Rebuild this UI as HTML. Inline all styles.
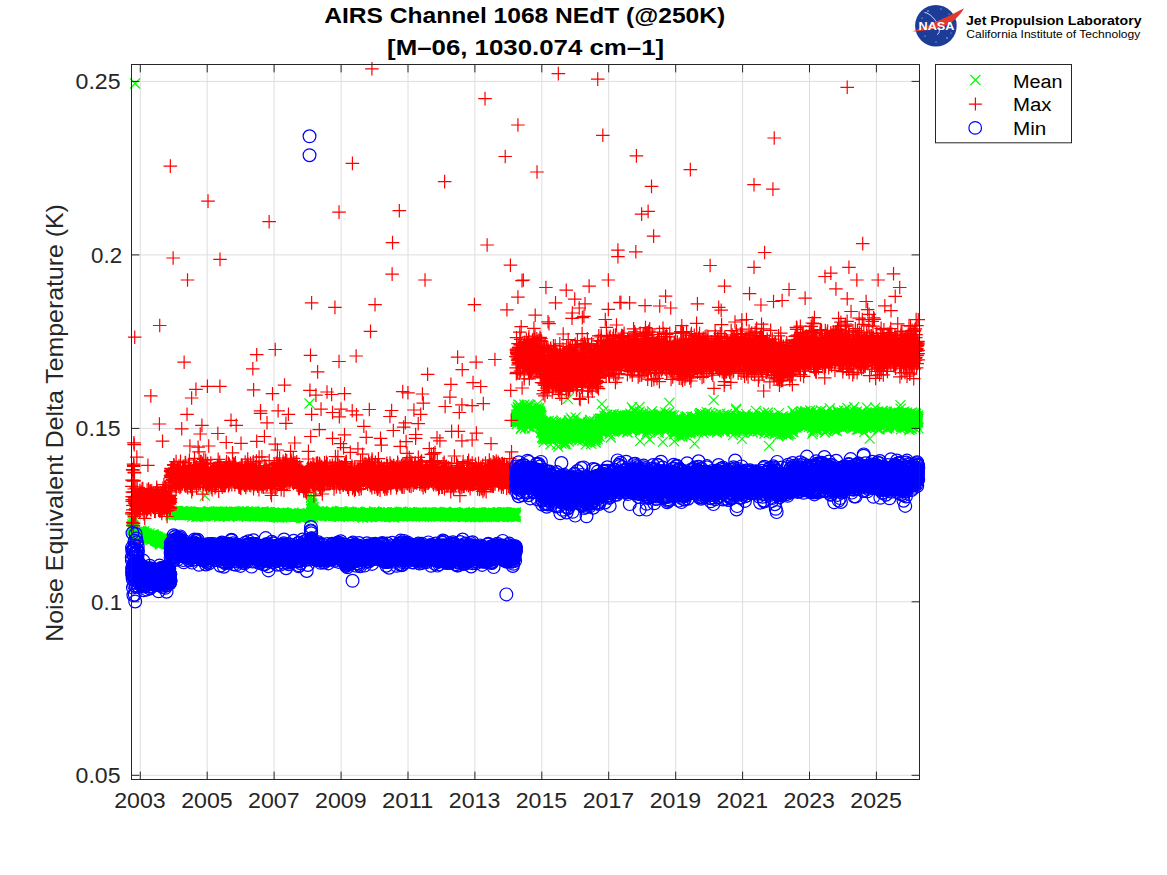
<!DOCTYPE html>
<html><head><meta charset="utf-8"><style>
html,body{margin:0;padding:0;background:#fff;}
body{width:1167px;height:875px;overflow:hidden;}
svg{display:block;font-family:"Liberation Sans",sans-serif;}
</style></head><body>
<svg width="1167" height="875" viewBox="0 0 1167 875">
<defs>
<marker id="mx" markerUnits="userSpaceOnUse" markerWidth="20" markerHeight="20" refX="10" refY="10" overflow="visible"><path d="M5 5L15 15M15 5L5 15" stroke="#00ff00" stroke-width="1.2" fill="none"/></marker>
<marker id="mp" markerUnits="userSpaceOnUse" markerWidth="20" markerHeight="20" refX="10" refY="10" overflow="visible"><path d="M3.2 10H16.8M10 3.2V16.8" stroke="#ff0000" stroke-width="1.2" fill="none"/></marker>
<marker id="mo" markerUnits="userSpaceOnUse" markerWidth="20" markerHeight="20" refX="10" refY="10" overflow="visible"><circle cx="10" cy="10" r="6.4" stroke="#0000ff" stroke-width="1.2" fill="none"/></marker>
</defs>
<rect width="1167" height="875" fill="#fff"/>
<path d="M140.3 64.5V779.5M207.2 64.5V779.5M274.1 64.5V779.5M341.1 64.5V779.5M408.0 64.5V779.5M474.9 64.5V779.5M541.8 64.5V779.5M608.7 64.5V779.5M675.7 64.5V779.5M742.6 64.5V779.5M809.5 64.5V779.5M876.4 64.5V779.5M131.5 775.3H919.5M131.5 601.8H919.5M131.5 428.4H919.5M131.5 254.9H919.5M131.5 81.4H919.5" stroke="#dedede" stroke-width="1" fill="none"/>
<path d="M131.8 529.1l.1-9.8 .1 19.2 .1-14.2 .1 2 .1 3.2 0-1.5 .1 9.2 .1-10.6 .1-7.5 .1 2.9 .1 16.7 .1-9.7 .1-9.3 .1 6.6 .1 2.9 .1-.7 .1 0 0-3.6 .1 7.9 .1 3.8 .1-3.1 .1 1.4 .1-1.2 .1 .4 .1-1.7 .1 2.6 .1-.3 .1 .3 .1-.6 0 1.2 .1-1.8 .1-.6 .1 .4 .1 .7 .1-2.5 .1 0 .1 3.5 .1-.3 .1-2.6 .1 1.5 .1-.4 0 .9 .1-1.6 .1 2.3 .1 .9 .1-2.6 .1 2 .1-.9 .1 .1 .1 .2 .1 2.9 .1-2.9 .1 .6 0-1.4 .1-1.8 .1 1.5 .1 1.5 .1-2.8 .1 1.9 .1-.3 .1-.1 .1-.3 .1 0 .1 1.3 .1-1 0 1.5 .1-1.3 .1-1.7 .1 2.4 .1 0 .1-.4 .1 1.1 .1-1.8 .1 1.5 .1-1.2 .1-.2 .1-2.4 0 3.6 .1-3.7 .1-.1 .1 2.4 .1-1.9 .1 .4 .1 0 .1 .1 .1 .8 .1 2.4 .1-2 .1 .8 0 1.4 .1-1.5 .1-.3 .1 3.6 .1-2.7 .1 .1 .1 2.3 .1-2.5 .1-1.9 .1 3.7 .1-1.7 .1 .1 0-4.1 .1 6.7 .1-.8 .1-3.2 .1-1.3 .1-.2 .1 .7 .1-.3 .1-.5 .1 3.2 .1-1.1 .1-1.5 0 .4 .1 .4 .1 1.4 .1-2 .1 0 .1 .7 .1 2.9 .1-3 .1-1 .1-.1 .1 1.1 .1 1.5 0 1.1 .1-.8 .1-2.4 .1 .8 .1-.5 .1 1.3 .1-1.1 .1 1.6 .1 0 .1-3.3 .1 2.5 .1 3.2 0-1.6 .1 .2 .1-1 .1-.2 .1 .4 .1-.3 .1 .4 .1 2.5 .1-3.4 .1 2.2 .1-1.4 0 1.1 .1-2.8 .1 2.9 .1 .5 .1 1 .1-1 .1-1.4 .1 .6 .1-1 .1 .8 .1 1.4 .1-.6 0-1.3 .1 1.2 .1 1.8 .1-4.6 .1 1.9 .1-.5 .1 2.3 .1-.5 .1-.5 .1 1.7 .1-.5 .1 .1 0-2.5 .1 3.4 .1-1.2 .1 2 .1-4 .1 1.6 .1 .6 .1 1.5 .1 .5 .1-.7 .1-1.4 .1 1.5 0-2.8 .1 2.7 .1-1.3 .1-1.5 .1 .9 .1 .8 .1 .2 .1-2.4 .1 1.1 .1-3.1 .1 3.3 .1 1.3 0-.5 .1-.3 .1-.5 .1-.5 .1 1.1 .1-1.3 .1 4.1 .1-2.1 .1-.1 .1-2.5 .1 2.1 .1-.6 0 .4 .1 .6 .1 .4 .1-1.8 .1 1 .1-1.9 .1 .4 .1-.1 .1 3.3 .1-1.8 .1 .6 .1 .6 0-1.5 .1-1.7 .1 3.5 .1-3.9 .1 2.5 .1-.4 .1-.9 .1 1.8 .1-1 .1 1.9 .1-.5 .1-2.2 0 .6 .1 .9 .1-1.1 .1 .5 .1-2.9 .1 2.4 .1 2.2 .1-1.5 .1-.4 .1-1.8 .1 3.7 .1-1.8 0 1.1 .1-2 .1 2.8 .1-.3 .1-.6 .1 1.8 .1-1 .1-1.1 .1-.8 .1 1 .1 2.2 .1 .3 0-.2 .1-3.7 .1 1.5 .1-.1 .1-.8 .1-.2 .1-.6 .1 4.4 .1-1.4 .1 1.4 .1-2.4 .1-1.6 0 2.6 .1 .1 .1-1.3 .1-.5 .1 1 .1 2.8 .1-2.4 .1-.5 .1 2.9 .1-2.5 .1-2.2 .1 1.6 0 .4 .1 1 .1-1 .1-1.2 .1 .4 .1 1.4 .1 1 .1 0 .1 1.1 .1 .6 .1-1.3 0 1 .1-3.2 .1 1.5 .1-.7 .1 1.6 .1-.5 .1 .3 .1-.8 .1 1 .1 1.1 .1-1.6 .1 2 0-1.7 .1 1.2 .1 1.8 .1 .8 .1-1.7 .1-.2 .1 0 .1-3.3 .1 2.4 .1-1.2 .1 1.5 .1 .1 0 .2 .1-1.5 .1 .7 .1-1.9 .1 1.7 .1 1.4 .1 .7 .1-2.4 .1-.3 .1 0 .1 1.8 .1-2.5 0 2.4 .1-2.1 .1-.9 .1 .7 .1-.1 .1 .7 .1 .7 .1 1.3 .1-1.9 .1-2.6 .1 3.3 .1-1.6 0 .4 .1 .5 .1-1.6 .1-.2 .1 2.8 .1-1.9 .1-.2 .1-.2 .1-.7 .1 3.1 .1-1.3 .1 .4 0-1.3 .1 .5 .1 1.4 .1 1.5 .1-2.2 .1 .3 .1 2.2 .1-.4 .1-2.5 .1 1 .1-1.1 .1-.9 0 2 .1 1.7 .1-.4 .1-2.7 .1-1.4 .1 2 .1-1.1 .1 .2 .1 3.7 .1-.4 .1-2 .1 .5 0 .4 .1 .1 .1-1.7 .1 1.9 .1-1.7 .1 3.7 .1-1.7 .1 1 .1-1.8 .1 .5 .1 1.4 .1-.9 0 .8 .1-1.9 .1-.1 .1-.9 .1 1.4 .1 .1 .1 .1 .1 1.8 .1-.2 .1-.1 .1 0 .1-1 0 1.4 .1-1.1 .1-1.8 .1-3.6 .1 1.8 .1 1.8 .1-.5 .1 1.2 .1 .2 .1 2 .1-3.4 .1 1.8 0-.9 .1 .4 .1 .1 .1 1.3 .1 .1 .1-2.4 .1 1.3 .1-2.5 .1 2.1 .1 2.3 .1-2.1 .1-27.7 0-2.3 .1 1.5 .1 1.7 .1-3.2 .1 .7 .1-.8 .1 1.3 .1 .5 .1-2 .1 1.8 .1-1.8 0 1.9 .1-3.2 .1 3 .1-.8 .1 1.3 .1-.7 .1-1.2 .1-.1 .1 1.7 .1-1.4 .1 1 .1-.7 0-.9 .1 1.5 .1 .4 .1-1.1 .1 .9 .1-1.9 .1 1.3 .1 .4 .1 .5 .1-1.4 .1 1 .1-.2 0-.2 .1-.1 .1-.1 .1-.6 .1 .8 .1 2 .1-3.3 .1 1.7 .1-.2 .1 .4 .1-1.1 .1 .4 0 .4 .1-.3 .1-.9 .1-1 .1 1.6 .1 1.2 .1-.7 .1 .2 .1 .5 .1-1.9 .1 .7 .1-2 0 .9 .1 2.4 .1-2.8 .1 2.9 .1-1.8 .1 1.1 .1-2.4 .1 1.2 .1 2.1 .1-1.7 .1-.4 .1 1.5 0-.9 .1 .7 .1 .5 .1-3.1 .1 3.8 .1-2.7 .1 1.6 .1 .2 .1-1.2 .1 0 .1-.5 .1 1.1 0-.4 .1 .2 .1 1.4 .1-1.6 .1 1.3 .1-1.6 .1 .8 .1-.7 .1 .3 .1 1.6 .1-2.1 .1 .8 0 .7 .1-1 .1 1.1 .1-1 .1 .4 .1 0 .1 .6 .1-.8 .1-.1 .1 1.8 .1-1.9 .1 .5 0-1.1 .1 .4 .1-.2 .1-.4 .1 .1 .1 .5 .1 .1 .1 1.7 .1-.2 .1-2.2 .1 .6 .1 .5 0 .4 .1 .3 .1-.8 .1-1.6 .1 3.2 .1-.5 .1-.1 .1-1.1 .1-2 .1 1.3 .1 .6 .1 .9 0 .7 .1-.1 .1-2.6 .1 1.7 .1-2.1 .1 .9 .1 1.5 .1-.7 .1-.2 .1-1.1 .1 .9 .1 .6 0-.9 .1 .7 .1 .3 .1-1.6 .1 .6 .1 1.4 .1 .9 .1-1.7 .1-1.3 .1 2 .1 .2 0 .3 .1-1.6 .1-.4 .1 1.4 .1-1.8 .1 .1 .1 .7 .1 1.3 .1 .2 .1-2 .1 .4 .1 .6 0-1.2 .1 .7 .1 .7 .1 1.4 .1-1 .1-1.4 .1 .9 .1-.2 .1-.1 .1 .1 .1-.1 .1 .6 0-2.1 .1 1.3 .1-1.8 .1 1.7 .1-.4 .1 1.2 .1-1.8 .1 1.6 .1-.8 .1 1.5 .1-1.5 .1 0 0 0 .1 1.8 .1-2.1 .1 0 .1 .1 .1 1.4 .1-.9 .1-1 .1 .7 .1 .6 .1-.1 .1 .6 0 .8 .1-1 .1 .6 .1-.8 .1-.3 .1-.1 .1 1.8 .1-1 .1-.8 .1 2.4 .1-2.5 .1 .7 0 .5 .1-.7 .1-1.8 .1 1.5 .1 1.7 .1-1.8 .1 2.2 .1-.5 .1-1 .1 .7 .1-.4 .1 .8 0-.2 .1-1.4 .1 .9 .1-1.5 .1-.1 .1 1.2 .1 .4 .1 .1 .1-.4 .1 3.2 .1-3.3 .1 1.2 0-2.2 .1 1.6 .1 .3 .1 .3 .1-1.6 .1 .8 .1-.3 .1 .1 .1-.1 .1 1.7 .1-2 .1 1.6 0-1.3 .1 1.7 .1-.9 .1-.8 .1 .5 .1 .6 .1 .5 .1-1.4 .1-.6 .1 .3 .1 .8 .1-.1 0-.7 .1 .7 .1 .4 .1-1.2 .1-.6 .1 1.2 .1 .7 .1-.6 .1 0 .1-.7 .1-.8 .1-.2 0 2 .1-.7 .1 .2 .1-.1 .1 1.3 .1-1.9 .1-.1 .1 3.7 .1-3 .1-.8 .1 1.7 .1-1.6 0 1.4 .1-.6 .1 1.9 .1-1.4 .1-1.8 .1 .5 .1 1.4 .1 .4 .1 .9 .1 .9 .1-2.9 0 .4 .1 1.1 .1-1 .1-1.6 .1 1.6 .1 .1 .1-.7 .1-2 .1 1.3 .1 1.9 .1-1.3 .1-.4 0-1.6 .1 2.2 .1-.1 .1 1.1 .1-.5 .1-2.2 .1 2.1 .1 1.9 .1-1.1 .1-2.1 .1-.5 .1 1.8 0-.5 .1-.4 .1 .6 .1 .7 .1-1 .1 0 .1-.5 .1 1.1 .1 0 .1 .7 .1-.5 .1-1.2 0-1 .1 1.4 .1 .4 .1 .8 .1 .5 .1-1.5 .1-.2 .1 1.5 .1-.6 .1-.5 .1 1.7 .1-1.3 0-2.3 .1 1.5 .1-.8 .1 1.9 .1-1.9 .1 .2 .1-.4 .1 2.4 .1-.7 .1-.7 .1-.3 .1 1.2 0 .1 .1-.7 .1-1.2 .1 1.3 .1-.9 .1 0 .1 2 .1 1.1 .1-.8 .1-2.2 .1-.5 .1 1.5 0 .5 .1-1.5 .1 1.2 .1-.5 .1-1 .1 1.3 .1-.7 .1 .5 .1 2.3 .1-1.7 .1 0 .1-.9 0-.5 .1 1.6 .1-.8 .1-.7 .1 1.7 .1-1.2 .1 1.2 .1-.3 .1-.9 .1-.6 .1 1.4 .1-1.6 0 1.9 .1-.1 .1-1.4 .1 .2 .1-.5 .1-.3 .1 1.2 .1-.1 .1-.5 .1 .4 .1 1 .1-1.2 0-.1 .1-1.4 .1 .9 .1 .2 .1-.2 .1 .2 .1-.6 .1 1.1 .1-1.2 .1 1.1 .1-2.2 .1 1.6 0 1.1 .1-.6 .1 0 .1 0 .1 .7 .1-2.4 .1 1.8 .1 .6 .1-2.8 .1 2.9 .1 .6 .1-.1 0-1.2 .1 0 .1-.1 .1-.4 .1 .1 .1 .9 .1 .2 .1-.2 .1 .3 .1-.5 .1-1 0 1.1 .1 .2 .1 .8 .1-2.4 .1 1.3 .1-.7 .1 .5 .1-.4 .1 .8 .1 .4 .1 .9 .1-.8 0-1.4 .1-.4 .1 .5 .1 .5 .1-1.2 .1 .2 .1 1.3 .1 .3 .1-.1 .1-1.1 .1 1.7 .1-1.4 0 .6 .1-.7 .1 .8 .1-1.2 .1 .2 .1-.7 .1 1.5 .1-.5 .1-1.3 .1 .6 .1 1.9 .1-1.2 0-1.6 .1 3.9 .1-3.9 .1 2.2 .1-.3 .1-1.4 .1 0 .1 1.3 .1 1.1 .1-2.7 .1 1.5 .1-.7 0 .9 .1 .3 .1-.3 .1-1.1 .1-.6 .1 .3 .1 .9 .1-1.1 .1-.9 .1 2.3 .1 1.4 .1-.5 0-.7 .1-.8 .1 .4 .1-1.6 .1 3.3 .1-1.9 .1 .5 .1-.4 .1 .4 .1-.7 .1-.1 .1 .6 0 .3 .1 .3 .1-.1 .1-1.8 .1-.3 .1 2.8 .1-1.6 .1-1 .1 1.6 .1 .5 .1 .2 .1-.4 0-1.4 .1 .2 .1 2.1 .1-1 .1 2.8 .1-3.4 .1 .3 .1 .2 .1 1.3 .1-.7 .1-.8 .1 1.9 0-1.4 .1-1.2 .1 3 .1-1.1 .1-1 .1-.1 .1-1.9 .1 1 .1-.5 .1 2.6 .1-.7 .1 .8 0-.7 .1-1.7 .1 1.7 .1 .1 .1-.3 .1 .9 .1-1.5 .1 .8 .1-2.9 .1 3.1 .1-1.2 .1 .9 0 1 .1-1 .1 .7 .1-1.6 .1-.1 .1 .8 .1-1.3 .1 .5 .1-.4 .1-.6 .1 1.6 .1 .2 0 .1 .1 .5 .1-1.7 .1-.6 .1 .3 .1 3.5 .1-2.2 .1 .4 .1-1 .1-.2 .1 .5 0-1.1 .1 1.8 .1-.7 .1 0 .1 .5 .1 1.7 .1-3.4 .1 2 .1-.5 .1 .7 .1 .5 .1-1.5 0 2.5 .1-4.5 .1 2.5 .1-.5 .1 .1 .1 .6 .1-1 .1 .3 .1-1.3 .1 1 .1 .5 .1 1.1 0-1.5 .1 0 .1 .5 .1 1 .1-1.4 .1 .4 .1 1 .1-3 .1 1.4 .1-1.2 .1 2.2 .1-1.5 0 1.3 .1-1.1 .1 .9 .1 .2 .1 .6 .1-.9 .1 .1 .1 .4 .1-.3 .1-.9 .1 2.6 .1-3.4 0 1.7 .1-.3 .1-.4 .1-.2 .1 1.3 .1-1.9 .1 3.8 .1-3.2 .1-.8 .1 .4 .1-.1 .1 .3 0 1.3 .1 0 .1-.2 .1 .3 .1-.6 .1-.2 .1-.1 .1 .5 .1 .2 .1 0 .1-1.2 .1 .8 0 1.2 .1-3.1 .1 1.3 .1 2 .1-3.5 .1 3.1 .1-1.8 .1 1.4 .1 1 .1-1.7 .1 1.8 .1-1.1 0-.8 .1-.7 .1 0 .1 1 .1 .1 .1-.8 .1 0 .1 2.2 .1-1.7 .1-1.2 .1 .1 .1 1.5 0-.3 .1-.5 .1 .7 .1-1.1 .1 0 .1 1.5 .1-1.5 .1 .5 .1 1 .1 .8 .1-1.2 .1-1 0 .2 .1-1.4 .1 1.4 .1 .9 .1-1.9 .1 .2 .1 2.5 .1-1.8 .1 0 .1 1.5 .1 .3 .1-1.7 0-.2 .1 .6 .1 1.3 .1-1.6 .1-1.2 .1 .1 .1 1.6 .1 .6 .1-1.1 .1 .8 .1-2.1 .1 1 0 1.1 .1-1.4 .1 2 .1-.3 .1-2.7 .1 2.7 .1-1.1 .1 .9 .1 1 .1-2.1 .1 .8 0-.5 .1 1.3 .1-.9 .1-.4 .1 .5 .1-.9 .1 .7 .1-1.5 .1 2.7 .1-.8 .1 1.7 .1-.5 0 1.7 .1-2 .1-.7 .1 .5 .1-2 .1 2.1 .1-1.5 .1 .8 .1-.8 .1-1.3 .1 1.3 .1-.5 0 1 .1 .4 .1-.7 .1-.7 .1 1.1 .1-.1 .1-.4 .1-1.1 .1 .1 .1-.2 .1 .7 .1 .6 0 .4 .1-1.1 .1-.1 .1 1 .1-.4 .1 .2 .1 1.7 .1-3.4 .1 .6 .1 1.4 .1 2 .1-2.4 0-1.3 .1 .9 .1-.3 .1 .7 .1-1.8 .1 1 .1 1.6 .1 .8 .1-3.1 .1 2.5 .1-1.9 .1 .6 0 .3 .1-.3 .1 1.7 .1-1.1 .1-.8 .1 .8 .1-2.4 .1 1.9 .1-.3 .1 1.2 .1-1 .1-.5 0 2 .1-3.1 .1 2.7 .1-1.1 .1 3 .1-2.1 .1-.7 .1-1.6 .1 .6 .1 1.9 .1-.1 .1-.2 0-.6 .1 0 .1 0 .1 .1 .1 1.2 .1-.7 .1-.4 .1-.1 .1 .7 .1-1.8 .1 .6 .1 1 0-1 .1 1.2 .1 .3 .1 .5 .1-.7 .1-1.1 .1 1 .1-.1 .1-.2 .1-.2 .1 1.3 .1-1.2 0 .5 .1 .8 .1-1.9 .1 1 .1-1.5 .1 1 .1-2.6 .1 2 .1 2.1 .1 .1 .1-1 .1-1.8 0 1.8 .1 .6 .1-2 .1-.2 .1 .6 .1-.7 .1 2.6 .1-1.8 .1 0 .1-.4 .1 .4 .1 .7 0 1.4 .1-1.6 .1 1.1 .1-.4 .1-1 .1 1.8 .1-1.6 .1 1.5 .1-1.8 .1 1.4 .1 .5 0 .2 .1 .2 .1-.9 .1-1.9 .1 1 .1 1.5 .1-1.6 .1 1.5 .1 .3 .1-1.1 .1-1.3 .1 0 0 .9 .1 .9 .1-3.5 .1 1.1 .1 .5 .1 0 .1 2.6 .1-.8 .1-1.4 .1 2.2 .1 .1 .1-2.4 0 2.1 .1-1.8 .1 .1 .1 1.3 .1-.8 .1-1.7 .1-.7 .1 3.8 .1-2.4 .1-.2 .1-1 .1 2.8 0 .6 .1-.7 .1 .4 .1-1 .1 .2 .1 1.9 .1-1.2 .1-2.6 .1 2.3 .1-1 .1-.1 .1-.7 0 2.7 .1-1.3 .1 0 .1 1.1 .1 .9 .1-3.3 .1 .3 .1 1.3 .1-.9 .1-.3 .1 1.6 .1-.5 0 .7 .1-1.8 .1-.2 .1 1.2 .1-.6 .1 1.5 .1-.2 .1-.3 .1-2 .1 1.4 .1 0 .1-1 0 2 .1 .4 .1-1.5 .1-.5 .1-.6 .1 .6 .1 1.2 .1 .5 .1-.5 .1-1.1 .1 .1 .1 .4 0 1.9 .1-2.1 .1-.8 .1 2 .1-.2 .1-.2 .1-1.6 .1 1.5 .1-.6 .1-1.3 .1-.8 .1 2.1 0-.8 .1 2.1 .1-1.3 .1 .5 .1-1.4 .1 .4 .1 1.7 .1-1.7 .1 1.3 .1-.2 .1-1.2 .1 1 0 1.9 .1-2.5 .1 .9 .1-.2 .1-.1 .1-.5 .1 .6 .1-1.1 .1 1.8 .1-1.7 .1-.9 .1 .3 0 1 .1-.7 .1 1.4 .1-1.1 .1-.9 .1 1.5 .1-1.6 .1 .4 .1 .9 .1 1.1 .1-.6 .1-.4 0-1 .1 1.1 .1 1.7 .1-2.1 .1-.2 .1-2.4 .1 4 .1-.1 .1-1.2 .1 .3 .1 1.1 0-.5 .1-1.4 .1 .9 .1-2.2 .1-.4 .1 1.9 .1 2 .1-2.9 .1 2.3 .1-1.1 .1 .4 .1-.1 0-1 .1 1.5 .1 1 .1-1.6 .1 1.6 .1-1.8 .1 .8 .1 1.5 .1-1.6 .1-1.4 .1 .6 .1-.1 0 .3 .1-.2 .1 1.7 .1-2.4 .1 1.1 .1 2 .1-2.4 .1-.6 .1 1.8 .1-.5 .1-.5 .1-1.6 0-.6 .1 4.2 .1-1 .1 .1 .1-1.2 .1 1.4 .1-.4 .1-2.5 .1 1.4 .1 1.8 .1-2.9 .1 .4 0 .8 .1 .3 .1-1.5 .1 1 .1 1.1 .1 .7 .1-2.7 .1 .6 .1 1.5 .1 0 .1-.1 .1-.1 0-2.7 .1 1.7 .1 .1 .1-.6 .1 1.7 .1-1.9 .1 1.9 .1 .3 .1-2.4 .1 .1 .1 2.3 .1 .2 0-1.8 .1 .5 .1-.1 .1-1.7 .1 1.4 .1 1.5 .1-1.1 .1 .7 .1 .3 .1 1 .1-.7 .1-1.9 0 .9 .1 1.6 .1-.9 .1-.6 .1 2.2 .1-1.9 .1-.5 .1 .9 .1-.2 .1 .5 .1-1.9 .1 .9 0-.5 .1-.8 .1 1.6 .1-.3 .1-.5 .1-1.1 .1 2.6 .1-1.6 .1 1.6 .1 .3 .1-2.4 .1 .8 0 .6 .1 .5 .1-.9 .1 2.4 .1-2 .1 0 .1-1 .1 1.7 .1-2 .1-.6 .1 2.3 .1 .4 0 .6 .1-1.7 .1-.3 .1 1.4 .1-1.6 .1 .6 .1 .7 .1-1.6 .1 .4 .1 2.6 .1-2 .1-1.3 0 .8 .1 .5 .1 2 .1-2.2 .1-.7 .1 2.1 .1-1.3 .1 .5 .1 1.2 .1-1.9 .1 .4 0 2.1 .1-1.7 .1-.2 .1 .2 .1 .2 .1 1.2 .1-.9 .1 1.2 .1-1.9 .1-.7 .1 2.5 .1-1.4 0-.6 .1-.4 .1 .7 .1-1 .1-.8 .1 3.3 .1-1.7 .1-.3 .1 2.6 .1-2.7 .1 .4 .1-.2 0 .4 .1 .6 .1-1.9 .1 1.5 .1-.1 .1 2.3 .1-5 .1 3.2 .1-.9 .1 .1 .1-1.5 .1 .7 0-.2 .1 1.5 .1-1.7 .1 1.9 .1-1.2 .1 0 .1-.5 .1 .8 .1 .1 .1 1.6 .1-.4 .1-1.6 0 1.1 .1-1 .1-1.3 .1 2.7 .1-.9 .1 .3 .1 .1 .1-.2 .1-1 .1 .5 .1-.7 .1 1.7 0 .3 .1-.1 .1 1.5 .1-2.3 .1 1.3 .1-.7 .1-1.4 .1 1.9 .1-.9 .1-2.5 .1 2.9 .1-1.6 0-.8 .1-.9 .1 1.8 .1 1.1 .1 .1 .1-.4 .1-.6 .1 0 .1 1.8 .1-.1 .1-.3 .1-1.7 0 .8 .1-.6 .1-.5 .1 1.7 .1-.1 .1-1.3 .1 1.2 .1 .5 .1-.6 .1-.3 .1-.4 .1 .5 0 1.8 .1-1.2 .1-1.9 .1 .7 .1 .7 .1 .4 .1-.8 .1 .6 .1-.6 .1-.8 .1 1.8 .1 .3 0-.2 .1-3 .1 2.1 .1 1.4 .1-1.1 .1 1.3 .1-.1 .1-1.4 .1-.8 .1 1.6 .1-.1 .1 .5 0-1.4 .1 .9 .1-1.4 .1 1.6 .1 .2 .1 .4 .1-.4 .1-1 .1 .4 .1-.1 .1-.5 .1 1.7 0-1.8 .1 1.1 .1-1.5 .1 .6 .1-.1 .1 1.7 .1-.6 .1-.5 .1-.2 .1-.5 .1-.4 0-.6 .1 1.8 .1-.5 .1-1.1 .1 .3 .1 .6 .1-.4 .1 .1 .1 .2 .1-1.9 .1 2.6 .1-.8 0-1 .1 1.5 .1 .1 .1-.8 .1 .6 .1 .9 .1-.5 .1-.9 .1 1.5 .1-.5 .1-1.5 .1 0 0 1.7 .1-1 .1 .8 .1 0 .1-1.4 .1 2.1 .1-1.4 .1-.9 .1 1.3 .1 .2 .1-.8 .1-.2 0 1.1 .1-2.1 .1 2.3 .1-1.8 .1 1.7 .1-3.2 .1 3.4 .1-1.7 .1-1.1 .1 2.8 .1-2.3 .1 1.1 0 .3 .1 .4 .1 .2 .1-.4 .1-.1 .1 .7 .1-.4 .1 .3 .1-1 .1 1.3 .1-.5 .1-1.4 0 .8 .1 .5 .1 .1 .1-.2 .1 1.6 .1-1.3 .1 .9 .1-1.6 .1 .5 .1-.7 .1-.2 .1 .9 0 .6 .1-.1 .1-.8 .1-.2 .1 .2 .1-1.3 .1 2.6 .1-.7 .1-.2 .1 .3 .1-.8 .1 .7 0-1.1 .1 .2 .1 .3 .1-1 .1 .3 .1 1.6 .1-1.2 .1 .4 .1 0 .1 .2 .1-.2 .1 1 0 .1 .1-1.5 .1-.1 .1 .5 .1-.4 .1 .5 .1 1.1 .1-.7 .1 .1 .1-.5 .1 .4 .1 .2 0-.3 .1-1.4 .1 2 .1 .9 .1-2.8 .1 1.4 .1 .2 .1 .4 .1-1.4 .1 .9 .1 1.1 .1-1.9 0 1.6 .1-1.9 .1 .4 .1 1.3 .1-.7 .1 1 .1 .3 .1-2.5 .1 .9 .1 1.8 .1 1.1 .1-2.9 0 1.2 .1-2.7 .1 3.2 .1-1 .1-.7 .1-1.2 .1 .6 .1 2.6 .1-.9 .1-1.2 .1-.5 0 2.9 .1-2.9 .1 2.8 .1-1.4 .1 .3 .1-.1 .1-1.3 .1 .4 .1 1.8 .1-1.1 .1-.6 .1-.3 0-.3 .1-.2 .1 1 .1 1.3 .1-.1 .1-.8 .1-.3 .1-1 .1 2.8 .1-2.4 .1 .6 .1-.9 0-.5 .1 1.3 .1 .7 .1-1.6 .1 2 .1-1.3 .1-.5 .1-.2 .1-.7 .1 1.9 .1 .1 .1 .3 0-.1 .1-1 .1-1.2 .1 .8 .1-1.2 .1 2.4 .1-2.2 .1 1.4 .1 .5 .1-.2 .1-.2 .1 0 0-.7 .1 1.3 .1 .2 .1-1 .1 0 .1-1.5 .1 .6 .1 1.8 .1 .1 .1-.5 .1 .8 .1 .5 0-1.6 .1-.7 .1-1.9 .1 2.8 .1-.9 .1 .9 .1 .2 .1-1.5 .1 1.1 .1 .3 .1 1.2 .1-1 0 .1 .1-1.2 .1 1.5 .1-1.3 .1-.1 .1 .9 .1-.5 .1 2.7 .1-2.2 .1-1.3 .1 .3 .1 1.3 0-1.1 .1-.7 .1 1.3 .1 .7 .1 .6 .1-22.8 .1 3 .1 6.1 .1-5.7 .1 5.6 .1 .5 .1-3.8 0 .9 .1 2.9 .1 .2 .1 .1 .1 1.1 .1 3.5 .1 .8 .1-4 .1 3.7 .1 .9 .1-1 .1-1.1 0 2.6 .1-1.3 .1 .6 .1 1.9 .1-2.3 .1 3.3 .1-2.2 .1 3.3 .1 3.6 .1-5.8 .1 3 .1 .3 0-7.8 .1 2.7 .1 2.7 .1-.6 .1 1.6 .1 1.5 .1-.6 .1-.1 .1-.8 .1-2.1 .1 3.2 .1-.4 0-3.5 .1 2.1 .1 1.7 .1-1.3 .1 .3 .1 0 .1-.2 .1-1.3 .1 1.4 .1 1.4 .1-2.9 0 .9 .1-.4 .1-.4 .1 1.1 .1 .2 .1 1.1 .1 0 .1-1.3 .1 .5 .1-2 .1 2.7 .1 .2 0 .2 .1-.3 .1-1.7 .1-.5 .1 2.7 .1-2.3 .1 2.2 .1-2.3 .1-1 .1 1.3 .1 1.9 .1-1.8 0-.9 .1 .8 .1-1.1 .1 1.1 .1 .4 .1 .7 .1 .3 .1 .7 .1-2.3 .1 .8 .1 1.5 .1-1.3 0-.4 .1-.3 .1 .6 .1 .3 .1-.4 .1 .4 .1 0 .1 1.1 .1-1.1 .1 0 .1 .2 .1-.2 0 0 .1 1.8 .1-1 .1-2.4 .1-.2 .1 1.4 .1-.6 .1 .6 .1-.7 .1 2.3 .1-2.7 .1 1.5 0 1 .1-.8 .1-1.4 .1 .8 .1 1.3 .1-1.6 .1 1.2 .1 .3 .1-.9 .1-1.2 .1 .6 .1 .9 0-.3 .1-1.3 .1 2.7 .1-2.4 .1 .3 .1 .9 .1 .1 .1-.8 .1 .7 .1-1.2 .1 1.3 .1 .5 0-.1 .1-.1 .1 .4 .1-1.6 .1 .4 .1-.3 .1 1.2 .1-1.5 .1 1.5 .1 1 .1-.2 .1-1.5 0 .9 .1-.5 .1 .4 .1-.8 .1-.4 .1 2.2 .1-1.4 .1-1.3 .1 1.6 .1-.5 .1 1.2 .1-.1 0-1.1 .1 .6 .1 .2 .1 .9 .1-.9 .1-1 .1-.8 .1 1.2 .1 .5 .1-.4 .1-1.2 .1 1.4 0-.5 .1 0 .1 .8 .1-2.1 .1 2.1 .1 .3 .1-.1 .1-1.4 .1 .3 .1-.8 .1 .4 .1-.5 0 .2 .1 1.3 .1-1.5 .1-1.7 .1 2.3 .1-.7 .1 .9 .1-.6 .1 .7 .1 1.8 .1-1.6 0-.5 .1 1.2 .1-1.1 .1 .4 .1-.2 .1 .4 .1 .8 .1-2.7 .1 3.3 .1-2.1 .1 3.1 .1-3.6 0 1.4 .1 1.2 .1-2 .1 .6 .1-1.1 .1 1.6 .1 0 .1-.2 .1-.8 .1 .4 .1 1.4 .1-1.3 0-3.4 .1 2.9 .1-.9 .1 1.5 .1 .5 .1-1.5 .1-.8 .1 1.5 .1 .8 .1-3 .1 2.8 .1-.7 0-1.8 .1 1.1 .1 .2 .1-.2 .1-.3 .1 1.1 .1-.5 .1 1.4 .1-2 .1 1.3 .1 .5 .1 .7 0-.1 .1-1.6 .1-1.4 .1 .7 .1 .2 .1-.1 .1 .7 .1 .5 .1 .5 .1-1.7 .1 .6 .1 1.1 0-2 .1 1.3 .1 1.2 .1-.4 .1 0 .1-1 .1 .1 .1 0 .1-.6 .1 1.6 .1-.2 .1-.2 0 .5 .1-.2 .1-.7 .1 .9 .1-.1 .1 .2 .1-.6 .1-.6 .1 1 .1-2.1 .1 1.4 .1 .7 0-.4 .1 1.6 .1-4.2 .1 3 .1-.2 .1 1 .1-1.8 .1 1.6 .1-1.1 .1-1.4 .1 1 .1-.1 0 1.1 .1-.5 .1-1 .1 1.8 .1-.4 .1 .5 .1-.8 .1 .2 .1-2.5 .1 3.7 .1-1.2 .1 .7 0-2.3 .1 .5 .1 .1 .1 .3 .1-1.8 .1 3.9 .1-.8 .1-.9 .1 .5 .1 1.6 .1-1.8 .1 .9 0-3.7 .1 1.7 .1 2.5 .1-2.7 .1 1.7 .1-2 .1-1.7 .1 2.3 .1-.5 .1 1.1 .1-1.8 .1-.4 0-.9 .1 1.1 .1 .6 .1-.2 .1 2.4 .1-2.3 .1 1.1 .1 1.1 .1-1.5 .1-.1 .1-2.2 0 2.3 .1 .8 .1-1.3 .1-.3 .1 .6 .1 .6 .1-.1 .1-.4 .1-1.3 .1 3.9 .1-4.6 .1 3 0-.8 .1-.2 .1 .6 .1 .5 .1-.4 .1 .1 .1-1.5 .1 1.7 .1-.8 .1-.7 .1 .6 .1 .6 0 0 .1 .4 .1-.3 .1 .8 .1-.2 .1-.5 .1-.4 .1 .4 .1-.4 .1-1.8 .1 .9 .1 .1 0 1.7 .1-1.9 .1 1.2 .1 .8 .1-2.5 .1 3.3 .1-2 .1 .6 .1 .9 .1 .6 .1-1.5 .1 .1 0-.8 .1-.9 .1 2 .1-1.9 .1 1.9 .1 .5 .1-1.8 .1 .2 .1 1.5 .1-.7 .1-.7 .1-1 0 2.5 .1-2.1 .1-1.1 .1 1.4 .1-.5 .1 1.6 .1 .1 .1 .7 .1-.8 .1 .2 .1-.2 .1-1.4 0 .5 .1-.7 .1 .7 .1 3 .1-3.8 .1 2.4 .1-.2 .1-2.1 .1 1.1 .1-.6 .1 .6 .1 .4 0-2 .1 .2 .1 1.4 .1 .2 .1 .8 .1-1 .1 .7 .1-2.1 .1 2.9 .1-1.7 .1 .1 .1-2.2 0 1.9 .1-.5 .1 1.1 .1-1.4 .1 .3 .1 .9 .1 1 .1-2 .1 1.3 .1-2.5 .1 3.4 .1 0 0-2 .1 1.2 .1-.3 .1 .5 .1 .7 .1-.4 .1-.1 .1-1.3 .1 2.5 .1-1.2 .1 1 .1-.6 0-.1 .1 .5 .1-2.3 .1 1 .1 1.2 .1-.7 .1-1.3 .1-1.2 .1 2.6 .1-.6 .1-.1 .1-1.6 0 1.2 .1 .8 .1-1 .1 2 .1-.5 .1-1.1 .1-.2 .1 1.1 .1-1.7 .1 .8 .1-1.2 0 .7 .1 .9 .1-1.4 .1 .9 .1 .3 .1-1.1 .1 1.9 .1-2.5 .1 .8 .1-1.3 .1 .5 .1 2.4 0-.9 .1 .2 .1-1.5 .1 .5 .1-.5 .1 1.3 .1 0 .1-1.4 .1 1.9 .1 .4 .1-2.5 .1 1.9 0-1.9 .1 1.5 .1-.4 .1-2.3 .1 .7 .1 1 .1-.4 .1 .2 .1 .2 .1 .6 .1 .4 .1 .9 0-.5 .1 .6 .1-1.3 .1 .1 .1 .4 .1-1.5 .1 1.8 .1-.4 .1-.1 .1-.3 .1 1.1 .1-.5 0-.6 .1 1.1 .1-2.9 .1 1.2 .1 1.7 .1-2.3 .1 1.4 .1-.5 .1 .2 .1 1 .1-.7 .1 1.5 0-2 .1 1.7 .1-.8 .1 .2 .1 .8 .1-1.8 .1 1.6 .1-.8 .1 .8 .1 .6 .1-.2 .1-1.8 0-.2 .1 .9 .1-.3 .1 .2 .1 .1 .1-.8 .1 3.4 .1-1.1 .1-2 .1 1.7 .1-1 .1 0 0-.9 .1 .1 .1 1.1 .1-1.7 .1 4.2 .1-2.8 .1 .8 .1-2.4 .1 .5 .1 1.2 .1-1.1 .1 1.1 0-1.4 .1 .3 .1 .4 .1 1.1 .1-.7 .1-1.2 .1 1.2 .1-.8 .1 0 .1 2.5 .1-1.6 .1 1.2 0 .2 .1-1.2 .1-.5 .1-.2 .1 .3 .1 1.3 .1-1.6 .1 1.1 .1-.4 .1-2.4 .1 2.8 .1-.7 0-.5 .1 1 .1-.2 .1-.9 .1-.3 .1-.9 .1 2.1 .1 1.1 .1-2 .1 .1 .1 1.4 .1-.5 0 2.5 .1-2.7 .1-1.4 .1-.1 .1 1 .1 .5 .1 0 .1-.8 .1 1.2 .1 .5 .1-.6 0 .7 .1-2.8 .1 3.4 .1-2 .1-1.9 .1 2.3 .1-1.3 .1 1.9 .1-2.1 .1 2.2 .1-.8 .1 .6 0 .9 .1 0 .1-1.4 .1 .4 .1-.3 .1-.6 .1-.1 .1 2.3 .1-3.4 .1 2.2 .1-.6 .1-1.8 0 1.7 .1 2 .1-2.9 .1 1.6 .1-1.4 .1 1.6 .1-.6 .1-.5 .1 .4 .1-.5 .1 .3 .1 2.3 0-1.6 .1-2 .1 1.6 .1-.3 .1-.8 .1-.8 .1 2 .1-.6 .1 1.4 .1-1.7 .1-.6 .1-.1 0 1.1 .1-1.1 .1 .8 .1 .3 .1 .8 .1 .8 .1-1 .1-1.2 .1 1.5 .1-2.2 .1 .9 .1 .2 0 .4 .1-.8 .1-1.4 .1 1.1 .1 .6 .1-2.8 .1 3.8 .1-.5 .1-1.3 .1 2.1 .1-1.8 .1 .9 0-2.7 .1 2.3 .1-.3 .1 .4 .1-.7 .1 1.7 .1-1 .1 .8 .1-1 .1 1.8 .1-3.5 .1 2.1 0 .8 .1-2.7 .1 2.5 .1-1 .1 .9 .1-2.1 .1 1.4 .1-.2 .1 1.9 .1 .5 .1-1.7 .1-1.2 0-.1 .1-.9 .1 .4 .1 1.8 .1-.5 .1-.2 .1 .2 .1 .7 .1 .3 .1-.8 .1 .2 .1 .5 0-.3 .1-1.5 .1 .4 .1 .6 .1 1.4 .1-.8 .1-.6 .1-.5 .1 1.7 .1 .1 .1-.8 .1-.6 0-1.8 .1 2.6 .1 .2 .1-2.2 .1 1 .1 .4 .1-.5 .1-1.5 .1 3.3 .1-2.8 .1 .8 .1 .6 0 2 .1-1.5 .1 1.6 .1-.4 .1-.1 .1-.9 .1 .3 .1-.4 .1-.3 .1-.3 .1-.9 0 2.6 .1-.8 .1-.2 .1-.2 .1-.6 .1-.2 .1 .6 .1-.3 .1 2 .1-2.6 .1 1.1 .1-1.1 0 .6 .1 1.5 .1-1.5 .1-.1 .1-1.7 .1 1 .1 1.5 .1-.5 .1 .3 .1-.6 .1 .2 .1 1 0-.1 .1-1 .1-.2 .1-.7 .1-1.2 .1 1.8 .1 .2 .1 1.5 .1-.9 .1-1.8 .1 1.3 .1-.7 0-.6 .1 .7 .1 .5 .1-.1 .1 .3 .1-1.1 .1 1.9 .1-.8 .1-.6 .1-1.2 .1-.2 .1 1.6 0-.4 .1 .5 .1 .5 .1-.5 .1 .9 .1-2.5 .1 .4 .1 .4 .1 2.8 .1-1.4 .1-1.2 .1 1.1 0 0 .1-1.4 .1 1 .1 1 .1-.2 .1 1.2 .1-1.9 .1 .5 .1 .3 .1-.2 .1-.4 .1-.3 0 .8 .1-.6 .1-.4 .1 1 .1-1.4 .1 .2 .1-.2 .1 1 .1-.6 .1-1 .1 .3 .1 3.5 0-2.2 .1 .3 .1 1.4 .1-1.6 .1 0 .1 .7 .1-.8 .1 .9 .1-1.5 .1 1.8 .1 .7 .1-2.6 0 1 .1 .1 .1 1.1 .1-1.5 .1 .2 .1 .7 .1 .2 .1-1.6 .1 1.7 .1-.9 .1 .9 .1-1.9 0 1.3 .1-.4 .1 .7 .1-1 .1 1.8 .1-.8 .1-.6 .1-.5 .1 .4 .1-1 .1 1.2 .1-2.6 0 3.8 .1-1.7 .1 .6 .1-.2 .1 2.1 .1-1.2 .1-.7 .1-1.3 .1 .2 .1 0 .1-.2 .1 .6 0 .1 .1 .2 .1 .4 .1-2.2 .1 1.5 .1 .2 .1 0 .1 2 .1-2.1 .1-.1 .1 3 0-2.2 .1 0 .1-.3 .1-.7 .1-.9 .1-.5 .1 2.8 .1-.5 .1-2.8 .1 2.9 .1-1.6 .1-1.1 0 2.2 .1 1 .1-.9 .1-1.4 .1 .4 .1-1.5 .1 .9 .1 1.3 .1-1.3 .1 2 .1-1.4 .1-1.1 0 1.5 .1-.8 .1 .3 .1 .6 .1-.1 .1-.3 .1-.5 .1 .4 .1 1.1 .1-.3 .1-.6 .1-.7 0 .9 .1-.8 .1 1.6 .1-1.5 .1 2.4 .1-.9 .1-1 .1 1.2 .1-1 .1-1 .1-.5 .1 1.3 0-.4 .1-.3 .1 1.1 .1-.2 .1-1.5 .1 .4 .1 1.3 .1-.7 .1 .8 .1-2.3 .1 3.2 .1-1.6 0 1.9 .1-1.6 .1 .9 .1-2.1 .1 1.6 .1-.9 .1-.5 .1-1.2 .1 1.7 .1 .8 .1 .6 .1-2.8 0 2.2 .1-2 .1-.8 .1 1.9 .1-.7 .1 1.7 .1 1.3 .1-2.6 .1 .9 .1 .5 .1 .5 .1 .5 0-1 .1-.6 .1 1 .1 .1 .1-1.4 .1 .3 .1-.5 .1 1 .1-1.5 .1 1.4 .1-1.1 .1-1.5 0 1.9 .1 1.4 .1-.7 .1 .4 .1 .9 .1-.8 .1-1.5 .1 1 .1-.2 .1-.9 .1 0 .1 1.6 0 .3 .1-.8 .1 1.1 .1-2.5 .1 .6 .1-.4 .1 1.9 .1-.9 .1-.7 .1 .8 .1-.4 .1 0 0 .7 .1 1 .1-1.9 .1-1.4 .1 2.3 .1-1.1 .1 1.5 .1-.6 .1-.1 .1 .1 .1-.4 .1 1.5 0-1 .1 .8 .1-2.3 .1 .4 .1 1.7 .1-1.1 .1 .5 .1-.3 .1-1.1 .1 .1 .1 .8 0 .4 .1-.7 .1 .9 .1 .8 .1-1.1 .1-.8 .1 2.8 .1-.7 .1-1.5 .1-.8 .1 .9 .1 .5 0-1.1 .1 2.4 .1-3.4 .1 1.7 .1 .3 .1-.1 .1-1.4 .1 1.3 .1-2.2 .1 2.7 .1-1.1 .1-2.1 0 2 .1-.2 .1 .7 .1-1.8 .1 2.8 .1-1.2 .1-.5 .1 2.2 .1-1.7 .1 .1 .1-.4 .1-1 0 1.9 .1-1.2 .1 1 .1 .1 .1 .5 .1-1.6 .1 2.1 .1-1.3 .1 1.3 .1-2.3 .1 3.2 .1-2 0 1.2 .1-1.3 .1-.1 .1-1 .1 3.1 .1-.7 .1-1.6 .1 .4 .1-.3 .1 1 .1-.9 .1 .2 0-.4 .1-.1 .1-.2 .1 1.3 .1 .2 .1-.3 .1 .1 .1-.7 .1-.3 .1 2.1 .1-3.3 .1 2 0-.2 .1 0 .1-.8 .1 1.1 .1-.1 .1-.9 .1 .7 .1 .6 .1-2.2 .1 2.1 .1-1.1 .1-.2 0 1.2 .1 .7 .1-1.4 .1 1.2 .1-.6 .1-.6 .1 .8 .1 .2 .1-1.8 .1 .7 .1-.5 .1 1.6 0-1 .1-1 .1 1 .1 .4 .1 .6 .1-.5 .1-.4 .1 1.4 .1-1.4 .1 .1 .1-.3 .1 .5 0-1.8 .1 .4 .1 2.6 .1-2.5 .1 .2 .1 .9 .1-1 .1 .7 .1 .4 .1 0 .1-.6 .1-.1 0-.2 .1 1.9 .1-2.8 .1 2.4 .1-.4 .1-.4 .1-.8 .1 1 .1-1.7 .1 1.3 .1 .1 .1-1.1 0 .4 .1-.2 .1 1.8 .1-1.4 .1 .2 .1 .3 .1-1.2 .1 1.4 .1-1 .1-.9 .1 2.5 0-.6 .1-1.2 .1-.9 .1 3 .1-.9 .1-.5 .1-.2 .1-1.7 .1 1.9 .1 .2 .1 .7 .1-.9 0 1.5 .1-.4 .1-.3 .1 .2 .1-1.5 .1 .5 .1 1.1 .1-.4 .1-.6 .1-.4 .1 .5 .1-1.3 0 2.2 .1 .1 .1-1.2 .1-.3 .1 2.1 .1-.3 .1-.3 .1-1.2 .1-1.5 .1 1.9 .1 .9 .1 0 0-.7 .1 1.2 .1 1.3 .1-2.6 .1-.4 .1-1.3 .1 2.4 .1 0 .1 .2 .1-2.6 .1 1.3 .1-.2 0 .7 .1-.3 .1-1.4 .1-.2 .1 2.4 .1-1.3 .1 0 .1 0 .1-.5 .1 2.1 .1 .3 .1-1.7 0 .3 .1-.5 .1 1.6 .1-2.2 .1 .7 .1 .7 .1-.8 .1-.8 .1 1.7 .1-.7 .1 .9 .1-.6 0-1.6 .1 3.6 .1-3.4 .1 .4 .1 .2 .1-.3 .1 1.6 .1-2 .1 1.3 .1-.6 .1 .7 .1 0 0-1.6 .1 .2 .1 1.6 .1 .5 .1-.3 .1 .7 .1-.9 .1 .4 .1-.2 .1-.2 .1-1.3 .1 2.5 0-.7 .1-1.4 .1 2.2 .1 .2 .1-1.6 .1-.1 .1 2.6 .1-1.8 .1 .3 .1-.5 .1-.4 .1-.5 0-1.3 .1 .3 .1 0 .1 1.9 .1-.8 .1-.9 .1 .9 .1 .9 .1-1.6 .1 .9 .1-.3 .1-.4 0 1.5 .1-.5 .1 .8 .1-1.2 .1 .5 .1-.2 .1 1.2 .1-.5 .1-.8 .1 1.7 .1-2.4 .1 1 0 .9 .1-.7 .1 .6 .1-2.2 .1 .7 .1-1.1 .1 1.8 .1 .4 .1-.8 .1 0 .1 1.4 0 .5 .1-2.4 .1 .3 .1-.7 .1 .3 .1 .6 .1-.6 .1-.2 .1 .7 .1 0 .1-1 .1 2.3 0-.2 .1-1.8 .1 1.3 .1 .4 .1-2.3 .1 .1 .1 1.7 .1 .9 .1-.5 .1-.5 .1-.6 .1 2.7 0-1.9 .1-1.2 .1 2.7 .1-2.5 .1 .8 .1 .5 .1 0 .1 0 .1-1.4 .1 1.6 .1-2.7 .1 1.2 0 .9 .1-.6 .1 1.5 .1-2.2 .1 1.8 .1-1.2 .1-1.1 .1 1.6 .1 .1 .1-.4 .1-.1 .1 .4 0-.9 .1 .7 .1 .9 .1 .4 .1-2.7 .1 3.2 .1-1.5 .1-1.8 .1 1.1 .1-1.7 .1 2.2 .1-1.9 0 2.3 .1-.3 .1 .8 .1 .8 .1-2.6 .1 .3 .1 1.6 .1-.9 .1-.6 .1-1.1 .1 0 .1 2.2 0 .2 .1 1 .1-2.7 .1 .2 .1 .2 .1 .6 .1-.9 .1 .4 .1-.1 .1-1.2 .1 2.4 .1-1.7 0 2.5 .1-2.5 .1 .4 .1 .2 .1-.3 .1 1.3 .1 .2 .1-.8 .1-.9 .1 1.1 .1-.4 .1-.3 0 1.9 .1-1.3 .1 .4 .1-2 .1 .9 .1-.3 .1 1.5 .1-.9 .1 0 .1 .2 .1 .3 .1 .1 0-1.6 .1 2.1 .1-.8 .1-.4 .1 .1 .1 .7 .1 .2 .1-1 .1 .2 .1-.9 .1 1.7 .1-1.1 0-.7 .1-.7 .1 .3 .1 .4 .1 1.5 .1-2.2 .1 1.3 .1-1.8 .1 2.9 .1-.6 .1-2.3 .1 1.1 0 1.5 .1-.2 .1 .1 .1 .5 .1-1.1 .1-.4 .1-1.1 .1 1.9 .1-.1 .1-.6 .1 1.2 0-1.2 .1-.9 .1 2.2 .1-1.5 .1 .3 .1 1.1 .1-.6 .1 2.1 .1-1.2 .1-1.3 .1 1.1 .1-.2 0-.3 .1-.1 .1 .5 .1-1.5 .1 1.1 .1 1.2 .1-.8 .1 .3 .1-.4 .1-.9 .1-.3 .1 .7 0 .6 .1-1.4 .1 .3 .1 .3 .1 0 .1 .9 .1 .4 .1-1.4 .1 1.8 .1 .9 .1-.5 .1-1.4 0-.6 .1-1 .1 1.3 .1-.6 .1 1.4 .1 1.2 .1-2.7 .1 1.5 .1-.9 .1-.7 .1 .7 .1-1.1 0 2.5 .1 .5 .1-2.3 .1 .1 .1 .4 .1-1.3 .1 1.4 .1-.1 .1 .6 .1 .2 .1-.8 .1-.1 0-.4 .1 .4 .1-.3 .1 1.4 .1 .7 .1 .3 .1-.7 .1-.9 .1 .6 .1 .1 .1-.3 .1-2.5 0 1.5 .1-.3 .1 .7 .1 1.3 .1-1.4 .1 0 .1-.7 .1 .8 .1 .5 .1 .2 .1-1.3 .1 1.5 0 1.4 .1-3.4 .1 3 .1-1.1 .1 .2 .1-1.2 .1-1.9 .1 2.2 .1 1.3 .1-1.3 .1 .7 .1 1.1 0-.6 .1-.7 .1-2 .1 .7 .1 .7 .1-1.2 .1 2 .1-1.4 .1 1.6 .1-.7 .1-.5 .1 .1 0 .7 .1-.4 .1 .4 .1-.4 .1 .1 .1-.6 .1 1.8 .1-2.7 .1 1.4 .1-.3 .1-.8 .1 1.8 0-.7 .1-1.3 .1-.1 .1 1.1 .1 .1 .1-.5 .1-.2 .1-.1 .1 2.3 .1-1.1 .1 .5 .1-.5 0 .6 .1 .2 .1-1.1 .1 1.1 .1-.3 .1-1.4 .1 .1 .1 .8 .1 .8 .1-.7 .1 .4 0-1.7 .1 1.1 .1-.7 .1 1.3 .1-.9 .1-.6 .1 1.9 .1-1.6 .1 .2 .1 .1 .1 0 .1 .5 0-1.7 .1 1.4 .1-.1 .1-.3 .1 .4 .1 1.3 .1-.9 .1-1.3 .1-.1 .1 .1 .1-.8 .1 1.3 0-1.4 .1 1.9 .1-1.9 .1 3.2 .1-.7 .1 .5 .1-.8 .1 0 .1 1.6 .1-3.8 .1 1.9 .1-1.7 0 2.7 .1 .4 .1-1.9 .1-1.1 .1 1.8 .1-1.8 .1 .1 .1 2.2 .1-2 .1 1.9 .1-.2 .1-1.2 0-.5 .1 .2 .1 1.5 .1-1.5 .1-1.8 .1 2.4 .1 .7 .1-2 .1 2.3 .1-1.2 .1 .8 .1-.1 0 1.7 .1-3.3 .1 .5 .1 .5 .1 .4 .1-.6 .1 .9 .1-.9 .1 1 .1-1.4 .1-.3 .1 1.8 0-1.4 .1 .6 .1-.3 .1 .9 .1-.4 .1-.1 .1-1 .1 1 .1-.5 .1 0 .1 2.1 .1-.6 0 0 .1 .6 .1 .1 .1-1.2 .1 .3 .1-.5 .1 .4 .1-.9 .1 1.8 .1-.1 .1-1.8 .1 1.3 0 0 .1 .8 .1-.7 .1 .2 .1 .1 .1-1.5 .1-.3 .1 1.6 .1-1.9 .1 1.8 .1-.3 .1-.7 0-.1 .1 2.9 .1-3.1 .1 0 .1 .2 .1-1.2 .1 2.7 .1-.1 .1-2.1 .1-.4 .1 3 .1-2.4 0 1.1 .1-1.8 .1 1 .1 .7 .1-.8 .1 .7 .1 1.1 .1-1.4 .1-.6 .1 .7 .1 .1 .1 1.9 0-1 .1-.6 .1-1.8 .1 1.8 .1 .7 .1-.8 .1-.3 .1-.2 .1 1.1 .1-2.3 .1 1.2 .1-.9 0 .5 .1 2.2 .1-.5 .1-2.4 .1 0 .1 1.8 .1-1 .1-.2 .1-.4 .1 1.5 .1-1.8 0 1.1 .1 1.1 .1-.8 .1 .2 .1-.3 .1-.9 .1-.1 .1 1.8 .1-1.5 .1 .7 .1 1.1 .1 .3 0-1.3 .1 .2 .1 2.1 .1-1.8 .1 2 .1-2.7 .1-.5 .1-.5 .1 .9 .1 1.9 .1-.3 .1-.5 0-2 .1 .5 .1 1.9 .1-1.6 .1 2.1 .1-3.9 .1 1.7 .1-.1 .1-1 .1 .9 .1 .3 .1-.2 0 .2 .1-.8 .1 1.1 .1-1.9 .1 2.3 .1-.4 .1-.8 .1-.5 .1 0 .1 1.9 .1-.6 .1-1.9 0 .3 .1 .7 .1 1.7 .1-2 .1-.9 .1 2.2 .1-1.4 .1 .3 .1 .9 .1-.8 .1 .8 .1 .8 0-2.4 .1 3.3 .1-1.4 .1-1 .1 1.7 .1-2.1 .1 .7 .1 .7 .1 2 .1-3.1 .1 1.2 .1-.3 0-.6 .1-1.1 .1 3.1 .1 0 .1-.3 .1 .1 .1-1.4 .1-1.4 .1 1.2 .1 .9 .1 .5 .1-.4 0-1.6 .1 1.9 .1-1.3 .1-.8 .1 2 .1 .1 .1-1.1 .1-.3 .1 .6 .1-.3 .1 1 .1-.7 0-.1 .1-.1 .1-.7 .1 1.2 .1 1.5 .1 .5 .1-2.5 .1 .6 .1 1.1 .1-1.3 .1 1.3 .1-2.7 0 0 .1-.9 .1 2 .1-.4 .1 1.6 .1-.5 .1-.5 .1-1.2 .1 1.5 .1-.9 .1 0 .1-.2 0 2.5 .1 .1 .1-1.6 .1-.1 .1 .1 .1-1.5 .1 2.7 .1-2.1 .1 1.3 .1-.3 .1-.6 .1 .3 0 .6 .1-1.8 .1 .7 .1-.1 .1-.3 .1 .1 .1 3.3 .1-2.4 .1-.2 .1 1.4 .1 0 0-1.6 .1 .4 .1-.5 .1 1.1 .1-2.1 .1 1 .1-.1 .1 1.7 .1-1.5 .1-.1 .1 .8 .1 .7 0-.3 .1-1.1 .1 .2 .1 1 .1-1.1 .1 .4 .1-.7 .1-2 .1 4.3 .1-3.2 .1 1.2 .1 1.5 0-3.1 .1 1.6 .1-.6 .1 1.6 .1-3.5 .1 2.8 .1-.3 .1-.4 .1 1 .1-.5 .1 1.1 .1-1.5 0 1.8 .1-2.5 .1 .9 .1 1.2 .1-2 .1 1.8 .1-1.8 .1 .3 .1 1.5 .1-1.4 .1 1 .1-1.1 0 2.6 .1-1.2 .1 1.3 .1-2.6 .1 1.3 .1 .8 .1-1.9 .1 1.7 .1-1.6 .1 .2 .1 .5 .1-.2 0 .4 .1-.6 .1 .4 .1 .5 .1-2.5 .1 2.2 .1-1.1 .1 0 .1 1.4 .1-.3 .1-1.6 .1 .6 0 1.4 .1-1.2 .1 .7 .1-.5 .1-.2 .1 .1 .1-1.6 .1 2.6 .1-1 .1 .8 .1-.9 .1 1.3 0-1.9 .1 1.6 .1-1.4 .1 .8 .1-1.4 .1 2.9 .1-1.8 .1-1 .1 2.1 .1-1.5 .1 1.3 .1-.9 0 .7 .1-.8 .1-.5 .1 .4 .1-.8 .1-.6 .1 .8 .1-.3 .1 .6 .1-1.3 .1 3.1 .1-2 0-.2 .1 .1 .1 1 .1-.2 .1-.8 .1 1.2 .1 .6 .1-1.2 .1-.8 .1 0 .1 3 .1-2 0-1.7 .1 1.3 .1-.3 .1 1.1 .1 .5 .1-2 .1 2.5 .1-.9 .1-2 .1-.8 .1 1 .1 .7 0 .5 .1-.3 .1-1 .1 1.4 .1 .5 .1-.3 .1 1.8 .1-3.7 .1 1.4 .1 1.4 .1-1 0-1 .1-.2 .1 1.9 .1-.3 .1-1.4 .1 2.2 .1-1.8 .1-1.2 .1 1.5 .1-.6 .1 1.5 .1 .5 0-.5 .1-1.2 .1 .6 .1 1.1 .1 .3 .1-1.6 .1-.6 .1 1.3 .1-.9 .1 2.1 .1-2.1 .1 1 0-1.1 .1-2.3 .1 5.3 .1-4.1 .1 2.4 .1-3 .1 1.7 .1-.3 .1 1.3 .1-2.2 .1 1.7 .1-.9 0-1.5 .1 4.5 .1-2.4 .1 .1 .1-.9 .1 .1 .1-.9 .1 2 .1 .1 .1-2.2 .1 1.3 .1-.6 0 1.5 .1-.2 .1 .1 .1-2.5 .1 3.2 .1-.6 .1-1 .1 .8 .1-1.9 .1 .7 .1-1 .1 .7 0 .9 .1-1.2 .1 2.8 .1-2.4 .1 1.6 .1-1.6 .1 .4 .1 .6 .1 .4 .1 .5 .1 .2 .1-.1 0 .4 .1 0 .1 .2 .1-1 .1-.6 .1-.9 .1 0 .1 .2 .1-.1 .1 1.9 .1-1.3 .1 1.5 0-1.9 .1 .5 .1 2.2 .1-3.4 .1 3.5 .1-2.1 .1 .4 .1 .1 .1 .2 .1-.5 .1-.5 .1-.9 0 .5 .1 2.8 .1-1.8 .1 .2 .1-.4 .1-1.9 .1 1 .1 .3 .1 1.3 .1-1.6 .1 2.7 .1-.4 0-2.1 .1 .6 .1 .9 .1-.1 .1 .4 .1-1 .1 1 .1-.7 .1-.4 .1-.6 .1-.3 .1 1.5 0 .1 .1-1.7 .1 2.4 .1 0 .1-.4 .1-1.7 .1 1.9 .1 .1 .1-1.8 .1 .8 .1 1.2 .1-1.8 0-.7 .1 1.1 .1 1.6 .1-.3 .1 .8 .1-2.1 .1-.4 .1 .2 .1 .2 .1-1.1 .1 .1 0 2.1 .1-2.3 .1 1.6 .1 .5 .1-2.8 .1 .4 .1 3.5 .1-.5 .1-.7 .1-.2 .1-1.4 .1-.2 0-.4 .1 0 .1 1.7 .1 1 .1-.3 .1-2 .1 1.2 .1 .2 .1 .4 .1-2 .1 1 .1 .6 0 .2 .1 2.2 .1-1.7 .1-3.2 .1 3.1 .1-101 .1 2.5 .1-7.9 .1 12.4 .1-.5 .1-4.6 .1 7.6 0-2.3 .1-2.4 .1-2.9 .1-5.5 .1 9.5 .1-6.2 .1 4.2 .1-1.1 .1-.7 .1 4.8 .1-4.1 .1 .7 0-11.2 .1 10.6 .1-.5 .1 3.2 .1-15.6 .1 3.8 .1 7.5 .1-3.8 .1 7 .1-1.3 .1 2.2 .1-4.1 0-6 .1 9.4 .1-7.9 .1 5.5 .1 1 .1-13.1 .1 9.9 .1 .7 .1-4.8 .1 11 .1-8.1 .1-1.2 0-.2 .1 10.1 .1-9.6 .1-2.6 .1 4.8 .1-4.3 .1 6.6 .1 3.5 .1-3.7 .1 12.1 .1-20.7 .1 11.7 0-6.7 .1 6.5 .1-1.9 .1 9.8 .1-7.1 .1-1.8 .1-6.7 .1 12.1 .1-1.9 .1-2.7 .1 1.3 .1-1.6 0 .2 .1-.3 .1-6.6 .1 2.7 .1-1.1 .1 10.1 .1-.7 .1-10.5 .1 8.4 .1-2.4 .1 1.5 .1-8.1 0 3.7 .1-3.9 .1 3.6 .1 .7 .1 2.7 .1-2.6 .1 3.4 .1-2.9 .1 2.8 .1-5.6 .1 1.9 .1-3.3 0-8.3 .1 10.1 .1 3.4 .1 10.1 .1-8.2 .1-10.3 .1 5.2 .1 3.5 .1-8.7 .1 5.4 .1 1.2 .1-2.3 0-1.6 .1 .6 .1-1.1 .1 8.3 .1-8.4 .1 4.3 .1-.7 .1-4.2 .1 4.3 .1 1.2 .1-3.3 0-6.4 .1 13.6 .1-5.9 .1-2.3 .1 1.4 .1 3 .1-1.4 .1 5.5 .1-12.3 .1-3.6 .1 15.6 .1-7.1 0-4.7 .1 6 .1 8.2 .1-16.4 .1 13.9 .1 2.5 .1 1.9 .1-7.9 .1 1.1 .1 8.1 .1-5 .1-6.3 0-.2 .1 12.1 .1-9.3 .1 .9 .1-7.9 .1 7.6 .1-6.2 .1-.7 .1 2.3 .1 6.4 .1-9.4 .1 9.2 0-14.6 .1 9.5 .1 1.1 .1 .4 .1-.4 .1-10.7 .1 17.6 .1-6.5 .1 2.9 .1 4.8 .1-3.4 .1 1.1 0-8 .1-2.9 .1-1.3 .1 10 .1-7.2 .1 10.4 .1-7 .1-.8 .1 .2 .1 2.9 .1 3 .1-11.1 0 3.4 .1 10.6 .1 4.7 .1-6.1 .1 1.1 .1-9.2 .1 3.3 .1 5.5 .1-8.1 .1-2.4 .1 10 .1-10.6 0 1.8 .1-5 .1 3.4 .1 2.1 .1 3.8 .1 4.4 .1-10.5 .1 12.5 .1-10.4 .1 9.8 .1-4.4 .1 2.7 0-3.8 .1-.9 .1 .5 .1-1.2 .1 7.1 .1-4.8 .1 5.2 .1-14.9 .1 16.3 .1-9.8 .1 2.9 .1 6.4 0-12.9 .1 6.6 .1-6.6 .1 3.8 .1 1.5 .1 4.3 .1-6.8 .1-2 .1 1.1 .1-4.3 .1 2.4 .1 7.9 0-2.4 .1-1 .1 7.1 .1-7.8 .1-4.7 .1 9.2 .1-5.4 .1-2.6 .1 6.6 .1-11.5 .1 13.4 .1-9.1 0 2.2 .1-10 .1 9.3 .1-1.1 .1-.4 .1 2 .1 8 .1-10.1 .1 .7 .1-1.1 .1-.7 .1 6.8 0-3.6 .1 .1 .1-4.6 .1 13 .1-8.4 .1 .7 .1 6.3 .1-6.5 .1 2.3 .1-8.9 .1 9.7 0 .6 .1-4.3 .1-.9 .1 7.9 .1-9.5 .1 3.7 .1 .8 .1-3.7 .1 9.2 .1-8 .1 6.1 .1 4.7 0-1.6 .1 4.7 .1-1.5 .1 6.6 .1-12.7 .1-4.8 .1 6.7 .1 .5 .1-3.8 .1-2.4 .1 12.8 .1-5.9 0 .2 .1-2.3 .1 7.9 .1 8.8 .1-15.5 .1 7.8 .1-.8 .1 3.5 .1-1.5 .1-6.3 .1 5.6 .1-.9 0 1.9 .1-9.6 .1 7.5 .1 .9 .1 8.3 .1-12.2 .1 7.6 .1-2.1 .1 7.7 .1 2.7 .1-6 .1-8 0-1 .1 .5 .1 7.7 .1-4.8 .1-5.4 .1 8.1 .1 3 .1-6.5 .1 4.4 .1-1.6 .1 2.1 .1-.3 0 3.2 .1-10.7 .1 1.6 .1 7.7 .1-3.9 .1 6.5 .1-4.2 .1 2.5 .1-6.2 .1-7.8 .1 6.1 .1 4 0-11.9 .1 11.9 .1 2 .1-13.2 .1 8.1 .1-.3 .1 1.9 .1 7.4 .1-12.2 .1 6.4 .1-2.8 .1 8.7 0-9.6 .1-4.5 .1-.8 .1 .4 .1 9.5 .1-.7 .1-6.4 .1 8 .1-4.7 .1 3.8 .1-8 .1 3.4 0-3.2 .1 4.2 .1-5.1 .1 6.6 .1-11.2 .1 14.8 .1-5.5 .1-4.3 .1 4 .1 2.4 .1 6.7 .1-5.3 0-1 .1 1.5 .1-4.3 .1-2.8 .1 5.9 .1-7.4 .1 7.6 .1-4.7 .1 11.3 .1-10.3 .1 14.9 .1-10.3 0-3.7 .1-7.7 .1 13.8 .1-5.2 .1 2.4 .1 5.9 .1-9.6 .1 6.2 .1-10.6 .1 9.5 .1-6.7 .1 2.6 0-9.5 .1 3 .1 3.7 .1 1.8 .1 2.6 .1-6.3 .1-.2 .1 9.5 .1-.1 .1-3.8 .1-2.7 0 2.7 .1 4.9 .1-10.3 .1 12.5 .1-10.3 .1 2.4 .1-.4 .1 4.2 .1-.1 .1-.4 .1-7.6 .1 1.4 0 9.4 .1-6.2 .1 2.2 .1 .4 .1 1.4 .1-6.3 .1 8.2 .1-9.3 .1 3.4 .1 .8 .1 6.1 .1-4.2 0-7.8 .1 4.6 .1-2.7 .1 4.6 .1 1.3 .1-.3 .1 4.4 .1-7.5 .1 5.3 .1 .2 .1-1.4 .1-8.9 0 1.7 .1 5.4 .1-10.2 .1 7.7 .1 1.6 .1-.1 .1 3.1 .1-1.1 .1 1 .1 10.1 .1-9.9 .1-3.1 0-.1 .1-3.7 .1 4.1 .1 .3 .1-2 .1 3.2 .1-4 .1 .9 .1 4.8 .1-2.7 .1 6.1 .1-10.6 0 9.5 .1 9.3 .1-13.3 .1 1.7 .1-9.2 .1 1.6 .1 2.5 .1 7.5 .1 1.5 .1-11 .1 5.3 .1-2.1 0 2.5 .1-3.1 .1 7.3 .1-4.1 .1 2 .1-5.4 .1-.8 .1-2.9 .1 9.1 .1-10.7 .1 2.8 .1-2.1 0 4.1 .1-7.4 .1 13.9 .1-8.4 .1 .2 .1 8.7 .1-8 .1 3.4 .1 3.9 .1-4.1 .1-9.8 .1-2.1 0 23.2 .1-8.2 .1-8.7 .1 3.3 .1 2.5 .1 6.4 .1-5.1 .1-3.6 .1-5.2 .1 3 .1 3.3 .1-1.9 0-3.1 .1 2.8 .1 7 .1-5.5 .1-1.7 .1 6.8 .1-.2 .1 .1 .1-6.2 .1 3.5 .1 8.3 .1-5.1 0-6.6 .1 4.4 .1 3.7 .1-5.2 .1-7 .1 13.4 .1-.7 .1-.6 .1-2.3 .1 8.8 .1-13.2 .1 2.5 0 3.1 .1-.7 .1-8 .1 3 .1 11.2 .1-9.6 .1-1.8 .1-3.5 .1 7.8 .1-8.5 .1 11.3 0-9.2 .1 9.9 .1 5.5 .1-15.9 .1 6.2 .1-1 .1 2.8 .1 2.1 .1-9.8 .1 3.1 .1 .8 .1 3.3 0-11.6 .1 5.4 .1-1.7 .1 9 .1-8.7 .1 6.9 .1-3.8 .1-3.7 .1 2.6 .1 4.2 .1-35.1 .1 36.4 0-2.7 .1 1.6 .1 2.5 .1-3 .1 3.7 .1-8.5 .1 3.2 .1-2.1 .1 11.7 .1-21.2 .1 11.6 .1-.9 0 6.7 .1-9.4 .1 8.8 .1-7 .1 4.1 .1-7.3 .1-2 .1 8.9 .1-4.3 .1-.1 .1 5.7 .1-13.2 0 9.3 .1-2 .1-2.7 .1 10.7 .1-3.3 .1-5.5 .1-4.2 .1-6.6 .1 17.6 .1 1.9 .1-6.3 .1-4.1 0 3.3 .1 .8 .1 6.1 .1-11.6 .1 1.4 .1 8.4 .1-8.5 .1-1.3 .1 1.8 .1 7.2 .1-4.7 .1 3.9 0-13.6 .1 9.4 .1-4.9 .1 8.7 .1-9.6 .1 10 .1-7.5 .1 1.1 .1 5 .1-7.4 .1 9.6 .1-3.2 0-.2 .1 5.5 .1-6.3 .1-4 .1 1.7 .1-1.9 .1 7.1 .1-8.8 .1 4.9 .1-4.7 .1 1.5 .1 7.9 0-3.8 .1-3.3 .1 6.8 .1 .7 .1-8 .1 3.7 .1-2.6 .1 5.5 .1-3.5 .1-5.1 .1 10.6 .1-5.2 0-12.4 .1 11.7 .1-2 .1 7.3 .1 .8 .1 4.3 .1-10.6 .1-.6 .1 6 .1-5.9 .1 6.9 .1-2.2 0-.5 .1-4.4 .1 9.2 .1 .9 .1-4.6 .1 .4 .1-9.9 .1 3.6 .1 2.8 .1 4 .1 .9 .1-1.5 0-5.3 .1 12 .1-7.3 .1 4.8 .1-.8 .1-11 .1-1.2 .1 8.2 .1-2 .1-.1 .1 5 0-5.3 .1 5.5 .1-11.1 .1-2.3 .1 10.5 .1 .9 .1-.4 .1-4.3 .1-4.8 .1 3 .1 11.3 .1 .1 0-10.5 .1-5.1 .1 5.6 .1-4 .1 1.3 .1 5.2 .1-9.8 .1 7.2 .1 1.1 .1 6.2 .1-2 .1-2.7 0 .4 .1 0 .1 .4 .1-10.9 .1 3.6 .1 3.2 .1 .8 .1 4.3 .1-3.4 .1-9.7 .1 8.7 .1-1.4 0 4 .1-7.6 .1 16 .1-5.3 .1-10.4 .1 10.6 .1-4.8 .1 1.2 .1-4.8 .1 4.5 .1 6.7 .1-6.1 0-1 .1 1.2 .1 1.1 .1-4.1 .1 .2 .1-.6 .1 4.8 .1-7.2 .1 7.5 .1-3.8 .1 5 .1 .1 0-2.8 .1-2.3 .1-3 .1 3.5 .1-3.7 .1 3.4 .1-2.6 .1 6.6 .1-5.8 .1 5.9 .1-3.4 .1 4.2 0-11.6 .1 11.7 .1 9.5 .1-12.7 .1-4.1 .1 8.4 .1-6.5 .1 1.8 .1 1.8 .1 2.9 .1-4.4 .1 0 0 0 .1 2.9 .1-3 .1-2.7 .1 3.1 .1 2.7 .1-6.9 .1 3.2 .1 1.8 .1-5.1 .1-2.9 .1 10.2 0-.6 .1 1.3 .1-.3 .1-6.2 .1 6.2 .1 5.1 .1-6.6 .1-4.7 .1-1.1 .1-4 .1-2.5 .1 8.1 0-2.6 .1-.7 .1 .7 .1 .5 .1 2 .1-.1 .1 5.3 .1-3.4 .1 7.3 .1-13.9 .1-2.8 .1 13.6 0-9.2 .1 6.5 .1 7.9 .1-21 .1 11 .1-5.1 .1-1.7 .1 3.9 .1 8.4 .1-8.8 .1 2.4 .1-1.2 0 .5 .1 2.7 .1-2.2 .1 14 .1-12.3 .1 1.8 .1 7.9 .1-13.5 .1 2.3 .1 8.9 .1-5.7 0-.5 .1-10.6 .1 6.9 .1 .9 .1 5.9 .1-6.3 .1 4.3 .1-9.6 .1 11.6 .1-13.5 .1 8 .1 2.4 0 1.6 .1-.2 .1-1.9 .1-6.7 .1 4.8 .1-1.6 .1 4.2 .1 7.6 .1-4.8 .1 2 .1-6.3 .1-1.7 0 8 .1-6.5 .1-9.9 .1 11.1 .1-1.1 .1-2.2 .1-.3 .1-1 .1 10.8 .1-1.5 .1-.3 .1-3.4 0 8.5 .1-2.7 .1-3.1 .1 1.9 .1 2 .1 2.6 .1-7.5 .1-6.3 .1-3.9 .1 8 .1-3.7 .1-1.9 0-1.8 .1 11.9 .1-11.7 .1 8.2 .1-3.9 .1 4.2 .1-2.7 .1 .6 .1-6.5 .1 6.7 .1 .8 .1 1.9 0 1.9 .1-3 .1 .9 .1 4.2 .1-4 .1-.6 .1-8.3 .1 3.7 .1 3.1 .1-5.1 .1-8.5 .1 9.5 0 1.9 .1-.2 .1 .1 .1-.3 .1-2.2 .1-.3 .1 1.2 .1-4.2 .1-.4 .1 6.7 .1-8.9 .1 7.2 0-3.8 .1 10.9 .1-12.3 .1 4.8 .1-7 .1 8.9 .1-12 .1-.3 .1 3.4 .1 .8 .1 4.4 .1-2.3 0-6.3 .1 .5 .1 4 .1-.9 .1-1.8 .1 3.6 .1 1.3 .1-3.9 .1 1 .1 10 .1-12 .1-16.4 0 19.9 .1 6.8 .1-11.3 .1 6.2 .1 2.3 .1-7.4 .1 11.2 .1-13.2 .1 .3 .1 8.6 .1-6 .1 .2 0 1.1 .1 0 .1 5.6 .1 2.6 .1-2.1 .1-18 .1 12.4 .1 7.2 .1-1.5 .1-2.1 .1-2.8 .1-2.8 0-.4 .1 3.3 .1 .6 .1 1.6 .1-10.6 .1 6.5 .1-3.7 .1 4.6 .1-2.5 .1 5.8 .1-4 0 6.7 .1 .8 .1-9.6 .1 2.3 .1-2.9 .1 6.8 .1-1.7 .1-4.1 .1 2.1 .1-.7 .1 1 .1 3.6 0-2.1 .1 .8 .1-9.5 .1 14 .1-11 .1 7.9 .1-4.4 .1-1.6 .1-.8 .1 9.1 .1-8.4 .1 3.1 0-9.1 .1 7.6 .1-7.7 .1 13.5 .1-2.3 .1 1.4 .1-9.4 .1 2.1 .1-1.1 .1 3.4 .1 1.2 .1 4.1 0 .8 .1-3.4 .1-1.6 .1 4.3 .1-4.5 .1-.5 .1-.6 .1-4.1 .1 7.4 .1-3.8 .1-.4 .1 3.2 0-1.3 .1-2.5 .1 3.7 .1 9.7 .1-11.7 .1-.3 .1 .7 .1-.1 .1 2.5 .1 1.4 .1 3.3 .1 .1 0 1.4 .1-3.9 .1-.3 .1 10.4 .1-17.7 .1 9.4 .1-1.3 .1-9.5 .1-4.1 .1 11.2 .1-6.3 .1 5.4 0-.1 .1-1.2 .1-3.6 .1-.8 .1 10 .1-7.8 .1-1.1 .1 8.8 .1-5.6 .1 3.6 .1-7.3 .1-1.5 0 2.1 .1 5.1 .1 5.9 .1 0 .1-4.8 .1-7.1 .1 7.5 .1-4.4 .1-.1 .1 2 .1-10.1 .1 11.3 0 3.2 .1-3.7 .1 2.7 .1 1.3 .1-10.3 .1 .6 .1 11.3 .1-2.8 .1-2.3 .1-3.5 .1-1.3 .1 3.5 0-4.4 .1 3.7 .1-4.1 .1 1.2 .1-.3 .1 5.2 .1 3.3 .1-9.5 .1 1.2 .1 8.3 .1-5.4 .1 2.4 0 1.5 .1-10.4 .1 11.3 .1-6.9 .1 .5 .1 .6 .1-.8 .1-2.1 .1-.1 .1 7.1 .1-1.5 .1-5.6 0 2 .1-.3 .1-1.1 .1 3.5 .1 3.6 .1-6.8 .1 1.9 .1 .3 .1 3.2 .1 .4 .1-4.6 0 2.2 .1-6.2 .1 6.8 .1-8.7 .1 10 .1-10 .1 1.6 .1 4.3 .1-4.2 .1 6.8 .1 3.5 .1-4.9 0 6.5 .1-10.9 .1 6 .1-1.7 .1-.6 .1 3.3 .1-2.8 .1-.8 .1-4.9 .1 .3 .1 6.5 .1 2.7 0-.9 .1-4.9 .1 10.7 .1-8.7 .1-1.7 .1 3.8 .1-5.3 .1 6.8 .1-5.5 .1 2.4 .1-1.3 .1 2.5 0-4.9 .1 3.5 .1 2.3 .1-3.7 .1-6.3 .1 10.4 .1-5.7 .1 7.3 .1-6.2 .1 5 .1-9.9 .1 3.1 0 5.6 .1 2 .1-7.1 .1 1.1 .1 5.5 .1 .5 .1 4.9 .1-14.6 .1 8.3 .1 2.7 .1-8.9 .1 0 0 6.5 .1 4.2 .1-5.2 .1-3.3 .1 7.2 .1-7.6 .1 4 .1-8.4 .1 5.5 .1 2.4 .1 1.1 .1-9.4 0 2.4 .1 2.1 .1 5.7 .1-7.6 .1 1.3 .1 2.1 .1-6.6 .1 7.3 .1 1.8 .1-8.4 .1 11.9 .1-4.2 0-4.6 .1 5.2 .1 1.1 .1 3.3 .1 0 .1-6.2 .1 1.3 .1-5.2 .1 1.8 .1 1.1 .1-1.8 .1 6 0 3.3 .1-4.5 .1-1 .1 8.4 .1-7.1 .1-1.6 .1 9 .1-12 .1 4.7 .1-2.8 .1 4.5 .1-4.9 0 4.4 .1 .3 .1 .2 .1-3.7 .1 1 .1-8.2 .1 7.3 .1 2.5 .1-6.7 .1-3.5 .1 9.9 .1-4.7 0-.4 .1-.8 .1 2.8 .1-.8 .1-1.3 .1-.9 .1 8.2 .1 .2 .1-6.6 .1-.6 .1 7.5 .1-6.1 0-1.3 .1 .4 .1-7.3 .1 14.4 .1-12.5 .1 5.3 .1-.3 .1 5.4 .1-2.4 .1-4.4 .1 10.8 0-8.3 .1 0 .1-1.1 .1 2.5 .1 3.2 .1-11 .1 4.1 .1-11.8 .1 23.6 .1-2.2 .1-7.7 .1 2 0-1.3 .1-1.9 .1 .7 .1 2.9 .1-.5 .1-3.1 .1 6.6 .1-6.7 .1-.2 .1 7.1 .1-5.6 .1 4.4 0 1.1 .1-3.1 .1-6 .1 .9 .1 2 .1-3.4 .1 5.5 .1-12.1 .1 11.4 .1 4.4 .1 3.6 .1-5 0 2.3 .1-2.5 .1-1.6 .1-11.2 .1 5.2 .1 8.2 .1-4.8 .1 1.7 .1-.1 .1-3.5 .1 6.2 .1-2.3 0-2.5 .1-2.7 .1 7.3 .1-3 .1 4.1 .1-4.2 .1 2.5 .1-8 .1 .2 .1 6.6 .1 3.9 .1-6.4 0 6.5 .1-5.7 .1 2.1 .1 0 .1-5.2 .1-.5 .1 4.4 .1-2.7 .1-4.6 .1 7 .1 1 .1-4.4 0 2.5 .1 .1 .1-.3 .1-7.6 .1 9.8 .1 3.4 .1-3.7 .1-2.1 .1 1.7 .1 2.8 .1-1.9 .1-.2 0-2.1 .1 0 .1 4.3 .1-4.3 .1 0 .1 4.8 .1-1.6 .1-17 .1 4.9 .1 4.6 .1 6.2 .1-3.1 0 6.5 .1 15.2 .1-11.4 .1-11.4 .1 3.6 .1 9.1 .1-15.4 .1 8.2 .1-8.9 .1 8.4 .1 1.4 .1-1.3 0-1.7 .1-4.8 .1 7 .1 4.5 .1-6.4 .1 2.2 .1-2.8 .1-.9 .1 1.4 .1-4.8 .1 7 .1 2.8 0-4.6 .1 .8 .1-2.6 .1 2.2 .1 3.5 .1-4.5 .1-3.7 .1 5.8 .1 1.2 .1-3.2 .1 2.3 .1 .5 0-11.2 .1 10.9 .1 4.9 .1 .9 .1-5.4 .1-4.5 .1 1.8 .1 .3 .1 1.6 .1 2.7 .1-8.3 0 5.5 .1 .9 .1 .4 .1-6.6 .1-2.8 .1 10.9 .1-6.2 .1 7.1 .1-3.5 .1-2.7 .1 3.4 .1-9 0 4.7 .1 1.3 .1-2.1 .1-2.8 .1 11.1 .1-3.9 .1-3.4 .1-2.6 .1 6.1 .1 10 .1-10.8 .1-.1 0 5 .1-4 .1 2.2 .1-4.1 .1 3.5 .1 5.7 .1-11.4 .1 5.9 .1-6.5 .1 1.3 .1 6.5 .1-4.3 0-7.4 .1 4.5 .1 .6 .1 1.7 .1 3.5 .1-1.1 .1-3.2 .1-1.9 .1 5.3 .1-8 .1 5.8 .1 .7 0-1.2 .1 7.8 .1-9.3 .1 4.3 .1-3.7 .1 1.4 .1 .4 .1-1 .1 4.8 .1 12.3 .1-11.3 .1-9.7 0-5 .1 9.2 .1 2.8 .1-4.3 .1 7.8 .1-11.8 .1 4.7 .1-1.2 .1 .9 .1-4 .1 7.1 .1-2.1 0-5.4 .1 2.4 .1 1 .1 1.4 .1-5.5 .1 7 .1-2.3 .1-1.9 .1 9.7 .1-8.4 .1 8.1 .1-1.3 0-15.8 .1 12 .1-3 .1 1.4 .1 2 .1 3.6 .1-11.7 .1 12 .1-2.7 .1-6.2 .1 10.6 .1-5.3 0-3.5 .1 2.9 .1-2.6 .1-.6 .1 2.2 .1 2.4 .1-4.1 .1 5.4 .1-3.8 .1-3.3 .1 10.2 .1-11.9 0 5.2 .1-.8 .1-3.7 .1 .9 .1 1.3 .1-3.7 .1 4.3 .1 2.5 .1-4.4 .1 6 .1 1.1 .1-4.7 0-2.9 .1 6.3 .1-3.1 .1-1.5 .1 4 .1 .3 .1 3.3 .1-2.5 .1-7.1 .1 8.5 .1-1.2 .1-3.4 0-3.5 .1 6.1 .1-.9 .1-1.9 .1-1.2 .1-3.2 .1 11 .1-1.5 .1-5.1 .1-.4 .1 3.5 0-7 .1 4.8 .1 6 .1-10.5 .1-.8 .1 2.2 .1 5.9 .1-10.5 .1 6.8 .1 2.1 .1-1.3 .1-.4 0 .2 .1 10.2 .1-2.2 .1-16.2 .1 6.7 .1-5.9 .1 3.7 .1 .6 .1 8.8 .1-9.6 .1-1.4 .1 7.8 0-5.6 .1 3.8 .1-.5 .1-7.8 .1 2.2 .1-3.5 .1 12.4 .1-6.3 .1 2.3 .1-3.1 .1 3.3 .1-.3 0 1.5 .1 .1 .1-2.2 .1-5 .1 4.8 .1 5.9 .1-6.4 .1 1.4 .1-5.3 .1 3.7 .1-1.6 .1-2.9 0 6.6 .1-7.7 .1 11.1 .1-10 .1 6.5 .1-2.7 .1 6.8 .1-7.4 .1-1.5 .1 4.2 .1 20.1 .1-15.1 0-3.4 .1-.2 .1 1.1 .1-5.7 .1 7.9 .1-4.1 .1 .7 .1-3.2 .1 4.2 .1-5.7 .1 3.6 .1-2.9 0 2.9 .1 6.5 .1-11.6 .1 7.7 .1-6.1 .1 5.9 .1-3.9 .1 .3 .1-5.4 .1 8.7 .1 .8 .1-2.5 0-3.4 .1 3.2 .1-9.9 .1 19.5 .1-7.7 .1-3.7 .1 .9 .1 0 .1 1.4 .1 4.2 .1-1 .1-2.3 0 1.6 .1-2.3 .1 2.7 .1-4.2 .1-2.8 .1 9.8 .1-6.1 .1-5.8 .1 6.8 .1 2.5 .1-.6 .1-11.6 0 8.2 .1 0 .1 2.3 .1-4.8 .1 2.2 .1 1.5 .1-1.5 .1 .4 .1 5.1 .1-8.3 .1 3.4 .1-4.6 0 10.8 .1-12 .1 5.8 .1-9.1 .1 13.6 .1 .6 .1-4.4 .1 2.5 .1-3.5 .1-4.4 .1-14.5 .1 17.9 0-2.9 .1 5.1 .1-1.8 .1-5.2 .1 8.8 .1-4.8 .1-1.1 .1-1.7 .1 5.7 .1 .3 .1-3.8 0 1.9 .1-1.1 .1 .2 .1 1.1 .1 2 .1-3.8 .1 3 .1 2.9 .1 1.1 .1-1.4 .1-1.1 .1-3.5 0-5.5 .1 6.3 .1 2.4 .1 1.2 .1 0 .1-3.1 .1 6.8 .1-2.4 .1-.3 .1-5.2 .1 7.6 .1-5.5 0 .6 .1 .1 .1 2.8 .1 .6 .1-4 .1 .4 .1 5.4 .1 2.5 .1-4.3 .1-1.6 .1-2.5 .1-.3 0 .5 .1 11.1 .1-8.8 .1-9.8 .1 7.2 .1 18.5 .1-10.3 .1-7.3 .1 6.8 .1-6.3 .1 2.4 .1 3.7 0-6.9 .1 10.2 .1-1.6 .1-.8 .1-4.8 .1 .6 .1 1.1 .1-.8 .1-7.6 .1 4.3 .1 3 .1 4.1 0-.7 .1 .5 .1-4.4 .1-2.2 .1 .2 .1 3.8 .1 2.3 .1-2.5 .1-1.3 .1-3.4 .1 7.6 .1-9.9 0 4.2 .1 .8 .1 2.1 .1-6.9 .1 3.7 .1-4.7 .1 4.9 .1-7.7 .1 13.5 .1-1.7 .1 0 .1 1 0-.2 .1 .6 .1 .4 .1-2.3 .1-4.9 .1-1.2 .1 11.4 .1-4.9 .1-.3 .1-5.4 .1 .3 .1 3.9 0 .6 .1-.2 .1-1.2 .1 4.6 .1-8.7 .1 6 .1-7.5 .1 15.1 .1-6.4 .1 .8 .1-5.3 .1-8 0 11.9 .1-4.6 .1 3.2 .1-5.1 .1-2 .1 10 .1-7.4 .1 4.3 .1-3 .1 2.3 .1 4.2 .1-2.5 0-.5 .1-3.7 .1 4.1 .1 1.7 .1-1.9 .1-3.1 .1-5.4 .1 4 .1-1.2 .1 13.6 .1-9.9 .1-1.9 0 9.6 .1-2.8 .1-2.3 .1-2.4 .1 3 .1-2.6 .1 .9 .1-6.1 .1 3.2 .1-3.1 .1 3.4 0-.4 .1 4.1 .1-7 .1 8.3 .1 2 .1-8.9 .1 8.7 .1-6.7 .1-3.4 .1-2.3 .1 3.7 .1-4.6 0 3.8 .1 4.6 .1 .8 .1-8.1 .1 4 .1 11.1 .1-11.5 .1-6.6 .1 3.6 .1 4.7 .1-1.4 .1-.7 0-.6 .1 6.4 .1-4.2 .1-1.6 .1 .8 .1-1.2 .1 2.5 .1 3.1 .1-6.1 .1 9.5 .1-15.5 .1 8 0-3.1 .1-4.5 .1 16 .1-4.6 .1-7.9 .1 .2 .1 6.9 .1 2.1 .1-8.6 .1 7.2 .1-3 .1-3 0 5.7 .1-3.4 .1 3.5 .1-.7 .1-1.7 .1 2.5 .1-4.7 .1 3.3 .1-1.6 .1 1.8 .1-1.2 .1-2.4 0 .1 .1 .7 .1 2.5 .1 .6 .1-1.3 .1-4.3 .1 2.3 .1 3.7 .1-4.8 .1-.4 .1 11.2 .1-7.6 0-1.2 .1 6.6 .1-5.8 .1 6.7 .1-2.2 .1 .3 .1-8 .1 4.5 .1-6.7 .1 4.3 .1 7.7 .1-7.9 0-7.1 .1 9 .1 3.6 .1-7.7 .1 5.9 .1-7.1 .1 5.1 .1-5.9 .1 3.5 .1 1.2 .1 4.5 .1-12.5 0 6 .1 1.3 .1-3.5 .1 .7 .1-2.2 .1 7.5 .1-5.7 .1 7 .1-1.8 .1-3.5 .1 7 .1-6.7 0-3.3 .1-1.9 .1 6 .1 .9 .1 2.3 .1 1 .1-6.2 .1 1.9 .1 8.2 .1-7.4 .1-5.1 .1-1.4 0 25.8 .1-18.2 .1-1.8 .1 3.3 .1 1.4 .1-5.7 .1 2.3 .1 1.9 .1 .7 .1-6 .1 3.2 .1 2 0-3.3 .1-4.4 .1-1.5 .1 10.1 .1-3.8 .1 6.8 .1-4.1 .1 .9 .1-.6 .1-2.6 .1 2.2 0-3.5 .1 2.9 .1-4.2 .1-1 .1 6.5 .1-8.5 .1 6.2 .1 2.1 .1-3.3 .1-3.4 .1 8.1 .1-1.1 0 4.8 .1-11.3 .1 .6 .1 1.4 .1 .2 .1 4.4 .1-5.6 .1 3.7 .1-2.1 .1-4.5 .1 9.5 .1-2.9 0-4.6 .1 3.5 .1 .9 .1-10.4 .1 14.7 .1-7.7 .1 2.2 .1 .8 .1 1.4 .1 3.2 .1-2.5 .1-2.1 0 2.4 .1-13.5 .1 2.6 .1-3.2 .1 16 .1-5 .1-6.7 .1 6.1 .1-5.9 .1 3.7 .1-8.1 .1 6.2 0 1.6 .1 1.4 .1 3.1 .1 2.9 .1-3.4 .1-2.2 .1 8.3 .1-9.3 .1-1.7 .1 4.8 .1-2.8 .1 .9 0-3.4 .1 4.9 .1-1 .1-2.6 .1 5.1 .1 .5 .1-3.1 .1-1 .1 .9 .1-8.9 .1 9.9 .1-3.2 0 3.7 .1-4.4 .1-1.5 .1 14.4 .1-12.4 .1 2 .1 4.5 .1-8.7 .1 1.6 .1 8 .1-7.7 .1 7 0 2.9 .1-6.7 .1-1.6 .1-4.8 .1-1 .1 2.8 .1 4.1 .1 4.9 .1 1.3 .1-15.3 .1 12.5 .1-4.8 0 5.5 .1 2.4 .1-6.2 .1 1.1 .1-4.9 .1-.5 .1 3.4 .1-.7 .1-2.6 .1 4.2 .1 6 .1-5.8 0-.5 .1 1.6 .1-12.7 .1 7.1 .1 2.3 .1-2 .1 4.7 .1-4.1 .1 4.8 .1-.2 .1 2.4 .1-6.7 0 5.9 .1-10.4 .1 4 .1 6.2 .1-2.1 .1-8.2 .1 3.8 .1 .7 .1 10.4 .1-8.2 .1-2.8 .1 3.6 0 2.2 .1-8.2 .1 10.3 .1-7.3 .1 6.7 .1-9.3 .1 2.8 .1-4.4 .1 3.2 .1-.3 .1 7.9 0 3.6 .1-9.6 .1 3.4 .1-11.5 .1 9 .1-1.9 .1 8 .1-3.1 .1 1.4 .1-6.8 .1 2.4 .1 3.6 0 .9 .1-.6 .1-.3 .1-.8 .1-.9 .1 6.1 .1-1 .1-10.9 .1 4.8 .1-6 .1 9.3 .1-8 0 1.9 .1 5.8 .1-4.1 .1-7.4 .1 12.7 .1-2.1 .1 .8 .1-3.1 .1-2.9 .1 9.4 .1-8 .1-3 0 8.8 .1-3.4 .1-5 .1 4.8 .1-2.3 .1 1.9 .1-22.7 .1 17.6 .1 2.2 .1-.3 .1-1.6 .1-.1 0 7.6 .1-2.4 .1 1.8 .1-4.5 .1 10.9 .1-7.9 .1-.8 .1-.2 .1 1.1 .1 2.9 .1-.6 .1 1.4 0-7.9 .1 1.3 .1 0 .1 2.8 .1-1.7 .1 2.6 .1-5.9 .1 3.7 .1-7.5 .1 8.2 .1 5.3 .1-9.1 0-.2 .1 3.4 .1-.8 .1 1 .1 .6 .1-2.5 .1 11.9 .1-10.9 .1 4.9 .1-2.5 .1-3.5 .1 1.2 0-.2 .1 5.1 .1 1.5 .1-2.3 .1-7.9 .1 3.6 .1 8.1 .1-2.2 .1-5.6 .1-.4 .1 5 .1-1.9 0-.3 .1-4.3 .1 3.8 .1 4.4 .1-3.1 .1 6.1 .1-8.2 .1-.3 .1 1.4 .1 2.4 .1-5 .1 4.6 0-4 .1-1.4 .1 1.3 .1 2.7 .1-4.5 .1 .8 .1-.7 .1-6.6 .1 7 .1 1.7 .1 3.5 .1-3.3 0-3.7 .1 5.8 .1-1.9 .1 1.5 .1 4.6 .1-2.7 .1-4.2 .1-1.6 .1 1.3 .1 3.5 .1 .9 .1 .2 0-3.1 .1 3.2 .1 .8 .1-3.8 .1-3.8 .1 5.6 .1 4.9 .1 .8 .1-9.5 .1 .4 .1 3.6 0-.6 .1 2.5 .1 .8 .1-1.1 .1-4.5 .1-1.1 .1-1.3 .1-1.4 .1-3.6 .1 11.7 .1 2.5 .1-5 0 .5 .1 .1 .1 4.7 .1 .8 .1-8.6 .1 1.5 .1 3.6 .1-3.4 .1-6.1 .1 6 .1 8.7 .1-10.4 0-.5 .1 7.2 .1-8.1 .1 6.6 .1-6.8 .1 7.7 .1-5.2 .1 5.1 .1-8.3 .1 .3 .1 8.6 .1-9 0 1.2 .1 8.2 .1-3.7 .1-1.2 .1 2.3 .1-2.6 .1 3.3 .1-2.4 .1-10.3 .1 5.1 .1 9.3 .1-1.7 0-4.3 .1 2 .1-2.5 .1-3 .1 5 .1 2.6 .1-8.2 .1 11.2 .1-7.3 .1-1.7 .1 1.9 .1 .1 0-4.9 .1 .1 .1-1.9 .1 5 .1 4.9 .1-2.9 .1-6.1 .1 5.4 .1-1.2 .1 .8 .1 3.1 .1-4.1 0 1.1 .1-1.7 .1-1.5 .1 1.4 .1 4.1 .1-3.7 .1 .2 .1-1.5 .1 .5 .1-1.7 .1 .8 .1 3.6 0 1.7 .1-8 .1 7.5 .1-2.1 .1 5.7 .1-2.2 .1-2.3 .1 7.3 .1-4.4 .1-1 .1-.7 .1-1.9 0 9.6 .1-9.5 .1 .7 .1-2.1 .1 6.2 .1 1.1 .1-7.7 .1 6.4 .1-.8 .1-2.4 .1-2.6 .1 9.5 0-4.1 .1 .4 .1-7 .1 15.6 .1-9.5 .1-3.1 .1-3 .1-.2 .1 2.1 .1 .1 .1-1.6 .1 6.8 0-4.1 .1-5.2 .1 4.3 .1-2.5 .1 1.2 .1 2 .1 2.9 .1-6 .1 1.8 .1-1.2 .1 8 .1-8.9 0-1 .1 9.6 .1-4.8 .1-4.6 .1 .2 .1 4.9 .1-7.4 .1 10.4 .1-7.6 .1-2 .1 4 0-10.7 .1 15.2 .1-16.6 .1 17.4 .1 2.4 .1-10.8 .1 13 .1-6.8 .1 1.3 .1-4.7 .1 2.6 .1 1.4 0 .5 .1 0 .1-1.4 .1-1.6 .1-.1 .1 1.3 .1-2.8 .1-4 .1 7.1 .1-.9 .1-1.6 .1 1.3 0-5 .1 7.9 .1 .2 .1-4.2 .1-.2 .1-.3 .1 0 .1 6.4 .1-6.3 .1-1.5 .1 4.9 .1-6 0 10.9 .1-5.1 .1-3 .1 2.6 .1-3.5 .1 1.1 .1 .8 .1 3.8 .1 2 .1-.3 .1-1.4 .1-1.7 0-.7 .1-.3 .1-2.8 .1 5 .1-6.9 .1 7.1 .1 1.9 .1-4.1 .1-6.8 .1 4 .1 4.7 .1-2.1 0 3.3 .1 3.5 .1-1.3 .1-1.1 .1-.1 .1 11.1 .1-17.5 .1-2.4 .1 6.4 .1-6.8 .1 14.2 .1-8.4 0-1 .1 8.4 .1-7.6 .1-5.5 .1 7.8 .1-1.1 .1 2.2 .1-10.8 .1 5.8 .1 7 .1-12.1 .1 8.1 0-5.5 .1 6.5 .1-2 .1 1.2 .1-6 .1-1.8 .1-1 .1 2.6 .1 1.2 .1 1.1 .1-1.4 .1-.3 0 1.8 .1 4.3 .1-9.2 .1 5.3 .1 1.3 .1 3.2 .1-1.9 .1 2.9 .1-5.6 .1 .2 .1-5.3 .1 10.4 0 1.9 .1-5.8 .1 2.8 .1-12.6 .1 3.3 .1 8.4 .1-3 .1 7.1 .1-6.4 .1-2.6 .1-.1 .1 2.7 0-3.9 .1 2.2 .1-2.2 .1 1 .1 2.2 .1-1.3 .1 10 .1-6.7 .1-8 .1 5.4 .1 .2 .1-.1 0 1.6 .1 1 .1 .6 .1-6.9 .1 5 .1 .4 .1-.7 .1 3.6 .1-.3 .1-1.6 .1-3.9 0 8.1 .1-7.6 .1 2.3 .1 2.1 .1 1.8 .1-7.8 .1 .8 .1 .8 .1 5.2 .1-2.1 .1 3.6 .1-9.9 0 6.6 .1-2.2 .1 1.1 .1 .9 .1-1.6 .1 .6 .1 1.2 .1-.2 .1 4.3 .1-9.7 .1 3.2 .1-.7 0-.4 .1-2.3 .1 6.6 .1-.5 .1 2.1 .1-8.4 .1-.9 .1 .9 .1 4.7 .1-1.5 .1 7.9 .1-1.9 0-2.3 .1 1.7 .1-3.4 .1 8.6 .1-9.5 .1-1.2 .1-3.3 .1 3.4 .1-.7 .1-5.8 .1 6.8 .1-2.2 0 4.6 .1-.1 .1-4.2 .1-.4 .1 9.7 .1-10.1 .1 7.2 .1-6.5 .1 4.3 .1 1.4 .1-9.7 .1 8.7 0-3.6 .1 4.1 .1-1.4 .1 2.5 .1-2.8 .1-3.6 .1-.8 .1 1.6 .1 .8 .1-1.2 .1 1.5 .1 5 0 3.3 .1-13 .1 9.7 .1-16.2 .1 9.9 .1 4.4 .1-5 .1-1.6 .1 7.7 .1-4.3 .1 1.5 .1-3.1 0 2.1 .1 3.2 .1-7.3 .1 6.3 .1-2.5 .1-1.5 .1 4.8 .1-3.1 .1-.4 .1-3.1 .1 2.5 .1 10.2 0-9.2 .1 1.6 .1-4.4 .1 .7 .1 2.7 .1 6.4 .1-10.5 .1 1.2 .1 8.5 .1 1.3 .1-10.4 .1 6.4 0-5.6 .1 3 .1-4.2 .1 10.9 .1-2.1 .1-6.5 .1 5.5 .1 .1 .1 2.2 .1-9.1 .1 4.3 .1-.5 0-4.5 .1-3.1 .1 8.3 .1-9.6 .1 7 .1-4.6 .1 3.2 .1 .7 .1 .4 .1 4.5 .1-3.1 .1 1.1 0-5.3 .1 3.2 .1 1 .1-1.4 .1-1.7 .1-.6 .1 7.3 .1-1.2 .1-.1 .1 .9 .1-3.6 0 1 .1 4.8 .1-7.5 .1 1.5 .1 1.9 .1-4 .1 .7 .1 .3 .1 3.3 .1-2.4 .1 2.2 .1-7.3 0 4.5 .1-5.4 .1 3.6 .1 2.1 .1-2.5 .1 5.5 .1-6.9 .1-1.8 .1 6.5 .1-10 .1 11.5 .1 .3 0 .8 .1 8.2 .1-12 .1 2.3 .1 7.4 .1-6.7 .1-2.9 .1 1 .1 2.4 .1 5.9 .1-1.6 .1-6.6 0 6.5 .1-10.6 .1 6.1 .1 1.2 .1 0 .1 0 .1-6.3 .1 6.3 .1-4.4 .1 5.1 .1-3.1 .1 .3 0-3.2 .1 3.5 .1-6.8 .1 7.5 .1-1.2 .1 5.8 .1-9.4 .1 8.9 .1-5.3 .1-5.1 .1 5.2 .1-5.1 0 1.4 .1-4.5 .1 3.4 .1-6.4 .1 3.4 .1 11.1 .1-4.7 .1 1.2 .1 1.1 .1-7 .1 15.4 .1-13 0 4.1 .1-2.3 .1 2.7 .1 21.3 .1-25.6 .1-.3 .1 7.6 .1-8.2 .1-.5 .1 4.9 .1-2.6 .1 2.8 0-2.2 .1-1 .1 6 .1-8.5 .1 4.3 .1 .4 .1-.6 .1 1.5 .1 2.1 .1-6 .1-.3 .1 4.7 0-5.9 .1 13.5 .1-14.6 .1 5.7 .1 2 .1 .4 .1-7.7 .1 2.8 .1 4.2 .1-4.8 .1 5.5 .1-3 0 5.2 .1 0 .1-4.8 .1 1.3 .1-.7 .1-3.5 .1 3.1 .1 3.1 .1-4.6 .1 4.2 .1-8.2 .1 12.9 0-7.4 .1 4.8 .1-3.2 .1-1.9 .1 8.5 .1-9.4 .1 7.6 .1 .5 .1-4.6 .1-3.2 .1 6.7 .1-4.6 0-8.6 .1 8 .1 5.9 .1-3.5 .1-5.8 .1 12.4 .1-8.3 .1 9.8 .1-5.4 .1-3.1 .1 4 0-3.5 .1 .7 .1-4.3 .1-1.4 .1 7.7 .1-2.7 .1 5.7 .1-13.4 .1 5.6 .1 2.1 .1 4.4 .1-.9 0 .6 .1-7.1 .1 1.5 .1 1.2 .1 4.3 .1-1 .1-3.4 .1-3.8 .1 4.5 .1 3.3 .1-4.7 .1-.2 0 1 .1 .9 .1 4.6 .1-12.5 .1 7.4 .1-2 .1-6.3 .1 6.4 .1 11.7 .1-10.3 .1-.4 .1-1.1 0 5.2 .1-4.3 .1 1.4 .1-2.5 .1 3.7 .1-14.6 .1 12.6 .1 1.3 .1-2 .1 7 .1-13.7 .1 10.9 0-2.2 .1 2.8 .1-6.3 .1-5.2 .1 3.3 .1 5 .1 3 .1-10.4 .1 6.8 .1 0 .1 .4 .1-4.1 0-3.8 .1 5.8 .1 4.6 .1-.8 .1-2.3 .1 1 .1-3.3 .1 2 .1-8.7 .1 2.6 .1 6.7 .1 8.3 0-12 .1 7 .1-2.3 .1 2.9 .1-8.9 .1 7.5 .1-.2 .1-6.6 .1-.3 .1 4.7 .1 0 .1 6.1 0-5.8 .1 1 .1-11.3 .1 15.4 .1-8.1 .1-4.3 .1-1.2 .1 9.9 .1 .6 .1-2.3 .1-2.4 .1 6.2 0 .7 .1-8.1 .1 3.4 .1 2.5 .1-4.6 .1-.9 .1 3.6 .1-.5 .1-.2 .1-1.5 .1 6 .1-5.1 0 .3 .1 7 .1-7.2 .1-1.8 .1 5.8 .1 .1 .1 4.9 .1-10.3 .1-6.6 .1 9.9 .1-9.1 .1 9 0 .3 .1 .6 .1-7 .1 13.2 .1-1.8 .1-8.1 .1-3.5 .1 6.5 .1 1.2 .1-4.8 .1 1.7 .1 3.2 0-4.1 .1 3.1 .1 4.7 .1-4.6 .1-3 .1 2 .1 8.5 .1-14.4 .1 2.9 .1 2.7 .1-2 0 5.3 .1-4.4 .1-1 .1 .3 .1 9.1 .1 .3 .1-6.5 .1 .6 .1-3 .1 3.3 .1 .4 .1-3.6 0 2.3 .1-5 .1 3.3 .1 .9 .1-.9 .1-3.5 .1 6.7 .1-3.9 .1 2.1 .1-1.9 .1 4.2 .1-2.2 0 6.4 .1-5.4 .1-3 .1-2.2 .1-2.8 .1 9.3 .1-1.8 .1-3.1 .1 6.2 .1-3.6 .1 .1 .1-9.9 0 4.8 .1-.4 .1-2.6 .1 6.9 .1-1.4 .1 .7 .1 2.9 .1 3.2 .1-6.9 .1-.5 .1-13.4 .1 16.8 0 1.7 .1-2.7 .1-3.1 .1-1 .1 .6 .1 .4 .1 8.1 .1-4.8 .1-7.7 .1 3.8 .1 3 .1-4.4 0 1.7 .1 .1 .1 2.6 .1-7.1 .1 3 .1 1.7 .1 3.8 .1-6.2 .1-3.6 .1 5.7 .1-2.7 .1 4.2 0-4.8 .1 7.1 .1-2 .1-9.8 .1 4.7 .1-5.5 .1 12.5 .1-3.3 .1-4.2 .1-2.4 .1 8.3 .1-9 0 7 .1-5 .1 7.3 .1-2.8 .1-1.1 .1 5.7 .1-3.9 .1-6 .1-2.8 .1 8.1 .1-6.9 .1 9.7 0-6.7 .1 4.9 .1-6 .1 7.6 .1-8 .1 3.7 .1-1 .1 3.6 .1-2.5 .1-3.8 .1 6.1 .1-1.2 0 .5 .1-3.8 .1-1.6 .1 2.7 .1-2.5 .1 4 .1-1.8 .1-1.6 .1-2.4 .1 2.7 .1 1.3 .1-.9 0-2.5 .1 3.1 .1 4.2 .1-3.6 .1-7.5 .1 8 .1-3.9 .1 2.9 .1 3.4 .1-4.8 .1-5.6 .1 2.2 0 5 .1-3.4 .1 .4 .1 7.6 .1-9.2 .1 9.9 .1-1.2 .1 .6 .1-4.2 .1-3.1 .1 .8 0 3.6 .1 2.5 .1-2.5 .1 1.3 .1-2.3 .1-3.2 .1 5.2 .1-2.3 .1-8.3 .1 8.8 .1-2.5 .1 4.2 0 .3 .1-10.9 .1 8.5 .1 6 .1-1.7 .1-6.2 .1-2.1 .1 7.1 .1-1 .1-1.4 .1-1 .1-3.4 0 1.6 .1 1.2 .1-1.1 .1-2.7 .1 3.3 .1-2.6 .1 4 .1-7 .1 2.4 .1 6.2 .1-6.3 .1-4.2 0 3.1 .1 7 .1 .3 .1-9.5 .1 9.7 .1 3.1 .1-7 .1-4.6 .1-2.7 .1 7.3 .1 1.8 .1-1.6 0 .8 .1-2.1 .1 1.8 .1-.1 .1 1.4 .1 .6 .1-.5 .1 5.1 .1-11.4 .1 8.7 .1 1 .1-1.6 0-7.9 .1 3 .1 4.1 .1-7.5 .1 4.8 .1 .2 .1 2.9 .1-6.9 .1 3.4 .1 6.3 .1-12 .1 6.1 0-5.8 .1 5 .1 3.8 .1 .9 .1-6.5 .1 6.6 .1-6.9 .1 2.9 .1 3.8 .1-9.6 .1 13.8 .1-12.3 0 3.4 .1-1.5 .1 5.2 .1 2.8 .1-.2 .1-10.6 .1 5.4 .1-.4 .1-1.1 .1 0 .1-7.1 .1 8.2 0 3.4 .1-7.3 .1 6 .1-1.7 .1 .7 .1 5.4 .1-4.1 .1 3 .1-1.5 .1-3.6 .1 4.9 .1-4.7 0-1.1 .1-2.4 .1 8.5 .1-5.4 .1-6.7 .1 8 .1-.7 .1 8.8 .1-3.9 .1-7 .1 16.6 .1-10.9 0-.8 .1-.7 .1-.1 .1-5.6 .1-.3 .1 11.7 .1 5.1 .1-6.2 .1-5.8 .1-3.9 .1 14 .1-9.5 0 .2 .1 3.7 .1-5.1 .1 .7 .1 1.3 .1-2.2 .1 7.2 .1-2.9 .1-5.6 .1 5.4 .1 1.9 0-3.8 .1-3.7 .1 4.5 .1-7.9 .1 9 .1-5.1 .1 9.6 .1-8.8 .1 8.5 .1-8.5 .1 10.6 .1-12.7 0 3.9 .1-5.9 .1 4 .1 .7 .1 4 .1 4 .1-9.9 .1-6.8 .1 18.3 .1-13.7 .1 10.2 .1-10.2 0 12.2 .1-4 .1-2.9 .1 3.9 .1-3.4 .1-6.3 .1 6.7 .1 8.6 .1-6.8 .1-9.1 .1 7 .1-4.7 0 6.5 .1 .1 .1-2.8 .1 .9 .1-8.2 .1 8.7 .1 2 .1-3.7 .1 5.2 .1-6.5 .1 3.5 .1-3.6 0-1.7 .1-1.1 .1 4.9 .1 .6 .1 4.6 .1-4.9 .1 5.1 .1-8.4 .1 8.3 .1-5.3 .1 2.9 .1-3.1 0-.3 .1 .9 .1 .8 .1-2.8 .1-.5 .1 1.9 .1 1.9 .1 2.5 .1 2.5 .1-7.6 .1-2 .1 4 0-11.7 .1 11.7 .1-2.8 .1-.6 .1 3.6 .1-3.7 .1-1.3 .1 10.6 .1-5.2 .1-1.8 .1 3.7 .1-4.5 0 1.2 .1 3.8 .1-5.7 .1 1.7 .1-1.8 .1 .8 .1 .6 .1-1 .1 3.8 .1-2.6 .1 1.1 .1-4.2 0 5.9 .1-1.2 .1-2.3 .1 .1 .1-3.1 .1-3.9 .1 7.7 .1 .7 .1-.8 .1-5.3 .1 8.5 .1-1.7 0-6.8 .1-2.7 .1 13.8 .1-9.9 .1 15.6 .1-6.8 .1-11.1 .1 3.1 .1 3.9 .1 .1 .1 .1 .1-6.5 0 2.7 .1 6.5 .1 5.7 .1-11.1 .1 .2 .1-1.2 .1 2.2 .1 10.8 .1-17.6 .1 6.8 .1-8.6 .1 11.7 0-4.1 .1-1.8 .1 8.9 .1-10.4 .1 1.5 .1 6.1 .1 1.5 .1-9.4 .1 6.4 .1-.9 .1-3.6 0 5.8 .1-6.5 .1 0 .1 6.9 .1-3.3 .1-1.4 .1 7.6 .1-.7 .1-6.6 .1-3.1 .1 6.3 .1-7.4 0 8.9 .1-5.7 .1-1.8 .1 5.1 .1 .7 .1 6.6 .1-7.9 .1 3.3 .1-5 .1-3.9 .1 2.2 .1 2.3 0-11.6 .1 6.8 .1 5.9 .1-3.4 .1-.3 .1-1 .1 6.3 .1 1.7 .1-6.1 .1-1.8 .1 12.1 .1-8.8 0 1.1 .1-5 .1 2.6 .1 2.2 .1 1.9 .1-.3 .1 1.4 .1-7.4 .1 1.1 .1 1.8 .1 3.8 .1 2.1 0-4.6 .1-5.3 .1 7.7 .1-2.5 .1-2.1 .1 1.7 .1 5.4 .1-7.6 .1 7 .1-8.2 .1 2.1 .1 5.8 0-3.4 .1 4.1 .1-6 .1 4.2 .1-3 .1 2.8 .1 6.3 .1-7.3 .1 .3 .1-2 .1-4 .1 4.6 0 3.5 .1-3.4 .1-4.4 .1 13.6 .1-6 .1-9.9 .1 4.3 .1 4.2 .1 5.4 .1-7.6 .1-1.6 .1 1.4 0 6.1 .1-12.3 .1 6.1 .1 2 .1-3.2 .1-1.3 .1 5.5 .1-.1 .1 3.6 .1-5.6 .1 4 .1-3.9 0-2.8 .1 2.3 .1-3.4 .1 13.4 .1-13.7 .1-.6 .1-1 .1 6.8 .1-4.4 .1-.3 .1-6.4 .1 10.6 0-.7 .1-1.2 .1-2.8 .1-6.6 .1 12.6 .1-6.2 .1-3.7 .1 8.8 .1-5.2 .1 9.7 .1-11.5 .1 4.9 0 .3 .1-1.5 .1-3.7 .1 .3 .1-2.7 .1 9.9 .1-8.9 .1 6 .1-5.6 .1-.7 .1 5.9 .1-.1 0-.7 .1 3.3 .1-.1 .1 3.6 .1-4.7 .1-4.5 .1 2.8 .1-3.2 .1-.2 .1 0 .1-1.2 0 1.9 .1-2.5 .1 4.8 .1 1 .1 3.9 .1-6.7 .1 10.1 .1-10.3 .1-4 .1 8.2 .1-.3 .1-5.2 0-2.9 .1 8.5 .1-4.5 .1 1.9 .1-2.7 .1 5.5 .1-1.8 .1 4.4 .1-.3 .1 5.1 .1-15.4 .1 8.9 0-3.6 .1 4.1 .1-5.9 .1 5.4 .1-.2 .1-5.5 .1 5.7 .1 .5 .1-9.4 .1 1.9 .1 3.8 .1 8.9 0-17 .1 10.5 .1 1 .1 .4 .1-3.2 .1 .3 .1 1.9 .1-6.2 .1 2.6 .1 5.3 .1-2.5 .1-1.3 0-.1 .1-1 .1 2 .1-4.6 .1 10.9 .1-5.8 .1 1.6 .1 .8 .1 3.5 .1-7.9 .1 4.4 .1-6.9 0-1.4 .1 5 .1-4.4 .1-1.2 .1 8.5 .1-6.5 .1-.8 .1 2 .1 5.1 .1-7.9 .1 2.4 .1-9.3 0 11.4 .1 2.4 .1-5.7 .1 3.9 .1 1.1 .1-3.2 .1 3.3 .1 .8 .1-4.1 .1 2.8 .1 .1 .1 5.9 0-.6 .1-5 .1-2.7 .1 1 .1 4.7 .1-3.9 .1-5.8 .1 5.2 .1-.7 .1 4.5 .1-7.5 .1-1 0 3.8 .1-6.1 .1 2.4 .1 7.6 .1-6.5 .1 3.7 .1-1.5 .1-6.3 .1 12.2 .1 1 .1-5.6 .1 1.7 0-3.2 .1 2.7 .1-5.8 .1 4.7 .1 3.4 .1 .1 .1-3.8 .1-.2 .1 2.3 .1-6.5 .1-1.3 .1 2.4 0 1.9 .1 5.9 .1-11.4 .1 11.2 .1-2.5 .1 .2 .1-4.6 .1 2.4 .1 5 .1-14.4 .1 14.3 .1 1.7 0-5.4 .1 4.6 .1-4.6 .1 .9 .1-3.5 .1 6.7 .1-7.5 .1 10.3 .1-6.6 .1 2.1 .1-.1 0-4.5 .1 5.1 .1-2.6 .1-13.4 .1 14.2 .1 2.6 .1-5.6 .1 3.8 .1-3.9 .1 5.2 .1-7.4 .1 1.6 0 1.7 .1 .8 .1 6.2 .1-5.9 .1-7.8 .1 6.2 .1 5.6 .1-.9 .1-5.2 .1 2.5 .1-2.4 .1-.2 0 6.3 .1-2.6 .1-4.5 .1 8.5 .1-7.6 .1 .6 .1 2.2 .1 8.4 .1-18.1 .1 13.3 .1-2.6 .1-.4 0 2.1 .1 1.8 .1-8 .1 4.1 .1-3.5 .1-2 .1 1.2 .1 11.6 .1-8 .1 .2 .1-.6 .1 2.6 0 6.2 .1-9.2 .1-3.8 .1 8.4 .1-2.7 .1 .8 .1 3.8 .1-6.8 .1-5.8 .1 14.4 .1-3.2 .1 1 0-11.9 .1 8.1 .1-1.4 .1-7.5 .1 5.9 .1-2.2 .1 4.5 .1-4 .1-1.1 .1 11.8 .1-14.3 .1 14.4 0-8.7 .1-2.4 .1 1 .1 7.5 .1-9.5 .1 3.8 .1-8.1 .1 9.3 .1-5 .1 4.7 .1-3.7 .1 2.1 0 1.3 .1-.5 .1-6 .1 3.8 .1 .7 .1 0 .1-7.1 .1 4.3 .1 10 .1-6.6 .1-2.5 .1 3 0-.7 .1 1.5 .1 6.9 .1-10 .1-.5 .1 1.3 .1-.2 .1 4.4 .1 0 .1-3.1 .1-2.2 .1-2.9 0 10.3 .1-4.4 .1 .9 .1-.2 .1 .1 .1 10.9 .1-16.7 .1 2.4 .1 5.2 .1 2.5 .1 .1 .1-12.1 0 8.4 .1-.6 .1 1.2 .1-2.3 .1 1.9 .1-1.8 .1-.8 .1-2.8 .1 5 .1 4.4 .1 1.8 .1-6.1 0-7 .1 5.3 .1-2.8 .1 5.3 .1-7.1 .1 3 .1 .2 .1-.9 .1-1.2 .1 6 .1-15 0 14.5 .1-5.4 .1 6.5 .1-7.7 .1 2.4 .1 2.3 .1 4.4 .1-8.7 .1 8.7 .1-6.9 .1 1.5 .1-3.1 0 3.9 .1 0 .1 5.9 .1-6.8 .1 1.3 .1 1.9 .1 2 .1-8.2 .1 9.3 .1-.8 .1 2.5 .1-6 0-.7 .1-.1 .1 4.5 .1-5.5 .1 1.3 .1 5.3 .1 12.7 .1-19.3 .1-1.5 .1 7 .1-.9 .1 3.1 0-10 .1 4.2 .1-1.7 .1 7.2 .1-9.2 .1 5.4 .1-5.2 .1 10.3 .1-6.9 .1 1.3 .1-1.3 .1-6.3 0 10 .1-7.9 .1 3.2 .1-3.5 .1 2.4 .1 .1 .1 3.3 .1-1 .1-3.1 .1 1.4 .1 5.5 .1-.1 0-12.3 .1 2.9 .1 5.2 .1-6.3 .1-1.6 .1 11.2 .1-1.3 .1-3.8 .1-.8 .1-1.8 .1 .7 .1 6.5 0-5.2 .1 7 .1-7.1 .1 3.9 .1 2.7 .1-5 .1-3.7 .1 .5 .1 6 .1-5.7 .1 6.7 .1-.6 0-2 .1-7.3 .1 6.3 .1-2.2 .1-5.3 .1 8.6 .1-13.7 .1 13 .1-4.1 .1 7.6 .1-5.5 .1-.6 0-.9 .1-4.8 .1 15.3 .1-11.6 .1 4.6 .1-3.4 .1-1.5 .1 10.6 .1-4 .1-5.7 .1 1.8 .1 3.3 0-3.8 .1-1.9 .1 1.2 .1-.5 .1 .8 .1 5.7 .1-4.3 .1-.7 .1 3.7 .1 1.4 .1-10.4 .1 10.9 0-10.4 .1 8.4 .1-6.1 .1 6.7 .1-5.5 .1 2.9 .1 1.2 .1 8.1 .1-8.4 .1 1.3 .1-.6 .1-3.3 0 .1 .1 11 .1-6.1 .1 .3 .1-6.2 .1 11.9 .1-10 .1-2.5 .1-1.5 .1 5.9 .1-1.8 0-.9 .1 3.2 .1-.8 .1-4.1 .1 9.9 .1-13.7 .1 7.2 .1-1.9 .1-1.4 .1 .6 .1-.9 .1 5 0-3.5 .1-.1 .1-4.6 .1 3.4 .1 1.3 .1-1.4 .1-2.1 .1 12.6 .1-11.7 .1-4.2 .1 8.1 .1 4.3 0-6.9 .1 4.7 .1-3.6 .1-3.5 .1 2.8 .1-6.2 .1 13.1 .1-8.1 .1 3.9 .1-1 .1 1.1 .1-5 0-.8 .1 5.9 .1-7.6 .1 10 .1 3.1 .1-6.8 .1 4.9 .1-6.8 .1 4.9 .1-1.6 .1-1.2 .1 5.1 0-7.3 .1 9.8 .1-6.8 .1-.6 .1-.9 .1-.7 .1 .2 .1-.9 .1-.4 .1 .4 .1 7.1 .1-2.7 0-3.8 .1 1 .1-3.6 .1-2.7 .1 5.5 .1 3.9 .1 4 .1-5.6 .1 4.8 .1-.8 .1-.5 .1 5.4 0-11.8 .1-5.6 .1 .9 .1 8.5 .1-2.7 .1 9.9 .1-13.8 .1 5.5 .1 1.2 .1-4.8 .1-2.7 .1 5.1 0 1.2 .1-2.9 .1 6.5 .1-3.4 .1 3.5 .1-.7 .1-5.7 .1 6 .1-6.7 .1 .6 .1 6.1 .1-3.1 0-2.7 .1 1.5 .1 2.1 .1-3.8 .1 10.7 .1-6.5 .1-3.6 .1 1.7 .1 3.6 .1-9.9 .1 10 .1-3.2 0 .8 .1-3.2 .1-.1 .1 5.6 .1-6.3 .1 .8 .1 1.7 .1 2.7 .1-6.3 .1 2.6 .1 1.7 .1 1.1 0-7.4 .1 8.6 .1-.6 .1-.6 .1-4.6 .1 3.2 .1-5.3 .1 6 .1-3 .1-2.5 .1 .1 .1-1.1 0 13 .1-2.4 .1-10.3 .1 7.8 .1-3.5 .1 5.1 .1-6.8 .1 3.3 .1 3.1 .1-1.3 .1-1.8 0-4.3 .1 8.5 .1-7 .1 3.7 .1-6.6 .1 2.5 .1 2.7 .1-5.3 .1 3.3 .1-5.8 .1 4.2 .1 1.2 0-.2 .1 6.2 .1-.2 .1-2 .1 3 .1 .4 .1-5.8 .1 5.4 .1-5.4 .1 4.6 .1-6.6 .1-2.3 0 4.9 .1 2.6 .1 4.1 .1 1.9 .1-10.4 .1 7.2 .1-5.9 .1 5.3 .1-8.1 .1 4.4 .1 3.9 .1-3.2 0 5.7 .1-5.5 .1-1.1 .1 5.6 .1-4.8 .1 .3 .1 2.5 .1-6.5 .1 1 .1 4.3 .1-2.5 .1 2.7 0-1.3 .1-5.6 .1-.8 .1 8.2 .1-2.4 .1-1 .1-1 .1 3.2 .1-1.2 .1 4.4 .1-2.2 .1 1.7 0-5.6 .1 1.7 .1-6.8 .1 6.4 .1-1.3 .1-6 .1 5.3 .1-1.4 .1 2.4 .1 1.7 .1-2.5 .1-3 0 6.9 .1-.5 .1-.6 .1 1.2 .1-2.8 .1 2.3 .1-8.7 .1-8 .1 11.7 .1-8.3 .1 15.9 .1-1.3 0-2.1 .1 8.2 .1-10 .1-6.4 .1 4.3 .1 9.7 .1-4.8 .1 3.9 .1-3.5 .1 1.6 .1-3.7 .1-4.7 0 1.2 .1-2.2 .1 .3 .1 6.1 .1 1 .1-1.2 .1-8.2 .1 2.1 .1 3.3 .1 .8 .1 7.8 .1-4.7 0-8.8 .1 4.9 .1 4.1 .1-3.9 .1 5 .1-10.3 .1 3.7 .1 1.8 .1-2 .1 1.7 .1 1.4 .1 0 0 .7 .1 2.1 .1-10.8 .1 16 .1-6.6 .1 3.6 .1-9.6 .1 .5 .1 4.3 .1 4 .1-8.3 .1 8.4 0-7 .1-.6 .1 2 .1 2.8 .1-.1 .1 3.3 .1 .4 .1-3.2 .1 1.1 .1 4.2 .1-5.8 0 5.4 .1-.9 .1-5.5 .1-1.2 .1 4.7 .1-1.1 .1-.1 .1 1.1 .1-10.8 .1 8.6 .1-2.5 .1 4 0-4.7 .1 6.4 .1-8.2 .1 5.4 .1-5.4 .1 .6 .1 .5 .1 4.8 .1 3.5 .1-6 .1 3.2 .1 .5 0-4.6 .1-1.4 .1 3.8 .1-.3 .1-4.9 .1 1.1 .1 .7 .1 1.1 .1 2.8 .1-7.9 .1 2 .1 2.7 0 11.6 .1-9.1 .1 2.4 .1-6.8 .1 11.1 .1-10.8 .1 1.7 .1 1.4 .1-1.4 .1 1.8 .1-.4 .1 1.6 0 3.4 .1-4.7 .1-3.6 .1-3.5 .1 5.2 .1 1.5 .1 .2 .1-4.4 .1 8.5 .1 1 .1-2.6 .1-4.5 0 1.2 .1 9.8 .1-4.7 .1-11.8 .1 4.5 .1 6.5 .1-5.3 .1 8.9 .1-8 .1 2.1 .1-.5 .1-3.4 0 6.3 .1-1.6 .1-.4 .1-1.5 .1 2.8 .1-4.8 .1 3.9 .1-5.1 .1-3.5 .1 6 .1-3.5 .1 2.5 0 4.3 .1-7.3 .1 2.4 .1 .3 .1-2.4 .1 3.1 .1-1.5 .1 2.5 .1 0 .1 3.3 .1-7 .1 4.7 0-.9 .1-5.9 .1 7.4 .1-2.8 .1-5.3 .1 15.4 .1-14.4 .1 10 .1-4.8 .1 3.5 .1 .1 .1-7.1 0 8.5 .1-1.9 .1-8.7 .1 2.5 .1 2.5 .1-.8 .1 6.6 .1-2.8 .1-.5 .1-2.9 .1 .1 .1 3.6 0-1.1 .1-2.3 .1 2.4 .1-.3 .1-4.2 .1 5.8 .1-.8 .1-1.2 .1-5.2 .1 2 .1 10.8 .1-9.1-783.3-335.5 69.9 412.1 104.6-92.1" fill="none" stroke="none" marker-start="url(#mx)" marker-mid="url(#mx)" marker-end="url(#mx)"/>
<path d="M131.8 513.9l.1-27.6 .1-6.2 .1 32.4 .1-11.2 .1-1.7 0-2.9 .1-4.6 .1 4.6 .1-27.1 .1 40.2 .1 12.5 .1-16.9 .1-35.3 .1 55.2 .1-44.9 .1 45.4 .1-33.7 0 31.4 .1-42.4 .1-16.9 .1 1.1 .1 1.2 .1-23.7 .1 99.3 .1-61.5 .1 8.4 .1-16.7 .1 44.2 .1-43.7 0 24.9 .1 2.2 .1 .5 .1-2.2 .1-6.2 .1 11.4 .1 2 .1-3 .1-2 .1 9.5 .1 3.7 .1-4.8 0-12.4 .1 5.9 .1 12.6 .1-26.9 .1 17.8 .1-9.1 .1 8.1 .1-.7 .1 1.5 .1-1.5 .1-4.2 .1 10 0-9.2 .1 6 .1-2.8 .1-2.1 .1 7.9 .1-21.3 .1 14.7 .1-2.2 .1 6.4 .1 3.1 .1-2.5 .1-12.1 0 2.3 .1 11.2 .1-14.2 .1 10.8 .1-5.6 .1 7.5 .1-8.3 .1 .7 .1-2.6 .1 4.1 .1-5.6 .1 6.9 0-3.3 .1 0 .1-5 .1 6.6 .1-7.2 .1 1.3 .1 7.8 .1 8.4 .1-11.8 .1 5 .1-14.3 .1 6.9 0 3.1 .1-1.4 .1-6.6 .1 10.8 .1 5.1 .1-9.6 .1 2 .1-.9 .1-4.7 .1 3.4 .1-3.6 .1 1.4 0-2 .1 .1 .1 4.9 .1-6.1 .1 8.8 .1-5.5 .1 .7 .1-5.3 .1 2.8 .1 5.8 .1-11.9 .1 7.4 0 7.6 .1-.8 .1 4.4 .1-13 .1 12.1 .1-12.7 .1-5.2 .1 10.7 .1 10.4 .1-2.4 .1-.6 .1-2.4 0-2.8 .1 1.7 .1 0 .1-9.2 .1 5.5 .1 4.6 .1 9.9 .1-19.7 .1 13.2 .1-13.8 .1 7.6 .1 1.3 0 .1 .1-8.6 .1 7.8 .1 16.6 .1-17.5 .1 6.9 .1-1.9 .1-3 .1-1.4 .1-3.8 .1-3 0 7.3 .1-1 .1-5 .1 9 .1-3.5 .1 6.1 .1-3.3 .1 .1 .1-2.3 .1-.9 .1 5.8 .1-6.4 0 10.6 .1-7.9 .1 2.8 .1 2.3 .1 1.4 .1-9.4 .1-10.3 .1 15.4 .1-2 .1-7.6 .1 13.2 .1-12.3 0 .8 .1 2.9 .1-.4 .1-4.7 .1-.2 .1 5.7 .1 2 .1 4.5 .1-10.9 .1-7.4 .1 13.5 .1-4.8 0-.1 .1 2.1 .1 .1 .1-8.7 .1 16 .1-10.5 .1 8.1 .1 2.4 .1-4 .1-4.3 .1 3.5 .1-3.7 0 1.2 .1 6.3 .1-12.5 .1 5 .1-7.8 .1 1.5 .1 3.4 .1 8.2 .1-4.2 .1 9.7 .1-5.5 .1 5.6 0-15.4 .1 8.7 .1-7.8 .1-1.1 .1 6.6 .1-4.9 .1 5 .1-6.7 .1-3 .1 11.6 .1-8.3 .1 9.4 0-4.6 .1 1.5 .1 .1 .1-5.3 .1 10.8 .1-7 .1 6.8 .1-9.9 .1 9.5 .1-.9 .1-4.1 .1 6.7 0-9.4 .1-3.7 .1 6.4 .1 6 .1-10.4 .1 9.5 .1-5.2 .1 7 .1-14.7 .1 12.9 .1-.3 .1-2.4 0-5.4 .1 8.6 .1-5.5 .1 3.3 .1 7.2 .1-3.1 .1-3.3 .1-3.7 .1 .8 .1-1.3 .1 5.1 .1-12.2 0 18 .1-2.8 .1-3.2 .1-4.2 .1-8.2 .1 10.2 .1-2.9 .1-1.6 .1-.3 .1 1.7 .1-2.6 .1-1.7 0 .9 .1 5 .1-12.2 .1-2.4 .1 13.7 .1 6.2 .1-14.7 .1 5.8 .1-6.9 .1 9.6 .1 3.9 .1-10.9 0 1.4 .1 9.6 .1-4.3 .1-4.4 .1 3.8 .1 1.6 .1-.2 .1 5.9 .1-8.2 .1-2.3 .1-3.3 0 16.8 .1-11.7 .1 1 .1 1.4 .1 4.5 .1-2.7 .1-2.5 .1 2.8 .1-5.9 .1 13.1 .1-14.9 .1 1.3 0 6.9 .1-3.2 .1 10.9 .1-12.4 .1 4.7 .1 1 .1-4.8 .1 10.4 .1-9.1 .1-2.6 .1-1.2 .1 11.3 0-15.6 .1 6.5 .1 5.1 .1 1.3 .1 .1 .1-3.8 .1-5.2 .1 14.5 .1-.7 .1-4 .1 1.9 .1-13.7 0 18.4 .1-9.6 .1 2.6 .1 4.5 .1-4.2 .1-5.2 .1-.3 .1-8.1 .1 12.5 .1-.5 .1-3.8 .1-13.1 0 8 .1 12.1 .1-14.3 .1 6 .1 3.4 .1-9.1 .1 1.8 .1 6.5 .1-.4 .1-2.5 .1-15.1 .1 22.9 0-5.5 .1 6.7 .1 .2 .1-10.8 .1 2.3 .1-3.8 .1 .6 .1-9.9 .1 8.9 .1 4.8 .1-3.8 .1 3.3 0 1 .1 6.3 .1-16.2 .1 15.9 .1-20.3 .1 14.5 .1-5.1 .1 4 .1-1.5 .1 2.5 .1-5.6 .1 4.3 0-1.4 .1-8.6 .1 15.7 .1-7.5 .1 4 .1-11.5 .1 19.8 .1-4.8 .1 4.7 .1 5.8 .1-18.4 .1 3.1 0-.9 .1 8.4 .1-4.5 .1 2.1 .1-5 .1-2.9 .1 7.6 .1-8.9 .1 4.4 .1 5.4 .1-6.6 .1 1.1 0-.4 .1-3.4 .1-5.6 .1 7.3 .1-9 .1 6.4 .1 0 .1-11 .1 17.9 .1-5.9 .1 2.3 .1 4.1 0-3.9 .1 1 .1-1.5 .1 10.5 .1-15 .1 .5 .1 11.6 .1-4.8 .1-1.4 .1 7.4 .1-9.8 .1-23 0-4.2 .1 3.9 .1-4.8 .1 7.1 .1-9.3 .1 1.7 .1 6.2 .1-.1 .1-4.2 .1 3.3 .1-1.3 0-5.1 .1 20.1 .1-8.2 .1-8.6 .1 10.5 .1-5.8 .1-.9 .1 6.6 .1-7.8 .1 1.8 .1 2.9 .1-11 0 14.3 .1-13.6 .1 4.2 .1 5.7 .1 .8 .1-7 .1-3.9 .1 5.4 .1 6.1 .1-9.9 .1 4.7 .1 .9 0-11.5 .1 9.8 .1-9 .1 3.9 .1 3.5 .1 .5 .1 1.4 .1-5.7 .1 12.1 .1-.6 .1 .3 .1-13 0 12.4 .1-2.9 .1 8 .1-11.8 .1 4.9 .1 7.3 .1-11.8 .1 3.8 .1-.6 .1 1.3 .1-1.6 .1 .3 0 11.5 .1-27.1 .1 20.5 .1-.5 .1 5.1 .1-6.2 .1 1.6 .1-3.6 .1-2 .1 7 .1-2.4 .1-.3 0-6.1 .1 0 .1-6.5 .1 3.8 .1 7.6 .1 2.8 .1 .4 .1-14.7 .1 12.5 .1-7.8 .1 6 .1-3.8 0 11.2 .1-7.1 .1-1.5 .1 4.1 .1-11.9 .1 13.8 .1 .9 .1-5.5 .1-13 .1 12.6 .1 .2 .1 2.1 0 .1 .1 .1 .1-1.3 .1-.7 .1-1.2 .1-1.8 .1 11.3 .1-6.9 .1 1.7 .1-4.4 .1 8.7 .1-5.7 0-2.8 .1-16.7 .1 17.8 .1 2.3 .1-6.2 .1 11 .1-7 .1-4.2 .1 1.7 .1 3.1 .1 2.5 .1-9.2 0 7.5 .1-2.1 .1 2.9 .1-5.8 .1-1.9 .1 10.6 .1-6.5 .1-.5 .1 5.9 .1-12.1 .1 1.8 .1-5.2 0 15.5 .1-10.6 .1 3.3 .1-.9 .1-3.2 .1-5.1 .1 3.4 .1 2.2 .1 5.2 .1-5.6 .1 4.1 .1-6.9 0 10.7 .1-10.8 .1 3.4 .1-1.8 .1 2.4 .1-5.1 .1 5.2 .1 4.4 .1 7.3 .1-14.1 .1 8 0-4.3 .1-3.8 .1 7.6 .1 3.1 .1-6.1 .1-12.4 .1 22.9 .1-18 .1 12 .1-17.2 .1 21.6 .1-7.7 0 3.6 .1 1.8 .1-1.8 .1 4.2 .1-3.3 .1-2.6 .1 4.9 .1-6.6 .1 5.7 .1-.7 .1-8.2 .1 5.6 0 2.3 .1-8.8 .1 4.9 .1-6.2 .1 7.2 .1-4.8 .1 9.9 .1-.3 .1 4.4 .1-15.1 .1 3.1 .1 2.3 0-3.4 .1-2.5 .1 1.3 .1-6.5 .1 13.9 .1-9.7 .1 3.5 .1 7.6 .1-16.8 .1 3.5 .1 5.4 .1 6.2 0-1.8 .1-2.5 .1 4.6 .1-20.7 .1 16.5 .1 3.4 .1 3.2 .1-5.2 .1 1.5 .1-5.1 .1-1.6 .1-2.9 0 1.4 .1 14.9 .1-9.3 .1 5.7 .1 2.4 .1-6.7 .1 8.5 .1-9.1 .1 5.4 .1-12.9 .1 10.5 .1-3.4 0-1.2 .1 5.9 .1-4.3 .1 3 .1 11.2 .1-5.6 .1-5.9 .1-1.5 .1-1.6 .1 8.6 .1-15.2 .1 4.2 0 7.8 .1 6.5 .1-11.9 .1 3 .1-4.4 .1-2.3 .1 7.4 .1-8.7 .1-1.2 .1 3.2 .1-1.5 .1 4.1 0-.4 .1-10.8 .1 13.7 .1-2.5 .1-2.9 .1 9.4 .1-10.7 .1 5.1 .1-10.3 .1 7.1 .1-16.2 .1 12.5 0-1.7 .1 10.6 .1 2.5 .1-7.5 .1 8.9 .1-9.3 .1-3.6 .1-3 .1 9.8 .1 .3 .1-8.4 .1-.7 0 4.3 .1 1.5 .1-.1 .1-4.7 .1 3.9 .1 2.5 .1-5.2 .1-2.7 .1-1.3 .1 20.4 .1-12.4 .1-4.3 0 11.5 .1-4.6 .1-7.2 .1 7.1 .1 1.8 .1-1.8 .1 3.7 .1-9.1 .1 4.7 .1-.9 .1-6.6 0 5 .1 .5 .1-.8 .1-26.7 .1 24.2 .1 1.8 .1 3.9 .1-.1 .1-6.7 .1 6.7 .1 7.6 .1-13.5 0 9.8 .1-6.7 .1-22.4 .1 20.4 .1 10.6 .1-3.5 .1-7.2 .1 9.1 .1-9.2 .1 4.4 .1 .5 .1-10.9 0 9.1 .1-8.8 .1 12.8 .1-3 .1-.7 .1 1.3 .1 6.8 .1-21.9 .1 8.6 .1 7.9 .1-6.1 .1-10.3 0 11.7 .1 4.1 .1-3.8 .1-3.6 .1 .7 .1 3 .1-1.9 .1-5.4 .1 5.7 .1-1.2 .1 2.8 .1 2.3 0-.5 .1-12.4 .1 12.6 .1-11.9 .1 9.7 .1-1.7 .1-7.4 .1 14.6 .1-6.3 .1 9.6 .1-2.9 .1-6.6 0 7.7 .1-2.1 .1 6 .1-.8 .1-4.1 .1-20.1 .1 17.8 .1 1 .1-5.5 .1-3.7 .1 .6 .1 7.2 0 4.5 .1-6.5 .1 3.4 .1 2 .1-10.8 .1 3.9 .1 8.7 .1-10.1 .1-5 .1 1.9 .1 15.7 .1-10.2 0 6.5 .1 .9 .1-21.6 .1 16.2 .1-.9 .1-3.1 .1 8.8 .1-2.4 .1-1.2 .1-8.3 .1 3.8 .1 13.5 0-6.9 .1-7.2 .1 2.6 .1-2.1 .1 2.2 .1-1.1 .1-10.2 .1 8.1 .1-1.6 .1 9.5 .1 3.7 .1-9.1 0-11 .1 15.4 .1-.9 .1-7.8 .1 4.4 .1-.5 .1 9.6 .1-5.4 .1 6.6 .1-11.5 .1 4.9 .1-4.2 0 .8 .1 2.6 .1 1.6 .1-2.8 .1-1.5 .1 10.8 .1-2.2 .1-3.4 .1-4 .1 2.5 .1 3.2 .1 .8 0 1.6 .1-6.8 .1 5.9 .1-6.6 .1-2.2 .1-6.5 .1 15.5 .1-5.5 .1 4.1 .1-18.9 .1 17.6 0-5.2 .1 4.3 .1-.4 .1-.7 .1 8.8 .1-1.1 .1-13.2 .1 12.6 .1-6.5 .1 .9 .1-4.1 .1 8.3 0-11.3 .1 16.5 .1-9.9 .1-2.9 .1 7.1 .1-6.5 .1-7.1 .1 10.6 .1-.9 .1-2.3 .1-3.7 .1 2.5 0-1.3 .1-4.6 .1-.2 .1 5.2 .1-3.8 .1 3.2 .1 2 .1-7.7 .1 11.2 .1 .7 .1-7.6 .1 10.2 0-4 .1-10.1 .1 14.3 .1-6.7 .1 3.7 .1 4.8 .1-8.6 .1-2.6 .1 13.2 .1-19.2 .1 14.3 .1-11.1 0 6.1 .1-.4 .1-.3 .1-.3 .1-2.3 .1 11.7 .1-8.4 .1-9.6 .1 5 .1 6.7 .1-1.3 .1-9.7 0 14.6 .1-6.4 .1-6.6 .1 8.1 .1-7.9 .1 4.2 .1-.3 .1 2.3 .1-5.7 .1 3.1 .1-7.6 .1 11.8 0-12.9 .1 12.6 .1 .4 .1 2.1 .1-9.6 .1 0 .1 9.6 .1-21.5 .1 15.6 .1-4.2 .1-2.5 .1-1.1 0 14.7 .1 9.5 .1-23.7 .1 13.2 .1-11.1 .1 1.4 .1 2.3 .1-1.9 .1-2.4 .1 11.5 .1-6.7 .1 3.1 0-14.7 .1 10.7 .1-3.6 .1 5.9 .1-.6 .1-1.4 .1 .8 .1-4.5 .1 .3 .1 13.8 .1-12.5 .1-3.2 0 5.5 .1-7.2 .1 7.3 .1 1.5 .1 1.9 .1 8.1 .1-12.6 .1-2.2 .1 11.6 .1-10.8 .1 6.2 .1-2.8 0-1.4 .1 4.2 .1-8.4 .1 18.4 .1-7.9 .1 3.4 .1-3.2 .1-4.5 .1 6.3 .1-.7 .1-8.5 .1 13.1 0-8.7 .1 7.3 .1-4.1 .1 1.2 .1-4.2 .1 .4 .1 3.6 .1 1.2 .1-2.1 .1-12.1 .1 8.9 0 9.1 .1-9.3 .1-.1 .1 9.1 .1-3.3 .1-11.5 .1-2.1 .1 3.5 .1 2.6 .1 7.3 .1-13.4 .1 4.4 0 9.3 .1-9.3 .1 12.4 .1-8.8 .1 2.4 .1 .7 .1-7 .1 3 .1-1.6 .1 4 .1 3 .1 1.7 0-17 .1-1.3 .1 4.3 .1-1.7 .1-5.3 .1 8.6 .1 1.1 .1 5.5 .1-.6 .1-6 .1 7 .1-.2 0-9.2 .1 1.7 .1 1.6 .1-3.6 .1 9.4 .1 3.1 .1-9.1 .1 5.8 .1 4.5 .1 .1 .1-5.9 .1-12.4 0 22.4 .1-6.3 .1-10.1 .1 7.8 .1-1.9 .1 7.5 .1-18.1 .1 7.8 .1 12.2 .1-20 .1 8.9 .1 4 0-6.3 .1-.1 .1 6.3 .1 .7 .1-4.1 .1 3.6 .1 2 .1-6.6 .1-4.9 .1 6.8 .1 5 .1-.5 0-8.4 .1 11 .1-8.9 .1-6.8 .1 9.4 .1-1.5 .1 4.3 .1-5.1 .1 3.3 .1-6.9 .1 .7 .1 8.2 0-7.7 .1 13.9 .1-8.1 .1-5.9 .1 7.3 .1-1.9 .1-2.1 .1-4.9 .1-16.4 .1 17.3 .1 5.8 .1-8.4 0-1.5 .1 7.1 .1 1.7 .1-3.7 .1-.6 .1 6.2 .1 5.1 .1-5.8 .1-1 .1-11.3 .1 11.4 .1-2.7 0-3.7 .1 1.1 .1 4.5 .1-7.5 .1 7.9 .1-10.2 .1 1.4 .1 6.9 .1 1 .1 11 .1-14.4 .1 3.9 0-8.1 .1 7.3 .1 1.5 .1 2 .1-14.2 .1 19.3 .1-4.5 .1-4.8 .1 9.4 .1-14.8 .1 9.4 .1-2.2 0 5.4 .1-9.1 .1 2.6 .1-1.5 .1 1.6 .1 3.1 .1 2.5 .1 0 .1-7 .1-3.1 .1 1.4 0 3.8 .1 6.6 .1 1.1 .1-8.5 .1-1.7 .1 .3 .1 2.1 .1-3.5 .1 9.8 .1-4.8 .1-6.6 .1 14 0-10.8 .1 4.2 .1-2 .1 .6 .1 3.3 .1-3.5 .1-.8 .1 .2 .1 10.5 .1 2.2 .1 0 .1-15.1 0 12.5 .1-11.4 .1 .4 .1-.7 .1 7.8 .1-11.2 .1 6.9 .1-3.6 .1 14.5 .1-3.9 .1-1.2 .1-3.8 0-4.1 .1 13.3 .1-6.2 .1 .6 .1 6.3 .1-6.5 .1-9.6 .1 6.2 .1 5.2 .1-18 .1 4 .1 13 0-5.3 .1 6.1 .1-17.4 .1 16.4 .1-2.5 .1-7.3 .1 1.1 .1-7.9 .1 11.3 .1 3.9 .1-.4 .1-6 0 3.9 .1-5 .1 7.3 .1 2.3 .1-7.3 .1 3.6 .1 4.8 .1-6.2 .1-.9 .1 4.9 .1-1 .1-3.4 0 .2 .1 2.5 .1-6.8 .1-2 .1 3.3 .1 .7 .1 2.4 .1-2.9 .1 10.4 .1-12.1 .1-2.3 .1 6 0-5.2 .1-3.9 .1 5.1 .1 .5 .1-11.3 .1 23 .1-6.2 .1-5.8 .1 2.2 .1 4 .1 8.3 .1-8.3 0 1.3 .1-.3 .1 1.2 .1-5.2 .1 4.1 .1-10.9 .1 14.2 .1-12.6 .1 1.7 .1-7.2 .1 8.8 .1 3.3 0 7.4 .1-11.6 .1-1.3 .1 3.3 .1-8.9 .1 12 .1-1.6 .1-17.8 .1 18.5 .1-6.3 .1-7 .1 18.2 0-15.6 .1 7.9 .1 5.3 .1-10.7 .1 11.6 .1-3.7 .1 6 .1-3 .1-4.7 .1 1.5 .1-5.7 .1 1.7 0 3.6 .1 .4 .1 7.8 .1-12.9 .1-2 .1 6.1 .1 7.3 .1-1.7 .1-7.8 .1-2.1 .1 5.1 0-5.8 .1 2.2 .1 6.4 .1-16.3 .1 10.9 .1 1 .1 10.4 .1-16.4 .1 11.6 .1 1.1 .1-12 .1 9.5 0 2.3 .1-7.3 .1-2.3 .1 10.6 .1-7.9 .1 6.6 .1-.2 .1 1.5 .1-12.1 .1 4 .1-6.6 .1 1.5 0 11.3 .1-10.4 .1 5.8 .1-1.3 .1 5.8 .1-8.9 .1 .7 .1 2.8 .1-.9 .1-12.8 .1 7.5 .1 4.6 0 14.9 .1-3 .1-15.7 .1 3.9 .1-5 .1 13.1 .1 .6 .1-9.4 .1 3.2 .1-1 .1 8.6 .1-6.8 0-4.3 .1 0 .1-2.9 .1 3 .1-3.2 .1 .5 .1 4 .1-.1 .1-3.4 .1 5.8 .1 4.6 .1-11.1 0-3.3 .1 7.3 .1-.6 .1-2.7 .1 8.8 .1-1.2 .1 3.6 .1-21 .1 10.4 .1 .4 .1 8.7 .1 2.4 0 .9 .1-10.4 .1 5.5 .1-3.4 .1-.7 .1 9.5 .1-10 .1-.7 .1 12.6 .1-5.2 .1-1.4 .1-2.1 0-1.7 .1-7.5 .1 6.2 .1-1 .1 6.1 .1-2.6 .1 1.8 .1-11.4 .1 13.8 .1-6.7 .1 15.3 .1-17.4 0 7.8 .1-23.1 .1 22.2 .1-10.9 .1 3.1 .1 7.3 .1-2.9 .1-3.2 .1 10.8 .1-8.1 .1 6 .1 1.7 0-3.7 .1-1.5 .1-4.6 .1-5.9 .1 16.1 .1-11.5 .1 9.8 .1-6.8 .1 4.2 .1-3.6 .1 2.9 .1 2.3 0-6.6 .1 8.7 .1-9 .1 8.1 .1-1.4 .1-2.5 .1 8.7 .1-29.9 .1 18.2 .1 3.2 .1 2.3 .1-2.4 0-3.4 .1 3.4 .1 6.3 .1-2.4 .1 .2 .1-8 .1 4.9 .1-.9 .1 5 .1-2.3 .1 6.2 0-8.9 .1 7.5 .1-11.6 .1-2.9 .1 2 .1 3.3 .1 4.2 .1-3.3 .1 4.8 .1-16.6 .1 9.6 .1 7.2 0-5.4 .1-1.4 .1-5 .1 9.1 .1-9 .1 4.3 .1-6.7 .1 14.7 .1-8.6 .1 2.2 .1 5.8 .1-8.9 0 4.5 .1-1.9 .1 4.7 .1-3.2 .1-11.7 .1 7.3 .1-1.2 .1 13.4 .1-4 .1-12.2 .1 11.7 .1 .2 0 1.1 .1-9.4 .1-1.9 .1 10.2 .1-10.8 .1 5.4 .1 .7 .1 .8 .1-.6 .1-3 .1 11 .1-6.9 0 4.8 .1-3 .1-1.4 .1-1.4 .1-.5 .1-4.6 .1 4.7 .1 .7 .1 2.2 .1-1.9 .1-1.6 .1 2.3 0-5.1 .1 .4 .1 5.5 .1-2.8 .1-15.4 .1 18.5 .1-7.1 .1 6.3 .1-1.2 .1 5.1 .1-3.1 .1-1.5 0-3.3 .1 5.8 .1 4.6 .1-5.8 .1 3.8 .1-2 .1 3.4 .1-4.7 .1 3.4 .1 10.1 .1-7.1 .1-5.7 0-1.3 .1-.7 .1 3.6 .1-7.6 .1 12.1 .1 9.2 .1-14.9 .1-.4 .1-7.9 .1 11.2 .1 .7 .1 4.1 0-9.3 .1 4.8 .1-14.2 .1 11.8 .1-4.7 .1 3.9 .1-3.4 .1-2.3 .1 6.2 .1-.5 .1-12.5 .1 14.1 0 .8 .1-1.7 .1-5.9 .1 3 .1 1.1 .1-1.3 .1-6.9 .1 15.2 .1-9.5 .1 2.1 .1-1.4 .1 1.5 0-14.9 .1 3.4 .1 14.1 .1-7 .1 6 .1-5.9 .1 .5 .1-2.3 .1 15.3 .1-13.5 .1 3.3 .1-5.8 0 2.3 .1-.1 .1-4.6 .1-.6 .1 2.2 .1 16.7 .1-18.9 .1 4.9 .1 3.8 .1-14.8 .1 15.9 0-7 .1 1.9 .1 4.3 .1-7.7 .1 .8 .1 6.2 .1-2.5 .1-1.2 .1 11.5 .1-23.1 .1-12.4 .1 20.8 0-1.5 .1 4.4 .1 2.3 .1-.6 .1-2.6 .1-3.7 .1-3.5 .1-1.4 .1 5.7 .1-3.9 .1 7.3 .1 6.8 0-10.1 .1 7.9 .1-3.4 .1-3.1 .1 9.7 .1-5.3 .1-.3 .1-.5 .1 8.5 .1-9.7 .1-15.8 .1 20.9 0-2.1 .1-3.2 .1-8.7 .1 7.9 .1 10.2 .1-8.9 .1 .3 .1-1.7 .1 4.4 .1-3.6 .1-.5 .1 2.5 0 6.6 .1-9.5 .1 4.7 .1-8.5 .1 20.8 .1-16.8 .1-3.3 .1 11.5 .1 2.1 .1 0 .1-2.4 .1-10.5 0 9.8 .1-2 .1-.3 .1 4.3 .1-5.6 .1 6.5 .1-13.2 .1 6.6 .1 .4 .1-5.4 .1-7.8 .1 10.1 0-.8 .1-11.6 .1 19.5 .1-2.2 .1 1.3 .1-2.9 .1-3.2 .1-.8 .1 10.3 .1-13.8 .1 21.1 .1-8.2 0-5.7 .1-4.3 .1-9.1 .1 12.9 .1-.3 .1-.8 .1-.6 .1 9.2 .1-16 .1 12.5 .1-11.4 .1 8.2 0-1.9 .1 2.3 .1 3.6 .1-3.1 .1-17.9 .1 9.1 .1 3.3 .1 8.4 .1-8.2 .1 2.1 .1 2.1 .1 3.4 0-5.7 .1 2.9 .1-3.4 .1 3.6 .1-16.8 .1 23.8 .1-7.8 .1-1.1 .1-.1 .1-.7 .1-8.9 .1 2.3 0 1.5 .1 9.6 .1-.9 .1-1.1 .1-4.3 .1 2.9 .1 4.4 .1 2.4 .1-8.9 .1 2.4 .1-7.2 .1 1.5 0 7.3 .1-9.1 .1 10.6 .1-3.8 .1 .1 .1-.9 .1-2.5 .1 4.2 .1-8 .1-.8 .1 6.7 0 2.1 .1-6.9 .1 3.8 .1 9.5 .1-3.6 .1-2.9 .1 4.3 .1-2.8 .1-2.1 .1 1.7 .1-26 .1 19.4 0 9.7 .1-7 .1 .9 .1-3.3 .1 5.6 .1-16.5 .1 16.7 .1 1.4 .1-14.2 .1-1.7 .1 4.9 .1 3 0-4.6 .1 10.1 .1 4.1 .1-3.5 .1-2.9 .1-7.7 .1 14.2 .1-11.6 .1 2.4 .1 4.5 .1 5.1 .1-2.1 0-8.8 .1-5 .1 12 .1-5.2 .1-7.3 .1-5.7 .1 16.1 .1 9 .1-13.3 .1 2.2 .1-6.9 .1 12.9 0-10.3 .1 5.4 .1 7.8 .1-9.6 .1-6.4 .1 10.5 .1-9.7 .1 2.5 .1-25.5 .1 33.7 .1-13.8 .1 5.1 0 7.8 .1 6.2 .1-9.4 .1-.3 .1-5.6 .1 8.1 .1 1.7 .1 2.9 .1 1.8 .1-14.2 .1 .1 .1 1.7 0-1.6 .1 3.3 .1-4.3 .1 9.5 .1-3.9 .1 7.1 .1-17.2 .1 11.7 .1 11.5 .1-3.3 .1-.6 .1-13.7 0 3 .1-3.6 .1 7 .1-4 .1 5.8 .1 2 .1-2.2 .1 4.3 .1-1 .1-8.4 .1 13.8 .1-7.7 0 2 .1 9.2 .1-13.4 .1 2.6 .1-1.2 .1-.3 .1 13.2 .1-12.6 .1 12 .1-8.9 .1 9.5 .1-14.1 0-1.7 .1 9.1 .1-9.2 .1-6 .1 15.5 .1-13 .1 10.3 .1-2.9 .1-2.6 .1 10.2 .1-1.1 .1-3.1 0-3.4 .1 9.2 .1-6.3 .1-5.8 .1 .8 .1-.1 .1 3 .1-7 .1 12 .1-9.3 .1 10.5 .1 .4 0-6.6 .1 1.1 .1 3 .1-2.3 .1 6.6 .1-.2 .1-5.2 .1 4.8 .1-13.4 .1 13.7 .1 1.5 0-11.8 .1-3.4 .1 12.5 .1 1.5 .1-11.8 .1 11.5 .1-10.9 .1 4.7 .1 1.8 .1-1.2 .1 2.7 .1-4.5 0 .8 .1 12.2 .1-.2 .1-2.7 .1-14.9 .1 3.9 .1 3.3 .1-1.5 .1-1.9 .1 4 .1 1.2 .1-6.5 0 8.5 .1 3.4 .1-13 .1 4.4 .1 3.9 .1-10.5 .1 5.7 .1 13 .1-16.8 .1 .4 .1 5.1 .1 .3 0-6.2 .1-1.7 .1 8.2 .1 1.1 .1-9.9 .1 21 .1-13.8 .1-2.8 .1-2.5 .1 1.7 .1 11.1 .1-9.7 0 7 .1-8.5 .1-.3 .1-2.6 .1 10.9 .1 .8 .1-15.4 .1 17.3 .1-12 .1 5.3 .1-2.7 .1-3.9 0 15.2 .1-5.7 .1-4 .1-26.6 .1 7.7 .1 14.8 .1 .6 .1-1.5 .1 12.5 .1-16.1 .1 2.2 .1 0 0 13.4 .1-12.9 .1 1.7 .1-2.4 .1 9.9 .1-8.6 .1 3.5 .1 4.1 .1-6.2 .1-1.3 .1-.2 .1 4.6 0-1.8 .1 .8 .1-7.7 .1-.8 .1 10.2 .1-9.9 .1 4.7 .1 4.2 .1-5.5 .1 3.6 .1-4.1 .1 9.6 0-4.8 .1-7.4 .1 2.4 .1 11.4 .1-2 .1-1.5 .1 .5 .1 .1 .1-3.5 .1-5.1 .1 10.6 .1-8.6 0 3.5 .1 8.6 .1-6.8 .1-1.8 .1-12.2 .1 10.8 .1 5.5 .1 4 .1-16.4 .1 10.5 .1-5.2 .1 7 0 4 .1-5.9 .1 17.6 .1-19.1 .1-10.2 .1 13.6 .1-7.4 .1-2.7 .1 4.3 .1 4.1 .1-5.9 .1 7.4 0 6.2 .1-12.9 .1 4.3 .1-1.9 .1 .6 .1 7.7 .1-3 .1-10 .1 7.6 .1-1 .1 4.1 0-7.3 .1 14.7 .1-11.9 .1-5.3 .1 1.5 .1 .6 .1-10.5 .1 13.1 .1-1.9 .1-8.3 .1-.6 .1 11.9 0-3.2 .1-.7 .1-.6 .1 3.1 .1 6.7 .1-7 .1-3.6 .1 2.9 .1-12 .1 10.6 .1 7.9 .1-7.6 0-2.5 .1 2.9 .1 10.4 .1-.1 .1-6.6 .1-.8 .1-2.7 .1 5.6 .1-7.2 .1-6.4 .1 8.4 .1 1.3 0 .5 .1-2.1 .1-3 .1 7.6 .1 .3 .1-16 .1 23.5 .1-8.2 .1-3.1 .1 3.3 .1-14 .1 3 0 4.1 .1 .3 .1 10.5 .1-7.8 .1 8.9 .1 4.8 .1-9.5 .1 .8 .1-1.9 .1 3.3 .1-8.7 .1 2.9 0 .6 .1-9.7 .1 2.4 .1 12 .1-8.2 .1-3.7 .1-2.6 .1 4.2 .1 6.8 .1 12.2 .1-19.7 .1 23.9 0-4.6 .1-15 .1 2.6 .1 4.6 .1-2.7 .1-.6 .1 2.6 .1-3 .1 1.1 .1-2.8 .1 4.7 .1-5.2 0-7.2 .1 12 .1-4.3 .1-.1 .1 9.6 .1-12.7 .1 4 .1 4.5 .1-1.4 .1-3 .1 .6 .1-14.9 0 21.7 .1-13.5 .1 5.7 .1-4.8 .1 6.5 .1-1.3 .1 1.2 .1-12.1 .1 10.5 .1-9.5 .1 4.2 .1 3.6 0-5.1 .1-2.1 .1 6.5 .1-4 .1 6.9 .1 .6 .1 4 .1-9.7 .1 5.7 .1-15.6 .1 10.7 .1 .8 0-.6 .1 1.9 .1 1.6 .1-5.5 .1 8.1 .1-15.4 .1 18.1 .1-1.2 .1-3.5 .1-1.1 .1 2.7 .1-2.1 0-.7 .1-3.7 .1 8.2 .1-10.4 .1 12 .1-3.7 .1 .4 .1-3.5 .1-1.9 .1-.4 .1 6.8 0-5.9 .1 1.3 .1-.3 .1-1.4 .1 5.4 .1 1.9 .1-5.1 .1 .3 .1 2.8 .1 5.2 .1-1.6 .1-16.4 0 13.4 .1-3.1 .1 1.9 .1 5.1 .1-.2 .1-.5 .1-7.8 .1 5.7 .1 1.7 .1-.7 .1-6.1 .1-.2 0 4.1 .1-5.8 .1-.1 .1-4.9 .1 8.4 .1-1.4 .1 1.1 .1-1 .1-.6 .1 1.9 .1-7 .1 4.9 0 2.8 .1-3.4 .1 5.4 .1-14.2 .1 17.6 .1-2.1 .1 .9 .1-10.2 .1-3.2 .1 6.1 .1 7.7 .1-6.2 0 0 .1-.1 .1 4.7 .1-7.4 .1 4.8 .1 .5 .1 1.7 .1-1.7 .1 10.4 .1-18.7 .1 13.3 .1-2.8 0-6.7 .1-1.8 .1 .9 .1 4.2 .1-4.6 .1 1.1 .1-6.4 .1 10.2 .1-4.3 .1-5.3 .1 10 .1-21.5 0 13.4 .1 1.3 .1 1.4 .1 6.4 .1-3.8 .1 1.8 .1-8 .1 7.8 .1-7.9 .1 17.7 .1-10.7 .1-3.7 0 3.6 .1 1.1 .1-4.1 .1-3.2 .1 11 .1-2.2 .1-2.7 .1-3.5 .1-9.9 .1 10.9 .1 2.1 .1 3.7 0-14.2 .1 7.1 .1-4.1 .1-11.2 .1 17.5 .1 .1 .1 4.6 .1-1.5 .1 6.1 .1-2.2 .1-3.4 .1 1.9 0-5.3 .1 5.3 .1-5.9 .1 4.1 .1-4.5 .1-7.7 .1 2.1 .1 16.2 .1-1.5 .1-9.2 .1 10.5 .1-7.8 0 2.6 .1-8.3 .1 16.9 .1-11.9 .1 7.7 .1-2.9 .1-3.2 .1-33.2 .1 37 .1-11.8 .1 10 .1-.9 0-5.9 .1-5.3 .1 5.6 .1-1.2 .1 4.6 .1-6.5 .1 4.7 .1-2.2 .1 11.4 .1-12.7 .1-3.4 0 9.4 .1-1.1 .1-5.4 .1 8.8 .1-2.4 .1-9.1 .1 16.2 .1-12.2 .1 2.8 .1-1.6 .1-2.8 .1 2.8 0 3.5 .1 6.3 .1 2.8 .1-.5 .1-9.9 .1-27 .1 30.7 .1-4.2 .1 7.5 .1-6.9 .1-1.2 .1-1.3 0 9.6 .1-1.1 .1-3 .1-1.3 .1-11.7 .1 7.7 .1 2.2 .1 8.8 .1-1.8 .1-8 .1 3.5 .1-2 0-.9 .1 2.8 .1-13.8 .1 13.7 .1-6.8 .1 14.3 .1-3.5 .1-2.1 .1-1.7 .1-4.8 .1-10.8 .1 13.5 0 0 .1-13.3 .1 5.6 .1 16 .1 1.1 .1-9.4 .1-6.7 .1 10.1 .1 1.2 .1-8.6 .1 5.5 .1-5.5 0 1.4 .1 9.8 .1 4.8 .1-12.4 .1 12.1 .1-13.4 .1-1.4 .1 2.2 .1 4.1 .1-5.4 .1 6.3 .1 4.9 0-5.6 .1 11 .1-6.4 .1-10.2 .1 6.6 .1-1.4 .1-2 .1-2.4 .1-2.5 .1 9.4 .1 2.1 .1-7.7 0 7.8 .1-6.4 .1-4.4 .1 6.6 .1 1.2 .1 .5 .1-4.5 .1-23.4 .1 31.4 .1-7.8 .1 8.3 .1-16.4 0 9.9 .1-2.8 .1 5.4 .1-5.1 .1 5.1 .1-11.7 .1 11.6 .1-7 .1 5.5 .1 .6 .1-1.5 .1-2.7 0 2.5 .1-11.7 .1 14.3 .1-8.1 .1 4.4 .1-3.6 .1 4.5 .1 10.9 .1-3.6 .1 2.1 .1-13.1 .1-4.1 0 5.8 .1 1 .1 6.2 .1-2.3 .1-2.3 .1-2.2 .1-2 .1 1.3 .1 1.3 .1 9.6 .1-4 .1-7.8 0 12.6 .1-9.3 .1 1.5 .1 3.8 .1-13.7 .1 20.9 .1-7.4 .1-14.6 .1 6.2 .1-6.1 .1 15.7 0-3.7 .1-2.9 .1-4 .1 10.6 .1 5.2 .1-10.9 .1-1.6 .1 5.3 .1-3.9 .1 6.6 .1-6.8 .1 2.8 0-6.9 .1 3.6 .1 .9 .1-.4 .1-6.1 .1 5.1 .1 2.1 .1 3.6 .1-2.7 .1-5.8 .1-5.4 .1 15.9 0-12.2 .1 8.1 .1-3.7 .1-.5 .1 9.2 .1-11.4 .1-4.4 .1-20.8 .1 25.4 .1-3.3 .1 5.1 .1-4.9 0-.9 .1 16.3 .1-13.2 .1 .8 .1 9.8 .1-5.6 .1-8.9 .1-1.6 .1 21.5 .1-16.3 .1 1.4 .1 1.3 0-.9 .1-2.5 .1 7.4 .1-4.8 .1 5.2 .1-1.2 .1-.9 .1 2 .1-3.2 .1-.9 .1-8 .1 3.1 0 7 .1-17.2 .1 8.6 .1 12.7 .1 3.8 .1-14.5 .1 12.6 .1 4.7 .1-14.8 .1 4.8 .1-6.9 .1 6.1 0-2.4 .1-2.9 .1 3.1 .1 .3 .1 1.6 .1-8.1 .1 6.5 .1-1.7 .1 2.1 .1-5 .1-17.2 .1 14.8 0 7.4 .1-8 .1 4.8 .1 6.4 .1-11 .1 15 .1-9.3 .1 4 .1-6.1 .1-2.6 .1 8.5 .1-3.2 0 .1 .1-6.2 .1-4.1 .1 5.4 .1-1.8 .1 4.3 .1 3.7 .1-5.6 .1-2.1 .1 9.1 .1-3.8 .1 3.3 0-8.4 .1-5.2 .1 13.5 .1-7 .1 1.3 .1 4.7 .1-3.5 .1 5.4 .1-1.7 .1-.9 .1-4.7 .1 .5 0 10.4 .1-17.3 .1 9.9 .1 .2 .1 .3 .1-.3 .1-1.4 .1 0 .1-1.7 .1 2.1 .1 3.1 .1-1.6 0-5.8 .1 3.3 .1-6.1 .1 9.4 .1-1.8 .1 10.4 .1-7.9 .1 .8 .1-10.2 .1 4.5 .1 7.6 0-5 .1-1.7 .1 2.7 .1 2.4 .1-4.8 .1-10.8 .1 18.4 .1-6.4 .1-8.7 .1 6.5 .1 2.4 .1 1.7 0 1.4 .1-13.5 .1 9.2 .1-7.6 .1 10.8 .1 6.4 .1-12.6 .1 2.5 .1 1.7 .1 2.7 .1 8.7 .1-11.6 0 3.8 .1 5.9 .1-5.1 .1 .5 .1-10.5 .1 6.4 .1 3.2 .1 2.9 .1-6 .1 9.9 .1-22 .1 15.3 0-11.8 .1 2.5 .1 3.5 .1 1.7 .1 13.5 .1-13 .1-15.5 .1 2 .1 19.8 .1 1.4 .1-3.5 .1-4.1 0 2 .1 3.6 .1 3.1 .1 .2 .1-9.4 .1 2.8 .1-1.1 .1 4.9 .1-6.5 .1 2.2 .1 6.3 .1-10 0 4.1 .1 3.3 .1 3.1 .1-14.2 .1 2.6 .1-.6 .1 10.1 .1-.3 .1-13.5 .1 12.4 .1-2.6 .1 2.5 0 7.4 .1-12.8 .1-9.1 .1 10.8 .1-.6 .1-1.3 .1 4.6 .1-16.3 .1 14.3 .1 4.5 .1-2.1 .1 3.7 0-7.1 .1 6.6 .1-6.7 .1 2.2 .1 .5 .1 6.1 .1-2.7 .1-.5 .1-4.7 .1 5.3 .1-8.1 .1 3 0 9.8 .1-3.3 .1 2.6 .1 2.9 .1-13.2 .1 5.7 .1-15.8 .1 15.7 .1 8.1 .1-16.4 .1 7.7 .1 7.5 0-16.1 .1 9.4 .1-3 .1-.6 .1-19 .1 14.2 .1 3.6 .1-2.6 .1-.7 .1 9.1 .1-1.2 .1-15.9 0 7.7 .1 13.5 .1-6.5 .1-1.8 .1 1.3 .1 4.5 .1-11.4 .1 1.7 .1-5.8 .1 9.7 .1 12.1 .1-8.4 0-2.1 .1-.2 .1 .5 .1-5.8 .1 4.6 .1-5.3 .1 1.9 .1-1 .1 9.7 .1-13.9 .1 9.9 0-3.5 .1-7.4 .1-2.1 .1 16.5 .1-2.2 .1-6.8 .1 1.5 .1-4.4 .1 4 .1 2.1 .1-2.9 .1 3.1 0 5.6 .1-4.7 .1-.9 .1 4.6 .1-4.9 .1-8.1 .1 14.2 .1-5.5 .1-1.8 .1-6.3 .1 .5 .1 16 0-15.1 .1 4.9 .1 5.3 .1-7.5 .1-2 .1-1.9 .1 11.2 .1-13.5 .1 12.3 .1 2 .1 1 .1-10.9 0 4.2 .1-2.6 .1 11.6 .1 3.5 .1-20.2 .1 16.9 .1 .8 .1-12.6 .1-2.3 .1 8.9 .1 4.4 .1-5.9 0-3.3 .1 6.8 .1-.4 .1-7.5 .1 3.3 .1-4.9 .1 4.1 .1 2.6 .1 3.4 .1-11.5 .1-6 .1 4.9 0 17.5 .1-25 .1 16.3 .1 9.5 .1-17.9 .1 11.1 .1-5.3 .1 1.7 .1-1.3 .1-11.5 .1 11.8 .1 2.5 0-1.1 .1 7.1 .1-3.6 .1 .9 .1-4.2 .1-5.3 .1 2.5 .1 1 .1 1 .1 2.7 .1-1.8 .1-9.4 0 8 .1-8.6 .1 2.9 .1 3.1 .1 4.2 .1-8.2 .1 9.2 .1 0 .1-6.2 .1-.4 .1-1.8 .1-9 0 9.1 .1 2.8 .1 8.3 .1-15.6 .1 14.9 .1-.2 .1 2.5 .1-19.3 .1 22.3 .1-14.9 .1 3.7 .1-5.7 0-4.3 .1 12.4 .1 .6 .1-9.4 .1 10.3 .1-4.3 .1-6.6 .1-.8 .1-1.3 .1 .6 .1 4.1 .1 4.8 0 4.3 .1-1.6 .1-9.6 .1 3 .1-4.4 .1-1.6 .1 10.9 .1-3.3 .1-3.2 .1 4.3 .1 .6 .1-3.8 0 3.6 .1 3.5 .1-14.2 .1 8.7 .1 .9 .1 5 .1-14.2 .1 15.7 .1-.2 .1-2.4 .1-9.3 0 8.2 .1 .2 .1-7.6 .1 1.7 .1 4.7 .1-2.7 .1 4.4 .1-2.8 .1-4 .1-1.6 .1-1.8 .1 11.3 0 1.4 .1 1.2 .1-9.8 .1-2.9 .1 8.1 .1 6.2 .1-6.8 .1-.4 .1-2.6 .1 0 .1-.1 .1 0 0 13.7 .1-14 .1 2.2 .1-9.2 .1 7.6 .1-.2 .1 1.8 .1 .6 .1 .7 .1-1.4 .1-3.6 .1-10.1 0 22.9 .1-3.7 .1-12.1 .1-4.9 .1 11.8 .1 1.1 .1 5.3 .1-12.1 .1 .7 .1 3.1 .1-1.4 .1 6.3 0 .5 .1-1.3 .1 .7 .1-7.8 .1 7.7 .1-6.9 .1 2.8 .1 1.3 .1-4.7 .1-2.2 .1 2.8 .1 5.7 0 .1 .1-11.1 .1 16.7 .1 .4 .1-1.9 .1-2.2 .1-7.1 .1 1.6 .1 1.7 .1-3.1 .1 0 .1-1.2 0 4.1 .1 2.1 .1 3.2 .1-6 .1-2.3 .1 12.6 .1-16.2 .1-3.7 .1 9.9 .1-5.4 .1-.2 .1 4.3 0 5 .1 8 .1-.4 .1-7.9 .1-6.7 .1 5.7 .1 4.9 .1-5.6 .1-12.8 .1 12.9 .1 3.6 .1-2.2 0-1.3 .1 1.7 .1-1.5 .1-3.5 .1 6.2 .1-5.8 .1 4.4 .1-13.3 .1 4.9 .1 8.3 .1 8.4 .1-14.9 0-.7 .1-4.6 .1 1.6 .1 8.4 .1 1 .1-6 .1 .1 .1-.1 .1 3.7 .1-10.9 .1 9 .1-.6 0 0 .1 2.2 .1-3.4 .1 .9 .1-9.2 .1 14.8 .1-7.4 .1 12 .1-41.4 .1 32.9 .1 2.9 .1-2.1 0 1 .1 .7 .1 3.7 .1-6.6 .1-11.8 .1 5.4 .1-14.3 .1 29.4 .1-5.8 .1 6.8 .1-3.8 0-.3 .1-6.7 .1-5.8 .1 1.2 .1 7.8 .1-10.7 .1 4.7 .1 6.4 .1-.7 .1-4.1 .1-1.3 .1-.4 0 10.9 .1-14.8 .1 7 .1 5.1 .1-2.2 .1 8.3 .1-2.5 .1-8.3 .1-16 .1 14 .1 14.4 .1-11.5 0 1.8 .1-3.8 .1-2.7 .1 3.4 .1 2 .1 7 .1-6 .1-8.7 .1 12.9 .1-2.6 .1-12.7 .1 11.9 0-5.7 .1-9.7 .1 12.5 .1 3.4 .1 8.9 .1-8 .1-6 .1-.6 .1 3.9 .1 .5 .1-3 .1-1.4 0-6.3 .1 1.1 .1-3.8 .1 6.4 .1 .3 .1 1.2 .1-.9 .1 3.3 .1-3.5 .1 8 .1-1.9 .1 5.7 0-4.1 .1-5.1 .1 2.8 .1 10.2 .1-9.3 .1-3.2 .1 3.7 .1-4.5 .1 5.9 .1-5.8 .1 .3 .1-.4 0 7.1 .1-2.3 .1-6.8 .1 6.6 .1 6.1 .1-3 .1-12.7 .1 7.3 .1-1.8 .1-8.1 .1 1.3 .1-2.7 0 11.3 .1-6.2 .1 8.3 .1 0 .1-8.6 .1 14.5 .1-12.4 .1 6.8 .1-5.7 .1 2.5 .1 .3 .1-3.4 0 11.2 .1-1.9 .1-5.1 .1 8.2 .1-9.2 .1 9.3 .1-10.7 .1 8.5 .1-6.1 .1 2.2 .1-1.8 .1-2.2 0-2.6 .1-1.6 .1 8.6 .1 3.1 .1-6.6 .1-2.7 .1 8.4 .1-11.2 .1 10.3 .1-5.9 .1-15.2 .1 20.2 0-5.4 .1-6.8 .1 .4 .1 4.1 .1 1 .1-2.9 .1 11.2 .1-9.9 .1 4.1 .1 2 .1-6.5 .1-3.1 0 7.3 .1 2.9 .1-1.6 .1 10 .1-9.9 .1-2.6 .1-3.8 .1 13.2 .1 .7 .1-19.7 .1 17.9 0-7.1 .1 .7 .1-.5 .1-.8 .1 5.5 .1-.7 .1 5.2 .1-11.5 .1-.6 .1 9.7 .1-7.2 .1 .2 0-12 .1 14.5 .1-2.4 .1 2.2 .1 9.7 .1-15.5 .1 3.7 .1 1.1 .1-4.4 .1-3.8 .1 15.3 .1-10.9 0 8.1 .1-3.1 .1-5.5 .1 8.7 .1 8.9 .1-13.8 .1 4.5 .1-4.6 .1 4.9 .1-1.7 .1 4.9 .1-4.8 0 4.9 .1-2.3 .1-6.9 .1 1.2 .1 4.8 .1-3.5 .1 9.6 .1-3 .1-4.9 .1-1.7 .1 8.1 .1-12.1 0 .8 .1 9.7 .1 1.1 .1-.9 .1-13.2 .1 2.2 .1 15.6 .1-12.9 .1 .3 .1-4.8 .1 7.4 .1 6.8 0-11.6 .1 .8 .1 .5 .1 6.8 .1-6.8 .1 8 .1-2 .1-8.6 .1 8.9 .1-9.6 .1 2.5 .1-2.5 0 8.8 .1-3.3 .1-7.3 .1 13.5 .1-.5 .1-8.2 .1-1 .1-.3 .1 4.9 .1 7 .1-13 .1 6.5 0 6.2 .1-11 .1-1.4 .1 9.6 .1-.4 .1-1.4 .1-7.5 .1 3.5 .1-1.1 .1 7.3 .1-6.1 .1 5 0-7.2 .1 9.4 .1-3.5 .1-4.4 .1 .2 .1-12.4 .1-.8 .1 16.9 .1-4.5 .1 7.3 .1-13.3 .1-1.4 0-1.2 .1 10 .1 5.1 .1-8.6 .1-.1 .1 3.7 .1 4.3 .1 1.5 .1 .6 .1-26.8 .1 12 .1-3.6 0 9.9 .1 2.7 .1 3.9 .1-6.5 .1 1.4 .1 6.9 .1-7 .1-3.2 .1 5.2 .1-6.8 .1 10.2 .1 1 0-6.7 .1-8.6 .1 6.9 .1 3 .1-14.4 .1 7.1 .1-3 .1 14.2 .1-7.7 .1-17.3 .1 30.8 0-9.3 .1-6.7 .1 6.4 .1-8.9 .1 2.2 .1 8.1 .1-15.2 .1 9.1 .1 8.2 .1-6 .1 3.2 .1 2.8 0-3.9 .1 1.4 .1-4.4 .1-19.1 .1 25.2 .1-10.7 .1 10.5 .1 1.7 .1-10.7 .1 10.9 .1-4.4 .1 4.5 0-4.3 .1-3.9 .1 8.9 .1 4.5 .1-8 .1 2.3 .1 1.7 .1-5.2 .1 4.8 .1 0 .1 1 .1 .6 0-.5 .1-5.1 .1-1.5 .1-.2 .1-13.9 .1 12.9 .1 10.6 .1-3.7 .1-8.1 .1 7.2 .1 1.6 .1-2.1 0-3.2 .1 8 .1-6.3 .1-.2 .1 4.5 .1-4.9 .1 11.7 .1-13.3 .1-2.5 .1 2 .1 7.2 .1 4 0-4.4 .1-7.1 .1 12.6 .1-14.1 .1 7.6 .1 1.5 .1-3.2 .1 4.1 .1-42.4 .1 34 .1 .7 .1 3.9 0 0 .1 2.2 .1 .5 .1-5.4 .1-1.1 .1 2.6 .1-5.9 .1 4 .1 7.3 .1-6.1 .1-10.5 .1 16.8 0-17 .1 6 .1 2 .1 4.8 .1 .7 .1 6.9 .1-18.5 .1 7.9 .1-2.4 .1-2.3 .1 15.3 .1-12.5 0 1.1 .1 1.9 .1-4.5 .1 4.6 .1 3.1 .1-6.4 .1-3.7 .1-7.1 .1 6.8 .1 12.7 .1-4.7 .1-3.8 0-1.9 .1 3.4 .1-5.5 .1 6.5 .1 1.3 .1-2.2 .1-5.2 .1-8.7 .1 10.3 .1 16 .1-15.6 .1 2.3 0 10.8 .1-15.5 .1-3.6 .1 5.2 .1 5.7 .1 3.4 .1-.4 .1-14.2 .1 10.4 .1-4.3 .1-.8 .1 3.1 0-3.4 .1 4.4 .1-3.4 .1 .2 .1 10.5 .1-15.6 .1 8.8 .1-5.9 .1-4.5 .1 13.6 .1-3 0 2.9 .1 5.2 .1-14.8 .1 3.3 .1 12.2 .1-11.8 .1-1 .1 6.2 .1 3 .1-6.6 .1 6.5 .1-1.1 0-2.1 .1-4 .1 6.9 .1-7 .1 9.8 .1-16.9 .1 3.6 .1 9.3 .1-4.1 .1 6.5 .1-4.7 .1-3.5 0 3.3 .1 5.9 .1-5.8 .1-3.5 .1 4.3 .1 1.4 .1-6.3 .1-.7 .1 2.6 .1 .5 .1 5.4 .1-11.2 0 10.2 .1-5.1 .1 .4 .1-.6 .1 4.4 .1 .4 .1-8.8 .1 20.3 .1-10.2 .1 4.8 .1 .1 .1-7.7 0 6.5 .1-6.6 .1 3.6 .1-4.2 .1 5.6 .1-5.4 .1-14.6 .1 20.2 .1-10.9 .1 7.5 .1-1.2 .1-.9 0-4.6 .1 1.5 .1 5.8 .1 1.3 .1 2.7 .1-6.4 .1 3.4 .1-8 .1 8.7 .1-7.2 .1 3.6 .1-2.6 0 2 .1 9.6 .1-6.2 .1 5.9 .1-4.2 .1-.7 .1-6.9 .1 2.4 .1-3.2 .1 .5 .1 6.7 .1-26.5 0 26.4 .1-5.5 .1-3.4 .1 3 .1 8 .1-7.1 .1 1.3 .1-1.5 .1 2.9 .1 5 .1-13.4 .1 5.8 0 5.7 .1-2.2 .1 2.8 .1-1.1 .1-6 .1 3.4 .1 2.8 .1-1.2 .1-1.1 .1-2.7 .1 0 .1-14.8 0 17.6 .1-8.3 .1-.6 .1 2.9 .1 2.7 .1-5 .1 6.3 .1-1.3 .1-4.2 .1-7.6 .1 6.5 .1-5 0 8 .1 1 .1-5.3 .1 3.9 .1 9.1 .1-11.9 .1-1.6 .1 7.6 .1 .4 .1-3.5 .1 1.1 .1 10.4 0-17.4 .1 7.7 .1 6 .1-2.8 .1-10.1 .1 13.2 .1-9.1 .1 4.6 .1 3.2 .1-7.3 .1-6.3 0 19.1 .1 8.6 .1-21.8 .1 5.8 .1-2.2 .1 2.5 .1 3.5 .1-8.9 .1 5.5 .1-2 .1-1.6 .1 5 0-13.6 .1 9.4 .1-5.9 .1 6.4 .1-7.8 .1 1.9 .1 6.7 .1 1.5 .1 2 .1 5.3 .1-10.4 .1 7.4 0-6.7 .1 2.1 .1-5.2 .1 8.6 .1 .2 .1-13.1 .1 4.3 .1 8.3 .1-3.6 .1 2.3 .1-1.8 .1 1.1 0-19.4 .1 18.7 .1 2.8 .1 3.1 .1-16.7 .1 8.4 .1-1.4 .1-1.1 .1-1.6 .1 4.6 .1 0 .1 8 0-9.4 .1 5.6 .1-10.9 .1 2.3 .1 2 .1 3.3 .1 4.4 .1-.6 .1-9.2 .1 6.9 .1-2.8 .1 .8 0 1.7 .1 1.3 .1-1.4 .1 1.9 .1-3 .1-1 .1 2.4 .1 1.4 .1 1.3 .1-9.3 .1 5.8 .1-.5 0-3.1 .1-6.6 .1 15.2 .1-9.5 .1 8 .1-.5 .1-3.7 .1 .3 .1-8.5 .1 9.6 .1 .3 .1-5.2 0 5.8 .1-18.7 .1 14.3 .1-2.6 .1 2.5 .1-13.3 .1 12.7 .1 2.8 .1 .7 .1 6 .1-6.5 .1-2.3 0-16.8 .1 11.1 .1 9.2 .1-12.6 .1 4.3 .1 9.2 .1-9.2 .1 7.6 .1 2.3 .1-3.8 .1-.8 .1-2.2 0 6.3 .1 .7 .1-1.3 .1 3.3 .1 4.5 .1-4 .1-11.1 .1-.5 .1 6.9 .1 1.8 .1-5.7 .1 2.8 0-13.8 .1 15.4 .1-6.3 .1 4.8 .1-3.9 .1 .9 .1 6.1 .1-.6 .1-1.7 .1 4.3 .1-5.4 .1 4.9 0-9.2 .1-1.8 .1-1.1 .1-8.6 .1 9.6 .1 8.2 .1 2.2 .1-7.4 .1 9.2 .1-1 .1-11.1 .1 6 0-4 .1 1.8 .1 7.3 .1-14 .1 8.3 .1-.3 .1-.3 .1 3.2 .1-8.3 .1-.9 .1 12.7 0-4.5 .1-8.5 .1 4.5 .1 3.2 .1-5 .1-2.3 .1 4.1 .1-.9 .1-3.1 .1 2.6 .1 8.4 .1-9.6 0-.8 .1 6.4 .1-7.8 .1 0 .1-6.7 .1 9.8 .1 8.1 .1-12.1 .1 13.8 .1-11.6 .1-4.6 .1 12.2 0-1.3 .1-7.8 .1 4.8 .1-.2 .1 4.6 .1-5.3 .1 2.7 .1 1.3 .1 2.5 .1-3.6 .1-3 .1 1.4 0-1.3 .1 .5 .1-.9 .1 14.7 .1-6.4 .1-10.7 .1 5.7 .1 3.7 .1-6.2 .1 9.1 .1-10.6 .1 1.6 0-.1 .1-11.8 .1 18.6 .1-9.1 .1 2.5 .1 9.1 .1-6.4 .1-4.2 .1 4.9 .1-1 .1 1.6 .1 10.2 0-18.9 .1 9.2 .1 .3 .1-9.9 .1 6 .1 10.6 .1-3.4 .1-10.1 .1 4 .1-.5 .1-2 .1 1.8 0 3.1 .1-9.7 .1-2.5 .1 7.8 .1-1.9 .1 5.4 .1 9.7 .1-8.9 .1-3.6 .1 7.1 .1-8.9 .1-3.2 0 4.6 .1 5.1 .1-2.5 .1 10.5 .1-5.3 .1 1.2 .1-18 .1 8.9 .1-.3 .1 8.7 .1-3.3 .1-5.4 0-9.8 .1 26.2 .1-9.4 .1 2.3 .1-3.9 .1-5.6 .1 10.1 .1-11.9 .1 7.5 .1 3.5 .1-8.8 .1-2.8 0 10.7 .1-3.8 .1 10.2 .1-5 .1-6.9 .1 .2 .1 9.8 .1-4.2 .1-1.3 .1-3 .1 2.3 .1-3.6 0-1.1 .1 7.3 .1-3.3 .1-6.8 .1-.7 .1-10.2 .1 11.3 .1-7 .1 10 .1-5.8 .1 .1 .1 4.5 0 15.6 .1-18.7 .1 1.6 .1 8.1 .1-.7 .1-8 .1 6.4 .1-.8 .1-7.7 .1 9.6 .1-3.5 0-2.9 .1 3.9 .1-5.6 .1-1.5 .1 1.5 .1 4.4 .1 3.5 .1-1 .1 1.6 .1-16.3 .1 15.2 .1-13.3 0 5.3 .1 2.1 .1 2.3 .1-10.4 .1 15.2 .1-9.1 .1 3.9 .1-7.9 .1 5.4 .1 3.6 .1-2.8 .1-15.1 0 5.7 .1 13.8 .1 1.5 .1-2.1 .1-3.9 .1-2.2 .1 .5 .1-2.3 .1 7.6 .1-1.2 .1 6.3 .1 1.6 0-12.2 .1 7.6 .1-11.5 .1 2.7 .1-7.5 .1 13.6 .1 7.4 .1-4.6 .1-5.3 .1 3.2 .1 2.1 .1-8.7 0 4.8 .1-.1 .1-.5 .1 7.5 .1-4.8 .1-12.4 .1 14 .1-2.9 .1-7.8 .1 2.9 .1 12.7 .1-10.3 0 1.5 .1-3.4 .1 9.3 .1-5.6 .1 6.3 .1 1.6 .1-23.1 .1 12.9 .1 11.5 .1-8.7 .1-4.2 .1 7.2 0-14.6 .1 17.8 .1-15.6 .1-.4 .1 3.4 .1-8.3 .1 3 .1 10.9 .1-4.4 .1-3.1 .1-4.7 .1 2.5 0 1.2 .1 10 .1-10 .1 15.7 .1-18.6 .1 6.3 .1 .4 .1-3.5 .1 4.8 .1-7.2 .1 9.3 .1-9.9 0 5 .1 7.9 .1-7.5 .1-10 .1 12.7 .1-10.1 .1 .4 .1 5.3 .1 6.3 .1-5.6 .1 1.3 .1-.3 0-3.7 .1 9.2 .1-7.7 .1 2.4 .1-.4 .1 4.7 .1-9.3 .1 14.4 .1-7.7 .1 1.1 .1-.9 .1-9.2 0 9.6 .1-11.3 .1 9.6 .1-5.5 .1 9.2 .1 9.3 .1-11.6 .1-.2 .1 9.5 .1-1.4 .1-6.9 .1-5.5 0 4.6 .1 2.2 .1-7.1 .1-3.1 .1-1.1 .1 13.6 .1 4.6 .1-3.7 .1 4.2 .1-17.8 .1 2.1 0 3.2 .1-3.5 .1 11.8 .1-6.9 .1 7.4 .1-.9 .1-3.5 .1 5.6 .1-5.5 .1 .3 .1 .1 .1 8.4 0-4 .1 7.3 .1-11.9 .1-3.5 .1 9.7 .1-17.5 .1 13.4 .1-5.9 .1 1.1 .1 9.6 .1-1.2 .1-6 0-11.2 .1 20.4 .1-5.8 .1-11.1 .1 4.5 .1 .5 .1 2.8 .1-7 .1 8.7 .1 10.6 .1-18.1 .1 .9 0 6.9 .1-11.2 .1 16.5 .1-1.5 .1 2.3 .1-13.3 .1 11.7 .1-1 .1 1.1 .1-3 .1-14.1 .1 2.8 0 11 .1-6.3 .1 4.6 .1 4.4 .1-9 .1 1.8 .1-1.1 .1 .9 .1 7.6 .1-8.2 .1 8.1 .1-4.4 0-4.1 .1 4 .1-5.2 .1 9.4 .1-8.1 .1 1.4 .1 1.7 .1 6.7 .1-15.5 .1 21.4 .1-9.9 .1-9.8 0-2.9 .1 14.3 .1-3.4 .1-6.4 .1 2.7 .1 7.1 .1-9 .1 3.8 .1-.5 .1-6.3 .1 12.1 .1-.3 0-10.5 .1 12.3 .1-14.2 .1 15.8 .1-6.4 .1 9.6 .1-9.2 .1 6.2 .1 2 .1-13.1 .1-2.3 .1 16.2 0-8.3 .1-5 .1 2.5 .1 10.5 .1-13.2 .1 6.5 .1-5.5 .1-15 .1 29.1 .1-9.9 .1 9.5 .1-2.7 0-2.8 .1-4 .1 7 .1-8.7 .1 2 .1-4.2 .1 7.8 .1 .3 .1-5.4 .1 1.6 .1-9.4 .1 10.5 0-12.2 .1 1.5 .1 9.8 .1-26.6 .1 30.9 .1-9.9 .1-6.4 .1 10.8 .1-8.3 .1 4.3 .1-2.7 .1-3.7 0 7.3 .1 2.1 .1 4.6 .1-3.4 .1-10.1 .1 7.4 .1-2.2 .1 5.6 .1-14.6 .1 10.6 .1 2.7 0-8 .1 3.8 .1-4.3 .1-.1 .1 .4 .1 6.4 .1 8.8 .1-7 .1-1.7 .1-2.2 .1 1.6 .1 3.3 0-2.1 .1 4.6 .1 5.2 .1-5.9 .1 3.6 .1-4.2 .1-7.7 .1-2.4 .1 15.4 .1-7.3 .1 4.3 .1-.1 0 1.2 .1-14 .1 9.3 .1-2.2 .1 2.3 .1-121.4 .1 11.4 .1-11.6 .1 17.3 .1-23.5 .1-12.4 .1 19.3 0-7.8 .1 3.2 .1-1.3 .1 2.1 .1 19.1 .1-18.6 .1-3.5 .1 22.4 .1-17.9 .1 1.9 .1 2.4 .1-8.4 0 9.7 .1-6.1 .1-.7 .1-9.8 .1 21.1 .1-4.6 .1 2.5 .1-6.7 .1-2.3 .1-6.1 .1 15.6 .1-3.5 0-.7 .1-10.8 .1-1.1 .1 15.1 .1 11 .1-12.8 .1-2.4 .1 .5 .1-5.1 .1-9.4 .1-11.8 .1 21.2 0 2.9 .1 7.5 .1-5.9 .1-1.8 .1 2.7 .1-13.6 .1 25.7 .1-10.9 .1-20.6 .1 18.3 .1-1.7 .1-11.6 0 14.2 .1-4.1 .1-27.8 .1 35.9 .1-13.8 .1 4.6 .1 5.5 .1-4.3 .1 7.3 .1-11.5 .1 7.7 .1-2.8 0 32.7 .1-33.7 .1-4.6 .1 16.3 .1-11 .1 5.8 .1-10.9 .1 11.5 .1 1.7 .1-3.8 .1-1.5 .1 2.4 0-13.9 .1 8 .1 3.2 .1-1.6 .1 .5 .1 7.3 .1-6.7 .1 .2 .1 1.1 .1 9 .1 11.5 .1-17.3 0 13.4 .1-32.6 .1 13.6 .1-4.7 .1 8.8 .1-5.2 .1 5.5 .1 4.8 .1-9.4 .1 5.5 .1 2 .1 .7 0-3.7 .1-9.9 .1-3.6 .1 1.3 .1 2.8 .1-2.9 .1 .9 .1 9.2 .1-11.4 .1-6.9 .1 14.5 0 3.6 .1-6.3 .1-2.6 .1 4.6 .1-6 .1-4.5 .1 23.3 .1-15.6 .1 11.9 .1 5.7 .1-18 .1-2.2 0 10.8 .1-2.7 .1 4.9 .1-18.2 .1 13.5 .1 3.1 .1 4.2 .1-1.7 .1-20.5 .1 29.8 .1-12.8 .1-19.3 0 12.7 .1-.5 .1 14 .1-28.6 .1 21.9 .1-.4 .1-12.5 .1 33 .1-6.8 .1-10.1 .1-.2 .1-15.7 0 4 .1 .4 .1 5.7 .1 12.6 .1-13.4 .1-5.4 .1-.5 .1 21.8 .1-16.2 .1 15.5 .1 .4 .1-5.2 0-9.5 .1 1.4 .1 4.3 .1 2.3 .1-14.2 .1 21.1 .1-.3 .1-14.4 .1-2.1 .1-7.3 .1 22.3 .1-25.1 0 16.1 .1 12.8 .1-9 .1-9.5 .1-4.7 .1-9.3 .1 4.6 .1 15.4 .1-12.2 .1-1.4 .1-7.4 .1 25.7 0 2.3 .1-9.6 .1 14.2 .1-23.1 .1 13.5 .1-18.9 .1 15 .1 6.4 .1-2.1 .1-34.7 .1 23.9 .1 8.2 0-3.5 .1-11.2 .1 6.1 .1-12.2 .1 14.5 .1 4.6 .1-11.9 .1 1.1 .1 23.7 .1-35.6 .1 11.4 .1-32.2 0 42.7 .1-4.9 .1-1.5 .1-1.6 .1 4.1 .1 3.5 .1 6.6 .1-2.5 .1-12.5 .1 6 .1-7.4 .1-2 0 6.5 .1 17.4 .1-13.6 .1-3.1 .1-1.9 .1-12.3 .1 20.5 .1-3.8 .1 3 .1-12.2 .1 8.9 .1-1.7 0 9.9 .1 1.7 .1-23.8 .1 6.1 .1 7.9 .1 4 .1 2.1 .1 3.2 .1-11.1 .1 0 .1 6.9 .1-9.5 0 8 .1 2.6 .1-8.9 .1 5 .1-5.8 .1 12.4 .1-23.6 .1-.5 .1 18.5 .1 9.2 .1-18.7 0 7.3 .1-6.4 .1 9.1 .1 10.3 .1-3.7 .1-28.2 .1 24.1 .1 15.3 .1-17.5 .1-7.6 .1 3.7 .1 6.6 0-.5 .1-9.2 .1 7.3 .1-21.1 .1 38.3 .1-5.3 .1 .9 .1-31.4 .1 20.8 .1 3.3 .1 17.5 .1-33.3 0-7.7 .1 33.6 .1-9.6 .1-11.2 .1 9.1 .1 4 .1 9 .1-2.2 .1 .4 .1-3.9 .1 .4 .1-4.7 0-.3 .1 11.7 .1-6.8 .1-22.7 .1 45.4 .1-26.1 .1-17.7 .1 12.7 .1 20.5 .1-21.2 .1 1.3 .1 8.6 0 18.6 .1-17.8 .1-25.2 .1 25.7 .1-13.1 .1-13 .1 38.1 .1-17.9 .1-8 .1 24.6 .1 11.9 .1-40.4 0-10.3 .1 31.3 .1 .6 .1 5.9 .1-15.3 .1 3 .1 3.3 .1-2.1 .1 5.9 .1-2.6 .1 1 .1 9.3 0-9 .1-7.4 .1 13.8 .1-15.6 .1-20.4 .1 25.5 .1-2.8 .1 8 .1-11.1 .1 4.2 .1 17.6 .1-25.4 0-.4 .1 12.8 .1 17.1 .1-16.4 .1 4.2 .1-14.5 .1-15.6 .1-.9 .1 2.2 .1 31.8 .1-5.4 .1 7.9 0-5.2 .1-25.6 .1 14.2 .1 3.9 .1-15 .1 10.1 .1 11.3 .1-55.7 .1 41.7 .1 21 .1-11.1 .1 .6 0-13.6 .1 14.9 .1-3.5 .1-7 .1-10.6 .1 18.3 .1-12.4 .1 14 .1-7.6 .1 4.7 .1-16.3 .1 7.3 0 0 .1-14.9 .1-.9 .1 22.1 .1-6.3 .1-4.4 .1 9.3 .1 8.4 .1 1 .1-21.1 .1 25.5 .1-30.8 0 23 .1-7.6 .1-13.2 .1 13.4 .1 .4 .1-6.3 .1 30.4 .1-35.9 .1 4.2 .1 5.5 .1 23.2 0-13.6 .1-10.6 .1-.3 .1-3.1 .1 26.7 .1-29.2 .1 8.2 .1 10.7 .1-32.1 .1 13.6 .1 11 .1-8.2 0-1.2 .1-4.2 .1 14.9 .1-12.6 .1 3.5 .1-.8 .1-5.5 .1 9.1 .1-14.9 .1 16.6 .1 2.6 .1-2.9 0 1.5 .1-1 .1 7.4 .1-9.1 .1-19.7 .1 19.8 .1-8.5 .1 22.4 .1-28.9 .1 31.2 .1-10.4 .1 15.5 0-1.2 .1-33.3 .1 10.4 .1-6.1 .1 27.9 .1-1.8 .1 .8 .1-19.6 .1 19.7 .1-29 .1 20.7 .1-7.4 0-3.1 .1 11.4 .1-21.9 .1 7.8 .1-2.5 .1 12.9 .1 11.9 .1-13.8 .1-7.8 .1 8.9 .1-10.1 .1 9.7 0 15 .1 2.5 .1-15.3 .1 3.1 .1-14.6 .1 28.5 .1-7.7 .1-16.4 .1 3.7 .1-9.6 .1 6.1 .1-1.5 0 5.2 .1 18 .1-32.8 .1 14.4 .1 3.2 .1-13.3 .1-16 .1 50.4 .1-42.1 .1 22.8 .1-8.8 .1 12.3 0-24.2 .1 33.1 .1-4 .1-4.1 .1-8.6 .1-11.8 .1 9.8 .1 .6 .1 2.8 .1 8.8 .1-17.2 .1 1.2 0 16.1 .1-8.3 .1-12.7 .1 38.3 .1-24.5 .1 15 .1-10.3 .1 5.2 .1-9.2 .1-15.6 .1-1.8 .1 22.5 0-3.4 .1 8.1 .1-17.6 .1 7.9 .1 7.5 .1-33 .1 12.4 .1-27.5 .1 37.2 .1-10.4 .1-8.7 .1 23.3 0-12.2 .1 4.4 .1 2.1 .1 13 .1-15 .1-1.9 .1-12.1 .1 21.3 .1-14.4 .1 10.8 .1-3.2 .1-4.4 0 16.6 .1-24.5 .1 11.8 .1 3 .1 1.5 .1 2.3 .1 2.5 .1-2.8 .1 9.5 .1-1.9 .1 3.5 0-23.3 .1 1.7 .1 24.7 .1-14.6 .1 4.2 .1-25.4 .1 11.4 .1 9.2 .1 9.1 .1-19.1 .1-16.7 .1 42.8 0 2 .1-19.5 .1-9 .1-6.6 .1 6.1 .1 12.6 .1-5.7 .1-11.1 .1-.8 .1 .6 .1 16.4 .1 6.1 0-2.6 .1-17.7 .1 11.6 .1-32.2 .1 19.2 .1 15.7 .1-15.5 .1 31.8 .1-19.3 .1 .1 .1-23.1 .1 1.6 0 19.4 .1-4 .1-6.9 .1 12.6 .1 9.5 .1-26 .1 32.3 .1 2.2 .1-5.7 .1 0 .1-27 .1 2.2 0 3.4 .1-3.8 .1-11.1 .1 11.6 .1 14.9 .1-6.4 .1-10.4 .1 25.5 .1-9.5 .1-11.9 .1 15.1 .1-18.5 0-3.9 .1 7.9 .1 2.4 .1 17.5 .1-18.6 .1-7.2 .1 8.4 .1-12.8 .1 26.1 .1 2.3 .1-8.3 .1-58.3 0 61.7 .1-28.9 .1 23.3 .1-18.5 .1 8.3 .1 25.9 .1-28.8 .1 11.1 .1-8.9 .1 28.8 .1-20.8 .1 7.9 0-18.1 .1 14.4 .1-9.7 .1 .1 .1 17.6 .1-24.1 .1 13.6 .1-.2 .1-9.2 .1 8.1 .1-10.7 .1 23.4 0-19 .1 12.8 .1-9.4 .1-9.7 .1 24.1 .1-17.2 .1 21.9 .1-38.5 .1 4.8 .1 23.7 .1-8.3 .1-17.5 0 22.2 .1-6.3 .1-5.8 .1 8.5 .1-4.1 .1-9.4 .1 8.5 .1 2.6 .1 24.1 .1 2.6 .1-13.3 .1 12.9 0-42.4 .1 13 .1 14.5 .1-21.9 .1 21.2 .1 6.7 .1-7.5 .1-32.4 .1 44.6 .1-21.7 .1 7.5 .1-15.1 0 12.2 .1-1.8 .1 .8 .1-5.1 .1 .3 .1 16.2 .1-18.5 .1 2.2 .1 9.4 .1 6.1 .1-19.2 0 13.8 .1 3.3 .1-8.2 .1 2.4 .1 8.3 .1-15.8 .1 36.1 .1-38 .1 14.2 .1-14.3 .1 19.1 .1-11.1 0-5.1 .1-7.7 .1 15.8 .1 28.1 .1-43.7 .1 4.5 .1 19.5 .1-12.1 .1-1.4 .1-7.2 .1 1.5 .1-1.3 0-13.8 .1 6.8 .1 26.6 .1-17.4 .1-.8 .1 .3 .1 18.3 .1 7.8 .1-5.2 .1-9.9 .1-7.8 .1 22 0-52.6 .1 11.2 .1 21.5 .1-12.1 .1 36.7 .1-34.3 .1 24 .1-23.4 .1 25.3 .1-2.8 .1-19 .1 14.3 0 5.1 .1-13.5 .1-2.1 .1-16.6 .1 19 .1 10.1 .1 2.7 .1-63.4 .1 45.5 .1 1.8 .1 10.6 .1-30.8 0 35.9 .1-12.4 .1 13.6 .1-10 .1-6.1 .1-20 .1 19.9 .1-11.3 .1 20.7 .1-16.2 .1 24.4 .1-5.4 0-30.3 .1 18.4 .1-4.3 .1 16.7 .1-15.3 .1-5.2 .1-7.5 .1 26.8 .1-8.3 .1 1 .1-6.2 .1 6 0 10.7 .1-11.6 .1-5 .1 8.1 .1 5 .1-7.7 .1-14.5 .1-6.9 .1 26.3 .1-33.9 .1 27.1 .1 10.8 0 14.3 .1-15.9 .1-.2 .1-.2 .1-3.3 .1 4.8 .1-.3 .1-12.2 .1 33.3 .1-51.9 .1 29.4 .1 12 0-21.3 .1 16.2 .1-27.9 .1 17.6 .1 5.9 .1-26.3 .1 19.1 .1-4.6 .1 .4 .1 5 .1 15.4 .1-24.6 0 21.6 .1-23.3 .1 20.5 .1-20.9 .1 15.2 .1 4.9 .1-25.8 .1 24.5 .1-3 .1-22.9 .1 15.1 .1 11.2 0 3.5 .1-8.6 .1 14.6 .1-8.3 .1-3.1 .1-9.8 .1 5.4 .1-28.4 .1 28.8 .1-21.4 .1 4.6 0 3.5 .1 4.9 .1 12.3 .1-20.2 .1 34.8 .1-28.8 .1 15.2 .1-2.6 .1 7.7 .1-24.7 .1 9.7 .1 16.4 0-9.8 .1 .6 .1-6.8 .1-18.4 .1 4.2 .1 7 .1-4.3 .1-3.4 .1 28.1 .1-9.1 .1 5.4 .1-.3 0-2.8 .1-8.3 .1-15.5 .1 21 .1-7 .1-.6 .1 2.2 .1-12.5 .1 28.9 .1-21.8 .1 4.5 .1 1.8 0 2.7 .1 0 .1-19.6 .1 24.1 .1-.1 .1-4 .1 13.4 .1-22.2 .1 20.5 .1 4.5 .1-6 .1-27.7 0 15.8 .1-4.1 .1 2.4 .1-18.6 .1 19.5 .1 .7 .1-9.2 .1 7.6 .1-4.4 .1 13.6 .1 5.4 .1-4.1 0 9.7 .1-43 .1 27.6 .1-12.4 .1 10.2 .1-6.1 .1-.6 .1 14.9 .1-36.8 .1 26.7 .1-9.1 .1 30.2 0-27.5 .1 11.3 .1-5.8 .1-30.8 .1 37.3 .1-26.9 .1 6.7 .1 7.2 .1 8 .1-4.2 .1 2.5 .1 11.2 0 .5 .1-13.3 .1 3 .1-11.6 .1-2.2 .1 6.5 .1 21.9 .1-27.3 .1-6.2 .1 21.1 .1-29.4 .1 22.7 0-.6 .1-10.2 .1 16.8 .1-5.5 .1-17.4 .1-11.1 .1 1.7 .1 24.5 .1-20 .1 15.1 .1-6.1 .1-.1 0-.1 .1 9.7 .1-14.3 .1 11.8 .1-8.5 .1 8.9 .1-7.4 .1 1.3 .1 19.4 .1-19.9 .1 6.9 .1-2.8 0 10.6 .1-13.4 .1 4.5 .1-3.5 .1 9.7 .1-4.4 .1-8.4 .1 3.6 .1-3.8 .1-5 .1 13.8 .1-13.1 0 1 .1 21.6 .1-18.5 .1 8.1 .1-5.1 .1-4 .1 8.8 .1-8.2 .1 6.3 .1 6.8 .1-5.5 0-3.7 .1-5.1 .1 7.7 .1-36.7 .1 45 .1-18.8 .1 7.9 .1 7.5 .1-3.2 .1 1.7 .1-9.7 .1 26.3 0-19.3 .1-6.7 .1 4.8 .1-27.6 .1 36.2 .1-12.5 .1 13.1 .1-27.8 .1 18.9 .1-15.2 .1 19.2 .1-3.9 0-6.2 .1 6 .1 3.5 .1-16.4 .1 19.3 .1-13.4 .1 9.6 .1-13.9 .1 9.1 .1 14.2 .1-21.7 .1 23.7 0-17.8 .1 10.9 .1-14.1 .1 24.1 .1-3.2 .1-21.6 .1-3.3 .1 30.1 .1 1.9 .1-29.5 .1-8.6 .1 37.3 0-24 .1 21.8 .1-21.7 .1 13.4 .1-10 .1-.2 .1-8.4 .1 23.4 .1-33.2 .1 22.5 .1-2.2 .1-.3 0-1.4 .1 1.9 .1 4.5 .1-8.3 .1 5.2 .1-11.3 .1 15.8 .1-16.8 .1 2.8 .1 9.5 .1 7.2 .1 4 0-6 .1-10.7 .1 14.7 .1-14.7 .1 .6 .1-11.1 .1 8 .1-3 .1 5 .1 11.8 .1-19.7 .1 7.2 0 1.1 .1-3.1 .1-11.1 .1 28.8 .1-14.7 .1 5.4 .1-.7 .1 11.3 .1-33.5 .1 28.4 .1 10.9 .1-22.1 0 8.1 .1-11.6 .1 21.5 .1-15.3 .1-8.1 .1 .8 .1 8.8 .1 6.6 .1-1.3 .1 4.1 .1-1.1 .1-3.6 0-20.4 .1 20.1 .1-15 .1 12.6 .1 2.2 .1 21.6 .1-47.3 .1 27.8 .1-10.5 .1-16.7 .1 13.9 .1-.7 0 1.5 .1 17.4 .1-2.9 .1-8.7 .1-5 .1-26.2 .1 33.7 .1-2.7 .1-3 .1 1.3 .1 23.5 .1-27 0-8.7 .1 16 .1-.5 .1-1.5 .1 3.8 .1-3.8 .1 .6 .1 4.9 .1-11.7 .1 5.9 .1 6.7 0-5.2 .1-12.3 .1 12.7 .1-2.2 .1-5.9 .1 6 .1-6.2 .1 24.1 .1-32.4 .1 18.4 .1 10.8 .1-13.7 0-15.7 .1 14.9 .1 .4 .1-1.3 .1-1.2 .1-9.6 .1 11.3 .1-52.8 .1 48.2 .1 6.1 .1-9.3 .1 19.3 0-12.7 .1-5.7 .1 7.1 .1-14.5 .1 7.9 .1 3.6 .1-50.2 .1 59.8 .1-18.7 .1-5.3 .1 23.4 .1-1.3 0 7.9 .1-9.6 .1 2 .1-25.1 .1 20 .1 7.6 .1-15.9 .1 13.7 .1-23.3 .1 15 .1-3 .1-.5 0-13 .1 15 .1-5.1 .1 18.5 .1-19.1 .1 17.2 .1-12.6 .1 9.3 .1-1.6 .1-10.2 .1 9.9 .1-20.9 0 16.9 .1-4.4 .1-.6 .1 2.8 .1 2.4 .1-20.4 .1 14.3 .1 5 .1-8.4 .1 1.9 .1 12.8 .1-7.8 0-2.6 .1 7.8 .1-2 .1 7.1 .1-13.4 .1 5.5 .1 8.7 .1-14.2 .1 .7 .1 11.8 .1 1 .1 1.7 0 1.8 .1-9.9 .1 .1 .1 10.2 .1-8.9 .1-6.1 .1 10.1 .1-1.9 .1-5.7 .1-3.7 .1-.1 .1-3.2 0 .9 .1 14.6 .1-10.3 .1 10.1 .1-.3 .1 13.8 .1-18.2 .1-17.2 .1 21.7 .1-14.2 .1 14 .1-2.9 0 6.4 .1-14.8 .1 17.9 .1-11.8 .1-7.2 .1 5.4 .1 10.5 .1-17.4 .1-5.9 .1 6 .1-5.8 .1 11.2 0 7.6 .1-6.7 .1 2.1 .1 6.6 .1-16.7 .1 13.7 .1-10.9 .1-7.7 .1 8.3 .1 23 .1-26.5 .1 20.4 0-8.6 .1-2.4 .1 4.1 .1 4.8 .1 6.6 .1-9.5 .1-2.1 .1-16.3 .1 27.1 .1-9.5 .1-3.8 0 4.3 .1-4.6 .1 5 .1-1.8 .1-11.4 .1 22.1 .1 .4 .1-31.9 .1 33.6 .1-17.2 .1 5.3 .1 15.4 0-26.7 .1 9.2 .1-11.6 .1 1.7 .1 5.2 .1-.7 .1 1.6 .1 16.4 .1-31.7 .1 26 .1-15.7 .1-1.4 0 16.1 .1-23.7 .1-10.9 .1 29.5 .1 7.1 .1-17.5 .1 7.6 .1 3.8 .1-3 .1-5.8 .1 7.1 .1 10.9 0-15.7 .1-4.4 .1-16.7 .1 13.5 .1 6.5 .1-16.7 .1 10.9 .1 3 .1 3.7 .1 4.3 .1-9.1 .1 5.8 0-19.7 .1 23.1 .1 3.2 .1-11.1 .1-8.4 .1 13.5 .1 4.3 .1-18.3 .1 2.8 .1 1.5 .1 13.3 .1-6.1 0 9.6 .1-1.9 .1-23.2 .1 15.2 .1 10.6 .1-5.5 .1-15.8 .1 16.5 .1-1.3 .1-5.3 .1-10.6 .1 23.4 0-22.7 .1 21.6 .1 5.3 .1-13.9 .1 23.1 .1-29.3 .1 13.6 .1-2.9 .1 .2 .1 6.1 .1 3.5 .1-4.9 0-16.4 .1 15.3 .1-11.2 .1 10.9 .1 3.7 .1-1.4 .1 4.5 .1 1.4 .1-20.8 .1 25.9 .1-27.8 .1 9.4 0 5.8 .1 4.5 .1-33.6 .1 23.3 .1 6.9 .1-12.9 .1 12.4 .1-9.3 .1 2.9 .1 3.5 .1 5.1 .1-19.2 0 15.1 .1-7.7 .1 7.2 .1-13.8 .1 2.1 .1 .8 .1 25.5 .1-15 .1 3.5 .1-8.4 .1 5 .1-11.5 0 .8 .1 6.3 .1 .1 .1-7.5 .1 7.3 .1-9 .1 11.6 .1 10.8 .1-.1 .1-10.3 .1-8.2 .1 4.9 0-20.8 .1 22.8 .1 8.6 .1-16.6 .1 7.9 .1-9.9 .1 19.7 .1-11.4 .1 12.6 .1-18.5 .1 3.6 0-10.9 .1 7.1 .1-4.9 .1 17.2 .1-22.3 .1 2.3 .1 29.1 .1-13.7 .1-24.5 .1 29.5 .1-24.2 .1 9.3 0-6.9 .1-13.1 .1 24.1 .1-3.8 .1 12.1 .1-3.5 .1-4.2 .1 15.2 .1-11.2 .1 14.2 .1-35.1 .1 27.7 0-7.7 .1-7.5 .1-14.9 .1 23.7 .1 5.2 .1-12.8 .1 14.2 .1-6 .1-5.4 .1 5.6 .1-6.4 .1 7.1 0-10 .1 30.9 .1-46.4 .1 10.8 .1-5.3 .1 20.9 .1 13.8 .1-28.5 .1-6.9 .1 28.4 .1-29.9 .1 29.1 0-33.9 .1 37.5 .1-23.8 .1 18 .1-10.4 .1-7.7 .1 4.1 .1 9.8 .1-1.8 .1 8.6 .1-36.7 .1 25.4 0 10.8 .1 3.1 .1-3.7 .1-20 .1 9.7 .1 4.2 .1 1 .1-3.7 .1 14.9 .1-26.7 .1 3.5 .1 12.6 0-7.8 .1 6.6 .1-12.1 .1 8.9 .1-10.1 .1 7.2 .1-6 .1 33.5 .1-22.5 .1-9.2 .1-1.4 .1 5.6 0-8.4 .1 2.2 .1 18.4 .1-30.3 .1 7.7 .1-4.5 .1 12.4 .1 2 .1 5.9 .1 8.9 .1-20.2 .1-2.3 0 17.7 .1-20.9 .1 8.1 .1 14.4 .1-10.5 .1 1 .1 4.1 .1 5 .1 16.1 .1-24 .1-1 .1 7.1 0 3.5 .1-6.6 .1-12.9 .1 23.7 .1-4.5 .1-16.8 .1 9.8 .1-9.4 .1 9.7 .1 .1 .1-5.8 .1 13.7 0-15.7 .1 22.4 .1-14.3 .1-1.4 .1-4.6 .1 7.7 .1-16.7 .1 .3 .1 21.2 .1-8.2 .1 8.3 .1-8 0-9.9 .1-2.2 .1 23.9 .1-25.9 .1 12.9 .1-2.6 .1 25.2 .1-23.3 .1-2 .1-3.1 .1 11.4 0-7.1 .1-15.5 .1 20.7 .1-16 .1 6.1 .1-.4 .1-8.8 .1 19.2 .1-20.3 .1 34.1 .1-16.8 .1 3.9 0-8.7 .1-6.8 .1 2.1 .1 18.2 .1-16.8 .1-7.2 .1 13.6 .1 4.3 .1 .3 .1 22.1 .1-49.4 .1 24.9 0 4.7 .1-10.5 .1-6.5 .1 23.6 .1-18.8 .1 15.3 .1-14.3 .1 .3 .1 14.2 .1-14.1 .1 9.6 .1-6.7 0 1.2 .1 10.8 .1-15.6 .1 14.5 .1-13.8 .1 3.2 .1 11.7 .1 4.1 .1-29.5 .1 6.6 .1 10.2 .1-2.9 0 4.6 .1 4.8 .1 .8 .1-9.2 .1 6.5 .1-2.7 .1-3.5 .1-10.1 .1 23.2 .1-10.2 .1-13.4 .1 12.5 0-11 .1-18.4 .1 20.3 .1 2.4 .1-7.9 .1 1.6 .1 16.2 .1 4 .1 1.3 .1-32.6 .1 12.8 .1 5.8 0-3.3 .1-.9 .1-2.3 .1 8.9 .1-2.9 .1 3.3 .1-1.2 .1-11.2 .1 6.7 .1-6.1 .1 25.6 .1-7.9 0-10.8 .1-.5 .1-1.1 .1-11.9 .1 7.1 .1-47.5 .1 44.9 .1 .6 .1 27.5 .1-15.9 .1 2.7 .1-3.9 0 14 .1-23.9 .1 10.7 .1-4.6 .1-13.8 .1 38.1 .1-14.8 .1-14.4 .1 4.4 .1-10.9 .1 9 .1 4.5 0 13.4 .1-7.3 .1 5.2 .1 .5 .1-3.7 .1-5.3 .1-2.7 .1 18.1 .1-11.6 .1 .7 .1-7.5 .1-2.1 0 18.7 .1-13.7 .1 2.5 .1-5.4 .1 2.8 .1 4.5 .1-3.6 .1-2.9 .1-2.4 .1 13 .1-19.6 .1 13.3 0 1.4 .1 12.2 .1-19.9 .1-15.8 .1 28.5 .1 4.3 .1-16.5 .1 2.1 .1 8.4 .1-7.3 .1 7.9 0-7 .1 14.8 .1-4.7 .1-19.8 .1 8.8 .1 2.7 .1 24 .1-21.3 .1 12.3 .1-.3 .1-12 .1 .4 0 5.8 .1-13.2 .1 17.6 .1-1.4 .1-3.4 .1-.6 .1-2.9 .1 2.4 .1-3.8 .1-4.7 .1 14.5 .1 8.2 0-23.6 .1-7.1 .1 6.6 .1 2.9 .1 3.4 .1-.7 .1 3.3 .1-3.1 .1 8.3 .1-6.5 .1-13.4 .1 17.7 0-3.3 .1 12.2 .1-12.4 .1 4.3 .1-21.2 .1 23.2 .1-25 .1 8.9 .1 14.2 .1-14.7 .1 19 .1-22 0 10 .1-13.7 .1 8.1 .1-10.5 .1 8.9 .1 11.2 .1-5.5 .1-6.9 .1-16.2 .1 20.7 .1 13.1 .1-10 0-12.2 .1 17.3 .1-15.1 .1 6.2 .1-2.4 .1 8.3 .1 2.3 .1-9 .1 5.7 .1 6.5 .1 6 .1-17.9 0 9.2 .1-7 .1 15.3 .1-4 .1-24.3 .1 12.6 .1-2.9 .1 2.4 .1 9.8 .1-10.1 .1 20.4 .1-18.3 0-5.3 .1 11.1 .1-5.1 .1 .8 .1-10.6 .1 21.6 .1-10 .1-6.4 .1 19.4 .1-13.5 .1 20.3 .1-19.2 0 5.9 .1-1.1 .1-14.3 .1 .1 .1 20 .1-5.1 .1-20.6 .1 27.1 .1 2.2 .1-.9 .1-5.1 .1 1.4 0-9.8 .1 13.6 .1-7.3 .1-3.2 .1-30.4 .1 15.8 .1 8.6 .1 6.6 .1 15.9 .1-14.2 .1-23.6 .1 13.8 0 7.9 .1-.2 .1 6.2 .1-42.7 .1 40.3 .1 1.1 .1-13.2 .1-1.9 .1-19.4 .1 38.6 .1-16.1 .1 25.1 0-19.6 .1-6.2 .1 14 .1 .2 .1 7.8 .1-27.1 .1 19.6 .1-12.7 .1-11.3 .1-11.7 .1 16 0-6 .1 8.4 .1-7.4 .1-5 .1 17.2 .1 11.5 .1-13.3 .1 11.9 .1-10.6 .1-7.4 .1 22.4 .1-9.8 0-3.9 .1-5.9 .1 27.7 .1-18.6 .1-5.5 .1-4.4 .1 5.6 .1 .3 .1-5.1 .1-11.7 .1 11.9 .1 25 0-11.2 .1-4.4 .1-.8 .1 2.9 .1 3.7 .1-4.8 .1 .9 .1 5.9 .1-37.2 .1 14.8 .1 17.5 .1 4.4 0-10.8 .1-8.7 .1-1.2 .1 24.8 .1-11.1 .1-7.5 .1-2.1 .1 11.6 .1 1.5 .1 10.7 .1-12.4 .1 6.6 0-15.6 .1 4.3 .1 10.6 .1-25 .1 26.5 .1-16.6 .1 12.3 .1 2.2 .1-26.4 .1 24.3 .1-.9 .1-4.7 0 7.3 .1-22.5 .1 1.8 .1-1 .1 10.4 .1 21.3 .1-39.3 .1 23.8 .1-.7 .1-4.1 .1-7.5 .1 14 0-4.6 .1-6.6 .1 3.4 .1-6.9 .1 6.3 .1-4.4 .1 21.4 .1 8.3 .1-4.3 .1-41.4 .1 31.4 .1-3.9 0-3.3 .1-5.3 .1-20.7 .1 30.4 .1-9.9 .1 20.6 .1-26.3 .1 6.3 .1 4.6 .1 7.1 .1-14.1 .1 9.5 0-7 .1-1.4 .1-13.2 .1 12.7 .1 10.5 .1-1.6 .1 2 .1-14.5 .1 22.9 .1-29.8 .1 28.5 .1-2.8 0-14.1 .1 6.3 .1 7.8 .1-26.7 .1 4.3 .1 1.1 .1 12.2 .1-.4 .1-23.3 .1 26.8 .1-2 .1-5.9 0-9 .1 14.4 .1-13.7 .1 23 .1-14.8 .1 6.3 .1 .5 .1-4.9 .1 .7 .1-17.6 .1 28.4 .1-5.9 0-11.6 .1-4.6 .1 .7 .1 10.7 .1 3.9 .1-11.5 .1 8.9 .1-4.6 .1 .1 .1-30.1 .1 13.2 0 25.6 .1-2.6 .1 6.5 .1-10.7 .1 5.2 .1 6 .1-22.8 .1 12 .1 16.4 .1-8.8 .1-21.7 .1 9.9 0 10.4 .1 .7 .1-19.8 .1-.5 .1 9.4 .1-6.1 .1 7 .1-14.3 .1 6.7 .1 12.7 .1 3.1 .1-7.1 0 11.6 .1-14.7 .1 9.9 .1-1.8 .1 2.4 .1-13.7 .1 8.4 .1-22.3 .1 22.4 .1 5.1 .1 5.3 .1 7.1 0-26.6 .1 7.2 .1-2.9 .1-6.6 .1 23.3 .1-22.1 .1 13.9 .1 .7 .1 7.6 .1-9.3 .1-6.7 .1-3.1 0-9.5 .1 15.9 .1-4.5 .1 9.3 .1 8.7 .1-25.1 .1 5 .1 17.7 .1 1.4 .1-.2 .1 9.8 .1-13.7 0 1.8 .1-5.6 .1-12.2 .1 2.5 .1 5.1 .1-14.9 .1 17.4 .1 10.7 .1-27.3 .1-2.9 .1 8.8 .1 7.7 0-5.4 .1-5.1 .1 12.3 .1-2.6 .1-.1 .1 22.5 .1-37.9 .1 9 .1 22.4 .1-15.5 .1-1.4 .1-10.6 0 8.4 .1 2.7 .1-.7 .1 6.3 .1-11.1 .1 9.8 .1-.5 .1-.6 .1-20.1 .1 26.7 .1 2.2 .1-23.6 0 6.6 .1 8.2 .1 8.5 .1-12.4 .1 1.1 .1 7.7 .1-4 .1-15.5 .1 26.4 .1 3.1 .1-6.4 .1-6.4 0-9.7 .1-1.3 .1 4.4 .1 8.4 .1-24.5 .1 30.7 .1-12.7 .1-13.3 .1 13.9 .1-4 .1 7.3 .1-6.7 0 10.3 .1-8.1 .1-2.4 .1-6.5 .1-7.8 .1 17.3 .1 8.6 .1-4.4 .1 1.4 .1-1 .1 3.2 .1-9.7 0 6.7 .1-14.1 .1 23.4 .1-6.4 .1-15.4 .1 14.2 .1-3.3 .1-11.8 .1 22.3 .1-6.9 .1 .2 0-16.5 .1 17.7 .1-15.1 .1 9.8 .1 4.9 .1-11 .1 9.2 .1-9.8 .1 3.4 .1-1.5 .1 14.8 .1-19.3 0 2.8 .1 16.3 .1-3.3 .1-8.1 .1-11 .1 5.7 .1 8.9 .1 10.9 .1-28.1 .1 31.7 .1-29.6 .1 7.1 0 1.2 .1 4.3 .1 9.3 .1 3.4 .1-1.8 .1-10.2 .1-9.2 .1 .4 .1 26.8 .1-19.8 .1-5.3 .1 11.7 0-6 .1 9.7 .1-13.7 .1-6 .1 4 .1 9.2 .1-8.1 .1 17.8 .1-14.5 .1 34.1 .1-37.7 .1 3.1 0 6.3 .1-3.3 .1-6 .1 9.7 .1-21.7 .1 19.8 .1-1.4 .1-10.2 .1-1.1 .1-15 .1 12.4 .1 15.6 0-3.8 .1 8 .1-5.9 .1-21 .1 18.1 .1-1.8 .1-1.8 .1-2.9 .1 19.8 .1-1 .1-24.4 .1 19.3 0-17.8 .1 12.1 .1-11.5 .1 22.7 .1-5.9 .1-9.8 .1-1.8 .1 .6 .1 12.3 .1-3.3 .1-1.6 .1-18.8 0 14.1 .1-11.9 .1 12.3 .1 14.8 .1-10.4 .1-4.5 .1-4 .1 1.8 .1-1.6 .1 8.3 .1-4.5 .1-.8 0 12.2 .1-9.2 .1-8.8 .1-8 .1 5.7 .1 3.3 .1-1.9 .1 16.3 .1 7.1 .1-20 .1 18.3 .1 3.4 0-11.2 .1-9.7 .1-3.9 .1 6.9 .1 6.7 .1-14.4 .1-11.3 .1 24.2 .1-11.6 .1 14.6 .1 1.2 .1-.9 0-4.8 .1-14.2 .1 24.7 .1-11 .1-45.7 .1 39.3 .1-.1 .1 14.1 .1-38.9 .1 11.8 .1 15.5 .1-6 0 14.9 .1-14.7 .1 5 .1 20.5 .1-26.7 .1 18.3 .1-8.1 .1 1.6 .1 11.8 .1-9.8 .1-1 0-10.9 .1 3.4 .1 9.8 .1 8.6 .1-2.9 .1 4 .1-10.9 .1 14 .1-3.9 .1-3 .1-16.7 .1 20.7 0-2.7 .1 1.9 .1 16.2 .1-47.1 .1 35.2 .1 1.3 .1 6.9 .1-19 .1-10.2 .1 16.1 .1-30.7 .1 24.2 0-3.1 .1 1.8 .1-.1 .1 7.3 .1-11.2 .1-7.5 .1 13.3 .1 8.1 .1-23.5 .1 25.1 .1-13.3 .1-2.1 0-7.2 .1 13.5 .1-4.6 .1-2.9 .1-15.2 .1 30.8 .1-14.4 .1 12.2 .1-14.3 .1 13.7 .1-6.6 .1-17.1 0-3.6 .1 18.5 .1-.1 .1 9.1 .1-7.3 .1-6.9 .1-4.4 .1 5.2 .1-10.3 .1 7.9 .1-9.1 .1 18.2 0 5.1 .1-12.9 .1 8.9 .1 .1 .1-7.3 .1 4.9 .1 9.1 .1-3.3 .1-8.6 .1-1 .1-7 .1 20.9 0-3.6 .1-.3 .1 5.3 .1-11.2 .1 8 .1-4.9 .1-18.7 .1 14.6 .1-17.3 .1 16.5 .1-2.4 .1 11.8 0-.4 .1-12 .1 3.3 .1 22.9 .1-41.7 .1 27 .1-37.1 .1 12.8 .1 15.1 .1-12.6 .1 12.7 .1-3.7 0 14 .1-28.5 .1 12.4 .1 3.4 .1-1.9 .1-19.3 .1 22.2 .1-6.2 .1 7 .1-18.5 .1 22.6 .1-13.7 0 .9 .1 .4 .1 .6 .1 21.4 .1-10.3 .1-15.5 .1 4.3 .1 2.8 .1 4.5 .1 12.7 .1-19.2 .1-3.8 0-9.8 .1 21.8 .1 4 .1-8.9 .1-17.2 .1 13.7 .1-2.2 .1-8.6 .1 7.6 .1 5 .1 9.8 .1-40.4 0 25 .1 7 .1-10.1 .1 13.5 .1-14.4 .1 12.5 .1-.7 .1-12.7 .1 3.3 .1-4.5 .1 21.1 0-8.8 .1-12.6 .1 17.8 .1-11.3 .1-16.1 .1 21 .1 1.3 .1 7.7 .1-13.2 .1 15.8 .1-20.2 .1 7.2 0-4.1 .1 6 .1-2.3 .1 3 .1 6.6 .1-3.7 .1-2.9 .1-14.9 .1 14.8 .1 3.7 .1-14.5 .1 14.2 0 16.6 .1-23.2 .1 3.6 .1 8.7 .1-10.1 .1 .4 .1 11.6 .1-5.5 .1 11.5 .1-17.8 .1 9.1 .1-2.7 0-8.2 .1-7.1 .1 11.2 .1 5.1 .1-16.5 .1 13.7 .1 7.3 .1-5.4 .1 3.1 .1 .4 .1-13.2 .1 14.5 0-10.8 .1-18.8 .1 8.9 .1-6 .1 3.5 .1 14.7 .1-9.8 .1 27.8 .1-8 .1-31.5 .1 25.1 .1 .2 0-15.4 .1 .2 .1 2.3 .1-4.9 .1-21 .1 9.1 .1 20.3 .1 9.3 .1-24.2 .1 16.7 .1 4.2 .1 4.7 0-9.5 .1 0 .1 14.3 .1-11 .1 2.3 .1-15.7 .1 22.1 .1-1.1 .1 9.8 .1-18.8 .1-6.6 .1 17.2 0-2.9 .1-7.7 .1 6.7 .1 6.6 .1-9.8 .1-14 .1 28.7 .1-31 .1 5.4 .1 30.9 .1-28.4 .1 3.8 0 13.3 .1-13 .1-7.6 .1-5.6 .1 16.4 .1-.8 .1 7.4 .1 2.2 .1-7.2 .1-1.9 .1-3.7 .1 4.3 0-12.2 .1 7.7 .1 3.7 .1-11.2 .1 12 .1-14.8 .1-21 .1 54.3 .1-34.7 .1 6.8 .1 2 .1 9.6 0-.2 .1-19 .1 15.2 .1-4.3 .1 5.8 .1 14.6 .1-22.7 .1 4.5 .1 9.6 .1-.8 .1-3.1 .1 19.9 0-18.3 .1-3.9 .1-8.5 .1 2.5 .1 2.8 .1-8.8 .1 23.2 .1-6.6 .1-14.4 .1 23.6 .1-37.6 0 22.9 .1-16.1 .1 14 .1 6.6 .1-16.5 .1 22 .1-19.2 .1 15 .1-7.2 .1-12.9 .1 23.8 .1 1.8 0-6.5 .1-10.7 .1 19 .1-21 .1 18.7 .1-10.2 .1-19.2 .1 8.9 .1 21.6 .1-9.6 .1 8.8 .1-18.6 0 21.5 .1 5.2 .1-23.5 .1 7.2 .1-3 .1-20.7 .1 11.4 .1 20.5 .1 2.2 .1-2.3 .1-1.8 .1-8.6 0 13.8 .1-5.5 .1-9.1 .1-6.7 .1-8.5 .1 32.2 .1-16 .1-5.1 .1 18.9 .1-28.1 .1 16.9 .1-.7 0-3.8 .1 1.8 .1-5 .1 1.7 .1-8.3 .1 9.2 .1 16.3 .1-17.4 .1-10.2 .1 14.7 .1 1.8 .1-1.4 0 18.5 .1-10.1 .1-6.7 .1-9.4 .1 23.6 .1-39.1 .1 33.4 .1-19.6 .1 21.3 .1-20.1 .1 11.5 .1-4.6 0-2 .1-5.7 .1 19 .1-18.8 .1-15.3 .1 17 .1-5.1 .1 11.6 .1-9.4 .1 14 .1-31.6 .1 41.3 0-24 .1 3.3 .1 4.6 .1-5.4 .1 16.8 .1-5.1 .1-9.8 .1-9 .1 10.7 .1 1.4 .1-.6 .1 2.2 0 9.5 .1-15 .1 7.2 .1 1.6 .1-.7 .1 22.8 .1-16 .1 1.1 .1-23.8 .1 4.1 .1 12.2 .1 1.6 0 17.4 .1-17.3 .1-13.5 .1 7.8 .1-15.9 .1 7.7 .1 4.9 .1 7.3 .1-3.7 .1-1.5 .1-7.7 .1 3.2 0 3 .1 16.8 .1-22.8 .1 8.8 .1-17.5 .1 8.7 .1 17 .1 2.6 .1 3.7 .1 2 .1-31 .1 27.8 0-8.6 .1 1.2 .1-11.8 .1-10.3 .1-13.5 .1 46 .1-27.4 .1 11.6 .1 4.6 .1 13.6 .1-19.3 0-12.2 .1 11.7 .1 12.6 .1 1.6 .1-29.2 .1 29.1 .1-4.2 .1 11.6 .1-33.3 .1 4.6 .1-5.4 .1-.2 0 17.3 .1-21.7 .1-6.7 .1 34.7 .1 27.4 .1-43.3 .1 16.5 .1-6.9 .1-9 .1 2.9 .1 16.4 .1-9.9 0-15.8 .1 11.2 .1 4.2 .1-5.9 .1 6.7 .1-1.9 .1-7.2 .1 6.4 .1-8.2 .1-1.6 .1 16.4 .1-5.3 0-5.6 .1-.6 .1-.7 .1 8.4 .1 13.8 .1-12.2 .1-5.6 .1 .2 .1 2.6 .1 5.2 .1-4.4 .1-2.1 0-2.2 .1 18.8 .1-10 .1-14.2 .1 11.4 .1-6.6 .1-13.8 .1 7.7 .1 13.9 .1-20.1 .1 15.4 .1 11.2 0 2.9 .1-3.8 .1 1.9 .1-7 .1-1.9 .1-8.2 .1 6.8 .1-9.6 .1 21.3 .1-18.9 .1 8.8 .1 4.9 0-10.5 .1 8.9 .1-16.7 .1-.2 .1 11.7 .1 6.1 .1-22.3 .1 22.5 .1-3.9 .1-7.6 .1 .3 .1-5.7 0 34.9 .1-30.6 .1 7.1 .1-4.2 .1-5.3 .1 .3 .1-.5 .1 2.9 .1-21.3 .1 36.9 .1-21.8 .1 19.3 0-2.8 .1-10.4 .1 9.3 .1 3.6 .1-3.7 .1-4.8 .1-1.9 .1 18.2 .1-19.8 .1 5.6 .1-9.3 .1 2.8 0 8.7 .1-7.3 .1-13.8 .1 5 .1 3.5 .1-.6 .1-.5 .1 11.8 .1-13.1 .1-.6 .1 8.1 .1 5.1 0 5.6 .1-16.2 .1 23.9 .1-13.7 .1 .4 .1 6.4 .1 11.3 .1-29.2 .1 15.4 .1 16.1 .1-10.1 .1-1.8 0-8.5 .1-13 .1 8.5 .1-1.1 .1 23.1 .1-13.8 .1 7.4 .1-24.1 .1 18 .1-18.8 .1 16.8 0-5.3 .1-5.3 .1-7.3 .1 11.6 .1-1.9 .1-2 .1 .9 .1 3.6 .1-8.4 .1 15.3 .1 6 .1-15.2 0 5.2 .1-.1 .1-1.9 .1-6.9 .1 29.5 .1-25.5 .1 7.1 .1 10.4 .1-12.3 .1-5.6 .1 4.4 .1 5.6 0-4.4 .1-4.3 .1 1.1 .1 16.7 .1 8.4 .1-28 .1 6.2 .1 9.4 .1 8 .1-7.3 .1-11.1 .1-21.1 0 42.2 .1-4.4 .1-26.2 .1-1.9 .1 7 .1 9.8 .1 15.5 .1-9.9 .1 7.2 .1 9.9 .1-18.8 .1 11 0-12.3 .1 7.7 .1 8.2 .1-27.8 .1 19 .1-15.3 .1 20.4 .1-18.4 .1-7.3 .1-9.3 .1 17 .1-26 0 27.2 .1 1.1 .1 1.4 .1-8.1 .1-12.1 .1 15 .1 23.1 .1-36.3 .1 14.6 .1 12.3 .1-12.8 .1 .9 0 11.4 .1-24.3 .1 7.6 .1 22.5 .1-13.8 .1-10.2 .1 8.9 .1-5.8 .1 24.5 .1-15.7 .1 5.9 .1-2.9 0-18.5 .1 25.8 .1-10.3 .1 8.9 .1-3 .1 5.1 .1-29.2 .1 25 .1-.3 .1 .1 .1-3.5 .1 2.5 0-12.2 .1-2.6 .1 9.7 .1-7.1 .1-7.4 .1 17.6 .1-10.7 .1-1 .1 9.9 .1-13.4 .1 8.4 .1-8.1 0 1.6 .1 4.4 .1 7.9 .1-14 .1 11.4 .1-9.4 .1 4.6 .1-2.7 .1 14.8 .1-25.7 .1 8.8 .1-9.5 0 16.6 .1 7.8 .1-11.6 .1-6.9 .1-1.9 .1-6.7 .1 16.8 .1 1.3 .1 11.4 .1-23.1 .1 5.9 .1 18.1 0-13.2 .1-4.8 .1 12.7 .1-2.4 .1-10.9 .1-8.6 .1 12 .1-4.7 .1 20.7 .1-13.1 .1-.8 0 6.1 .1 1.5 .1-14.4 .1 4 .1-.5 .1-7.9 .1 10.7 .1 4.3 .1-5 .1-3.7 .1 20.5 .1-29.2 0 27.4 .1-15.7 .1 1.6 .1 20.2 .1-16.7 .1 .9 .1-6 .1-2.9 .1 16.4 .1-6.8 .1-2.3 .1 4.6 0-5.7 .1-2.6 .1 3.5 .1-15.5 .1 29.2 .1-16.8 .1-2.7 .1-4.6 .1 15.2 .1 7.8 .1-24.6 .1 10.7 0 7.8 .1-7 .1 7.4 .1-18.9 .1-5.1 .1 25.5 .1-16.7 .1 30.6 .1-10.8 .1-15.5 .1-6.3 .1-6 0 24.7 .1-10.5 .1-7.5 .1 8.3 .1 11 .1-14.2 .1 9.2 .1-20.9 .1 19 .1-11.3 .1 11 .1-7.5 0-4.6 .1 7.2 .1-4.1 .1-15.1 .1 20.1 .1-21 .1 12 .1-2.6 .1 9.7 .1 .8 .1-5.1 .1-8.1 0 5.1 .1 11.3 .1-7.4 .1-19.2 .1 27.4 .1-7.4 .1-1.7 .1-3.1 .1 7.3 .1 5.2 .1-5.7 .1-7.8 0-7.6 .1 15.7 .1-15.5 .1-7.4 .1-8.5 .1 14.7 .1 .7 .1-13.4 .1-1.6 .1 12.9 .1 23.3 .1-21.8 0 10 .1 8.2 .1 4.2 .1-21.3 .1 18.6 .1-26.8 .1 14.5 .1 6.2 .1-9.1 .1 9.8 .1-1.6 .1-11.6 0 3.4 .1 2.3 .1-8.8 .1 14.7 .1 10.1 .1 1.9 .1-17.4 .1-9 .1 23.6 .1-15.3 .1-5 .1 9.4 0-11.6 .1 9.7 .1-1.2 .1 18.6 .1-17.8 .1-11.6 .1 3 .1 3.4 .1 23.3 .1-18.4 .1-24.3 .1 48.5 0-6 .1-25.6 .1 5.9 .1-16.7 .1 7.8 .1 11.9 .1-10.1 .1 10.4 .1-.8 .1 5.4 .1-3.4 0 5.9 .1-10.7 .1 7.7 .1-4.8 .1 6.7 .1 .3 .1 2.9 .1-14.6 .1 5.4 .1-9.8 .1 1.6 .1-7.1 0 13.9 .1-17.2 .1 10.5 .1 21.3 .1-31.6 .1 23.6 .1-2.3 .1-2.5 .1 .9 .1 9.4 .1-15.4 .1 13.2 0 15.6 .1-16 .1-10.4 .1-3.2 .1 20.7 .1-26.9 .1 26 .1-7.1 .1 11.6 .1-29.5 .1 21.6 .1-7.3 0 2.5 .1 9.9 .1-22.8 .1 .4 .1 4.6 .1 2.2 .1-5.1 .1 20.6 .1-14.8 .1 11.1 .1-19.3 .1 15.3 0-17.6 .1-6.2 .1 15.4 .1 8.3 .1-12 .1 .8 .1-12.9 .1 7.3 .1-2.8 .1 10.7 .1-8.2 .1-3.4 0 13.6 .1 1.4 .1 9.5 .1-7 .1-16.8 .1 6.9 .1 6.5 .1-14.8 .1 1.7 .1 9.5 .1 .9 .1 6.5 0-3.7 .1-1.8 .1-1.2 .1-6.3 .1 19.2 .1 1.2 .1-15.7 .1 .2 .1 1 .1 5.1 .1 1 .1-10.5 0 1.9 .1 13.9 .1-30.3 .1 17.7 .1 5.7 .1-9.3 .1 8.9 .1 2.7 .1-4.8 .1-6 .1-15.7 .1 19.3 0 12.1 .1-19.3 .1 15.9 .1-16.7 .1 18.4 .1-2.5 .1-13.5 .1 20.6 .1-22.2 .1 8.9 .1-25.6 .1 31 0 .5 .1-27.6 .1 6.3 .1 7.9 .1 2.2 .1-15.2 .1 3.6 .1 11.9 .1 3.8 .1-27.8 .1 14.7 .1 11.5 0-7.7 .1 2.5 .1 4.8 .1 5.7 .1-12.6 .1-4.6 .1 4.3 .1-.6 .1 14.5 .1 4.7 .1-4.4 .1 11.2 0-13.1 .1-21.3 .1-9 .1 14.2 .1 16.8 .1-7.3 .1 5.1 .1 7.8 .1-16.9 .1-25.7 .1 39.4 0-6.6 .1 19.1 .1-29.7 .1 13.5 .1 5.8 .1 10.4 .1-29.8 .1 16.9 .1 3.9 .1-9 .1 1.8 .1 2.7 0-12 .1 27.5 .1-10.4 .1-23.6 .1 0 .1 29.3 .1 5.5 .1-22.9 .1 7 .1-10.6 .1 8.5 .1-5.5 0-7.7 .1 10.9 .1 1.4 .1 8.4 .1-7.5 .1 11.1 .1-20.4 .1 10.4 .1 9.8 .1-15.5 .1 6.9 .1-12.8 0 .2 .1 3.6 .1 16.7 .1-6 .1 5 .1 4.7 .1-12.9 .1-3.4 .1-6.7 .1 11.3 .1-5.5 .1 3.3 0-5 .1-.5 .1-9 .1 22.9 .1 0 .1-2.1 .1-21.3 .1 21.5 .1-5.1 .1-13.7 .1 12 .1 1 0-21.4 .1 14.3 .1 14.3 .1-32.5 .1 32.1 .1-9.5 .1-.3 .1 5.4 .1-10.8 .1 14.1 .1-6.2 .1-8.2 0 7.4 .1-5.7 .1 4.4 .1-4.3 .1-17.5 .1 23.3 .1-3.6 .1 2.2 .1 7.9 .1-11.8 .1 2.5 .1-12.2 0 14.9 .1-12.7 .1-1.5 .1 9.3 .1 16.1 .1-9 .1-11.8 .1 5.9 .1-.8 .1-3.6 .1 4 .1 6.7 0-3.1 .1 .2 .1-.8 .1-3.2 .1 .6 .1-4.3 .1 16.6 .1-20.1 .1 11.4 .1 14.2 .1-27.1 .1 1.1 0-1.6 .1 24.2 .1-19.2 .1 32.8 .1-36.5 .1 5.6 .1 3.7 .1 5.1 .1-5.9 .1-19.3 .1 7.2 .1 15.6 0 13.1 .1-20.3 .1 6.6 .1-1.7 .1-6.5 .1 11.5 .1-10 .1-10.5 .1 14.3 .1 5.5 .1 1.6 .1-11.1 0 5.7 .1-.8 .1 3.9 .1 1 .1 .9 .1-18.2 .1-4.8 .1 2.3 .1 8.2 .1 9.4 .1-22.4 0 21.3 .1-3.1 .1-.8 .1 9.5 .1-5.1 .1-3.5 .1-4.4 .1 7.9 .1-4.6 .1-5.5 .1 6 .1 3 0 16 .1-29.5 .1 2.8 .1 6.2 .1-9.2 .1 25.3 .1-26.1 .1 18.1 .1-2.4 .1-1.2 .1-.6 .1-2 0 3.6 .1 3 .1 2 .1 4.1 .1-25.8 .1 2.7 .1 6.6 .1 11.8 .1-7 .1-17.5 .1 16.9 .1 14.6 0-22.6 .1 14.5 .1-9.4 .1-9.7 .1 5.3 .1 14.5 .1-4.3 .1 13.2 .1-4.2 .1-9.9 .1-13.1 .1-1.4 0 14.7 .1 9.7 .1-4 .1-6.5 .1-10.1 .1 9.8 .1-12.5 .1 16.7 .1-10.9 .1 14.2 .1-4.2 .1-19.8 0 21.5 .1-1.7 .1-11.7 .1-9.9 .1 20 .1 6.4 .1-4.5 .1-21.6 .1 9.9 .1 4.4 .1-3.1 .1 9.1 0-12.6 .1-2.5 .1 2.4 .1 21.8 .1-14.6 .1 4.2 .1 3.1 .1 15.5 .1-20.3 .1 9.9 .1 1.2 .1-4.8 0 5.3 .1-2.9 .1-26.6 .1 10.4 .1 14.2 .1-1.2 .1-6.5 .1-8 .1 7.8 .1 3.3 .1-8.7 .1 7.5 0-19.2 .1 20.7 .1-12.4 .1 15.7 .1 3.9 .1-4.1 .1 0 .1-13.1 .1 15.8 .1-4.2 .1-7.9 .1-15.8 0-1.2 .1 .8 .1 23.7 .1-5.1 .1 2.9 .1 3 .1-19.2 .1 20 .1-21.8 .1 18 .1-33.1 .1 40.7 0-11.7 .1-17.8 .1 34.7 .1-38.1 .1 22.1 .1 7.8 .1 4.2 .1-14.2 .1 1 .1-2.5 .1 7.1 .1 9.4 0-18.4 .1 6.5 .1 14 .1 2.4 .1-11.9 .1-15.1 .1 8.2 .1-13.2 .1 28.4 .1-13.5 .1-13.3 0 14.7 .1 2.7 .1-30.3 .1 31.1 .1-6.3 .1-2 .1 5.7 .1-7.2 .1 14.6 .1-10.9 .1 18.4 .1-19.2 0-11.5 .1 1.1 .1 15.8 .1-13.9 .1-.6 .1 13.4 .1 8 .1-3.8 .1 5.4 .1-9.2 .1 20.6 .1-20.4 0 12.2 .1 4.7 .1-26 .1 4.5 .1-6 .1 9.2 .1-7.7 .1-.2 .1 10.7 .1 3.8 .1 4.8 .1-16.7 0 3.5 .1-5.8 .1 13.1 .1-16.8 .1 9.9 .1-5.3 .1 .5 .1 13 .1-1.5 .1-19.1 .1 26.4 .1-36.3 0 30.2 .1 .5 .1-11.9 .1-4.8 .1-4.2 .1-11.8 .1 1.6 .1 19.5 .1-.6 .1-2.1 .1 12.9 .1-16.7 0 12.7 .1-4.5 .1 21.6 .1 .4 .1-36 .1 14.4 .1 2.3 .1-3.5 .1 4.5 .1-29.4 .1 18.6 .1 .1 0 24.7 .1-23.2 .1 15.7 .1-15.6 .1 17.2 .1-8.9 .1-1.7 .1-11.3 .1 14.3 .1 4.6 .1-13.2 .1 12.2 0-6.2 .1 20.2 .1-34.3 .1 7.1 .1-9.8 .1 10.4 .1 17.4 .1 12.8 .1-22.8 .1-8.9 .1-6.2 .1 12 0 15.9 .1-15.6 .1 11.2 .1-4.3 .1-5.2 .1 .5 .1-8.2 .1 18.7 .1-14.7 .1 2.9 .1 12.8 .1-16.8 0 5 .1 16.9 .1-16.8 .1 10.3 .1-47.6 .1 35.7 .1 5.9 .1 12.6 .1-11.7 .1-4.1 .1 7.7 .1-4.9 0 5.2 .1 2.5 .1-5.7 .1-1.6 .1-14.5 .1 10.4 .1 1 .1 4.3 .1-3.6 .1 6.3 .1 17.7 .1-25.2 0-4.3 .1-14.3 .1 12.6 .1 .8 .1 10.8 .1 10.5 .1-6.8 .1-4.2 .1-5.6 .1-14.5 .1 37.8 0-29.2 .1 6.8 .1 3.6 .1-9.9 .1 14.6 .1 0 .1-13.8 .1 16.1 .1-7.3 .1 4.9 .1-11.7 .1 2.5 0-5.2 .1 7.4 .1 9.6 .1-11.5 .1-20.5 .1 25.2 .1 2.5 .1-6.3 .1 1.4 .1 6.8 .1-14.5 .1 12.9 0-18.1 .1 1.8 .1 .7 .1 20.9 .1-14.9 .1-3.1 .1 2.5 .1 10.6 .1-21 .1 16.1 .1-6.3 .1 7.1 0 19.8 .1-17.3 .1-.6 .1-24.3 .1 10.8 .1 9.9 .1 2.3 .1 1.3 .1-7.8 .1 6.3 .1-4.7 .1 18.2 0-13.5 .1-9.8 .1 9.3 .1-12.9 .1 6.2 .1-6.5 .1 14.8 .1-8.2 .1-11.2 .1-17 .1 46.1 .1-31.6 0 20.7 .1-6.3 .1 3.6 .1 2.7 .1 7.1 .1-22.2 .1 8.9 .1-4 .1 0 .1 12.3 .1 2.4 .1-12.1 0 8.2 .1 5.9 .1 5.8 .1-14.5 .1 3.1 .1 2.1 .1 .7 .1 10.2 .1-10.6 .1-24.6 .1 24.3 .1 7.9 0 4.6 .1-24.5 .1 8.6 .1 10.1 .1-22.4 .1 10.6 .1-9.6 .1 6.7 .1-28.7 .1 29.3 .1 6.2 .1-11 0 7.7 .1 6.7 .1-8.2 .1-2.4 .1-7.4 .1 19.3 .1-13.1 .1 20.2 .1-14.2 .1 14.2 .1-26.6 .1 3.8 0 12.3 .1-32 .1 37.5 .1-7.4 .1 10.9 .1-22.4 .1 .9 .1-5.8 .1 2.2 .1 18.9 .1-6.9 .1 3.7 0 9.8 .1-13.2 .1 9.9 .1 3.8 .1-20.7 .1 5.4 .1 3.4 .1-14.1 .1 15.8 .1 4.5 .1-9.4 .1 8.5 0 1.9 .1-11.7 .1-1.3 .1 13.5 .1-5 .1-13 .1-4 .1 19.2 .1-26.4 .1 16.6 .1 3.7 0-17.3 .1 13.3 .1 4.8 .1-16.4 .1 5 .1 11.1 .1 .9 .1-45 .1 39.1 .1 7.4 .1 7.5 .1-16.1 0 12.9 .1-2.9 .1-15.8 .1 10.6 .1 7.3 .1-6 .1 4.1 .1-2.6 .1-29.2 .1 20.2 .1-5.9 .1-25.9 0 31.1 .1 7.4 .1-5.6 .1 2.8 .1-.2 .1 25.8 .1-29 .1-9.7 .1-.5 .1 20.2 .1-10.7 .1 6.2 0 3.8 .1 .2 .1-9.8 .1-1 .1 8 .1 3 .1-.1 .1-15.7 .1 14.5 .1-9.1 .1 4.4 .1 18.9 0-33.4 .1 7 .1 5.8 .1-8.3 .1 .8 .1 9.1 .1-9.6 .1 16.8 .1-4.1 .1-31.9 .1 19.1 .1 5.4 0 18 .1-19.5 .1 2.9 .1 .9 .1-10.6 .1-11.4 .1 23.6 .1 1.9 .1-12.8 .1 1.4 .1 9.5 .1-11.8 0 2.8 .1-23 .1 26 .1 10.8 .1-6.7 .1 12.5 .1-19.4 .1 18 .1-2.7 .1-37 .1 43.3 .1-14.5 0-4.9 .1 22.3 .1-19.5 .1 5 .1-4.5 .1 4.4 .1 7.4 .1 2.7 .1-1 .1-2.2 .1 20.6 .1-21.2 0 4.2 .1-12.5 .1 .4 .1 12.2 .1-25.9 .1 29.4 .1-9.4 .1-6.8 .1 5.3 .1 3.5 .1-23.9 .1 5.5 0 13.3 .1-.1 .1 3.7 .1 15.4 .1-16.7 .1-1.9 .1 12.6 .1-14.7 .1-4.5 .1 8.2 .1-13.6 .1-2.1 0 32.7 .1-19.9 .1 7.9 .1 6 .1-2.4 .1-22.9 .1 14.1 .1-7.8 .1 6.6 .1-3.2 .1-.7 .1 14.9 0-18.3 .1-1.5 .1 5.5 .1 4.4 .1 13.3 .1 7.3 .1-30.3 .1 15.3 .1 3.2 .1-9.7 .1 5.1 0-13.7 .1 23.8 .1-27 .1-8.3 .1 30.4 .1-13.9 .1 7.9 .1-7 .1 2.7 .1 2.7 .1-13.1 .1 .9 0-15.4 .1 42.4 .1-19.8 .1 .8 .1-10.8 .1 17.3 .1-7.6 .1 5.7 .1 11 .1-25.2 .1 3.1 .1-.7 0 11.9 .1-10.3 .1 2.9 .1-12.2 .1 26.6 .1-18.1 .1 14.6 .1-.3 .1-22.4 .1 11.1 .1 1.7 .1-5 0 29.8 .1-22.6 .1-12 .1 21 .1-22.8 .1 2.3 .1-11.1 .1 22.6 .1-12.8 .1 10.1 .1-2.7 .1-2 0-3.3 .1 22.5 .1-25.4 .1 17.2 .1-50 .1 51 .1-1.8 .1 1.4 .1-14.1 .1 13.2 .1-10.2 .1-.4 0 17.5 .1-10.6 .1 5.8 .1 2.5 .1 .1 .1-10.1 .1 .1 .1 .3 .1-9.1 .1 6.8 .1 .4 .1 5.5 0 12.9 .1-14.9 .1 2.7 .1-11.4 .1 8.5 .1-17.6 .1 16.3 .1 10.1 .1 10.6 .1-8.1 .1-15.6 .1 9.5 0-9.6 .1 5 .1 .3 .1-2.7 .1 3.1 .1-17.6 .1 3.5 .1 11.7 .1-16.7 .1 7.6 .1 4.6 .1 3.9 0 13.1 .1-12.4 .1-2.6 .1 6.5 .1-7.1 .1-8.7 .1 20.1 .1-9.8 .1-13.4 .1 24.5 .1-2.9 .1-25.1 0 15.7 .1-.1 .1-7.7 .1 2.4 .1 3.3 .1 3.8 .1-5.6 .1 17.4 .1-33.1 .1 35.5 .1-12.7 .1 2.4 0-43.2 .1 32 .1-4.3 .1 .8 .1-.2 .1 3.6 .1 14.9 .1-8.8 .1-14.6 .1 22.3 .1 1.3 .1-13.7 0 9.8 .1-2.5 .1-3.2 .1 3.3 .1-5.8 .1-.1 .1 14 .1-5.6 .1-10.8 .1 2.2 .1-2.6 0 3.5 .1 6.4 .1 8.4 .1-2.6 .1 6.4 .1-7.8 .1-6.7 .1-.6 .1 4.3 .1-.1 .1 12.2 .1-8.4 0-4.3 .1 3.8 .1-13.5 .1 20.3 .1-26.3 .1 21.6 .1-9.6 .1 13.5 .1-28 .1 5 .1 25 .1-11.2 0 3.1 .1-2.8 .1 13.9 .1-27 .1 21 .1-7.9 .1-1.5 .1 .9 .1 6.4 .1-20.8 .1 17.1 .1-11.7 0-2.7 .1 18.6 .1-5.6 .1 0 .1 8.7 .1-15 .1-3.2 .1 11.7 .1-2.1 .1-17.4 .1 7.9 .1 9.1 0-1.1 .1 .4 .1-30 .1 25.7 .1-4.2 .1 5.8 .1-.2 .1 8.6 .1-7.5 .1 5.9 .1-1.1 .1 .1 0-7.6 .1-2.1 .1-1.3 .1 7.6 .1 3.1 .1-17.6 .1 14.2 .1 10.3 .1-18.2 .1 4 .1 1.8 .1 13.7 0-14.6 .1 7 .1 19.5 .1-31.3 .1 6.9 .1 5.6 .1 6.9 .1-23.5 .1 15.9 .1-5.7 .1-7.3 .1-7.1 0-1.9 .1 20.2 .1 4 .1-27.8 .1 17.1 .1 2 .1 1.3 .1-2.6 .1 23.4 .1-9.9 .1-12.1 .1-19.7 0 22.7 .1-1.3 .1-8.2 .1-6.1 .1 4.8 .1 12.3 .1-5.3 .1 2.2 .1 3.6 .1-12.5 .1 18.9 .1-3 0-6.8 .1-9.1 .1 1.9 .1-3.5 .1 7.6 .1 7.5 .1 9.2 .1-19.7 .1 13.8 .1-22.9 .1 11.2 .1 14.8 0-11.9 .1-10 .1 13.2 .1-9.7 .1-3.4 .1 11.1 .1 1.6 .1-8 .1 26.3 .1-13 .1 1.6 .1-22.5 0 20.1 .1 5.4 .1-16 .1 5.7 .1-8.2 .1-4.4 .1 8.5 .1 4 .1 12.4 .1-5.1 .1-20.3 0 24.1 .1 2.8 .1-28.3 .1 15.6 .1-3 .1 .8 .1-9 .1-6.3 .1 38.7 .1-25.7 .1 4.1 .1 .7 0-1.7 .1-3.8 .1-11.3 .1 6.3 .1 5.5 .1 8.9 .1-14.6 .1 6.7 .1 15.3 .1-32.3 .1 18.2 .1-16.8 0 10 .1-5.9 .1 19.7 .1-12.9 .1-10.9 .1 19.3 .1-29.4 .1 26.7 .1 8.7 .1-1.1 .1-14 .1 17.1 0-11.5 .1-11.6 .1 33.2 .1 1.2 .1-15.7 .1-4.5 .1-4 .1 1.6 .1-18 .1 8 .1-15.5 .1 18.5 0-5.9 .1 9.5 .1 2.6 .1 3 .1-10 .1 9.4 .1 13.2 .1-19.6 .1 15.2 .1-27.5 .1 19.7 .1-3.1 0 12.8 .1-16.3 .1 5.1 .1-6.5 .1-15.9 .1 35.6 .1-9.3 .1-11.4 .1 15 .1-.5 .1-8.3 .1-.9 0 16.3 .1-24.3 .1-2.1 .1 20.2 .1-3.8 .1-10.3 .1-2.2 .1-9.9 .1 10.7 .1 33.6 .1-17.6 .1-29.4 0 31.1 .1-19 .1 9.8 .1 15.3 .1-25.1 .1-13.4 .1 14.8 .1 10.4 .1-7.8 .1-2 .1-1.8 .1 7.5 0 7 .1 2 .1-10.2 .1-21.4 .1 19.5 .1 1.2 .1-7 .1-5 .1 20 .1-14.4 .1-8.5 .1 10.7 0-25.9 .1 22 .1 7.3 .1 .8 .1-3.3 .1 21.6 .1-19.2 .1-7 .1-16.1 .1 30 .1-10.4 .1 18.5 0-9.7 .1-3.1 .1-7 .1 1.7 .1-3.9 .1 1.3 .1 1.2 .1-2.8 .1 9 .1 3.2 .1-33.9 .1 40.1-546.4-291 113.1 29.8 32.9 26.4-347.6 41.1 182.1-2.7 152.8-6.9-60.6 25.1-236.6 19.5 61.1 20.6 69.9-9.6 60.3-1.4-6.8 31.9 94.6 2.4-314 13 46.9 1.4-32.5 20.6 204.6-5.9 32.9 5.9 85.4-14.8 11.6 15.4-4.1 16.5-43.5 7.5 32.5 5.2-195.3-6.9 23.3 4.5 40.1-2.8-215.3 20.9-25 11.7 235.8-5.8-113.8 23.3 18.5-5.2 35.3 5.8 45.6 .7 101.5 1.1 37.3 2.4-310.8 2.7 154.9-.7 137.1 .7 82.2-288.6 39.4 5.5 249.5 8.2-244.4 48 171.4 2.7-137.8 17.9-99.4 16.1 153.3-2.4-38.8 16.8 102.5-1.7 18.9 4.4-131.3 25 6.5-2.7 5.5 24.7-35.7 14 0 6.5 17.9-4.8 128.8 .7 98.1-8.9-152.6 21.9 43.9 1.8 94.9 0-18.1 5.8-5.8 3.4-301.7 3.5 85 0 248.5 0 21.3 0 15.4-6.2 6.2 13.7-4.5 8.9-349.3-8.9 20.3 2.7 22.9-4.1 135.4 0 64.5 3.4 46.9-.6-86.4 4.7-174.8 5.5-19.2 3.8 29.5 1-5.8 4.1 50.4-5.1 15.4 2.7 14.7 .4 11 2 26.7-4.1 21.3 3.5 42.2-2.4 12.6-3.5 8.6-1 23-2.4 42.1 .7 18.9 2.7-257.8 7.9-36.3 8.9 10.3-.7-34.3 4.2-295.2 47 .8 21.1 64-18-166.8 24 45.1-6.5-4.3 8.6 15.8-11.7 12.5 0-32.9 28-27.6 9.7 22.3 4.8 20.2-3.4-1.7 8.6-37.7 7.2 55.3-7.7 13.2-13.2 5.2 5.1 48.3-40.3-12 8.6 37.4-3.4 6 4.8 11.1-3.1-66.5 18.8 0 2.6 17.6-2.6 10.3 3.5-21.4 8.5 18.9 .5 25.7-9 9.4-5.2-1.7 20.6-8.6 6.8-46.3 0-7.7 4.8-30.5 1.2 14.8 .9 34.2 .8-85.3 1.8 18.8 0-74.5-1.4 2.6 12.5 11.1 8.2 314.3-95.6-34.6 4.6 23.3 10 22.1-1.7 7.7 3.9 30 3.8-108 1.3 5.2 1.2 14.5 1.2-77.9-.3-12.9 .8 118.3 2.6-26.6 6 60 .5-38.2 2.9 16.8-1.7 10.2 .9-12.8 6.8-90-3 22.3 1-1.7 6 24-6.5 6.8 4.3-79.7-5.2 11.2 1.7 4.3 4-24-2.3 6.8 4.3 171.9 3.5-105.9 2.5 12.9 .9-54.4 2.6 29.5 4.2 10.3-3.4-59.1 7.7 21.7 2.6 14.3 .9 35.1-3.8 0 3.8 21.4-.4 14.6-6.5 6.8 0 18 1.7-143.9 5.2 158.5 5.4-109.7 1.4 18.9 1.2 29.1 2.2 42.8-8.5-10.2 .8-259.1 53.4" fill="none" stroke="none" marker-start="url(#mp)" marker-mid="url(#mp)" marker-end="url(#mp)"/>
<path d="M131.8 557.4l.1 3.1 .1-12.9 .1 25.7 .1-4.2 .1-18.2 0 16.8 .1 7.9 .1-42.5 .1 37.8 .1 8.2 .1-30 .1 38.5 .1-16.2 .1 3.4 .1-20.6 .1 21.9 .1 19.2 0-31.7 .1-12.9 .1-1.4 .1 16.3 .1-15.2 .1 24.6 .1-7.2 .1-11 .1 28.8 .1-21.4 .1 16.3 .1-17.7 0 12 .1-28.9 .1-5.2 .1 54 .1-26.8 .1-3.5 .1-11.1 .1 48.2 .1-40.2 .1 4.9 .1 4.1 .1-36.3 0 30 .1 14.6 .1-5.8 .1 13.3 .1-10.3 .1 10.9 .1-48.1 .1 14.9 .1 20.1 .1-.2 .1-24.1 .1 13.9 0-2.4 .1-18.5 .1 20.5 .1-6 .1 11.7 .1-12.9 .1 6.2 .1 6.2 .1-11.9 .1-3.8 .1-5.8 .1 18.1 0-3.4 .1-10.4 .1 17.9 .1 17.5 .1-13.4 .1 2.8 .1-13.6 .1 24.6 .1-16.7 .1 8 .1-6 .1 9.8 0-9 .1 3 .1 .5 .1 3.4 .1-.7 .1-1.1 .1-4.7 .1-7 .1 12.3 .1-2.9 .1 .6 .1-4.9 0 3.2 .1 9.6 .1-7.4 .1 .2 .1 .6 .1-3.9 .1 1.6 .1 .6 .1-2 .1 5.6 .1-10 .1 1.7 0-3.1 .1 2.2 .1 6.3 .1-3.7 .1 .2 .1 2.3 .1 2.2 .1-5.4 .1-5.3 .1 6.8 .1 11.9 .1-17.2 0 .1 .1 5.5 .1-7.7 .1 10.1 .1 7.5 .1-6.6 .1-3.8 .1-2 .1-1 .1 13.4 .1-8.6 .1-14.5 0 14 .1 3 .1-3.3 .1 16 .1-15.9 .1-3 .1 1.7 .1 4.7 .1-4.8 .1 4.7 .1 8.7 .1-13 0-.6 .1-2.5 .1 7.6 .1 6.1 .1-4 .1-1.5 .1-4.2 .1 11.1 .1-14.6 .1 10.2 .1-8.2 0 12.5 .1-6.7 .1-9.9 .1 6.8 .1-6 .1 3 .1 1.8 .1 1.6 .1-.9 .1-3.7 .1-2.7 .1 9.5 0 .1 .1-5.8 .1 4.5 .1 12.7 .1-11.5 .1-6.2 .1 5.7 .1-6.4 .1-1.7 .1 7.8 .1-5 .1 3.4 0-3.1 .1-1 .1 7 .1-6.5 .1-2.9 .1 3.7 .1 7.5 .1-11 .1 8.4 .1-1.7 .1-5.7 .1 11.3 0-2.5 .1-3.5 .1-1.2 .1-.4 .1 5.9 .1-6.3 .1 9 .1-4.7 .1-9.9 .1 10.1 .1-.1 .1 10.4 0-22.8 .1 7.2 .1 13.8 .1-4.5 .1-6.6 .1-1 .1 4.9 .1-4.9 .1 1 .1 6.7 .1-7 .1-6 0 5.4 .1 4.5 .1-3.6 .1 2.4 .1 4.9 .1 .5 .1-4.5 .1-7 .1 2.2 .1 3.9 .1-5 .1 3.2 0 .4 .1 10 .1-15.3 .1 5.7 .1-3.1 .1 10.4 .1-4.5 .1 .7 .1-6 .1-4.3 .1 12.2 .1-8.8 0-2.7 .1 8.7 .1-8.5 .1-1.3 .1-1.1 .1 15.5 .1-6.1 .1-3.7 .1 .7 .1-4.3 .1 3.9 .1-2.1 0 7.1 .1 2 .1-6.5 .1 4 .1-2.3 .1 2.5 .1 4.6 .1-2.3 .1-6 .1-3.8 .1 2.3 .1 1 0 .7 .1 3.1 .1-7.4 .1 4.8 .1 3.3 .1-1.6 .1 3.2 .1-8 .1 5.6 .1-3.1 .1 1.6 .1-.8 0-3.2 .1 5.7 .1-.5 .1 1.7 .1 1.1 .1-4.1 .1-1.3 .1 .3 .1 .2 .1 1.6 .1 1.6 .1-2.3 0 2.5 .1 5.1 .1-3.7 .1-9 .1 10.6 .1 2.1 .1-7.6 .1-3.3 .1 3.9 .1 .9 .1 5.5 0-1.7 .1 8.6 .1-6.9 .1-4.3 .1 2.5 .1-8.2 .1-4.1 .1 .5 .1 7.5 .1-1 .1-11.7 .1 11 0 3.8 .1-4.9 .1 2.7 .1 3.8 .1-5.8 .1 6.1 .1-.6 .1 .6 .1-9.4 .1 6.5 .1-.6 .1-1.8 0-1.3 .1-.4 .1 1.8 .1 .8 .1-7.3 .1-2.5 .1 3.4 .1 6.3 .1-1.1 .1 2 .1-3.6 .1-.4 0-1.4 .1-5.4 .1 1.4 .1 16.1 .1-6.5 .1-1.2 .1 9.3 .1-9.5 .1-4.6 .1-.4 .1 5.9 .1-9.4 0 6 .1 1.1 .1 .3 .1 4.1 .1-7.2 .1 3.4 .1 6.5 .1-9.6 .1 7.5 .1-1.8 .1-5.7 .1-5.8 0 10.4 .1-10.5 .1 9.4 .1-1.2 .1 .6 .1-1 .1 3.5 .1-7 .1 3.8 .1 6.6 .1-2.5 .1-7.8 0 2.9 .1-1.8 .1 1.5 .1 13.1 .1-6 .1 1.2 .1 .5 .1-1.9 .1-12.1 .1 .4 .1 15.5 .1-6.9 0-9.4 .1 9.4 .1-1.9 .1 0 .1 15.1 .1-17.1 .1-5.8 .1 9.9 .1-3 .1 9.7 .1-11.8 .1 6.7 0 1.7 .1-4.6 .1 5.4 .1-16.3 .1 15.3 .1-5.7 .1-1.7 .1 .5 .1 .4 .1-3.3 .1-3.9 .1 2.3 0 6 .1-2.2 .1 6.2 .1-5.9 .1-6.9 .1 7.7 .1 .7 .1 2.4 .1 2 .1-11.5 .1 14.7 .1-9.8 0 5.7 .1-.1 .1 3.9 .1-2.7 .1 2.4 .1-7.9 .1 5.3 .1-5.9 .1-.1 .1 6.9 .1-.5 .1-27.7 0 4.9 .1-9.9 .1-4.9 .1 5.9 .1 1.8 .1-4.9 .1 7.2 .1-3.3 .1-5.2 .1 4.8 .1-2.8 0 .2 .1 9.4 .1-7.3 .1 3.4 .1-2.7 .1-1.6 .1 10.2 .1-12.9 .1 7.8 .1-12.4 .1 2.6 .1 5.9 0-2.3 .1-3.9 .1 5.6 .1-2 .1 2.9 .1-4.4 .1-1.9 .1 17.1 .1-6.6 .1-9.6 .1-9 .1 18.8 0-5.4 .1-.1 .1 .3 .1 10.3 .1-10.9 .1-10.8 .1 5.4 .1-2 .1-1 .1 6.1 .1-.7 .1-4.9 0 5.3 .1 2 .1-1.3 .1-2.7 .1-7.1 .1 8 .1 12.2 .1-6.7 .1-.4 .1-8.1 .1 0 .1 16.3 0-1.7 .1-7.4 .1-3.1 .1 1.6 .1-6.5 .1 4.2 .1 4.3 .1-4.6 .1-6.1 .1 12.8 .1-1.5 .1-.9 0 3.8 .1-4.5 .1 11.6 .1-12.2 .1-2.1 .1 5.1 .1 3 .1-4.6 .1 5.6 .1-11 .1 4.9 .1-5 0 12.7 .1-9.6 .1 2.5 .1-1.4 .1 1.7 .1-9.4 .1 9.5 .1-3.7 .1 3.2 .1-5.3 .1 7.2 .1-4.2 0 7.7 .1-2.2 .1-13.2 .1 8.2 .1 .5 .1-7.7 .1 10.3 .1-12.5 .1 7.2 .1-8.6 .1 13.5 .1 3.2 0 .7 .1-3.5 .1-2.2 .1-1.8 .1 4.2 .1 1.2 .1-6.7 .1 6.8 .1-1.1 .1 3.3 .1-3.4 .1 .5 0-8.8 .1 11.8 .1-13.7 .1 6.3 .1 3.7 .1-1.6 .1-6.3 .1 11.3 .1-5.2 .1 6.7 .1-1.3 .1-1.7 0-6.3 .1 9.4 .1-5.2 .1-3.8 .1-1.1 .1-1.4 .1 8.9 .1 7.3 .1-15.5 .1 4.6 .1-5.8 .1 18.9 0-17.4 .1-.9 .1 9.1 .1 2.2 .1-14.4 .1 15.4 .1-9.5 .1-2.5 .1 9.8 .1-5.4 .1 1.3 0-4.1 .1 10.8 .1-8 .1-.5 .1 4.1 .1-2.9 .1-1.5 .1 7.8 .1-4.5 .1 5.3 .1-4 .1-6.2 0 10.5 .1-8.8 .1-4.8 .1 8 .1-.5 .1-3.7 .1 8.6 .1-7 .1 4.7 .1-4.4 .1-1.3 .1 .2 0 2.8 .1-5.4 .1 9.5 .1-1.9 .1-2 .1-3.3 .1 9.5 .1-3.7 .1-.6 .1-.2 .1 3.5 .1-8 0 6.7 .1-8.3 .1 4.6 .1-.4 .1-6.2 .1 7.4 .1 3.7 .1-6.6 .1 3.6 .1 2.5 .1 3.4 .1 2.1 0-8.1 .1-5.9 .1 5.4 .1 4.5 .1-4 .1 2.7 .1-4.4 .1 3.4 .1-.7 .1 .4 .1-1.5 .1 4.1 0-6.1 .1-4.6 .1 3.2 .1 9.2 .1-6.6 .1 1.1 .1-1.7 .1 2.1 .1-3.7 .1 1 .1-2 .1 2.6 0-2.5 .1-1.3 .1 2.8 .1 2.3 .1-7.8 .1 6.1 .1 12.1 .1-15.8 .1 2.3 .1 4.6 .1 .9 .1-2.5 0 2.9 .1 .1 .1-6.8 .1-2.3 .1 9.7 .1-1.6 .1-5.9 .1-.6 .1 9.7 .1 2.3 .1-4.3 .1-5.8 0 4.8 .1-4.1 .1-5.9 .1 11.1 .1 4.4 .1-10.1 .1-1.1 .1 6.5 .1-12.6 .1 4.7 .1 4.9 .1-3.3 0-9.3 .1 10.6 .1-6.3 .1 .2 .1 7.2 .1-.1 .1-.4 .1 .7 .1 2.8 .1 2 .1-1.5 .1-4.9 0-2.1 .1-.7 .1-6 .1 9.5 .1 2.1 .1-12.5 .1 5.7 .1 9.1 .1-5.6 .1-2.6 .1 6.7 .1-1.9 0 5.3 .1-3.2 .1 3.3 .1-1.6 .1-10.8 .1 6.9 .1-4.4 .1 3.2 .1 .8 .1-11.2 .1 7.6 0-3.3 .1 5.6 .1 3.9 .1-2.4 .1 1.5 .1-1.3 .1 0 .1 1.5 .1-2.5 .1-3.3 .1 9.5 .1-3.5 0-7.1 .1 18.8 .1-10.7 .1-4.6 .1-2.6 .1 11.4 .1-2.2 .1-6.1 .1 5.5 .1 .6 .1-4 .1-1.8 0 7 .1-5.7 .1-.2 .1 3.4 .1-5.7 .1 2.9 .1 4.6 .1 2.9 .1-11 .1 7.1 .1-4.5 .1-4.7 0 9.7 .1 .9 .1-.4 .1-4.5 .1 1.5 .1 .5 .1-3.8 .1 1 .1 4.2 .1-7.6 .1 7.1 .1 3 0-8.5 .1 3.3 .1 1 .1 6.5 .1-10.3 .1-5.3 .1 6.8 .1 5.9 .1-8.9 .1-2 .1 4.4 .1 4.1 0-5.7 .1 8.6 .1-.2 .1-2.8 .1-8.7 .1 10.7 .1-3.7 .1-.8 .1 3.3 .1 4.8 .1-13 .1 4 0 1.1 .1-3.1 .1 7.7 .1-.8 .1 .7 .1-7.6 .1 7 .1 2.3 .1-4.5 .1 3.5 .1-2.2 .1-5 0 4.9 .1-1.2 .1 2.5 .1-7.9 .1 15.6 .1-12.8 .1 7.5 .1-6.9 .1 6.4 .1-4.8 .1-3 .1 10 0-5.9 .1 3.6 .1-7.2 .1-5.7 .1 16.8 .1-4.3 .1-7.8 .1 4.7 .1 5.8 .1-10.7 .1 1.3 .1-6.3 0 9.8 .1-1.2 .1-7.6 .1-2.2 .1 3.1 .1 4.9 .1-4.7 .1 9.1 .1 .5 .1-2.3 .1 8.9 .1-11.2 0-2.5 .1 6.6 .1-9.2 .1 9.5 .1-1.9 .1 3.3 .1-4.2 .1-5.6 .1 2.5 .1-2 .1 3.2 .1 4.5 0-5.7 .1 2.5 .1-5.7 .1-2.4 .1 8.6 .1 .2 .1 1.1 .1-4.2 .1 .7 .1 3.9 .1-11.6 0 7.4 .1 4.7 .1-.8 .1 2.7 .1-3.3 .1 1.8 .1-3.1 .1 .7 .1 1 .1-.2 .1-.1 .1-6.7 0 7.1 .1 3.6 .1-10.4 .1-.4 .1 9.9 .1-1.8 .1-9.8 .1 9.8 .1-2 .1 3.2 .1-4.8 .1 1.7 0-1.5 .1-8.5 .1 8.8 .1 1.9 .1-5.1 .1 9.2 .1-5.2 .1-2.6 .1 .3 .1 5.4 .1-2.7 .1 2.8 0-2.7 .1 1.1 .1-2.6 .1-6.5 .1 .9 .1 6.7 .1-.6 .1-.4 .1 1.2 .1-.5 .1 0 .1-5.2 0-3.9 .1 4.3 .1 11.6 .1-3.6 .1-9.4 .1-.2 .1 4.1 .1-.4 .1 4.2 .1-3.8 .1-1.6 .1 4.6 0-6.9 .1 7.9 .1-4 .1 5.1 .1-8.2 .1 2.8 .1-2.4 .1 2 .1 5 .1-1.6 .1-5.2 .1 7.4 0-.1 .1-4.1 .1-2 .1 .9 .1-1.8 .1 .2 .1-1.5 .1 .7 .1 1.8 .1 2.1 .1 2 .1-.2 0-8.2 .1 1.9 .1 6.3 .1-3.3 .1 3.1 .1-.5 .1 .3 .1-8.8 .1 12.7 .1-5.3 .1 7.6 .1-3.5 0-5.9 .1 5.7 .1-1.2 .1-10.7 .1 12.1 .1 3.2 .1 6.1 .1-14.9 .1-2.4 .1 8.2 .1-12.7 .1 6.1 0 2.4 .1-3.5 .1-1.7 .1 5.2 .1 1.5 .1 7.4 .1-5.6 .1-2.7 .1-1.8 .1 3.1 .1-4.4 .1-7.4 0 8.3 .1-5.7 .1 7.3 .1 5.7 .1-4.3 .1-6.4 .1 11.4 .1-15.6 .1 4.2 .1 2.6 .1 .6 .1 4.3 0-7.4 .1 1 .1 8 .1-9.9 .1 5.2 .1 0 .1-5.5 .1 1.7 .1 3.7 .1 15 .1-10.7 0-11.8 .1 9.9 .1 1.4 .1-3.8 .1 .9 .1 .4 .1-3.7 .1 7.9 .1-7.7 .1 3.1 .1 4.1 .1-3.9 0 9.5 .1-13.5 .1 14.4 .1-10.3 .1-3.6 .1 2.4 .1-1.6 .1 .8 .1 .2 .1 2.8 .1-1.1 .1 2.6 0-6.7 .1 3.3 .1 4.7 .1 4.2 .1-8.2 .1 2 .1-6.7 .1 4.9 .1 1.8 .1-4.1 .1 6 .1 1.1 0-3.9 .1 4.4 .1-8.8 .1 5.2 .1 4.5 .1-3.3 .1-5.2 .1 .9 .1 1 .1-5.9 .1 6 .1 9.4 0-7.6 .1-10.6 .1 13 .1-1.2 .1 6.9 .1 .2 .1-11.6 .1-4.9 .1 14.8 .1-13.4 .1 6.8 .1-.5 0 0 .1-1.3 .1-7.2 .1 7 .1-1 .1 4.6 .1-9.4 .1-2.1 .1 10.4 .1-1.5 .1 5.6 .1-9.1 0 4.4 .1 4.7 .1-9.2 .1-2.5 .1 3.9 .1-3.5 .1 6.8 .1-6.4 .1-7.6 .1-.7 .1 14.6 .1-.4 0 .4 .1-6.3 .1 4.9 .1 1.8 .1 2.1 .1-4.8 .1 .1 .1 .4 .1 4.7 .1-1.5 .1 .2 .1 3.6 0-4.9 .1-7.5 .1 5.5 .1-9.5 .1 12.3 .1-3.8 .1 2.7 .1-4 .1 13.9 .1-11.1 .1 .2 .1-4.2 0 4.7 .1 3.6 .1-8.5 .1 2.9 .1 .8 .1-6.8 .1 1.2 .1 1.4 .1 2.4 .1-1.5 .1-4.5 .1 1.1 0 11.3 .1-2.5 .1-1.3 .1 .1 .1 1.2 .1 1.7 .1-10.1 .1 12.5 .1-11.5 .1 5.9 .1 11.5 .1-13.2 0-.8 .1-3.9 .1 2 .1 7.3 .1-.3 .1-6.9 .1 2.7 .1 4.2 .1-5.4 .1 2.6 .1 1.5 0-8 .1 1.4 .1 11.9 .1 1.6 .1-12.9 .1 2.5 .1 3.2 .1-1.2 .1-.2 .1-8.2 .1 10.8 .1-1.4 0 1.1 .1-5.4 .1 6.2 .1-4.3 .1 2.7 .1-.5 .1 2.1 .1 4.1 .1-2 .1-4.4 .1-.5 .1 4.9 0-9.1 .1 3.3 .1-5.5 .1 5.5 .1 5.2 .1-10.8 .1 8.7 .1 0 .1-2.7 .1 4.5 .1-4.7 .1 7.2 0-8.7 .1 1.4 .1 13.5 .1-4.9 .1-10.7 .1 6.9 .1 1.9 .1-2.1 .1-3.2 .1 1.3 .1-1.8 .1 2.3 0 3.3 .1-4.3 .1-3.9 .1-1.2 .1 1.8 .1 10 .1-15.1 .1 9.1 .1-.9 .1-6 .1 7.2 .1-3.8 0 3.8 .1-5 .1 12 .1-4.7 .1-7.3 .1-2.1 .1 3.4 .1 7.4 .1-4.6 .1-2.7 .1 1.3 .1 .4 0 3.1 .1-6.6 .1 4.7 .1 2.8 .1-4.2 .1-1 .1-3 .1 4.6 .1 9.2 .1-4 .1 2.3 .1-7.7 0-6 .1 9.5 .1-.6 .1-3.7 .1-1 .1-9.3 .1 9.4 .1-6.9 .1 5.2 .1-2.3 .1 4.5 .1 .2 0 4.1 .1-5.8 .1 .5 .1-.4 .1-1.1 .1 8 .1-4.4 .1 1.1 .1-5.3 .1-.1 .1 3.1 .1-.1 0 2.7 .1-.7 .1 2.3 .1-5.9 .1 2.5 .1-1.8 .1 .5 .1-2.4 .1-4.7 .1 10.8 .1-7.1 .1 1.4 0 10.9 .1-4.6 .1-6.8 .1 .4 .1-8.8 .1 11.1 .1-8.6 .1 6.4 .1 4.5 .1-5.3 .1-4.8 .1 8.3 0 .3 .1 5.3 .1-6.7 .1-2.4 .1 6.9 .1-1.3 .1-3.2 .1-1.5 .1 6.9 .1-7 .1-.4 0 5.3 .1 1.7 .1-2.8 .1-3.9 .1 4.2 .1-10.3 .1 8.1 .1 1.9 .1-1.4 .1 1.1 .1-2 .1 2.3 0-5.1 .1 5.8 .1 12 .1-11.2 .1 3.1 .1-4.9 .1-3.1 .1 7.3 .1-6.7 .1 2.1 .1-7.5 .1 2.6 0 13.2 .1-5.7 .1-8.7 .1-2.7 .1 10.4 .1-8.9 .1 6 .1 2.7 .1-2.7 .1-11.6 .1 11.9 .1 4.8 0-5.4 .1 1 .1 4.4 .1-3.9 .1-1.8 .1-.7 .1 1.7 .1 1.9 .1-.8 .1-.5 .1-3.6 .1 2.9 0 4.3 .1-1 .1-5.4 .1 4.8 .1-.4 .1-10.4 .1 5 .1-3.7 .1 10.7 .1-3.5 .1 5.5 .1-7.9 0 4.5 .1-4.9 .1-5.7 .1 12.4 .1-3.5 .1-.9 .1-3 .1-4 .1 8.8 .1-4.2 .1 3.6 .1-7.9 0 1.4 .1 7.2 .1 .3 .1-5.3 .1-1.6 .1-1.7 .1 3.6 .1-2.1 .1 2.6 .1-1.6 .1 1.4 .1 7.3 0 .3 .1-7 .1-.8 .1 13.2 .1-8 .1-3.5 .1-.3 .1-4.6 .1 7.5 .1-2 .1 3.6 .1-8.6 0 4.9 .1 1.8 .1 2.9 .1-6.9 .1 7.7 .1 .9 .1 2.2 .1-.1 .1-3.3 .1 1.9 .1-2.9 .1-2.9 0 8.9 .1-10.2 .1 11.4 .1-7.9 .1-3.8 .1 3.5 .1 1.3 .1 0 .1 4.4 .1-7.4 .1 .4 .1 .5 0-1.9 .1 6.2 .1-.5 .1-5.6 .1 3.3 .1-1.5 .1 3.8 .1 0 .1 0 .1-5.4 .1 2.8 .1-3.3 0-5.8 .1 6.7 .1 2.8 .1-.3 .1 5 .1-12 .1 9.8 .1-5 .1 1 .1 10.1 .1-6.4 0-10 .1 5.7 .1-2.8 .1 6.3 .1-4.8 .1 4.7 .1 .2 .1-1.4 .1-.3 .1-7.2 .1 5.8 .1 6.8 0-1 .1-3.9 .1 4.7 .1-4.9 .1 8.6 .1-17.2 .1 1.2 .1 10.6 .1-5.7 .1-.3 .1-2.1 .1 7.3 0-6.3 .1 4.8 .1-18.5 .1 10.6 .1-2.1 .1-2.3 .1 2.1 .1-.2 .1 9.9 .1-4.7 .1 6.9 .1-5.1 0-.6 .1 3.2 .1-10.5 .1 9 .1-6.6 .1-3.5 .1 5.9 .1 9.1 .1-.9 .1 2 .1-3 .1 1.6 0-2.6 .1-3.5 .1 1.5 .1 2.8 .1-1.2 .1 .7 .1 9.6 .1-21.8 .1 26 .1-22.3 .1 9.1 .1-7.3 0 8.8 .1-7 .1 9.6 .1-7.4 .1 5.4 .1-12.6 .1 3.6 .1 1.6 .1 6.7 .1-8.8 .1 5.7 .1-5.3 0-3.5 .1 9.2 .1-6 .1-3.4 .1 2 .1 6.3 .1 1.7 .1 1 .1 3 .1-7.7 .1-4.7 .1 .8 0 9.1 .1-2.8 .1-7.8 .1 10.4 .1-3.5 .1 2.6 .1-2.8 .1-7.1 .1-5.2 .1 8.5 .1 6.1 .1-6.3 0 8 .1-6.5 .1 6.8 .1-12.5 .1 5.5 .1 3 .1 1.3 .1-.1 .1 6.8 .1-15.2 .1-3.8 .1 0 0 5.9 .1 4.6 .1-6.8 .1 5.3 .1 .9 .1-.5 .1-1.3 .1 7.7 .1-4.8 .1 3 .1-5.8 .1 2.1 0-3.6 .1 .3 .1 6.2 .1-2.8 .1-2 .1 5 .1-8.3 .1 3 .1 2.3 .1-4.3 .1 11.5 .1-3.6 0-2 .1-8.2 .1 4.5 .1-.8 .1-.3 .1 1.3 .1-3.8 .1 9.1 .1-1.3 .1 2 .1-8.3 0 11.4 .1-8.7 .1 3.4 .1 2.6 .1 1.4 .1-13.5 .1 13.4 .1-9.2 .1 14.3 .1-12.2 .1 4.9 .1-4.7 0 4.6 .1-8.9 .1 5.8 .1-4.9 .1-3.8 .1 11.4 .1-5.5 .1 1.5 .1 1.4 .1-5.9 .1 5.9 .1-9.3 0 7.6 .1-1 .1 1.4 .1 1.9 .1 1.9 .1-2.4 .1-.1 .1 .7 .1-1.4 .1-4.6 .1 5 .1-1.9 0-3.2 .1 6.4 .1-1.3 .1 2.8 .1-6.3 .1 2.9 .1-3.7 .1 2.8 .1 2.2 .1-4.9 .1 14.8 .1-11.6 0-5 .1 1.7 .1 5.5 .1-9.8 .1 10.1 .1-6 .1-1.3 .1 3.5 .1 7.2 .1-2.5 .1 2.3 .1-5.9 0 4.4 .1 .7 .1-8.5 .1 6.6 .1-5.9 .1-4.2 .1 13 .1-6.6 .1-2.4 .1 12.7 .1-8.9 .1-1.5 0 1.4 .1 .2 .1 5.3 .1-3.8 .1-2.7 .1-8.2 .1 12.7 .1-13.8 .1 6.6 .1 5.5 .1-10.7 .1 5.8 0-11 .1 20.4 .1-8.8 .1-4.7 .1 7.2 .1-1.3 .1-2.2 .1 2.2 .1-4.9 .1-.5 .1 2.1 .1 4.8 0 1.7 .1-2 .1-.9 .1-5 .1 10.2 .1-2.2 .1-.6 .1-8.5 .1-.4 .1 22.1 .1-14.2 .1-1.2 0-3.5 .1 4.5 .1 8.6 .1-9.6 .1 .8 .1 .6 .1-.9 .1 1.7 .1 5.2 .1-12.3 .1 7.2 .1-2.8 0 10.4 .1-8.8 .1 6.2 .1-7.5 .1 1.7 .1-5.7 .1-2.3 .1 8.4 .1-1.3 .1-3.6 .1-5.2 .1 8.8 0 4.7 .1-3.1 .1 6 .1 3.2 .1-11.2 .1-.1 .1 1.5 .1-.9 .1 .3 .1 5.2 .1 1.3 0-10.9 .1 10.5 .1-11.7 .1 6.1 .1 1.2 .1-11 .1 9.9 .1-1.5 .1 6.5 .1-10.4 .1-.4 .1 11.5 0 1.2 .1-2.3 .1-4 .1-5.7 .1 6 .1-2.2 .1 9.3 .1-9.3 .1 2.1 .1-1.5 .1 7.5 .1-8 0 5.7 .1-3.2 .1-1.4 .1-6.6 .1 10.2 .1-4.5 .1-1.3 .1 2.6 .1-2.2 .1-1.7 .1-.3 .1 3.5 0-2.4 .1-.6 .1 2.1 .1-3.1 .1 4.1 .1-1.1 .1-2.3 .1 2.4 .1-3.3 .1-9.1 .1 13.4 .1-.5 0-2.2 .1 7 .1-6.8 .1 .1 .1-3.8 .1 9 .1-8.7 .1 7.1 .1-.6 .1-8.3 .1 .3 .1 6.3 0-5.3 .1 9.1 .1-8.3 .1 9.3 .1-8 .1 2.7 .1 5 .1-4.3 .1 5.6 .1-11.6 .1-.1 .1 2.7 0 11.3 .1-10.5 .1-2.2 .1 3 .1-.1 .1 6.6 .1-5.7 .1 3.4 .1-.3 .1-2.4 .1-3.8 .1-2.2 0 4.5 .1 .2 .1-.2 .1 3.1 .1 2 .1-4.8 .1-1 .1 10.8 .1-.3 .1-6.8 .1-11.4 .1 5.4 0 11.2 .1-7.7 .1-1.8 .1-.8 .1 17 .1-20 .1-.5 .1 19.5 .1-12.2 .1 1.3 .1-11.6 .1 2.9 0 11.7 .1-2.1 .1 5.6 .1-9.9 .1-5.4 .1 9.9 .1 1.5 .1-5.4 .1 8.8 .1-6.6 .1 .8 .1-3.1 0-5 .1 16.8 .1-11.9 .1-5.9 .1 1.5 .1 2.4 .1 2.9 .1-5.4 .1 1.8 .1-2.9 .1-.8 .1 6.2 0-3.1 .1-.1 .1 .7 .1 .7 .1 3.6 .1-4 .1-1.1 .1 1.9 .1-3 .1 1.3 .1-8.5 0 7.4 .1 2.1 .1 1.3 .1 .4 .1-3.5 .1 9.3 .1-11 .1 .3 .1 4.4 .1-3.5 .1 4.2 .1-2.5 0-6.2 .1 3 .1-.2 .1 6.5 .1-6 .1 7 .1-.4 .1-5.2 .1 5.3 .1 2.3 .1 5.5 .1-7.3 0 2 .1-1.3 .1-2.4 .1 4.2 .1-6.7 .1-2.7 .1 6.7 .1 2.7 .1-3 .1-6 .1 2.9 .1-8.5 0 16.2 .1-9.8 .1 2.2 .1 2.1 .1-2.4 .1-1.5 .1 4.9 .1 4.2 .1 14.4 .1-22.7 .1 2.1 .1-1.7 0 .5 .1-3 .1 1.6 .1 1.4 .1 7.8 .1-11.8 .1 5.3 .1 3.9 .1-7.8 .1 18.4 .1-10.8 .1 2.6 0-2.7 .1-5.5 .1-3.1 .1 1 .1 12.9 .1-8.8 .1-1.3 .1 3.6 .1-6.3 .1 3.5 .1 .1 .1-4.2 0 .1 .1 8.5 .1-3.8 .1 .3 .1-6.1 .1 4.2 .1 1.3 .1-2.1 .1 4.5 .1-5.3 .1-2 .1 .2 0 5.3 .1-1 .1-3.5 .1 1.7 .1 .7 .1-18.6 .1-3.4 .1 4.3 .1 7.2 .1-5.2 .1 7.7 .1-1.8 0 3.6 .1-.7 .1-1.1 .1-.6 .1-2.1 .1 6.6 .1-2.8 .1 3.2 .1 7.4 .1-4.3 .1 1.8 .1-5.4 0 8.2 .1-5.6 .1 11 .1-10.6 .1-5.5 .1 6.5 .1 1.6 .1 .3 .1-5.3 .1 6.9 .1 2.3 .1-13 0 7 .1 7.7 .1-5.6 .1-2.3 .1-2 .1 1 .1 5.6 .1-8.3 .1 4.4 .1-3.5 .1 7.2 .1 6.8 0-12.4 .1 5.5 .1-1.7 .1 5.9 .1-9.8 .1 8.6 .1-.2 .1 2.6 .1-4.8 .1 .8 .1-2.8 0 6 .1-7.1 .1 7.6 .1 2.1 .1-.1 .1-8.4 .1-.7 .1 3 .1 1.7 .1-6.9 .1 1.6 .1 2.5 0-1.4 .1 6.9 .1-5.9 .1-3.4 .1 7.7 .1-4 .1 5.1 .1-8.4 .1 3.3 .1 1.2 .1-3 .1-6.5 0 5.1 .1 7.2 .1 .1 .1-6.5 .1 6 .1-13.9 .1 7.1 .1 1.5 .1 9 .1-14 .1 14.5 .1-8.7 0 4.7 .1 0 .1-.7 .1-11.5 .1 12.2 .1 .6 .1-12.6 .1 7.3 .1 2.1 .1 .8 .1-.1 .1-5.2 0 4.7 .1-6.1 .1 8.8 .1-1.6 .1 .7 .1 7.1 .1-10.3 .1 1.4 .1 3.1 .1-2.3 .1-5 .1 2.1 0 3.4 .1-1.2 .1 1.7 .1 .2 .1-4.1 .1 6.6 .1-1.9 .1-12.3 .1 15.5 .1-3.3 .1-7.6 .1 4.9 0-3.5 .1 1.2 .1 6.5 .1-1.5 .1 1.9 .1-1.4 .1-3.8 .1 6.7 .1-7.3 .1 9.9 .1-7.4 .1 .7 0-1.6 .1 5.4 .1-4.3 .1 5 .1-8.6 .1 2.1 .1 .1 .1-3.9 .1 7.1 .1-2.4 .1 2.8 .1 4.9 0-5.2 .1-6.8 .1 9.5 .1-4.3 .1 3.2 .1-.4 .1-3.2 .1 2.2 .1 2.3 .1-4.5 .1-3.2 .1 3.5 0-2.3 .1 4.1 .1-3 .1-5.8 .1 8.8 .1-.8 .1-2.3 .1 1.6 .1-2.8 .1-4.3 .1 4.4 .1 2 0 .8 .1-1 .1 2.6 .1 2 .1-10.8 .1 9.6 .1-4.3 .1-9.9 .1 10.3 .1 1.3 .1 3.1 .1-7.1 0-1.1 .1 6.4 .1-1.6 .1 8.1 .1-3.5 .1-11.4 .1 .6 .1-1.9 .1 7.1 .1 4.3 .1-6.6 0-1.3 .1 .7 .1 6.1 .1-7.3 .1 3 .1 3.7 .1 .6 .1-.7 .1-8.7 .1-.2 .1 .4 .1 6.7 0-3.3 .1 5.2 .1-8 .1 6.4 .1-2.9 .1-2.9 .1 4.1 .1-3.3 .1 4.9 .1 1.6 .1-2.8 .1 2.8 0-5.4 .1 1.4 .1 2.5 .1-2.9 .1 3.9 .1 .6 .1-6.6 .1-.3 .1 4.2 .1-3.9 .1 1.3 .1-7 0 14.4 .1-15.2 .1 4.4 .1 4.3 .1 7.1 .1-1.1 .1-7.1 .1 1.6 .1-1.3 .1 2.7 .1-9.5 .1 8.2 0 .8 .1 2.9 .1-.6 .1-7.6 .1 5.8 .1-4.3 .1-.8 .1 5.4 .1-.8 .1-2 .1-.2 .1 4.7 0 1.3 .1-12 .1 15.1 .1-11 .1 1.8 .1 5.5 .1-5.8 .1-.4 .1 4.1 .1-3.6 .1-2.7 .1 0 0 4.4 .1-3.1 .1-5.5 .1 6 .1 5.2 .1-6.1 .1-2.7 .1 8 .1-3.7 .1-4.2 .1 5.1 .1-5.2 0-3.4 .1 14.4 .1-13.4 .1 9.9 .1 3.9 .1-5.3 .1-2.4 .1 .8 .1-.3 .1 3.8 .1-3.6 .1-4.2 0-3.1 .1-1.4 .1 5.4 .1 5.1 .1-.3 .1 2.5 .1-8.5 .1-.5 .1 9.2 .1 6.4 .1-13.5 .1-.8 0-2.6 .1 2.3 .1 4.4 .1-3.9 .1 6.7 .1-11.7 .1 3.8 .1 5.7 .1-1.6 .1 2.2 .1 2.1 .1 1.3 0-9 .1 11.7 .1-9.4 .1-2.5 .1 6.7 .1-7.2 .1-1.7 .1 7.4 .1 .2 .1-11.2 .1 13.7 .1-.8 0-.9 .1 1.4 .1-.3 .1-1.1 .1-.4 .1 .1 .1 3.7 .1-1.6 .1-6.1 .1 11.2 .1 0 0-6.3 .1 1.1 .1-3.9 .1 4.2 .1-5.6 .1 3.7 .1 6.8 .1-4.6 .1 3.9 .1-14.9 .1 10.1 .1 .4 0 .8 .1 5 .1-10.6 .1-2 .1 2.1 .1 3.9 .1 .5 .1-7.9 .1 11.8 .1-4 .1-.6 .1-5.6 0 2.4 .1-4.5 .1 9.4 .1-3.6 .1-7.6 .1 12.7 .1-8.9 .1 4.3 .1 4 .1-3.1 .1-5.3 .1 14.9 0-14.3 .1 8.3 .1 .6 .1-.9 .1 3.6 .1-9.7 .1 5.5 .1 8.1 .1 1.7 .1-5.6 .1 5.1 .1-8.4 0 5.6 .1-.6 .1-3.1 .1-4.8 .1 7.6 .1 2.8 .1-3.4 .1-5.1 .1 3.6 .1 .7 .1-.3 .1 7 0-11.7 .1 4.8 .1-5.2 .1 .3 .1-1.9 .1-2.6 .1 1.8 .1 2.6 .1 3.5 .1-10.7 .1 6.6 .1 3.1 0-9.2 .1 10.2 .1-9.3 .1 2.9 .1 3.2 .1-.6 .1 .7 .1 1.1 .1-5.1 .1-2.6 .1 1.7 .1 .8 0-3.6 .1 7.4 .1-3.3 .1-6.2 .1 7.7 .1-6.1 .1 9 .1-.9 .1 1.4 .1 5.5 .1-15.9 .1 11.6 0-12 .1 8.4 .1 9.2 .1-17.6 .1 8.3 .1 5 .1-15.8 .1 2.9 .1 16.2 .1-13.2 .1-.5 .1 4.2 0-5.2 .1 4.3 .1 1.2 .1-4.2 .1 2.5 .1-1.2 .1 1.7 .1-1.9 .1 8.8 .1-2.2 .1-6.7 .1 4 0-11.8 .1 8.6 .1 5.2 .1-3.3 .1-2.3 .1-2.6 .1 6.2 .1-5.1 .1-3.5 .1 9.9 .1-6.2 .1 2.7 0-.5 .1 1 .1-5.8 .1 7.7 .1-9.9 .1 9.1 .1 1.3 .1-.7 .1-3.5 .1 0 .1 7 0-2 .1-7 .1 8.7 .1-5.9 .1-4 .1 7 .1-8.2 .1 9.9 .1-5.3 .1 9.9 .1-11 .1-4.5 0 12.1 .1 8.2 .1-12.2 .1-1 .1-3.2 .1-1.9 .1 9.1 .1 2 .1 .5 .1 1.2 .1-2.7 .1-.5 0 6.1 .1-8.7 .1-3.4 .1 2.4 .1-.2 .1 7.2 .1-2.9 .1-9.7 .1 5.9 .1 4.1 .1 1.7 .1-4.1 0 3.9 .1-6.4 .1-7.4 .1 7.2 .1 4.7 .1-9.7 .1-4.8 .1 13.8 .1-2.1 .1-2.4 .1 .3 .1-2.8 0 14.9 .1-9.8 .1-1.3 .1-2.5 .1 1.7 .1 3.8 .1-4.1 .1 5.3 .1-1.1 .1 9.6 .1-8.3 .1-3.3 0-1.6 .1 6.1 .1-3.5 .1-.6 .1 3.9 .1-4.7 .1 5.5 .1-2.7 .1-5.9 .1 2.7 .1 .6 .1-1.4 0-4.5 .1 13.5 .1-14.2 .1 5.5 .1 .3 .1 6.7 .1-10.8 .1 6.3 .1-1 .1-6.4 .1 7.9 .1-9.5 0 8.8 .1-1.3 .1-4.5 .1 5.5 .1-2.6 .1-.6 .1-2.2 .1-.2 .1 .4 .1 3.4 .1-4 .1 5.1 0-5.2 .1 3.4 .1 .8 .1 3.4 .1-4.7 .1-2.3 .1-2 .1 8.2 .1 9.3 .1-8.2 .1-6.9 .1 2.4 0 5.6 .1-7.6 .1 6.2 .1 1.1 .1-8.3 .1 .2 .1 1.6 .1 1.8 .1 5 .1 .6 .1-3.6 .1 2.8 0-2.3 .1-9.7 .1 12.9 .1-13.4 .1 1.4 .1 7.9 .1 0 .1 6.3 .1-.1 .1-18.1 .1 17.7 .1-8.5 0 1.2 .1 2.1 .1-5 .1 2.1 .1 2.6 .1-.5 .1-3.1 .1 1.4 .1-.4 .1 2.8 .1-1.6 0 1.1 .1-1.4 .1-1.6 .1-3.7 .1-2 .1 3 .1-4.2 .1 16.3 .1-9.5 .1 1.2 .1-2.5 .1 1.3 0 7.1 .1-8.1 .1 4.9 .1-6.5 .1 4.6 .1-.4 .1 4.5 .1-8.4 .1 2.2 .1 1.8 .1 5.9 .1-3 0-10.2 .1 7.1 .1 5.1 .1-4.7 .1 5.6 .1-5 .1-.6 .1 3.7 .1-3.5 .1 3.5 .1-11.8 .1 5 0 1.3 .1 1.6 .1 5.9 .1-4.9 .1-2.6 .1 1 .1 2.6 .1 8.2 .1-7.5 .1-6.3 .1 5.4 .1-4.6 0 5.7 .1-2.8 .1-1.5 .1 2 .1-5.4 .1 2 .1-6.8 .1 2 .1 8.5 .1-7.8 .1 .8 .1 .9 0 8 .1-10.6 .1 4.5 .1 1.3 .1 5.4 .1-3.6 .1-7.9 .1 7.6 .1-2.9 .1-1.2 .1-.6 .1 1 0-1.8 .1 5.1 .1-7.7 .1 7.4 .1-8.7 .1 5.1 .1 9.9 .1-9.3 .1 2.6 .1-7.4 .1 5.5 .1 1.9 0 5.6 .1-6.2 .1-1.1 .1 8.1 .1-1.5 .1 .2 .1-4.9 .1 3.5 .1-1.5 .1 4.1 .1-8.4 .1 2 0 5.9 .1-5.5 .1 4.5 .1-.8 .1-8.3 .1 .6 .1 4.9 .1-2.3 .1 5.3 .1-4.8 .1 2 .1 3.8 0 1.4 .1-3.4 .1-5.4 .1 4.8 .1-.5 .1 4.2 .1-1.2 .1-2.3 .1-1.7 .1 2.2 .1-3.6 .1 .8 0-.1 .1-7.6 .1 2.3 .1 5.7 .1-3 .1 3.1 .1 5.3 .1-10.7 .1 6.4 .1-1.3 .1 4.9 .1-4.9 0 1.8 .1-1.9 .1 1.5 .1-1.7 .1 1.3 .1 .5 .1 2.6 .1-6.5 .1 2 .1-1 .1-6.6 0 6.3 .1 3.7 .1 1.1 .1-6.2 .1 3.5 .1-.8 .1 1.1 .1-4.8 .1-1 .1 8.1 .1-1.4 .1-11.4 0 1.3 .1 13.8 .1-.1 .1-14.1 .1 7.5 .1 6.2 .1-3.9 .1-2.3 .1 5.2 .1 1.8 .1-4.5 .1-3.6 0 1.2 .1 3.8 .1 .9 .1 .5 .1 5.2 .1-2.6 .1-9.6 .1 5.7 .1 1.7 .1 3.7 .1-4.9 .1 2.4 0-6.7 .1 2.5 .1 1.1 .1 6.5 .1-1.1 .1-1.4 .1-4 .1-.9 .1-.4 .1 2.6 .1 .9 .1-6 0 7.2 .1-.7 .1-3.1 .1-3.2 .1 3.9 .1 1.3 .1 5.3 .1 3.7 .1-8.2 .1 3.9 .1-3.8 .1 1 0-3.2 .1-4.5 .1 7.9 .1 2.8 .1-5.6 .1-10.1 .1-2.4 .1 7 .1 8.7 .1-.1 .1-5.8 .1 8.6 0-5.9 .1 1 .1 2.9 .1-8.2 .1 5.7 .1-3.4 .1 2 .1-6 .1 11.5 .1-2.1 .1-4.4 .1-2.3 0 4.6 .1 4.3 .1 6.1 .1-19.4 .1 3.7 .1 3.8 .1-4.4 .1 .7 .1 6.9 .1-8.1 .1 6.3 .1-1.3 0-1.2 .1 .3 .1-5.2 .1 6.7 .1-1.6 .1-1.3 .1 1 .1-1 .1-3.8 .1 1.9 .1-.1 .1 6.1 0-5.6 .1 2.6 .1 2.4 .1 2 .1-10.8 .1 6.6 .1 4.2 .1-4.9 .1 1.5 .1-2.1 .1-7.7 .1-3.2 0 9.1 .1 6.2 .1-1 .1-5 .1-.6 .1 3.3 .1-.1 .1-3 .1 4.2 .1-2.8 .1 4.8 .1 .7 0-3 .1-.5 .1 6.6 .1-9.9 .1-2 .1 1.6 .1 .7 .1-.4 .1-1.6 .1-2.4 .1 4.5 0 2.2 .1-5.4 .1 .2 .1 4.2 .1-.2 .1 1.1 .1 4.9 .1-1 .1-9.9 .1 4.5 .1 1.2 .1 2.2 0-3.5 .1-3.4 .1 4.7 .1-2.2 .1 3.4 .1-4.9 .1-.3 .1 2.9 .1 .3 .1 3.7 .1-3.3 .1 .9 0-1.6 .1-3.4 .1 16.4 .1-8 .1 1.7 .1-6.3 .1 6.6 .1-7.6 .1 2 .1 2.4 .1-3.5 .1-2.6 0 4.4 .1-6 .1 4 .1 5.2 .1-6.5 .1 3 .1-2.9 .1-4.4 .1-1.6 .1-2.1 .1 2.3 .1 1.4 0 6 .1-2.2 .1 1.6 .1-5.6 .1 4.5 .1-7.8 .1 3.4 .1 6.7 .1-5.1 .1-.6 .1 3.4 .1 12.6 0-14.1 .1 9.5 .1-9.9 .1 2.3 .1 6.4 .1-14.1 .1 9.8 .1-5.9 .1-1.9 .1-5.7 .1 8.4 .1 .4 0 9.9 .1-2.8 .1-13.9 .1 15.2 .1-9.3 .1 16.7 .1-13.2 .1 3.3 .1-10 .1 5.7 .1 4 .1 2.2 0 2.3 .1 2.5 .1-4.8 .1-.8 .1 2.1 .1 1.6 .1 4.6 .1-12 .1-2 .1 3.8 .1-2.1 .1 7.9 0-.7 .1-4.2 .1 1.2 .1-8.6 .1 3.3 .1-5.3 .1 7.4 .1-2.7 .1-4.8 .1-5 .1 19.5 .1-4.1 0-7 .1 9.3 .1-4.9 .1-2.2 .1 3.2 .1-2.3 .1-.3 .1 2.5 .1-2.5 .1 1.3 .1-4.2 .1 .7 0-3.3 .1 5.8 .1 10 .1-6.4 .1-11.1 .1 8.6 .1 .4 .1 4.9 .1-15.2 .1 11.6 .1-.7 .1-.9 0 4.2 .1-12.6 .1 8.1 .1 .9 .1-3.6 .1 .7 .1-4.7 .1 6.6 .1-7.2 .1 .3 .1-3.8 0 5.3 .1-2.6 .1 10.5 .1 2 .1-6.2 .1-2 .1-4.8 .1 7.5 .1-2.8 .1 9.8 .1-.1 .1-8.1 0 4.3 .1-6.2 .1 3.7 .1 2.8 .1-4.8 .1 6.6 .1-6.3 .1-2.6 .1 6.2 .1-5.6 .1 5.5 .1-5.9 0 1.9 .1 6.8 .1-4.6 .1 0 .1 1.7 .1 0 .1 .2 .1 0 .1-2.4 .1 4 .1-7.7 .1 2.3 0 4.7 .1-4.7 .1 4.1 .1-1.2 .1-5.4 .1 11.1 .1-2.3 .1 1.3 .1-12.5 .1 5.7 .1 2 .1-3.7 0 2.8 .1-5.6 .1 10.1 .1 4.9 .1-9.8 .1-1.5 .1 9.1 .1-8.6 .1-6.7 .1 6.9 .1 1 .1-5.9 0 7.2 .1-1.9 .1 4.8 .1-5 .1 10.7 .1-10.1 .1 2.2 .1-4.4 .1 3.9 .1-3.4 .1-5.3 .1 9.5 0 4.1 .1-6 .1 .9 .1-1.4 .1 3.9 .1 1.3 .1-4.1 .1-1.4 .1-1.8 .1 1 .1 4.2 .1-5 0 0 .1-4.4 .1 5.2 .1-5.2 .1 6.1 .1-2.6 .1 1.7 .1-2.8 .1 5 .1-2.7 .1 2 .1 1.5 0 5.4 .1-.4 .1-10.9 .1 1.1 .1-.2 .1-2.9 .1 8.1 .1-7.5 .1 7.5 .1-3.7 .1 8.1 .1-8.3 0 9.4 .1-4.3 .1-7.8 .1 10 .1-6.8 .1 7.7 .1-14 .1 12.4 .1-9.2 .1 6.8 .1-5.3 .1-6.1 0 9 .1-4.9 .1 9 .1-4.9 .1 10.1 .1-1.3 .1 .2 .1-6.3 .1-3.5 .1 8.5 .1 4.1 .1-11.4 0-6.4 .1 10.7 .1-11.5 .1 2.3 .1 10.4 .1-2.6 .1-7.6 .1 1.4 .1 4.3 .1 .4 .1-5.6 0 4 .1-2.8 .1 .7 .1-3.4 .1 5.8 .1-2.3 .1 5.9 .1-4.5 .1 2.8 .1-4.8 .1-1 .1 8.2 0-4 .1-1.1 .1 5.4 .1-8.5 .1-4.6 .1 2.8 .1 16.4 .1-5.2 .1-3.8 .1-8.3 .1 8.5 .1-2 0-1.2 .1-2.2 .1 1.3 .1-1 .1-1.7 .1 1.2 .1 10.9 .1-6.4 .1 3.3 .1-6.2 .1 9 .1 1.1 0-10 .1 4.1 .1 3.7 .1-4.2 .1 3.8 .1 .2 .1-3.1 .1-6.4 .1 6.8 .1 4.2 .1 .3 .1-4.4 0 6.7 .1-6.8 .1 1.9 .1-1.8 .1-4.3 .1 2 .1 2 .1-3.9 .1 5.8 .1-.1 .1 5.6 .1-4.5 0-5.7 .1 1.7 .1 1.9 .1-1.1 .1 4.6 .1-4.6 .1-6.4 .1 3.4 .1 4.6 .1 1.5 .1-8.9 .1 2 0-.7 .1 7.1 .1-1.9 .1 .9 .1-1.7 .1-.8 .1-2.3 .1 1.6 .1-6 .1 3.3 .1-3.8 .1 1.4 0 7.1 .1-12.6 .1 5.2 .1 7.2 .1-1.2 .1-4.1 .1 9.5 .1-7 .1-3 .1 9.4 .1-11.7 .1 5 0 2.4 .1 2.9 .1-6.3 .1 6.6 .1-1.5 .1-4.5 .1-2.4 .1 8.8 .1-1.5 .1-.9 .1-5.3 .1-4.5 0 10.5 .1 .3 .1-11.2 .1 6.7 .1 5.2 .1-3.5 .1-3.3 .1 15.6 .1-7.7 .1-4.1 .1-2.5 .1 2.3 0-1.1 .1 7.2 .1-7 .1-2.4 .1-3 .1 3.3 .1-.9 .1-.7 .1-.4 .1-.7 .1 3.3 .1 5 0-9.7 .1-1.3 .1 8.8 .1-6.6 .1 6.8 .1-3.1 .1-.3 .1 0 .1-2.4 .1 10.7 .1-7.1 0-2.5 .1-1.1 .1-1.3 .1 5.5 .1-1.5 .1-2.1 .1 2.1 .1 1.8 .1-6.5 .1 5.5 .1-2.9 .1 14.4 0-18.1 .1 9.5 .1-8.4 .1 3.3 .1 2.6 .1 2.9 .1-9 .1 6.2 .1 4.5 .1-8.3 .1 .9 .1-6.1 0 11.1 .1-3.5 .1 1.2 .1 1 .1 1.7 .1-4.3 .1-3.2 .1 7.3 .1 .6 .1-.7 .1 3.2 .1-4.7 0 4.5 .1-1.4 .1 .9 .1-4.3 .1 4.7 .1 7.9 .1-5.6 .1-7.1 .1 1.4 .1 6.5 .1-3 .1-3.2 0 3.6 .1 .5 .1-4.4 .1 .5 .1 7.1 .1-4.3 .1 2.2 .1-3.4 .1 1.1 .1-10.6 .1 14.2 .1-5.3 0-3.7 .1 12.3 .1-8.2 .1 4.3 .1-6.8 .1 6.1 .1-1.9 .1-6 .1-4.8 .1 7.8 .1 4.4 .1-2 0 3 .1-8.7 .1 2 .1-4.8 .1 9.1 .1-9.2 .1 7 .1 3.6 .1 1.8 .1-11.7 .1-4 .1 9.5 0-1.1 .1 2.3 .1-2.6 .1 1.7 .1-9.1 .1 8.2 .1 .1 .1 4.1 .1-9.5 .1-6.9 .1 6.9 .1 10.7 0-9.9 .1 1.3 .1 3.8 .1-12 .1-2.3 .1 4.8 .1 .2 .1 3.5 .1 1.7 .1 2.3 .1-4.1 .1-1.2 0 8.8 .1 3.6 .1-8.9 .1-.8 .1-.3 .1 .4 .1-9.4 .1 13 .1-2.8 .1-5.3 .1 11.3 .1-.9 0-3.8 .1 1.5 .1-1.8 .1-4.8 .1 2 .1 5.9 .1-4.4 .1 9.3 .1-8.8 .1-3.2 .1 9.1 .1 .2 0 4.1 .1-3.5 .1 .9 .1 3.4 .1-3.4 .1 3.9 .1-11.5 .1 6 .1-5.6 .1 4.4 .1 .2 0 4.8 .1-16.5 .1 2.1 .1 6.2 .1 1.6 .1 7.5 .1-10.8 .1-4.9 .1 4.4 .1 5 .1-3.4 .1 4.4 0-2.4 .1-6.4 .1-3 .1 8.8 .1 .6 .1-3.5 .1 2.9 .1 3.5 .1-8.9 .1 1.4 .1 4.5 .1-7.3 0 8.5 .1 4.7 .1 2.6 .1-2.2 .1-11.1 .1 3.9 .1 8.3 .1-13.7 .1 5.3 .1 8.2 .1-6.1 .1-4.2 0 6.2 .1-12 .1 4.3 .1 1.1 .1 11.7 .1-9.2 .1 .2 .1-3.3 .1 9.9 .1-11.4 .1 4.3 .1-9.7 0 13.5 .1-.1 .1-3.5 .1-3.3 .1-1 .1 4.2 .1-2.8 .1 10.7 .1-9.2 .1-3.8 .1 12.3 .1-9.1 0 2 .1-5.2 .1 8.7 .1-4.3 .1 8.2 .1-13.6 .1 2.2 .1-7.2 .1 11.8 .1-9.7 .1 5.7 .1-5 0-.1 .1 11.8 .1-.4 .1-7.3 .1 8.5 .1-3.3 .1-10.5 .1 9.3 .1 0 .1-6.2 .1 3.8 .1 1.7 0 .3 .1 3.6 .1-3.1 .1-2.9 .1 4.3 .1-6.7 .1 4.1 .1 1.3 .1-.4 .1 1.3 .1-3.3 .1 1.6 0-.3 .1 3.4 .1-1.3 .1 3.9 .1-2.5 .1 8.7 .1-11 .1 2.9 .1-.6 .1 2.1 .1-2.9 .1 2.7 0 2 .1-7.4 .1 13.3 .1-16.9 .1 4.5 .1 .9 .1-3.5 .1 9.1 .1-.5 .1-10.6 .1-.1 .1 4.5 0 1.7 .1-3.4 .1 10.8 .1-10.4 .1 14.1 .1-3.8 .1-3.1 .1 4.1 .1-8 .1-1.5 .1-1.4 .1 1 0-1.5 .1 .3 .1 6.3 .1-7.5 .1-3.6 .1 10.8 .1-1.6 .1-.8 .1-5.3 .1 1.4 .1-1 0 7.3 .1-1.8 .1-5.2 .1 3.1 .1-11.8 .1 10.8 .1-7.2 .1 .8 .1 11.3 .1-4.3 .1 2.8 .1-4.2 0 4.1 .1 2.5 .1 1 .1 .5 .1 .9 .1-10 .1 8.9 .1-6 .1-2.5 .1 1.9 .1-2.2 .1 .9 0-1.4 .1 4.4 .1-5 .1-2.7 .1 12.2 .1-3.1 .1-16.9 .1 11.9 .1-.2 .1-6 .1 9.5 .1-4.4 0 6.5 .1-8 .1 14.9 .1-.2 .1-11.3 .1 7.7 .1-6.6 .1 6.4 .1-6.2 .1 6.3 .1-3.9 .1-.3 0-3.9 .1 .4 .1-2.1 .1 5 .1 3 .1 3.3 .1-5.1 .1-2.6 .1 2 .1-4.6 .1 1.7 .1-.6 0 6 .1 5.7 .1-6.1 .1-6.2 .1-8 .1 8 .1 10.6 .1-8.4 .1-4.7 .1 10.6 .1-7.4 .1-3.9 0 .8 .1 1.7 .1 1.4 .1 .9 .1-2.5 .1-2.1 .1 7 .1-7.3 .1 6.3 .1-8.2 .1 13.5 .1-6.1 0-2.1 .1 3.5 .1-5.3 .1 2.4 .1 1.1 .1-.8 .1 2.4 .1 5.4 .1-13.5 .1 11.5 .1 2.8 .1-7.2 0 2 .1 1.5 .1-1.4 .1 1.8 .1 1.5 .1-1.8 .1-1.8 .1-1.3 .1 3.2 .1 3.3 .1-1 .1-2 0-1.4 .1 1.6 .1-7.1 .1 9.4 .1-3.7 .1-3.7 .1-1.7 .1 0 .1 4.4 .1 2.8 .1-7.8 .1-5.6 0-2 .1 10.8 .1-.1 .1 12.7 .1-14.5 .1 8.2 .1-6.1 .1-4.4 .1 3.6 .1 5.9 .1-4 .1-.5 0 .2 .1-8.5 .1 6.9 .1-5.2 .1 3 .1-.5 .1-8.3 .1 20.9 .1-14 .1 4.7 .1-3.1 .1-1.5 0-2.5 .1 9.8 .1-5.8 .1 1.5 .1 2.6 .1-5.6 .1-3.4 .1 5.9 .1-1.8 .1-3.8 .1 7.9 0-1.1 .1 0 .1-2.1 .1 3.8 .1-.1 .1-.5 .1 .4 .1 2.3 .1-6.7 .1 1 .1 2 .1-1.1 0 5 .1-2.4 .1-6.8 .1 1.7 .1-3 .1 7.4 .1 7.5 .1-5.1 .1 7 .1-7.5 .1-.7 .1-8.1 0 14.8 .1-13.1 .1 6.9 .1-.6 .1-4 .1 8.8 .1-11.2 .1 .9 .1 2.4 .1-.4 .1-2.3 .1 9.5 0-10.4 .1 9.4 .1-1.3 .1-5.3 .1-1.5 .1 5 .1 3.6 .1-4 .1-2.6 .1 4.7 .1-8.1 .1 3.6 0 5.1 .1-8.4 .1 4.4 .1-5.6 .1 5.4 .1-.7 .1-1.3 .1-1.2 .1 10.2 .1-1.7 .1-6.6 .1 1.2 0-2.3 .1-1.5 .1 4.9 .1-2.7 .1 5.9 .1-5.6 .1-5.9 .1 9.3 .1 4.9 .1-9.3 .1 4.7 .1-8.4 0 3.8 .1-3.6 .1 10.7 .1-1.8 .1-4.8 .1 6.7 .1-1.7 .1 .7 .1 1.2 .1 2 .1-10.4 .1 3.8 0 6.8 .1-6 .1-1.5 .1 5 .1 7.4 .1-3.4 .1-2.2 .1-4.8 .1-8 .1 6.4 .1-5.8 .1 10.3 0-9 .1 7.4 .1-3.2 .1 .5 .1 .2 .1 1 .1 .6 .1 3.7 .1-8.8 .1 .9 .1-1.5 .1 3.6 0 8.9 .1-10.1 .1-1.9 .1 5.6 .1 .2 .1-2.8 .1 .7 .1-4.5 .1 5.5 .1-4.2 .1 5.5 .1 5.9 0-10.9 .1 .5 .1 1.5 .1-2.7 .1 5.4 .1-4.1 .1 8.5 .1-5.6 .1 6.5 .1-2.5 .1-8.9 .1 2.8 0 3.9 .1 2.4 .1-.8 .1-5.5 .1 7.3 .1-.1 .1-.5 .1-3.1 .1-1.1 .1 2.2 .1 5.2 0-4.8 .1-2.3 .1-.6 .1 1.2 .1-.2 .1-5.3 .1 2.6 .1 7.3 .1-15.3 .1 10.1 .1-2.1 .1 7.4 0-4.7 .1-11.6 .1 7.3 .1 9.2 .1-5.6 .1-3.6 .1 .9 .1 1.1 .1 .3 .1 2.3 .1 4.1 .1-10 0-.6 .1-.9 .1 3.4 .1 4.1 .1-4.6 .1 8.4 .1-4.5 .1-8.3 .1 13.3 .1-7.5 .1 .6 .1 6.1 0-8.2 .1 3.7 .1 2.1 .1 1.4 .1-4.4 .1 4.1 .1-2.1 .1 1 .1 .3 .1-9.9 .1 7.7 .1 6.7 0 1.3 .1-.6 .1-10 .1 10.8 .1-7.7 .1-1.2 .1 2.8 .1-5.5 .1-1 .1 6 .1 2 .1-8.1 0 9.3 .1-9 .1 2.9 .1 1.2 .1-1.2 .1 1.6 .1 1 .1-10.6 .1 7.8 .1-.7 .1 14.4 .1-17.1 0 5.1 .1-4.3 .1 5.5 .1-3.5 .1 1.5 .1-2.8 .1 1.3 .1-2.3 .1 .3 .1 3.5 .1 4.2 .1-6 0 5.6 .1-7.3 .1 2.2 .1 .1 .1 .6 .1-1.9 .1-1.3 .1 2.9 .1 5.1 .1-6.8 .1-3.7 .1 3.9 0 1.8 .1-4.5 .1 .3 .1-.1 .1-.3 .1 2.6 .1 3 .1 .8 .1-3.7 .1 5.6 .1-10.8 .1-1.6 0 1.1 .1 2.2 .1 9.2 .1-13.8 .1 7.8 .1-1.8 .1 .4 .1 2.6 .1-5.6 .1 7.2 .1-3.1 .1-1.4 0-3.2 .1 2.3 .1 4.4 .1-4.4 .1 3.9 .1-2 .1-.3 .1-2.9 .1 8.3 .1-2.4 .1 1.8 .1-2.5 0 .8 .1 0 .1 4.5 .1-2.9 .1-5 .1 1.9 .1 3.3 .1-4.5 .1 2.7 .1 4 .1-3.5 0-4.7 .1-2.6 .1 .2 .1-1.3 .1 7.1 .1 3.3 .1-9.5 .1 9.7 .1-.1 .1 2.5 .1-3.4 .1-2.8 0-4.3 .1 1.2 .1-1.1 .1 7.4 .1-5.6 .1 2.3 .1-2.8 .1-3 .1 5.7 .1 1 .1 .9 .1-8.7 0 12.6 .1-4.6 .1-.1 .1-12.5 .1 15.6 .1-3.4 .1-3.5 .1 3.4 .1-1.7 .1-2.6 .1 10.2 .1-4.9 0 2 .1-2.2 .1 4.2 .1-11.4 .1 6.5 .1 1.3 .1-6.4 .1 6.6 .1 6 .1-6 .1 1.6 .1-2.7 0-1.9 .1-.8 .1-4 .1 10.6 .1-1.9 .1-3.9 .1 9.3 .1-12.2 .1 6.9 .1-4.3 .1 5.1 .1-.4 0 2.3 .1-3.2 .1-4.4 .1-.1 .1-1.1 .1 5.4 .1 3.1 .1-2.9 .1-5.4 .1 11.3 .1-4.9 .1-6.4 0 1.5 .1 10.5 .1-11.2 .1 3.4 .1-2.3 .1 8.8 .1-2.3 .1 1.6 .1-6.4 .1 7.2 .1-2.3 .1-5.4 0 1.5 .1-.4 .1-5.2 .1-2.1 .1 9 .1-6.9 .1 5.1 .1-8.9 .1 7.4 .1-.5 .1 .4 .1-5.4 0 10.7 .1-6.7 .1 2.7 .1-9.9 .1 8.5 .1-2 .1 1.8 .1 1.5 .1-6.3 .1 8.8 .1-5.7 .1-.4 0-.4 .1 .9 .1 5.2 .1-6 .1 2.1 .1-4.3 .1 9.2 .1-5.1 .1-.8 .1-4.7 .1 15.8 .1-9.4 0 7 .1-5.2 .1 .9 .1 4.5 .1 .2 .1-3 .1-1.1 .1-5.3 .1 5.9 .1-7.4 .1 2.8 .1 6.8 0-10.9 .1 7.1 .1 1.9 .1-2.7 .1 .5 .1 11.7 .1-4.6 .1-6.6 .1-6.3 .1 9.4 .1 5.9 0-8.7 .1-1 .1 3.5 .1-2.3 .1-3.5 .1 .8 .1-1.2 .1-3.2 .1 10.6 .1-6.2 .1-.7 .1-4.5 0 1.4 .1 1.9 .1 3.8 .1 3.3 .1-11.5 .1 1.3 .1 2.6 .1 10.6 .1-7.9 .1-2 .1 .6 .1-4.6 0 0 .1-.4 .1 2.7 .1-.8 .1 2.7 .1-84.5 .1 20.4 .1-8.5 .1-7.7 .1 13.1 .1-5.1 .1-2.6 0 2.3 .1-3.1 .1-2 .1 7.2 .1-4.2 .1 16.4 .1-12.8 .1-3.2 .1 11.8 .1-13.8 .1 3.6 .1-2.2 0 5.2 .1-2 .1 7 .1-16.3 .1 12.4 .1 3.5 .1 .1 .1-7.5 .1 14.1 .1 3.5 .1-22.8 .1-11.2 0 16 .1 2.7 .1-5.7 .1 11.7 .1-9.6 .1 2 .1 10.4 .1-19.4 .1-2 .1 4.8 .1 8.7 .1-6.6 0-1.5 .1 .3 .1 12.5 .1-5.3 .1-1.6 .1-13.5 .1 16.9 .1 2.8 .1-10 .1-.1 .1 3.5 .1-1.4 0-10.8 .1 8.4 .1 6.4 .1-1.7 .1-10.1 .1 3.6 .1 9.2 .1 3.9 .1-6.6 .1-1.2 .1 1.1 .1-4.8 0-1.3 .1 3.3 .1 5.1 .1-3.6 .1 9.7 .1 6.9 .1-13 .1-9.5 .1-2.1 .1 16.2 .1-9.5 .1 5.2 0 .5 .1-.8 .1 9.6 .1-17.6 .1-9.1 .1 12.6 .1-.3 .1 2.1 .1 2.2 .1-5.2 .1-11.4 .1 4.1 0 1.4 .1 3 .1 4.9 .1 1.5 .1-10.7 .1 8.5 .1-6.5 .1 3.8 .1 4.6 .1-3.1 .1-1.9 .1 1.3 0-8.4 .1 8.1 .1 6.4 .1-2.6 .1-4.5 .1-7.3 .1 19.4 .1-12 .1 3.6 .1 1.1 .1-7.8 0 13.3 .1-6.2 .1 12.7 .1-9.8 .1 10.6 .1-9.8 .1-.1 .1 1.5 .1 3 .1-7.1 .1 1.4 .1 2 0-22.9 .1 19 .1-9.7 .1 17.9 .1-5.3 .1-6.5 .1-.6 .1 1.5 .1 3.1 .1 15.1 .1-13.6 .1 1.9 0 2.8 .1-14.3 .1 4.7 .1-14.8 .1 22 .1-10.9 .1-1 .1 10.8 .1 4.1 .1-12.1 .1 6.1 .1-1.1 0 1.5 .1 6.3 .1-14 .1 5.3 .1-.2 .1 19.7 .1-20 .1-8.7 .1 6.9 .1 2.8 .1-5 .1 2 0-8.6 .1 3.1 .1 8.9 .1-6.9 .1 5.3 .1-9.1 .1 .5 .1 15.8 .1-2.3 .1-6.4 .1 1.1 .1 1.1 0-2.7 .1-8.4 .1 14.4 .1-1 .1-9.1 .1 10.8 .1-4.1 .1-9.7 .1 10 .1-.4 .1-10.5 .1 11.6 0 6.8 .1 .5 .1 3.9 .1-22.8 .1 19.1 .1-3.4 .1 8.4 .1-18.4 .1-1.5 .1 9.3 .1 1.4 .1 .3 0 6 .1-12.4 .1 5 .1-2.7 .1 1.7 .1-4.6 .1 1.2 .1 6.8 .1-2.3 .1-3.7 .1 .8 .1 5.3 0-6.7 .1-4.7 .1 6 .1 6.4 .1-11.8 .1-4.4 .1 13.9 .1 3.7 .1-10.6 .1-11.7 .1 21.8 .1-4 0 7.1 .1-18.9 .1 8.3 .1 2.3 .1-2 .1 10.6 .1-26.1 .1 16.3 .1 1.2 .1-3.5 .1 .6 .1-1.9 0 .7 .1 2.3 .1 20.1 .1-9.1 .1-18.7 .1 .8 .1 17.5 .1-13.9 .1 4.4 .1-10.7 .1 10.9 .1 6.2 0-3.7 .1-8 .1-11.2 .1 11.8 .1-.9 .1 3.1 .1-3.1 .1 4.7 .1 8.1 .1-14 .1 13 0-1.5 .1-12.1 .1-.2 .1-6.4 .1 11.5 .1 5.2 .1-7.1 .1 5.7 .1-10.6 .1 4.9 .1 4.7 .1-6.6 0 7.7 .1 2.5 .1-11.4 .1-11.1 .1 17.9 .1 7.4 .1 3 .1-18.7 .1 9.8 .1 3.6 .1 0 .1 2 0 5.8 .1-21.5 .1 15.4 .1 9.9 .1 8 .1-27.6 .1 22.7 .1-17.4 .1 .7 .1 10.9 .1 6.8 .1-20.7 0 8.6 .1-17.2 .1 11 .1 6.7 .1 .6 .1 2.1 .1-9.3 .1 9.1 .1-18 .1 9.4 .1 1.1 .1 1.4 0 10.2 .1-25.8 .1 28.2 .1-9.6 .1 3.2 .1-6.6 .1 3.6 .1-2.5 .1 1.5 .1-7.9 .1 10.7 .1-5.3 0 18.9 .1-23.2 .1 4.4 .1 8.8 .1-17.5 .1 10.2 .1 3.1 .1-11.6 .1 8.6 .1 7.1 .1 .9 .1-2.6 0-16.8 .1 10.3 .1 6.9 .1 4.9 .1 6.1 .1-13.2 .1 16.3 .1-30.4 .1 12.1 .1 6.1 .1-7.1 .1-7.4 0 20.6 .1-9 .1-8.5 .1 11.6 .1-13.3 .1 23.2 .1-19.2 .1 1.7 .1 3.6 .1 4 .1-14.8 .1 24.3 0-22.2 .1-9.9 .1 16 .1 9.5 .1-20.9 .1 6.8 .1 10.8 .1-2.3 .1-14.2 .1 16.7 .1-8.6 .1 3.5 0-5.1 .1-12.7 .1 4.2 .1 12.4 .1 3 .1-16.6 .1 26.4 .1-21.7 .1 18.8 .1-11 .1 2.9 .1-2.7 0 7 .1-19.8 .1 9.2 .1-.7 .1 9.5 .1 6.8 .1-11.9 .1 5.9 .1 9.3 .1-9.1 .1-2 .1-12 0 20.1 .1-10.3 .1 0 .1 7.1 .1-13.8 .1 12.8 .1 1.6 .1 2.9 .1-8.9 .1-15.4 .1 0 0 3.9 .1 18.1 .1-7.2 .1-.8 .1-4.3 .1 3.9 .1 6.2 .1-19 .1 5 .1 15.6 .1-4 .1 3.4 0 2.3 .1-12.1 .1 5.9 .1-8.7 .1 3 .1 8.1 .1-7 .1 9.6 .1-23.5 .1 23.6 .1-6.6 .1-4.3 0-1.1 .1-.2 .1 5.8 .1 3.3 .1-10.3 .1-1.8 .1 .2 .1 22.8 .1-15.7 .1-7.6 .1 13 .1-2.5 0-7.2 .1 7.3 .1-3.6 .1 3 .1 14.4 .1-19.4 .1-15.1 .1 20.1 .1-12.2 .1 1.4 .1 9.3 .1-3.7 0 10.4 .1-16.3 .1 5.1 .1 .5 .1 2.2 .1 3.6 .1 7 .1-5.1 .1-6.5 .1 6.6 .1-9 .1 3.5 0-11.8 .1 15.9 .1 6.7 .1-6.4 .1-7.6 .1 13.8 .1-14.4 .1 8 .1 13.1 .1-18.1 .1 .7 .1 9.9 0-10.9 .1-.8 .1 1 .1 8.8 .1-17.8 .1 20 .1-11.9 .1 1.4 .1 4.6 .1-13.2 .1 11.3 .1 22.1 0-22.2 .1-7.9 .1 13.4 .1 1 .1-20.3 .1 7.8 .1 1.8 .1 15.5 .1-8 .1-1.7 .1-12.2 .1-2.3 0-15.2 .1 27.1 .1 6.7 .1-9.7 .1 7.5 .1-17.6 .1 4.2 .1 15 .1-11.7 .1 5.1 .1-13 .1 13.7 0 19.5 .1-22.3 .1 5.3 .1-4.3 .1-12.7 .1 19.9 .1 .7 .1-6.7 .1-10.1 .1 17.9 .1-3.4 .1 2 0-2.9 .1 9.6 .1-24.7 .1-3.3 .1 20.4 .1-2.4 .1 8.4 .1-4.2 .1-13.1 .1-2.5 .1-.2 .1 5.8 0 1.4 .1 4.2 .1-12.9 .1 13.3 .1 5.1 .1-10.1 .1 .3 .1 3.4 .1 3.8 .1 2.8 .1 4.1 0-6.1 .1-8.5 .1 .2 .1 6.8 .1-10.3 .1 5.2 .1 7.9 .1 1.8 .1 7.4 .1 5.7 .1-10.3 .1 .5 0-3.5 .1-10.9 .1 7 .1-7.7 .1 15.2 .1-2.1 .1-16.2 .1 2.1 .1 6.8 .1-7.1 .1 6.7 .1 14.9 0-23.4 .1 6.8 .1 16.9 .1-8.5 .1-16.5 .1 18.3 .1-23.9 .1 10 .1-1.1 .1 9.6 .1-7.9 .1-9 0 22 .1-16.5 .1 2 .1 1.4 .1 1.5 .1 14.8 .1-25.3 .1 16.8 .1 3.3 .1-20.6 .1 21.3 .1-11.1 0 7.8 .1-12.5 .1 5.5 .1-6.6 .1 5.8 .1 6.1 .1-11.7 .1 17.6 .1-5.1 .1-8.3 .1 13.8 .1-23.6 0-1.2 .1 10.9 .1 .1 .1 1.9 .1 13.9 .1-24.6 .1 15.7 .1 1.2 .1-.9 .1-9.8 .1 9.5 .1 .2 0-10.3 .1 6.1 .1-3 .1 24.5 .1-26.8 .1 9.8 .1-14 .1 .2 .1 3.8 .1 3 .1 1.6 .1 6.1 0 5.8 .1-11.6 .1 7.5 .1-19.8 .1 7.5 .1-.8 .1-2.6 .1 .7 .1 7.2 .1-4.9 .1 5.1 .1-16 0 10.7 .1-9.4 .1 5.3 .1 7 .1-4.1 .1 4.8 .1 27.7 .1-22.1 .1-6.1 .1 11 .1-13.4 .1-1 0 9.4 .1-13.8 .1 13.8 .1-7.7 .1 7.6 .1 2.4 .1-5.7 .1 8.5 .1-13.4 .1 3.4 .1 10.3 .1-8 0-3.9 .1 6.5 .1-9.9 .1 1.6 .1-2.3 .1 9.2 .1-8.3 .1-12.7 .1 20.5 .1-1.2 .1-8.4 .1 4.9 0-3.1 .1 1.7 .1 4.6 .1 12.2 .1-17.9 .1-3.2 .1 11.3 .1-4.5 .1-2.6 .1 5.4 .1 9.3 0-9.5 .1-13.7 .1 23.8 .1-12.9 .1 3.9 .1-12.8 .1 8.4 .1 1.4 .1 5.8 .1-7 .1 6.8 .1-13.4 0 11.9 .1-9.4 .1-.9 .1 17.8 .1-17 .1 4.8 .1 2.1 .1-.6 .1 .2 .1 5.5 .1-2.6 .1 3.7 0-17 .1 .7 .1 7.2 .1-19.2 .1 30.2 .1 5.3 .1-8.8 .1-2.6 .1 0 .1-.1 .1-17.1 .1 6.1 0 11.4 .1-5.1 .1 18.1 .1-9.5 .1 3.4 .1-1.9 .1-9.4 .1-.8 .1-3.7 .1 10.4 .1 7.4 .1 3.2 0-17 .1-3.2 .1 1.3 .1 4.1 .1-22.3 .1 26.1 .1 2.4 .1-9.8 .1-8.9 .1 20.8 .1 10 .1-15.7 0-9.3 .1 5.5 .1 1.1 .1 5.4 .1-11.2 .1 9.4 .1 7.6 .1-14.3 .1 11.4 .1-10.5 .1 5.5 .1-7.8 0 2.1 .1 2.3 .1 9.9 .1-7 .1-10.5 .1 13.8 .1 6.7 .1-15.2 .1 9.2 .1-6.8 .1 13.9 .1 12.8 0-9.3 .1-30.3 .1 22.7 .1-3.3 .1-18.2 .1 22.5 .1-18.5 .1 16.3 .1 2.6 .1-17.8 .1-3.8 .1 13.4 0-3.8 .1 11.3 .1-16.8 .1 11.2 .1-16 .1 13 .1-8.3 .1 19.4 .1-6.6 .1-3.8 .1 8 .1-17.3 0 2.7 .1 3.1 .1-8.7 .1 9.4 .1-2.4 .1 1.1 .1 6.2 .1-6.1 .1 9.4 .1 1.9 .1 6.8 .1-10 0-4.5 .1 4.3 .1-5.1 .1-11.6 .1 19.8 .1-4.4 .1-2.1 .1-8.9 .1 11.2 .1-2.2 .1-2.8 .1 5.7 0 2.2 .1-9.3 .1 .1 .1 14.2 .1-18.9 .1 1.3 .1-1.8 .1-.5 .1 4.3 .1 14.2 .1-8.9 0-.7 .1 10.9 .1 .7 .1-18.5 .1 5.7 .1 2 .1-1.5 .1-14 .1 9.2 .1-8.6 .1 3.5 .1 6.3 0-18.6 .1 16 .1 22.7 .1-9.4 .1-12.7 .1-4.9 .1 13.3 .1-13.4 .1 5 .1 3.6 .1 7.7 .1-2.5 0-14.4 .1-.3 .1 6 .1 1.1 .1 4.8 .1-9.7 .1 7.9 .1 5.4 .1-3.4 .1-2.8 .1-7.2 .1-4.8 0-7.4 .1 21.2 .1-6.9 .1 5.6 .1-13.2 .1 8.7 .1 10.5 .1-.6 .1 .8 .1-16 .1 12.5 .1-14.2 0 14.9 .1-3.2 .1-10 .1 4.2 .1 4 .1-5.7 .1 15.3 .1-1.1 .1 7 .1-16.9 .1 1.3 .1-3 0 6.2 .1-3.7 .1-.5 .1-8.8 .1-6.4 .1 3.9 .1 9.9 .1 12.9 .1-8.2 .1-3.6 .1-4.5 .1 7 0 9.2 .1-2.6 .1-17.6 .1 8.5 .1 .1 .1 9.1 .1 8.3 .1-1.7 .1-10.1 .1-6 .1 6.2 .1 1 0-11.7 .1-.2 .1 3.8 .1-3.3 .1-5.5 .1 4.1 .1 9.3 .1-13.1 .1 17.4 .1-15.2 .1 10.3 .1-10.1 0 3.5 .1-1.1 .1-.5 .1-.4 .1-5.4 .1 5.5 .1 10.7 .1 .3 .1-7 .1 2 .1-3.4 .1 2.1 0 14.1 .1-8.4 .1-5.3 .1-7.5 .1 3.6 .1-1.7 .1 15.6 .1-5.7 .1-3 .1-13.2 .1 10.9 .1 9.7 0-9.3 .1 5.6 .1-7.8 .1-1.3 .1 6.4 .1-2.4 .1 .1 .1-8.1 .1 6.4 .1-1.7 .1-11.8 .1 15.1 0-4.6 .1 2.7 .1-12.4 .1 13.9 .1 6 .1-14.8 .1-2 .1 10.3 .1 .2 .1-.4 .1 8.4 0 9.4 .1-17.7 .1-2.7 .1 3.5 .1-7.3 .1-.3 .1 12.9 .1-5.2 .1-8.7 .1 5.6 .1 4.4 .1-10.5 0 11.7 .1-4.1 .1-10.7 .1 3.8 .1 8.5 .1 4.6 .1-7 .1 2.1 .1 6.2 .1-7.3 .1-8.2 .1 6.2 0-11.6 .1 8.3 .1-11.7 .1 17.5 .1-4.8 .1 .2 .1 2.4 .1 8 .1 5.3 .1-14.9 .1 3.2 .1-1.7 0 9.5 .1-10.9 .1-.7 .1 14.8 .1-9.7 .1 7.6 .1-9.4 .1 4.7 .1-7.8 .1 16.4 .1-14.3 .1 15.2 0-12.7 .1 .7 .1-6.3 .1 26.3 .1-19.9 .1 .6 .1-.8 .1 1.3 .1-8.7 .1 8.7 .1-8.1 .1 10.1 0-9.3 .1-.4 .1 3.1 .1-5.7 .1 5.1 .1 2.4 .1-4.7 .1 7.8 .1-6 .1 9 .1-13 .1 8.6 0-6.4 .1 .4 .1 7.9 .1-2.6 .1-4.8 .1 1.7 .1 2.4 .1 3.2 .1-7.9 .1-7.8 .1 7.4 .1-1.2 0 7.2 .1 2.8 .1-11.4 .1 11.4 .1-12.2 .1 7 .1-10.5 .1 17.7 .1-4.5 .1 1.1 .1-3.4 .1 8.1 0-21.8 .1 12.1 .1-6.5 .1 12.4 .1-15.5 .1 13.2 .1-7.1 .1 3.3 .1 .8 .1 12.4 .1-25.1 .1 12.3 0-3.6 .1 7.2 .1-11.8 .1 11.2 .1-7 .1 1.9 .1-2.5 .1 8 .1-3.1 .1 4.9 .1-4.2 .1 5.8 0-11.3 .1 1.2 .1 3.1 .1 2.9 .1-8.5 .1 15.5 .1-7.4 .1-2.6 .1 12.9 .1-14 .1 .3 .1 1.5 0-1.4 .1-4.3 .1-1.3 .1 3.2 .1 3.4 .1-21.7 .1 23.7 .1-1.3 .1 5.5 .1-4.3 .1 5.1 0-7.9 .1-8.5 .1 16.1 .1-9.7 .1 7.4 .1 4 .1-9.5 .1 11.2 .1-27.5 .1 15.9 .1-6.2 .1 .5 0 6 .1-7.4 .1 7.7 .1 7.2 .1-5.1 .1-17.3 .1 5.9 .1 14.8 .1-12.5 .1 1.7 .1 3.3 .1 3.5 0 4.8 .1-8.9 .1-15.9 .1 16.4 .1 8 .1 1.4 .1 1.3 .1-12.2 .1-1.5 .1 13.6 .1-2.5 .1-4.9 0-4.6 .1 .6 .1 3.6 .1-.9 .1-.4 .1 .1 .1 3.8 .1-3.8 .1 1 .1-.7 .1-4.8 .1-9.2 0 9.1 .1 5.2 .1 6.4 .1 1.5 .1-4.3 .1-2.2 .1 6.1 .1-6.5 .1-1.5 .1 2.9 .1-.1 .1-3 0 1.5 .1 2.9 .1-10.6 .1 10.2 .1 1.4 .1 .1 .1-16 .1 8.4 .1 11.3 .1-5.8 .1-9.1 .1-1.5 0 .5 .1 5 .1 2.8 .1-5.2 .1 6.7 .1-5.5 .1 4.9 .1 1.7 .1-.3 .1-6.1 .1 1.3 .1 12.8 0-9.9 .1-11.6 .1 16.6 .1-.1 .1-25.2 .1 12.6 .1 13.7 .1 3.5 .1-15.8 .1-.7 .1 8.8 .1 2.7 0 3.5 .1 2.5 .1-20.6 .1 1.9 .1 5.7 .1 2 .1-5.6 .1 5.4 .1 .9 .1 11.8 .1-12.7 .1-5.7 0 7.9 .1-.9 .1-2.7 .1-2.3 .1 2 .1 2.4 .1 1.8 .1-.6 .1-6.7 .1 9.2 .1 1.3 .1-1.7 0-2.8 .1-9 .1 9.9 .1 4.7 .1-5.6 .1 4.6 .1-2 .1 18.9 .1-23.3 .1 1 .1-5 .1-1.1 0 13.5 .1-2.8 .1-15.4 .1 21.1 .1-10.4 .1-2 .1-2.7 .1 7.6 .1 .2 .1-1 .1 7.4 0-17.8 .1 13.2 .1-17.3 .1 12.4 .1-.3 .1-10.8 .1 10.4 .1 4.3 .1 4.1 .1-19.1 .1 8.6 .1-1.4 0-.3 .1 9.5 .1-4.2 .1-4.8 .1 3.2 .1 4 .1-3.3 .1-1.6 .1 4.7 .1-12.4 .1 4.7 .1 8 0 3.6 .1-5.3 .1-2.2 .1 11.9 .1-8.4 .1-20.6 .1 24.7 .1-11.1 .1 3.8 .1 11 .1-22.6 .1 13.5 0-10.9 .1 14.3 .1 4.4 .1-12.2 .1-2.8 .1 11.9 .1-19.1 .1-5.2 .1 24.4 .1-14.6 .1 8.2 .1 3 0-2 .1-16.7 .1 7.9 .1 4 .1 5.3 .1 3.5 .1 .4 .1-4.4 .1 .5 .1-9.3 .1-3 .1 9.6 0-7.1 .1 11.2 .1 3.6 .1-4.3 .1-11.6 .1 6.2 .1-8.1 .1 14.4 .1-17.6 .1 9.2 .1 14.7 .1-11.9 0-2.1 .1 5.3 .1-1.5 .1-2.4 .1 11.5 .1-6.6 .1 13.5 .1-18.3 .1-4.3 .1 8.9 .1-5.1 .1 5.8 0-9.6 .1 14.4 .1-5 .1 7.1 .1 2.7 .1 .8 .1-20.5 .1 35.6 .1-37.8 .1 15.7 .1-4.4 .1-1.1 0-4.3 .1 4.6 .1-1.9 .1-4.8 .1-5.1 .1 13.5 .1 6.9 .1-12.8 .1 9.5 .1-12.6 .1 4.3 .1 1.3 0 1.2 .1-11.1 .1 15.5 .1-4.7 .1 6.4 .1-8 .1 .6 .1-1.7 .1-1.9 .1 7.8 .1 3.2 .1-6.1 0-1 .1-8.1 .1 2.5 .1 1.1 .1 6.4 .1-12.6 .1 9.1 .1 4.4 .1 2.7 .1 6.4 .1-23.5 .1-1.7 0 15.1 .1 12.2 .1-6.7 .1-22.3 .1 21.6 .1-10.4 .1 14.7 .1-2.9 .1-7.6 .1 13.5 .1-8 0 2.3 .1-.5 .1-10.7 .1 2.8 .1-1.5 .1 2.4 .1-3.1 .1-6.1 .1 15.8 .1-6.7 .1 2.1 .1 3 0 2.7 .1-3.4 .1-5 .1 6.5 .1-7.1 .1 8.1 .1-4.2 .1-5.9 .1 14.6 .1-8.7 .1-.3 .1 26 0-32.4 .1 10.4 .1 16.2 .1-7.5 .1-15.7 .1 8.6 .1 .2 .1-12.5 .1 8.6 .1-11.1 .1 23.7 .1-7.2 0 5.6 .1-10.1 .1 4.1 .1 2.1 .1-9.4 .1-6 .1 9.4 .1 2.3 .1-15.7 .1 11.7 .1 3.3 .1-3.1 0 2.7 .1 4 .1-8 .1 2.4 .1-5.8 .1 8.1 .1-2.8 .1 5.3 .1-5.1 .1 2.8 .1-5.8 .1-2.5 0 10.8 .1-5.2 .1-1.3 .1 7.4 .1-7.2 .1 3.6 .1 8.7 .1-16.9 .1 2.5 .1 4.1 .1 2.5 .1-11.8 0 13.1 .1-9.3 .1-9.5 .1 9.9 .1 8.8 .1-6 .1 11.2 .1-21.3 .1 7.2 .1 7 .1-19.9 .1 25.3 0-10.3 .1 4.1 .1 .2 .1-5.2 .1 4.1 .1 .9 .1-7.4 .1 2.4 .1 9.9 .1 3.6 .1-11.5 .1-19.9 0 24.5 .1-10.7 .1-8.5 .1 15.4 .1 9.6 .1-13.7 .1 6.5 .1-13.2 .1 19.7 .1 .4 .1-16 .1 24.3 0-27.8 .1 1.1 .1 9.8 .1-3.2 .1 .5 .1-.3 .1-5.2 .1-4.4 .1 7.9 .1 6.5 .1-7.2 .1 .2 0 .1 .1 10 .1-13.3 .1 20.9 .1-29.6 .1 13.7 .1-4.7 .1 .6 .1 8.8 .1-6.5 .1 .4 .1-5.7 0 9.3 .1-2.4 .1 13.7 .1-10.4 .1 12.7 .1-22 .1 5.6 .1-1.5 .1 11.8 .1-21.6 .1-6.1 0 10.1 .1 4.2 .1 .7 .1 7.9 .1-.4 .1-1.2 .1-11.1 .1 2.1 .1-12.2 .1 25.2 .1-12 .1 4 0-7.3 .1 11.7 .1-1.7 .1-1.3 .1 6 .1-18.5 .1 15.3 .1-7.2 .1 1.6 .1 7.4 .1-4.7 .1 6 0-8.6 .1 10 .1-12.5 .1-.6 .1 .6 .1 3.1 .1-9.8 .1 1.4 .1 21.6 .1-7.7 .1-8.1 .1 6.9 0 3.9 .1-9.2 .1-2.2 .1-16.6 .1 11.7 .1 8.8 .1-1.4 .1 6.1 .1-10.3 .1 11.2 .1-14.5 .1 5.3 0 2.3 .1 2 .1 2.4 .1-7.8 .1 19.8 .1-11.3 .1-14.9 .1 13.5 .1-17.2 .1 15.4 .1-.3 .1 2.3 0 12 .1-11.9 .1-13.8 .1 18 .1-8.7 .1 0 .1-6.4 .1 23.4 .1-24.3 .1 7.1 .1 3.1 .1 5.4 0-8 .1 13.9 .1-10.7 .1-12.7 .1 7.5 .1 12.7 .1-1 .1-10.8 .1 7.9 .1 9 .1-12.3 .1-3.9 0 10.2 .1-4.9 .1 11.1 .1-17.6 .1-.4 .1-3.6 .1 9.6 .1 2.1 .1 4.2 .1-5.5 .1-.7 .1 11.2 0-11.9 .1-5.8 .1-2.6 .1 8.3 .1-5.9 .1-1.6 .1 7.9 .1-.7 .1-1.2 .1-4 .1 23.6 .1-25.7 0 8.3 .1 1.3 .1-3.3 .1 16.5 .1-10.3 .1 7.2 .1-4.2 .1-5.4 .1-7.8 .1 22.2 .1-24.5 .1 20.4 0-6.5 .1-11.6 .1 5.6 .1 6.4 .1-.6 .1-1.4 .1 0 .1-10.1 .1-1.2 .1 .3 .1 15.3 .1-15.5 0 14.9 .1 7.5 .1-14.1 .1 .7 .1-4.5 .1 5.3 .1-5.6 .1 8.3 .1-6.8 .1 5.9 .1 5.3 0-12.1 .1-.2 .1 4.5 .1 4.1 .1-12.5 .1-1.3 .1 12.7 .1-18.5 .1 12.2 .1-3.4 .1-.3 .1 12.1 0-9.1 .1-3.9 .1 4.2 .1 10.6 .1-8.6 .1-1.1 .1-11.6 .1 14.2 .1-12.4 .1 5 .1 11.1 .1-17.3 0 9.3 .1-13.2 .1 21.1 .1-6.4 .1-9.1 .1 .4 .1-.3 .1-6.3 .1 12.6 .1-16.2 .1 11.4 .1 10.9 0-7.3 .1 .7 .1-5.6 .1 7.3 .1-3.7 .1-3.6 .1 14.5 .1 .7 .1-14.4 .1 9.1 .1-4.2 .1-1.5 0 6.1 .1-12.7 .1 7.2 .1 0 .1-2.6 .1 .7 .1 6.7 .1-9.5 .1 8.4 .1 1.7 .1-10.9 .1 3.4 0-.6 .1 12.2 .1-3 .1-3.3 .1-1.9 .1 5.4 .1-3.9 .1-16.8 .1 18.1 .1-7.5 .1 12.9 .1-22.9 0 14.6 .1 13 .1 1.3 .1 .1 .1-5.3 .1 2.5 .1-16.5 .1-1.4 .1-4.6 .1 8.5 .1 7.5 .1-.3 0 3.1 .1-7.8 .1 6.8 .1-1 .1-9.2 .1 8.3 .1 1.9 .1 12.8 .1-20.8 .1 7.5 .1 .6 .1-18.8 0 12.6 .1-1.1 .1-2.3 .1 7.5 .1 1.5 .1-13 .1 7 .1 7.2 .1-.4 .1-16 .1 12.6 .1 .2 0-15.3 .1 5.8 .1 6.1 .1 7.4 .1-14.6 .1 23.5 .1-16.6 .1 2 .1 5.5 .1-11.3 .1 6.2 .1 18.5 0-24.7 .1 12.5 .1-12.9 .1 6 .1-.9 .1 3.9 .1-5 .1-6.8 .1 6.3 .1-9.9 .1 9.1 .1-.8 0 7.2 .1-6.8 .1-1.1 .1 3.6 .1 5.4 .1-4.7 .1 8.8 .1-6.4 .1-5 .1 16.3 .1-.2 0-1.8 .1-11.3 .1-3.7 .1 14.5 .1-13 .1 18.7 .1-12.6 .1 0 .1-8.9 .1 13.6 .1-12.2 .1 .8 0 19.5 .1-19.7 .1-4.8 .1 3.8 .1-2.6 .1-.9 .1 10.3 .1 4.7 .1-8.6 .1-.9 .1 14.3 .1-9 0-2.8 .1-9.5 .1 22 .1-18.2 .1-3.1 .1 11.8 .1-.5 .1-5.6 .1-1.8 .1 8.7 .1-2.8 .1-2.8 0 2.6 .1 2.1 .1-9.9 .1-13.2 .1 11.4 .1-1.4 .1 16 .1 5.2 .1-8.8 .1 2.1 .1 5.1 .1 5.9 0-10.8 .1-7.3 .1 .6 .1-.9 .1-8.1 .1 12.2 .1 5 .1 2.2 .1-7.9 .1-6.5 .1-4.4 .1 7.8 0 3.7 .1 2 .1-6.3 .1 4.4 .1-2.2 .1-5.3 .1 16 .1-11.1 .1-.4 .1-1.9 .1-.8 .1 8.8 0 1.8 .1-10.7 .1 1.4 .1-1.2 .1-8.9 .1 13.1 .1 10.3 .1-11.6 .1 5.6 .1-5.3 .1 2.4 .1-7.8 0 3.1 .1-1.9 .1-.1 .1 8 .1-6.1 .1-6 .1 12.2 .1-6.9 .1 1.2 .1-3.3 .1 .4 .1 .3 0 .9 .1-1.9 .1 .7 .1 2.8 .1 .7 .1-.9 .1-1.5 .1 .7 .1 4.1 .1-7.3 .1-6.9 .1 15.2 0-14.5 .1 10.3 .1-4.8 .1-1.5 .1 12.6 .1-12.7 .1 2.3 .1 4.6 .1-4.3 .1-1 .1 .8 .1 10.3 0-18.6 .1 15.1 .1 8.5 .1-11.6 .1 13.9 .1-13 .1-4.2 .1-1.5 .1-3.4 .1 14.1 .1-7.3 .1 11.2 0-12.8 .1 3.6 .1 5.5 .1 4.5 .1-16.1 .1 17.1 .1-18.2 .1 7.9 .1 4.2 .1 6.6 .1-21.2 0 16.1 .1-14.1 .1 18 .1-9.2 .1-10.8 .1 12.7 .1-11.1 .1 7.5 .1 .4 .1-5.8 .1 7.6 .1-6.3 0-2 .1-3.3 .1 .2 .1 10.3 .1-.3 .1 5.7 .1-19.3 .1 16.9 .1-22.4 .1 21.6 .1-11.2 .1 5.2 0 9.2 .1-8.5 .1-10.6 .1 6.7 .1 23.8 .1-11.5 .1-4.4 .1-2.8 .1 7 .1 5.4 .1-8.6 .1-10.7 0 .8 .1 24 .1-11.8 .1 6.2 .1-6.9 .1 5.8 .1-14 .1 2 .1 8.4 .1-8.9 .1 16.5 .1-17 0 21.8 .1-13.4 .1 .6 .1 2.6 .1-4 .1-9.7 .1-6.1 .1 8.4 .1 5.4 .1 2.1 .1-.2 .1-3.6 0 16.7 .1-2.2 .1-9.2 .1-2.8 .1-9.6 .1 16.9 .1 6.9 .1-11.8 .1-.9 .1-7.9 .1-1.3 .1-.9 0 1.1 .1 8.3 .1 1.2 .1-6.7 .1 10 .1-6.7 .1-5.2 .1-3.9 .1 9.5 .1 4.8 .1-9.3 .1 15.6 0 .7 .1-14 .1-2.3 .1 16.3 .1-6.3 .1 1.9 .1-9.9 .1-1.6 .1 11.2 .1-8.5 .1-5.9 .1 8.4 0 3.5 .1-13.1 .1 3.9 .1 16 .1-7.5 .1-3 .1-10 .1 8.3 .1-9.9 .1 12.2 .1-9.4 .1-1.1 0 20.7 .1-.3 .1-7.2 .1-20.5 .1 1.3 .1 10.5 .1 7.8 .1 9 .1-8.7 .1 3.3 .1-8.2 .1-3.7 0 9.9 .1-6.8 .1-3 .1 7.2 .1 10.1 .1-8.6 .1-3.5 .1-3.4 .1 6.9 .1 2.2 .1-4.2 .1-8.3 0 9.6 .1-12.3 .1 .2 .1 10.1 .1-5.9 .1 18 .1-23.1 .1 8.1 .1-7 .1 10.7 .1-2.1 0 7.3 .1 8.5 .1-11.6 .1-9.7 .1 6.7 .1-8.5 .1 11.5 .1 4.9 .1-.7 .1 10.7 .1-20.9 .1 6.3 0 11.5 .1-12.8 .1-5 .1-.7 .1 5 .1-.8 .1-.5 .1 6.6 .1-7.3 .1 10.3 .1-11.2 .1-4.8 0 9 .1-15 .1 9.9 .1 3.6 .1-2.7 .1 13.2 .1-11.6 .1 .8 .1 3.1 .1-4.3 .1-5.5 .1 11.6 0-8 .1 .1 .1-5.9 .1 28.8 .1-6.5 .1-16.5 .1-4.5 .1 .4 .1-4.5 .1 18.9 .1-18.2 .1 12.9 0-7.5 .1-3.7 .1 6.8 .1-1.2 .1-8.4 .1 17.5 .1-.9 .1 .1 .1-6.5 .1 1.8 .1 2 .1 7 0 6.1 .1-5.1 .1-20.1 .1 9 .1-.2 .1 3.8 .1 5.7 .1-12.8 .1 3.4 .1-10.9 .1 8.6 .1 10.9 0-6.4 .1-5.4 .1-5.8 .1 14.8 .1-5.9 .1-12.2 .1 5.3 .1-1.5 .1 10.1 .1-.9 .1-9 .1 9.4 0 3.7 .1-.9 .1-5.8 .1 7.1 .1 1 .1-3.4 .1 1.2 .1-.9 .1 11.2 .1-24.1 .1 12 .1-20.1 0 26.4 .1-13.8 .1 4.7 .1 10.3 .1-12 .1 3.6 .1 1.7 .1-.1 .1 1 .1-14 .1 .4 .1 8.4 0 9.1 .1-13.2 .1 4.1 .1-6.9 .1 11.7 .1 1.4 .1-2 .1-2.7 .1-10.4 .1 7.6 .1-1 .1 8.2 0-4 .1-4.2 .1 13.1 .1-3.5 .1-20.3 .1 9.6 .1 3.9 .1-5.7 .1 8.2 .1 1 .1 2.5 .1 1.3 0-4.1 .1-8.8 .1-4.3 .1 9.1 .1 5.3 .1-5.5 .1-5.5 .1 3.8 .1 3.6 .1 3.5 .1-4.6 0 11.6 .1 6 .1-29.7 .1-2 .1 11.7 .1 1.5 .1 12.4 .1-13.7 .1 7.8 .1-15.8 .1 18.9 .1-16.2 0 1.6 .1 11.6 .1-1.5 .1 2.4 .1-1.2 .1-3.7 .1 3.9 .1-.7 .1 1.7 .1-5.7 .1-1.8 .1 17.9 0-19.6 .1 8.1 .1 1.5 .1-15.3 .1 8 .1 1.9 .1 1 .1-10.2 .1 3.8 .1 .3 .1 3.8 .1 3.5 0-10.6 .1 6.3 .1 8.4 .1-5.9 .1-.4 .1 11.7 .1-25.1 .1 20.2 .1-13.2 .1 2.3 .1-1.7 .1 11 0-15.1 .1 16.7 .1-7.5 .1 1.5 .1-1.1 .1 2.3 .1-6 .1-2.1 .1 12.4 .1-5.1 .1 15.1 .1-10.4 0-4.8 .1 12 .1 3.5 .1-11 .1-.5 .1-6.4 .1 4.5 .1 2 .1-6.4 .1-5 .1 4.6 .1-7.1 0 3.1 .1-.2 .1-2.5 .1 .7 .1 9.3 .1-11.7 .1 9.2 .1-10.2 .1 1.5 .1 10.8 .1 .6 .1-2.5 0 15.3 .1-14.2 .1 4.2 .1-.6 .1 0 .1-4.4 .1 2.6 .1 7.4 .1-14.1 .1 19.4 .1-17.7 .1 11.9 0-11.7 .1 13.4 .1-3.7 .1 7 .1-19.1 .1 10.5 .1 1.3 .1-8.3 .1-9 .1 9.6 .1 2.2 .1-8.7 0 4.6 .1-10.8 .1 5.5 .1 10.6 .1 .3 .1-10.4 .1 3.4 .1-12.1 .1 8.1 .1 15.6 .1-16 .1 13.6 0-8.9 .1 4.6 .1 2.3 .1 .8 .1 .3 .1-19.1 .1 5.9 .1 6.2 .1-.6 .1 1.9 .1-3.8 .1-2.3 0 10.1 .1 3.7 .1-29.2 .1 19.8 .1 5.6 .1-10.1 .1 10.9 .1-1.2 .1-4 .1 9.6 .1-.1 0-16.1 .1 3.2 .1 10.1 .1-2 .1-6.7 .1 13.6 .1 16.4 .1-31.9 .1 4.9 .1-4.9 .1 15.8 .1-8.7 0-8.7 .1 30.1 .1-25.8 .1-6.2 .1-3.1 .1 8.7 .1 13.4 .1-10.6 .1-3 .1-2.4 .1-8.2 .1 20.7 0 1 .1-10.2 .1 8.8 .1-15.7 .1 10 .1-2.4 .1-5.5 .1 11.9 .1 1.1 .1-1.4 .1-5.4 .1 1.5 0-7.9 .1 13 .1 .8 .1-15.6 .1 .4 .1 20.6 .1-22.8 .1 3.9 .1 5.8 .1 .9 .1 1 .1 14.3 0-16.7 .1 4.6 .1-.1 .1-5.5 .1 .4 .1 5.4 .1 12 .1-21.8 .1 10.6 .1-7.4 .1-1 .1-1.7 0 13.9 .1-24 .1 17.8 .1-12.9 .1 21.7 .1-7.9 .1-3.6 .1 10.6 .1-9.4 .1-2.4 .1 .3 .1 2.4 0 7.9 .1-12.3 .1 7.3 .1 5.7 .1-3.1 .1 .1 .1-13.8 .1 .1 .1 5.5 .1 7.5 .1-5.5 .1-6.2 0 1.2 .1 17.2 .1-15 .1 10.1 .1-7.5 .1 8.8 .1-15.4 .1-1.3 .1 8.3 .1 4.1 .1-6.8 .1-2.9 0 8.6 .1-5.3 .1 20.6 .1-7.2 .1 2.6 .1-8.6 .1 3.5 .1-12.5 .1 .4 .1-.9 .1 .6 .1 2.2 0 4.9 .1-8.1 .1 13.6 .1-15.7 .1-5.2 .1 12.7 .1 2.1 .1-.1 .1 .8 .1-1.9 .1-.4 .1 11.9 0-16 .1 7.1 .1-4.9 .1 4.4 .1 1.1 .1-4.7 .1 6 .1 2.2 .1-2.2 .1-4.8 .1 4 .1-.5 0-10.3 .1-.5 .1 2.6 .1-2.8 .1 3.7 .1 2.3 .1 .9 .1-3.9 .1-1.4 .1 11.4 .1-5.2 0-11.2 .1 9.4 .1 .2 .1-3.5 .1 9.6 .1-3 .1-8.8 .1-.1 .1 5.2 .1-11.6 .1 10.8 .1 3 0-12 .1 11.8 .1-.2 .1-4.8 .1-7.2 .1 3.5 .1-.7 .1-3.1 .1 5.9 .1 15.9 .1-9.5 .1 .7 0-2.1 .1 6.4 .1 3.6 .1 .2 .1-13.5 .1-.4 .1 4.6 .1 7.1 .1-5.2 .1-2.1 .1-8.3 .1 14.5 0-6.1 .1-5.8 .1 .8 .1 8 .1 2 .1-14.6 .1 9.9 .1 1.9 .1-2.8 .1 6.6 .1-14 .1 10.9 0-1.5 .1-1.5 .1-4.1 .1 2.5 .1-4.7 .1-.5 .1 6.5 .1-9.2 .1 18.6 .1-15.5 .1 2.1 .1 7.4 0-7.1 .1 4.2 .1-4.1 .1-1.2 .1-1.7 .1 6.1 .1 .2 .1-10 .1 16.2 .1-7.8 .1 8.7 .1-10.6 0-1.1 .1-6.6 .1 5.6 .1-.4 .1 9 .1-1.5 .1-12.2 .1 5.8 .1 5 .1 .9 .1-1.6 .1 5.9 0-9 .1-2.7 .1 10.6 .1 1.1 .1-14.8 .1 20.7 .1-10.6 .1-5.7 .1-4.3 .1 15.1 .1-6 .1 9.6 0-9.8 .1-5.3 .1-1.3 .1 6.5 .1 8.9 .1-14.7 .1 6.4 .1 2.8 .1 11.1 .1-22.2 .1-1.9 .1 10.2 0-1.2 .1-2.8 .1 4.2 .1 4.1 .1-.2 .1 5.1 .1-4.6 .1 .5 .1-3.4 .1-1.6 .1 1.5 .1 5.9 0-9.4 .1 22.1 .1-25.7 .1 4.2 .1-3.8 .1 14 .1-5.9 .1 4.6 .1-14.5 .1 14.4 .1 1.2 .1-6.6 0-6.8 .1 11 .1-8.8 .1-5 .1 9.5 .1 1.4 .1-15.1 .1 16.9 .1-.3 .1-13.6 .1 4.4 0 3.9 .1 3.5 .1 2.9 .1-2.6 .1 10.9 .1-11.8 .1-9.1 .1 5.7 .1 12.4 .1-8.7 .1-3.7 .1 2.8 0-5.2 .1-11.1 .1 19.4 .1-.2 .1-2.9 .1-.9 .1-7.9 .1 24.9 .1-15.2 .1 16.2 .1-10.4 .1-11.5 0 2.1 .1-14.9 .1 15.4 .1 6.2 .1-3.3 .1 2.3 .1 6.8 .1-2.3 .1-13.7 .1 12.3 .1-.1 .1-13.3 0-4.4 .1 9.7 .1 6.7 .1-9.9 .1 2.8 .1-7.2 .1 6.2 .1 9.6 .1-13.6 .1-5 .1 12.5 .1-2.4 0 6.8 .1 .6 .1-2.4 .1 .3 .1 3.9 .1-6.4 .1-4.2 .1 4.5 .1 2.2 .1-7.4 .1 5.5 .1 .9 0-6 .1 11.6 .1-17.5 .1 15.7 .1-13.3 .1 4.1 .1-4.9 .1 15.2 .1-3.6 .1-2 .1-7.5 .1 3.8 0-12.6 .1 17 .1-10.1 .1 7.6 .1-.7 .1-1.4 .1 6.6 .1-20.2 .1 5.6 .1 3.4 .1 8.7 .1 7.9 0-15.7 .1-4.4 .1 14.9 .1 2.4 .1 4 .1-10.5 .1-7.5 .1 8.9 .1-4.1 .1 8.9 .1-5.9 .1-12.2 0 7.8 .1 1.4 .1 5.4 .1-5.2 .1-3.4 .1 2.1 .1 2.6 .1-1 .1-5.5 .1 6.6 .1 17.7 .1-14.5 0-1.6 .1 13.1 .1-17.7 .1 1.2 .1 3 .1-5.1 .1-7.8 .1-.6 .1 5 .1 3 .1-7.8 .1 16.4 0 3.9 .1-25.3 .1 14.2 .1 2.7 .1-10 .1 11.4 .1-8.4 .1-8.6 .1 18.4 .1 2.8 .1-5.6 .1-14.3 0 7 .1 11 .1-16.7 .1 5.9 .1 .2 .1 8.9 .1 19 .1-31 .1 7.4 .1 7.7 .1-14.2 0 14.2 .1-5.4 .1 3 .1 7.9 .1-22.7 .1 37.7 .1-32.7 .1 17.4 .1-18.9 .1 19.4 .1-17.6 .1 6.5 0 2.4 .1-5.4 .1 8.4 .1 23.8 .1-30.6 .1-4.4 .1 13 .1-5.7 .1-22.5 .1 12.8 .1 5.6 .1 5.2 0-14.8 .1 17.9 .1 6.7 .1-11.9 .1 10.1 .1-4 .1-11.9 .1 9.9 .1-4.4 .1-5.6 .1 12.8 .1 4.4 0-5.1 .1-3.9 .1 2.8 .1-5.3 .1 1.6 .1 1.7 .1-3.7 .1 10.7 .1-7.8 .1-7.7 .1 19.2 .1-13.2 0 3.9 .1-12.2 .1 3 .1 11.2 .1-2.8 .1-3.1 .1 1.6 .1 5.5 .1-1.8 .1-4.1 .1 1 .1-1.3 0 8.7 .1-8.2 .1-3.8 .1 6.5 .1 2.5 .1 4.8 .1-.6 .1-13.7 .1 10.6 .1-11.2 .1-13 .1 9 0 18 .1-5.2 .1 2 .1-16.3 .1 15.6 .1-.1 .1-2.8 .1-9.8 .1 12.5 .1-1.2 .1-8.6 .1 .1 0-4.3 .1 12.7 .1-12.6 .1 13.3 .1-15.2 .1 5.8 .1-2.7 .1-2 .1 5.7 .1 7.9 .1-2.5 .1-1 0 .3 .1-4.1 .1 5.7 .1-12 .1 15.9 .1-15.7 .1 6.9 .1 5.7 .1 2.9 .1-7.1 .1 3 .1 3 0-1.5 .1-4.7 .1 5.5 .1-8.7 .1 3.1 .1-6.5 .1 2.2 .1 12.7 .1 .1 .1-7.1 .1-1.3 .1 6.8 0-.8 .1 4.2 .1-8.7 .1 6.4 .1-12 .1 5.2 .1-8.3 .1 8.6 .1 1 .1 3 .1-8.9 .1 5.6 0-3.5 .1-15.8 .1 20.3 .1 8.6 .1-9.4 .1-7.2 .1 9.4 .1-5.1 .1-18.8 .1 24.5 .1-5 0 .6 .1 7.6 .1-5 .1-14.7 .1 10.6 .1 4.7 .1-8.1 .1 3 .1 5.9 .1-9.7 .1 5.7 .1 1 0-1.9 .1-1.8 .1 7.1 .1-5.1 .1 6.7 .1-10 .1 10.1 .1-1 .1-4.6 .1-16 .1 23.5 .1-24.7 0 7.4 .1 10.9 .1-6.5 .1 10.8 .1 1.4 .1-5 .1-5.7 .1 3.2 .1 2.1 .1-3 .1-6.7 .1 9.7 0-8.7 .1 10.3 .1-17 .1 9.7 .1 6.7 .1-10.2 .1 3.2 .1-8.5 .1 10.5 .1-6.5 .1 9.6 .1-12.8 0-10 .1 16.2 .1 3.8 .1-7.7 .1 3.1 .1-4 .1-.9 .1-3.4 .1 4.1 .1-2.4 .1-4.6 .1 22.5 0-24 .1 3.8 .1 13.2 .1-2.2 .1 1.2 .1-5.7 .1-6 .1-1.4 .1 8.5 .1 6.6 .1-11.9 .1 0 0 18.6 .1-11.2 .1-6.3 .1-2 .1 2.7 .1-.4 .1 17.1 .1-6.2 .1-10.2 .1 2.2 .1 4.3 .1-1 0 2.8 .1-2.7 .1 2.4 .1 1 .1-11 .1 17.8 .1-15.1 .1 9.9 .1 1.5 .1 .9 .1-2.9 .1-6.3 0 4.9 .1 5 .1-5.8 .1-6 .1-5.2 .1 4.2 .1 17.2 .1-9 .1 3.8 .1-6 .1-7.1 .1 .7 0 6.9 .1-3 .1 1.7 .1 .5 .1-3.2 .1-2 .1-1.2 .1 11.1 .1 6 .1-19.7 .1-.7 .1-.3 0 5.6 .1-8.7 .1 9.2 .1-.6 .1 6.9 .1-4.6 .1 .8 .1 4.7 .1-4.2 .1 2.1 .1 5.9 .1 1.1 0-26.4 .1 13.6 .1 3.1 .1-14.1 .1 5.4 .1 14 .1-5.4 .1-.3 .1-2.8 .1 15 .1-8.1 0-1.5 .1-2.6 .1 8.8 .1-18.5 .1 9.4 .1 .6 .1-2.3 .1-5.7 .1 0 .1 1.5 .1 4.9 .1 .1 0-9.2 .1 13.3 .1 1 .1 0 .1-10.5 .1 4.6 .1 13.1 .1-11.2 .1-5 .1 1.1 .1 18.2 .1-12.9 0-15.8 .1 23.4 .1 2 .1-23.6 .1 14.2 .1-2.3 .1 4.8 .1-9.2 .1 13.5 .1-2.9 .1-5.5 .1 2 0 9.2 .1-8.2 .1 3.5 .1-6.5 .1 1.6 .1 10.2 .1-8.7 .1-13.2 .1 5.7 .1 5.1 .1-5.1 .1 1.8 0 11.2 .1-15.1 .1 17.5 .1-20.4 .1 3.1 .1 13.4 .1-10.8 .1-6.9 .1 3.3 .1-2.5 .1 10.1 .1-22.2 0 28.3 .1-11.7 .1 4.4 .1 1.6 .1-12.7 .1 12.9 .1-2.7 .1-3.4 .1 .4 .1 9 .1-4.8 .1 9.1 0-14 .1 .1 .1 8.1 .1-6.6 .1 3.8 .1-12.7 .1 3.3 .1 12.2 .1-2.4 .1 6.7 .1-6.9 .1 12.2 0-6.6 .1 5.6 .1-11.4 .1 4.3 .1-6.2 .1 11.4 .1-14.4 .1 1.2 .1 4.7 .1 9.6 .1-9.7 .1-5.5 0 11 .1-11.9 .1 19.3 .1-15.2 .1 7.3 .1-2.4 .1 1.5 .1-3.9 .1 .5 .1 6.9 .1-6.1 .1 2.8 0 2.4 .1 5.8 .1-7.5 .1-4.6 .1 .5 .1 11.7 .1-.8 .1-7.5 .1-13 .1 2.5 .1-1 .1 7 0-11.8 .1 5.4 .1 1.3 .1 1.1 .1 1.5 .1 12.3 .1 3.5 .1-19.4 .1 9.4 .1-11 .1 1.7 .1 9.9 0-4.1 .1 12.1 .1-20.4 .1-.7 .1-4.4 .1 16.3 .1-1.1 .1-1.3 .1-3.2 .1 18.2 .1-22.6 0 20.4 .1-1.3 .1-12.9 .1-7.4 .1 13.2 .1 4.2 .1 3.5 .1-9.7 .1-9.7 .1 2.7 .1 15.9 .1-8.8 0-2.6 .1 3.5 .1-16.1 .1 12.6 .1-4.2 .1 2.5 .1-16.3 .1 18.3 .1 10.9 .1-13.2 .1-2.4 .1 .2 0 8 .1-11.3 .1 7 .1 2 .1 11.7 .1-10.1 .1-6.9 .1-12 .1 21.3 .1-15.5 .1 19 .1-11.6 0 7.9 .1-5.1 .1 2.1 .1-1.9 .1-8.2 .1 13 .1-15.1 .1 15.2 .1-20 .1 16.1 .1-17.3 .1 15.2 0 11.8 .1-18.9 .1 12.8 .1-1.4 .1-4 .1-.3 .1 13.3 .1-13.2 .1 3.2 .1-5.4 .1-1.1 .1 2.9 0-1.9 .1 .1 .1-.6 .1 9.1 .1-4.9 .1-7.6 .1-3.2 .1 3.4 .1 1.2 .1 4.1 .1-8.5 .1 9.4 0-7.5 .1 2.6 .1 7.9 .1-4.7 .1-10.5 .1 8.6 .1-3.8 .1 2 .1-10.7 .1 7.1 .1-6.5 .1 16.8 0-14.1 .1-2.5 .1 14.5 .1 2.7 .1-10.2 .1 12.7 .1-8.1 .1 7.2 .1 2.5 .1-11.4 .1 4.7 .1-6.3 0 10.5 .1-10.7 .1 10.5 .1-12.4 .1 6.8 .1-1.1 .1 .2 .1 5.2 .1-2 .1-3.2 .1-1.3 .1 1.7 0-19.1 .1 15.4 .1 14.3 .1-19.3 .1 19.1 .1 4.1 .1-3.4 .1 4 .1-7.8 .1-5.8 .1 7.2 .1-19.9 0 15.8 .1-8.3 .1-.2 .1-5.6 .1 6.4 .1 12.1 .1-15.7 .1 12 .1-8.6 .1-7.4 .1 .1 .1 16.3 0-2.6 .1-2.7 .1-6.6 .1 2.8 .1 6.2 .1 6.8 .1 2.1 .1-14.6 .1 3.9 .1-.7 .1 3.8 0-8 .1 5.7 .1-4.8 .1 2.9 .1 6.3 .1-5.5 .1 2.9 .1 2.9 .1-3.5 .1 3.1 .1-16.1 .1 10.1 0-2.3 .1-3 .1-9.3 .1 18.3 .1 2.3 .1-10.4 .1 11.2 .1 .5 .1-4.2 .1 3.6 .1 4.4 .1-1.1 0-7.2 .1 5.4 .1-19.3 .1 7.5 .1 6.5 .1-6.8 .1 0 .1 22.5 .1-13.1 .1-.4 .1-14 .1 .9 0 9.4 .1-7.9 .1 20.1 .1-16.8 .1 19.4 .1-14.9 .1 1.8 .1 9.2 .1 6 .1-19.7 .1-4.9 .1 20.8 0-25.7 .1 20.9 .1-5.9 .1-5.3 .1 2.4 .1 1.3 .1-3.3 .1 7.3 .1-1 .1-9.6 .1-.4 .1 12.1 0-7.4 .1 .3 .1 2.1 .1 6.9 .1-6.9 .1-4.1 .1 .3 .1 5.8 .1-10 .1 15.5 .1 .6 .1-.5 0 16.2 .1-14 .1 1.9 .1-4.8 .1-15.8 .1 21.4 .1-1.2 .1-.9 .1-1.5 .1-16.4 .1 6.3 .1-5.7 0 8.8 .1 .2 .1-3.5 .1 1.2 .1-7.7 .1 9.8 .1-2.2 .1-3.9 .1-13.5 .1 9.4 .1 10.7 .1 4.1 0-2.3 .1 1.9 .1-11.5 .1 11.1 .1-6.1 .1 7.3 .1-15.5 .1 1.1 .1 7.8 .1 8.4 .1-10.2 .1 17.9 0-15.4 .1-2.4 .1 4 .1 9 .1-13.6 .1 4.7 .1 0 .1-6.5 .1 11.7 .1-3.8 .1-13.5 .1 19 0 12.5 .1-18.2 .1-.3 .1 2.9 .1 2.1 .1-5.8 .1-9 .1 7.5 .1 1 .1-12.7 .1 22.3 .1-13.5 0 8.2 .1-9.5 .1 10.9 .1 11.6 .1-18.4 .1-5.2 .1-2.2 .1 .5 .1 3.1 .1 2.8 .1-1.8 0 1.9 .1 2.1 .1 21.1 .1-23.5 .1-7.1 .1 1.6 .1-5.2 .1 19.2 .1 5.5 .1-7.2 .1-1.7 .1 7 0-16.9 .1 1.9 .1 4.3 .1-9.1 .1 1.5 .1 10.6 .1 8.5 .1-11.6 .1 2.9 .1-3.1 .1-1 .1-2 0 13.2 .1-22.6 .1 21.8 .1-14 .1 13 .1-13.5 .1-7.7 .1 7.4 .1 .7 .1-1.2 .1 5.2 .1-6.5 0-1.6 .1 4.1 .1 2.6 .1 5.9 .1-4.6 .1 7.2 .1-8.5 .1 1.9 .1-2.3 .1 1.3 .1 6.5 .1-13.2 0-5.5 .1 7.3 .1-2 .1 2.3 .1 4.8 .1-1 .1-6.8 .1 14 .1-16 .1 12.2 .1-9.7 .1 6.8 0-10.7 .1 8 .1 .9 .1 4.9 .1-3.6 .1 1.4 .1 3.3 .1-2.7 .1 4.8 .1-8 .1-.7 .1 2.3 0 4 .1-5.3 .1 7.2 .1-4.8 .1-5.9 .1-2.8 .1 6.5 .1 1 .1-7.3 .1 2.3 .1 .1 .1 4.3 0-12.8 .1 6.3 .1 11.9 .1-18.6 .1 5.3 .1 18.1 .1-10.3 .1 4.1 .1-5.4 .1 6.2 .1 1.9 .1-17.2 0 8 .1-.7 .1-5.8 .1 4.8 .1 4.4 .1-1.1 .1-6.2 .1 9.8 .1-3.9 .1 11.4 .1 1.5 .1-20.7 0-9.2 .1 17.4 .1-5.2 .1 .5 .1 5.4 .1-3.5 .1 2.3 .1 5.5 .1 .1 .1-6.5 .1 10.4 .1-2 0-3.8 .1 12.9 .1-17.8 .1 5.4 .1-10.9 .1-.3 .1 6.3 .1-4.3 .1 8.5 .1 4.3 .1 3.7 .1-3.9 0 2.5 .1 .1 .1-12 .1 15.1 .1-10.3 .1 3.3 .1-7.7 .1 15.2 .1-5.6 .1-2.3 .1-9.9 0 5 .1-3.7 .1 13.5 .1 0 .1 9.7 .1-19.6 .1-6.7 .1 2.4 .1 1.9 .1 3.1 .1-3.2 .1-5.9 0 16.6 .1-4.5 .1 1.8 .1-5.6 .1-11.6 .1 7.8 .1 .2 .1 23.4 .1-24.2 .1 9.1 .1-7 .1 4 0 5.1 .1-7.9 .1 3.1 .1 9.4 .1-12 .1-2.4 .1 3.5 .1-6.7 .1-.6 .1 16 .1-1.5 .1-8.1 0-.4 .1-4.3 .1-.5 .1 17.7 .1-12.7 .1-9.5 .1 3.4 .1 12 .1-.2 .1-16.8 .1-1.6 .1 5.4 0 17.5 .1-5.1 .1-12.6 .1-5.1 .1 13.9 .1-1.3 .1-1.7 .1 5.6 .1 3.1 .1-5.6 .1-8.9 .1 4 0-6.3 .1 8.9 .1-1.6 .1-.7 .1 2.4 .1 2.6 .1 7.1 .1-14.3 .1 1.1 .1 7 .1-7 .1 5.1 0-2 .1 5.7 .1 4.9 .1-10.5 .1 4.4 .1 2.9 .1 2.4 .1-14.8 .1 5 .1 6.6 .1-7.7 .1 5.1 0 4.1 .1-1.1 .1-11.2 .1 1.6 .1-6.7 .1 8.1 .1 10.4 .1-15.3 .1 7.4 .1-5.8 .1 1.1 .1 3.7 0 2 .1 2.4 .1-4.3 .1-5.7 .1 20.9 .1-14.1 .1-2.8 .1-.1 .1 17.5 .1-19.1 .1-16.3 .1 15.9 0-17.2 .1 15.7 .1 .1 .1 10.9 .1-11.1 .1 3.5 .1 7.5 .1 3.2 .1-9.4 .1 12 .1-12.1 .1 4.2 0 7.5 .1-2.3 .1-10.6 .1 11.7 .1-12.2 .1-6.2 .1-3.5 .1 17.9 .1-7.7 .1 12.4 .1-16.9 .1 10.2 0-6.9 .1-3.4 .1 4.7 .1-4.6 .1 15.4 .1-11.2 .1-2.7 .1 6.1 .1 5.9 .1-6.2 .1-5.8 0-4.4 .1 10.5 .1 10.2 .1-11.7 .1-6.2 .1 22.5 .1-22.7 .1 13.5 .1-8.9 .1 15.6 .1-8 .1-5.9 0 4.8 .1 3.3 .1 2.2 .1-5.8 .1-2.4 .1-5.3 .1 8.3 .1-8.1 .1 7 .1 1.1 .1-9.1 .1 6.8 0 1.1 .1 6 .1-16 .1 5.2 .1 3.6 .1 .4 .1-3 .1-.7 .1 3.3 .1-10.7 .1 12.8 .1-11.6 0 12 .1-.7 .1-10.1 .1 9.2 .1-6.9 .1 13.8 .1-3.7 .1-12.4 .1 3.4 .1-2.7 .1 17.2 .1-17.2 0-2.4 .1 4.6 .1-4.1 .1-3.7 .1 12.8 .1 3.6 .1-11.7 .1-3.4 .1-4.1 .1 20.2 .1-2.9 .1 3.6 0-1.3 .1-2.3 .1-1.8 .1-1.7 .1 1.4 .1 11 .1-14.5 .1 .9 .1-.4 .1 8.3 .1 14.6 .1-26.3 0 13.6 .1-16.4 .1 7.3 .1-3.5 .1-4.8 .1 19.2 .1-9.3 .1-6 .1 8.9 .1-2.9 .1-1.1 .1 .5 0 1.1 .1 3.2 .1-13.2 .1 11.3 .1-8 .1 11.5 .1 .3 .1-2.6 .1 8.7 .1-23 .1 10.1 .1 8.4 0 .5 .1-8.4 .1-5.5 .1-5 .1 1.7 .1 11.1 .1 9.9 .1-23.2 .1 14.2 .1 6.4 .1-5 .1-11.7 0 15 .1-8.6 .1 8.3 .1 1.8 .1-9.1 .1-13.6 .1 6.4 .1 6.1 .1-8.4 .1 13.7 .1-2.9 .1 4.3 0 3.4 .1-5.7 .1 9.2 .1-6.3 .1-3.5 .1-12.7 .1 12.4 .1-4.8 .1-4.8 .1 8.3 .1-3 .1 7.2 0-1.5 .1-5.1 .1 3.4 .1 6 .1-.3 .1-9.9 .1-10.9 .1 7.4 .1-9.6 .1 7.8 .1 16.4 0 4.1 .1-11.7 .1-6.5 .1 26.7 .1-17.3 .1 .9 .1-3.3 .1-7.7 .1 18.6 .1-1.4 .1 2.4 .1-11 0-6.6 .1 5.5 .1 1.6 .1 4.7 .1 2.4 .1-6.1 .1-.4 .1-12.5 .1 13.7 .1-5 .1 6.2 .1-.7 0-4 .1-.5 .1 .2 .1 1 .1 8.3 .1 6.3 .1-.7 .1-10.5 .1-3.8 .1 5.6 .1 1.3 .1-6.7 0 11.8 .1-2.9 .1 2 .1-16.2 .1-6.5 .1 16.1 .1-5.1 .1-1.8 .1 5.4 .1 1.8 .1-5.3 .1 .3 0 7.3 .1-3.3 .1-6.8 .1-6.5 .1 9.2 .1-2 .1-5.1 .1 11.5 .1-7.7 .1 4.3 .1-5.2 .1 10.7 0-.6 .1-12.9 .1 6.7 .1-3.5 .1 20.7 .1-15.2 .1-4.1 .1 8.3 .1-2.5 .1-11.1 .1 13 .1-15.2 0 .9 .1 15.9 .1-8.3 .1-3.1 .1 10.1 .1-2.8 .1 3 .1 3.4 .1 3.1 .1-10.9 .1 9.8 .1-9.1 0-1.1 .1 5.7 .1-19.4 .1 20.1 .1-8.5 .1 3.8 .1 8.1 .1-3.2 .1 5.5 .1-14.7 .1 3 .1-3.1 0 .6 .1 3.3 .1 3.1 .1-5.9 .1-6.4 .1 .3 .1 27.2 .1-18.3 .1-11.7 .1 11.7 .1-4.4 .1-.4 0 3.4 .1 2.9 .1-4.7 .1 11.8 .1-6.3 .1 3.5 .1 3.5 .1-16.9 .1 1.5 .1 3.4 .1-6.5 .1-11.6 0 17.2 .1 6.3 .1 9.1 .1-13.5 .1-3.8 .1 14.5 .1-.6 .1-3.1 .1-12.5 .1 7.1 .1 1.5 .1 1.7 0-1.7 .1-11.6 .1 5.5 .1 9.4 .1-11.7 .1 4 .1-.2 .1-3.4 .1 4.4 .1-3.4 .1-2.3 0 .5 .1 2.6 .1-4 .1-.1 .1 16.7 .1-11.4 .1-8.3 .1 9.9 .1 5.8 .1-11.8 .1 8 .1-4.2 0 3.7 .1-1.8 .1-2.1 .1-.8 .1 3.9 .1-14.2 .1 7.8 .1-7 .1-.3 .1 11.9 .1-1.3 .1 4.1 0-13.1 .1 .9 .1 11.9 .1-10.5 .1 20.1 .1-9.3 .1-11.9 .1 20.7 .1-20.5 .1 17.5 .1-4.9 .1-5.3 0-5.3 .1 7.7 .1-2.4 .1-9.8 .1 9.3 .1 17.3 .1-31.6 .1 17.5 .1 .2 .1-.2 .1 2.1 .1 .4 0 3.9 .1-7.8 .1-1 .1-1.8 .1-10.2 .1 12.1 .1-8.1 .1 1.1 .1 7.7 .1 1.5 .1-1.9 .1 6.7 0 2.8 .1 2.1 .1-7.9 .1 5 .1-17.6 .1-4.4 .1 10.9 .1 19.5 .1-8.4 .1-12.1 .1-3.7 .1 3.3 0 4.5 .1-7.1 .1 18.5 .1-11.6 .1-4.4 .1 17.5 .1-18.7 .1 12.7 .1-9.2 .1-1.6 .1 3.5 .1 2.7 0 2.2 .1-10.3 .1 7.9 .1 15.6 .1-19.5 .1 .4 .1 6.2 .1 .1 .1 .4 .1-8.8 .1 15.3 .1-20.2 0 14.5 .1-1.1 .1 7.7 .1 1.5 .1-12.5 .1 2.7 .1 5.3 .1-15 .1 5.7 .1 8.7 .1-10.8 .1-1 0 9.3 .1-10.4 .1 17.6 .1 4.8 .1-16.8 .1 22.2 .1-13.4 .1-4.9 .1 2.7 .1 4.1 .1-3.3 .1-8.5 0 4.7 .1-11.6 .1 18.3 .1-2.1 .1-5.5 .1-.5 .1-4.2 .1 6.6 .1-.1 .1 3.8 .1-11.9 .1 31 0-14.4 .1-5.7 .1-9.5 .1 10.3 .1 .2 .1-6.5 .1 1 .1 15.2 .1-12.8 .1 2.3 .1 5.5 0-29 .1 23.6 .1-3 .1-6.6 .1-9.8 .1 10.4 .1 5 .1-21.5 .1 19.2 .1-8.3 .1 2 .1-5.1 0 4.9 .1 10.5 .1-15.5 .1 5.2 .1 8.4 .1-9.2 .1 1.3 .1-2.3 .1 1.4 .1 .4 .1-1.6 .1 7.9 0-1.7 .1-10 .1-4.2 .1 20.7 .1-17.8 .1 5.1 .1 6.4 .1-8.7 .1 6.2 .1-5.7 .1 10.9 .1-4.6 0 1.2 .1 2.2 .1-15.2 .1 15.3 .1-5.5 .1 7.4 .1-8.8 .1-3.9 .1 17.4 .1-15.1 .1 11.3 .1-14.1 0 6.8 .1-3.4 .1 6.3 .1-3.7 .1 2.1 .1-10.6 .1 18 .1-6.6 .1-2.7 .1 15.2 .1-10.5 .1 4.6 0-9 .1 4.5 .1 3.5 .1-3.6 .1 3.1 .1-9.8 .1 5.2 .1-6.3 .1-3.7 .1 7.1 .1 8.4 .1 .3 0-10.1 .1-.7 .1-7.7 .1 10.5 .1-1.2 .1 10.6 .1-8.9 .1 6.3 .1-4.5 .1-8.7 .1 9.3 .1-3.1 0 5.5 .1-1.2 .1 7.9 .1-7 .1-1.5 .1-4.4 .1 .6 .1 2.9 .1 3.8 .1-.3 .1-4.6 .1 6.3 0-5.3 .1-5.8 .1 4.4 .1 3.6 .1-4.7 .1-8 .1 4.9 .1 1.4 .1 5.5 .1-9.8 .1 3.7 .1-4.1 0 15.5 .1-10.3 .1 4.3 .1-1.2 .1-5 .1 7.9 .1-17.3 .1 1.8 .1 3.4 .1 4.3 .1-10.5 .1 15.3 0 8.5 .1-5.9 .1-5 .1-10 .1 6.3 .1 .5 .1 7.2 .1-1.2 .1-4.3 .1-8.2 .1 14.3 .1-11.8-608.8-331.7 0 18.9 43 425.6 153.8 13.6" fill="none" stroke="none" marker-start="url(#mo)" marker-mid="url(#mo)" marker-end="url(#mo)"/>
<path d="M140.3 779.5v-7.9M140.3 64.5v7.9M207.2 779.5v-7.9M207.2 64.5v7.9M274.1 779.5v-7.9M274.1 64.5v7.9M341.1 779.5v-7.9M341.1 64.5v7.9M408.0 779.5v-7.9M408.0 64.5v7.9M474.9 779.5v-7.9M474.9 64.5v7.9M541.8 779.5v-7.9M541.8 64.5v7.9M608.7 779.5v-7.9M608.7 64.5v7.9M675.7 779.5v-7.9M675.7 64.5v7.9M742.6 779.5v-7.9M742.6 64.5v7.9M809.5 779.5v-7.9M809.5 64.5v7.9M876.4 779.5v-7.9M876.4 64.5v7.9M131.5 775.3h7.9M919.5 775.3h-7.9M131.5 601.8h7.9M919.5 601.8h-7.9M131.5 428.4h7.9M919.5 428.4h-7.9M131.5 254.9h7.9M919.5 254.9h-7.9M131.5 81.4h7.9M919.5 81.4h-7.9" stroke="#262626" stroke-width="1" fill="none"/>
<rect x="131.5" y="64.5" width="788.0" height="715.0" fill="none" stroke="#262626" stroke-width="1"/>
<g font-size="22" fill="#262626"><text x="140.0" y="807.9" text-anchor="middle" textLength="51.5" lengthAdjust="spacingAndGlyphs">2003</text><text x="206.9" y="807.9" text-anchor="middle" textLength="51.5" lengthAdjust="spacingAndGlyphs">2005</text><text x="273.8" y="807.9" text-anchor="middle" textLength="51.5" lengthAdjust="spacingAndGlyphs">2007</text><text x="340.8" y="807.9" text-anchor="middle" textLength="51.5" lengthAdjust="spacingAndGlyphs">2009</text><text x="407.7" y="807.9" text-anchor="middle" textLength="51.5" lengthAdjust="spacingAndGlyphs">2011</text><text x="474.6" y="807.9" text-anchor="middle" textLength="51.5" lengthAdjust="spacingAndGlyphs">2013</text><text x="541.5" y="807.9" text-anchor="middle" textLength="51.5" lengthAdjust="spacingAndGlyphs">2015</text><text x="608.4" y="807.9" text-anchor="middle" textLength="51.5" lengthAdjust="spacingAndGlyphs">2017</text><text x="675.4" y="807.9" text-anchor="middle" textLength="51.5" lengthAdjust="spacingAndGlyphs">2019</text><text x="742.3" y="807.9" text-anchor="middle" textLength="51.5" lengthAdjust="spacingAndGlyphs">2021</text><text x="809.2" y="807.9" text-anchor="middle" textLength="51.5" lengthAdjust="spacingAndGlyphs">2023</text><text x="876.1" y="807.9" text-anchor="middle" textLength="51.5" lengthAdjust="spacingAndGlyphs">2025</text><text x="120.6" y="783.2" text-anchor="end" textLength="45" lengthAdjust="spacingAndGlyphs">0.05</text><text x="122.1" y="609.7" text-anchor="end" textLength="31" lengthAdjust="spacingAndGlyphs">0.1</text><text x="120.6" y="436.2" text-anchor="end" textLength="45" lengthAdjust="spacingAndGlyphs">0.15</text><text x="122.1" y="262.8" text-anchor="end" textLength="31" lengthAdjust="spacingAndGlyphs">0.2</text><text x="120.6" y="89.3" text-anchor="end" textLength="45" lengthAdjust="spacingAndGlyphs">0.25</text></g>
<text transform="translate(63.4 422.9) rotate(-90)" text-anchor="middle" font-size="23.2" textLength="437.5" lengthAdjust="spacingAndGlyphs" fill="#262626">Noise Equivalent Delta Temperature (K)</text>
<g font-weight="bold" font-size="22.5" fill="#000" text-anchor="middle">
<text x="524.7" y="22.8" textLength="401" lengthAdjust="spacingAndGlyphs">AIRS Channel 1068 NEdT (@250K)</text>
<text x="525.6" y="54.5" textLength="277" lengthAdjust="spacingAndGlyphs">[M–06, 1030.074 cm–1]</text>
</g>
<rect x="935.5" y="64.5" width="136" height="78.3" fill="#fff" stroke="#262626" stroke-width="1"/>
<path d="M970.4 75L980.4 85M980.4 75L970.4 85" stroke="#00ff00" stroke-width="1.2"/>
<path d="M968.9 104.1H981.9M975.4 97.6V110.6" stroke="#ff0000" stroke-width="1.2"/>
<circle cx="975.2" cy="127.9" r="6.3" stroke="#0000ff" stroke-width="1.2" fill="none"/>
<g font-size="18" fill="#000">
<text x="1013" y="87.8" textLength="49.5" lengthAdjust="spacingAndGlyphs">Mean</text>
<text x="1013" y="110.8" textLength="38.5" lengthAdjust="spacingAndGlyphs">Max</text>
<text x="1013" y="134.6" textLength="33.3" lengthAdjust="spacingAndGlyphs">Min</text>
</g>
<g>
<circle cx="935.9" cy="25.8" r="20.8" fill="#1d3c98"/>
<g fill="#fff" opacity="0.85">
<circle cx="928" cy="11" r="0.7"/><circle cx="941" cy="9" r="0.6"/><circle cx="922" cy="18" r="0.6"/><circle cx="949" cy="14" r="0.5"/><circle cx="925" cy="36" r="0.6"/><circle cx="947" cy="38" r="0.7"/><circle cx="936" cy="42" r="0.6"/><circle cx="920" cy="30" r="0.5"/><circle cx="951" cy="33" r="0.5"/>
</g>
<path d="M924.5 12.5C930 13 936 20 938.5 26C940 30 939.5 34 937 34.5" stroke="#fff" stroke-width="0.9" fill="none" opacity="0.9"/>
<path d="M912.5 31.5C924 27 933 23 941 19.5C949 16 957 12 964 8.3C960 15.5 954 21.5 946 25.5C937 29 925 31 912.5 31.5Z" fill="#e03a2c"/>
<text x="918.6" y="29.6" font-size="10.4" font-weight="bold" fill="#fff" textLength="35.8" lengthAdjust="spacingAndGlyphs">NASA</text>
</g>
<text x="966" y="24.7" font-size="13" font-weight="bold" textLength="175.5" lengthAdjust="spacingAndGlyphs">Jet Propulsion Laboratory</text>
<text x="966.3" y="37.6" font-size="10.8" textLength="174" lengthAdjust="spacingAndGlyphs">California Institute of Technology</text>
</svg>
</body></html>
